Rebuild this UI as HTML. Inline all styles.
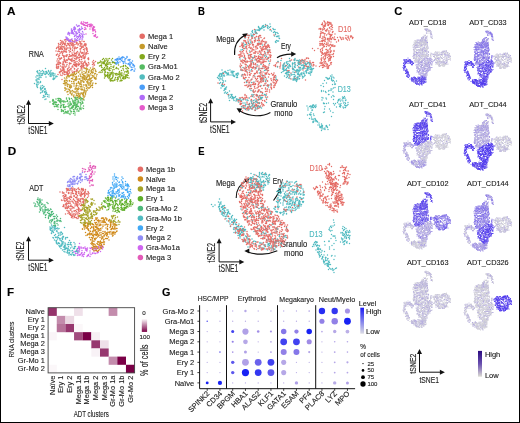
<!DOCTYPE html><html><head><meta charset="utf-8"><style>
html,body{margin:0;padding:0;background:#fff;width:520px;height:423px;overflow:hidden}
svg{display:block;font-family:"Liberation Sans", sans-serif;will-change:transform}
text{stroke:currentColor;stroke-width:0.12px}
</style></head><body>
<svg width="520" height="423" viewBox="0 0 520 423">
<rect x="0" y="0" width="520" height="423" fill="#fff"/>
<text x="7.0" y="14.9" font-size="11" fill="#000" color="#000" font-weight="bold" textLength="8.5" lengthAdjust="spacingAndGlyphs">A</text>
<text x="198.1" y="15.0" font-size="11" fill="#000" color="#000" font-weight="bold" textLength="6.9" lengthAdjust="spacingAndGlyphs">B</text>
<text x="394.3" y="14.5" font-size="11" fill="#000" color="#000" font-weight="bold" textLength="8.1" lengthAdjust="spacingAndGlyphs">C</text>
<text x="7.7" y="155.4" font-size="11" fill="#000" color="#000" font-weight="bold" textLength="8.5" lengthAdjust="spacingAndGlyphs">D</text>
<text x="198.3" y="155.0" font-size="11" fill="#000" color="#000" font-weight="bold" textLength="6.3" lengthAdjust="spacingAndGlyphs">E</text>
<text x="7.1" y="296.0" font-size="11" fill="#000" color="#000" font-weight="bold" textLength="7.1" lengthAdjust="spacingAndGlyphs">F</text>
<text x="162.0" y="296.0" font-size="11" fill="#000" color="#000" font-weight="bold" textLength="8.4" lengthAdjust="spacingAndGlyphs">G</text>
<path d="M28.5 123.5V103.8M28.5 123.5H49.8" stroke="#111" stroke-width="1"/>
<path d="M26.0 104.8L28.5 99.8L31.0 104.8Z" fill="#111"/>
<path d="M48.8 121.0L53.8 123.5L48.8 126.0Z" fill="#111"/>
<text x="24.6" y="114.7" font-size="10.0" text-anchor="middle" fill="#222" color="#222" textLength="19.2" lengthAdjust="spacingAndGlyphs" transform="rotate(-90 24.6 114.7)">tSNE2</text>
<text x="28.3" y="133.8" font-size="10.0" fill="#222" color="#222" textLength="19.1" lengthAdjust="spacingAndGlyphs">tSNE1</text>
<path d="M210.6 121.9V102.3M210.6 121.9H232.0" stroke="#111" stroke-width="1"/>
<path d="M208.1 103.3L210.6 98.3L213.1 103.3Z" fill="#111"/>
<path d="M231.0 119.4L236.0 121.9L231.0 124.4Z" fill="#111"/>
<text x="206.5" y="113.0" font-size="10.0" text-anchor="middle" fill="#222" color="#222" textLength="20.1" lengthAdjust="spacingAndGlyphs" transform="rotate(-90 206.5 113.0)">tSNE2</text>
<text x="210.0" y="132.6" font-size="10.0" fill="#222" color="#222" textLength="19.6" lengthAdjust="spacingAndGlyphs">tSNE1</text>
<path d="M28.5 260.2V240.3M28.5 260.2H49.8" stroke="#111" stroke-width="1"/>
<path d="M26.0 241.3L28.5 236.3L31.0 241.3Z" fill="#111"/>
<path d="M48.8 257.7L53.8 260.2L48.8 262.7Z" fill="#111"/>
<text x="24.0" y="251.0" font-size="10.0" text-anchor="middle" fill="#222" color="#222" textLength="19.1" lengthAdjust="spacingAndGlyphs" transform="rotate(-90 24.0 251.0)">tSNE2</text>
<text x="28.3" y="270.6" font-size="10.0" fill="#222" color="#222" textLength="19.1" lengthAdjust="spacingAndGlyphs">tSNE1</text>
<path d="M219.1 261.9V242.3M219.1 261.9H240.3" stroke="#111" stroke-width="1"/>
<path d="M216.6 243.3L219.1 238.3L221.6 243.3Z" fill="#111"/>
<path d="M239.3 259.4L244.3 261.9L239.3 264.4Z" fill="#111"/>
<text x="215.3" y="252.7" font-size="10.0" text-anchor="middle" fill="#222" color="#222" textLength="19.5" lengthAdjust="spacingAndGlyphs" transform="rotate(-90 215.3 252.7)">tSNE2</text>
<text x="218.7" y="271.9" font-size="10.0" fill="#222" color="#222" textLength="19.7" lengthAdjust="spacingAndGlyphs">tSNE1</text>
<path d="M419.5 372.2V352.9M419.5 372.2H440.9" stroke="#111" stroke-width="1"/>
<path d="M417.0 353.9L419.5 348.9L422.0 353.9Z" fill="#111"/>
<path d="M439.9 369.7L444.9 372.2L439.9 374.7Z" fill="#111"/>
<text x="416.0" y="363.6" font-size="9.0" text-anchor="middle" fill="#222" color="#222" textLength="20.1" lengthAdjust="spacingAndGlyphs" transform="rotate(-90 416.0 363.6)">tSNE2</text>
<text x="419.5" y="382.6" font-size="9.0" fill="#222" color="#222" textLength="19.5" lengthAdjust="spacingAndGlyphs">tSNE1</text>
<text x="28.8" y="56.7" font-size="8.4" fill="#1a1a1a" color="#1a1a1a" textLength="15.0" lengthAdjust="spacingAndGlyphs">RNA</text>
<circle cx="142.2" cy="36.3" r="2.75" fill="#E46C66"/>
<text x="148.1" y="38.7" font-size="7.5" fill="#1a1a1a" color="#1a1a1a">Mega 1</text>
<circle cx="142.2" cy="46.5" r="2.75" fill="#C59A2B"/>
<text x="148.1" y="48.9" font-size="7.5" fill="#1a1a1a" color="#1a1a1a">Naïve</text>
<circle cx="142.2" cy="56.7" r="2.75" fill="#83A81D"/>
<text x="148.1" y="59.1" font-size="7.5" fill="#1a1a1a" color="#1a1a1a">Ery 2</text>
<circle cx="142.2" cy="66.9" r="2.75" fill="#55BB62"/>
<text x="148.1" y="69.3" font-size="7.5" fill="#1a1a1a" color="#1a1a1a">Gra-Mo1</text>
<circle cx="142.2" cy="77.1" r="2.75" fill="#52BCBE"/>
<text x="148.1" y="79.5" font-size="7.5" fill="#1a1a1a" color="#1a1a1a">Gra-Mo 2</text>
<circle cx="142.2" cy="87.3" r="2.75" fill="#4A9DF8"/>
<text x="148.1" y="89.7" font-size="7.5" fill="#1a1a1a" color="#1a1a1a">Ery 1</text>
<circle cx="142.2" cy="97.5" r="2.75" fill="#B06BF8"/>
<text x="148.1" y="99.9" font-size="7.5" fill="#1a1a1a" color="#1a1a1a">Mega 2</text>
<circle cx="142.2" cy="107.7" r="2.75" fill="#E55BCB"/>
<text x="148.1" y="110.1" font-size="7.5" fill="#1a1a1a" color="#1a1a1a">Mega 3</text>
<text x="29.3" y="191.2" font-size="8.4" fill="#1a1a1a" color="#1a1a1a" textLength="14.1" lengthAdjust="spacingAndGlyphs">ADT</text>
<circle cx="140.4" cy="169.3" r="2.75" fill="#E46C66"/>
<text x="146.1" y="171.7" font-size="7.5" fill="#1a1a1a" color="#1a1a1a">Mega 1b</text>
<circle cx="140.4" cy="179.1" r="2.75" fill="#D08A1A"/>
<text x="146.1" y="181.5" font-size="7.5" fill="#1a1a1a" color="#1a1a1a">Naïve</text>
<circle cx="140.4" cy="188.9" r="2.75" fill="#A5A226"/>
<text x="146.1" y="191.3" font-size="7.5" fill="#1a1a1a" color="#1a1a1a">Mega 1a</text>
<circle cx="140.4" cy="198.7" r="2.75" fill="#5DAE28"/>
<text x="146.1" y="201.1" font-size="7.5" fill="#1a1a1a" color="#1a1a1a">Ery 1</text>
<circle cx="140.4" cy="208.5" r="2.75" fill="#4DB87A"/>
<text x="146.1" y="210.9" font-size="7.5" fill="#1a1a1a" color="#1a1a1a">Gra-Mo 2</text>
<circle cx="140.4" cy="218.3" r="2.75" fill="#4FBAC0"/>
<text x="146.1" y="220.7" font-size="7.5" fill="#1a1a1a" color="#1a1a1a">Gra-Mo 1b</text>
<circle cx="140.4" cy="228.1" r="2.75" fill="#40A8F5"/>
<text x="146.1" y="230.5" font-size="7.5" fill="#1a1a1a" color="#1a1a1a">Ery 2</text>
<circle cx="140.4" cy="237.9" r="2.75" fill="#8F8CF5"/>
<text x="146.1" y="240.3" font-size="7.5" fill="#1a1a1a" color="#1a1a1a">Mega 2</text>
<circle cx="140.4" cy="247.7" r="2.75" fill="#CF66F0"/>
<text x="146.1" y="250.1" font-size="7.5" fill="#1a1a1a" color="#1a1a1a">Gra-Mo1a</text>
<circle cx="140.4" cy="257.5" r="2.75" fill="#E35BB8"/>
<text x="146.1" y="259.9" font-size="7.5" fill="#1a1a1a" color="#1a1a1a">Mega 3</text>
<text x="216.2" y="42.0" font-size="8.4" fill="#1a1a1a" color="#1a1a1a" textLength="18.4" lengthAdjust="spacingAndGlyphs">Mega</text>
<text x="281.0" y="48.6" font-size="8.4" fill="#1a1a1a" color="#1a1a1a" textLength="9.9" lengthAdjust="spacingAndGlyphs">Ery</text>
<text x="270.4" y="107.0" font-size="8.4" fill="#1a1a1a" color="#1a1a1a" textLength="26.9" lengthAdjust="spacingAndGlyphs">Granulo</text>
<text x="274.2" y="115.8" font-size="8.4" fill="#1a1a1a" color="#1a1a1a" textLength="18.5" lengthAdjust="spacingAndGlyphs">mono</text>
<text x="337.9" y="31.7" font-size="8.4" fill="#E46C66" color="#E46C66" textLength="13.6" lengthAdjust="spacingAndGlyphs">D10</text>
<text x="337.7" y="91.5" font-size="8.4" fill="#4FBAC0" color="#4FBAC0" textLength="13.1" lengthAdjust="spacingAndGlyphs">D13</text>
<path d="M234.6 55C234 46 238 39 244.5 35.5" fill="none" stroke="#111" stroke-width="1.1"/>
<path d="M247.7 33.2L245.1 38.2L242.1 33.9Z" fill="#111"/>
<path d="M277 57.7C281 55 286 54 292 54.1" fill="none" stroke="#111" stroke-width="1.1"/>
<path d="M296.2 54.1L291.2 56.7L291.2 51.5Z" fill="#111"/>
<path d="M270.4 112.4C262 117 250 117 240 111" fill="none" stroke="#111" stroke-width="1.1"/>
<path d="M236.5 108.2L242.1 108.4L239.5 113.0Z" fill="#111"/>
<text x="216.0" y="185.6" font-size="8.4" fill="#1a1a1a" color="#1a1a1a" textLength="18.9" lengthAdjust="spacingAndGlyphs">Mega</text>
<text x="272.8" y="183.6" font-size="8.4" fill="#1a1a1a" color="#1a1a1a" textLength="10.2" lengthAdjust="spacingAndGlyphs">Ery</text>
<text x="280.2" y="247.0" font-size="8.4" fill="#1a1a1a" color="#1a1a1a" textLength="26.9" lengthAdjust="spacingAndGlyphs">Granulo</text>
<text x="284.0" y="255.6" font-size="8.4" fill="#1a1a1a" color="#1a1a1a" textLength="19.3" lengthAdjust="spacingAndGlyphs">mono</text>
<text x="309.5" y="170.7" font-size="8.4" fill="#E46C66" color="#E46C66" textLength="13.1" lengthAdjust="spacingAndGlyphs">D10</text>
<text x="309.2" y="236.9" font-size="8.4" fill="#4FBAC0" color="#4FBAC0" textLength="13.4" lengthAdjust="spacingAndGlyphs">D13</text>
<path d="M236.2 198C236 190 240 184 246.5 180.5" fill="none" stroke="#111" stroke-width="1.1"/>
<path d="M249.7 178.5L246.8 183.4L244.1 178.9Z" fill="#111"/>
<path d="M273.5 200.5C276 197 278 194 279 191.5" fill="none" stroke="#111" stroke-width="1.1"/>
<path d="M280.6 187.7L281.3 193.3L276.4 191.5Z" fill="#111"/>
<path d="M277.3 250.8C268 255 256 255 248 252" fill="none" stroke="#111" stroke-width="1.1"/>
<path d="M244.3 251.0L249.3 248.4L249.3 253.6Z" fill="#111"/>
<text x="427.7" y="25.3" font-size="7.4" text-anchor="middle" fill="#1a1a1a" color="#1a1a1a" textLength="37.3" lengthAdjust="spacingAndGlyphs">ADT_CD18</text>
<text x="487.9" y="25.3" font-size="7.4" text-anchor="middle" fill="#1a1a1a" color="#1a1a1a" textLength="37.3" lengthAdjust="spacingAndGlyphs">ADT_CD33</text>
<text x="427.7" y="106.5" font-size="7.4" text-anchor="middle" fill="#1a1a1a" color="#1a1a1a" textLength="37.3" lengthAdjust="spacingAndGlyphs">ADT_CD41</text>
<text x="487.9" y="106.5" font-size="7.4" text-anchor="middle" fill="#1a1a1a" color="#1a1a1a" textLength="37.3" lengthAdjust="spacingAndGlyphs">ADT_CD44</text>
<text x="427.7" y="185.8" font-size="7.4" text-anchor="middle" fill="#1a1a1a" color="#1a1a1a" textLength="41.6" lengthAdjust="spacingAndGlyphs">ADT_CD102</text>
<text x="487.9" y="185.8" font-size="7.4" text-anchor="middle" fill="#1a1a1a" color="#1a1a1a" textLength="41.6" lengthAdjust="spacingAndGlyphs">ADT_CD144</text>
<text x="427.7" y="265.4" font-size="7.4" text-anchor="middle" fill="#1a1a1a" color="#1a1a1a" textLength="41.6" lengthAdjust="spacingAndGlyphs">ADT_CD163</text>
<text x="487.9" y="265.4" font-size="7.4" text-anchor="middle" fill="#1a1a1a" color="#1a1a1a" textLength="41.6" lengthAdjust="spacingAndGlyphs">ADT_CD326</text>
<defs><linearGradient id="gC" x1="0" y1="0" x2="0" y2="1"><stop offset="0" stop-color="#2a0a80"/><stop offset="0.5" stop-color="#6a50b0"/><stop offset="1" stop-color="#dcdcd4"/></linearGradient><linearGradient id="gF" x1="0" y1="0" x2="0" y2="1"><stop offset="0" stop-color="#ffffff"/><stop offset="1" stop-color="#7a0046"/></linearGradient><linearGradient id="gG" x1="0" y1="0" x2="0" y2="1"><stop offset="0" stop-color="#1a1af5"/><stop offset="1" stop-color="#dcdce4"/></linearGradient></defs>
<rect x="478" y="350.9" width="4" height="25.8" fill="url(#gC)"/>
<text x="484.9" y="357.0" font-size="7.2" fill="#1a1a1a" color="#1a1a1a" textLength="15.4" lengthAdjust="spacingAndGlyphs">High</text>
<text x="484.9" y="377.8" font-size="7.2" fill="#1a1a1a" color="#1a1a1a" textLength="13.8" lengthAdjust="spacingAndGlyphs">Low</text>
<rect x="48.10" y="307.70" width="8.70" height="8.20" fill="#95336b"/>
<rect x="74.05" y="307.70" width="8.70" height="8.20" fill="#efe0e9"/>
<rect x="108.65" y="307.70" width="8.70" height="8.20" fill="#c38cac"/>
<rect x="56.75" y="315.85" width="8.70" height="8.20" fill="#c38cac"/>
<rect x="65.40" y="315.85" width="8.70" height="8.20" fill="#ebd9e3"/>
<rect x="56.75" y="324.00" width="8.70" height="8.20" fill="#b67399"/>
<rect x="65.40" y="324.00" width="8.70" height="8.20" fill="#97386f"/>
<rect x="74.05" y="324.00" width="8.70" height="8.20" fill="#fbf7f9"/>
<rect x="48.10" y="332.15" width="8.70" height="8.20" fill="#faf5f8"/>
<rect x="74.05" y="332.15" width="8.70" height="8.20" fill="#a24c7e"/>
<rect x="82.70" y="332.15" width="8.70" height="8.20" fill="#7a0046"/>
<rect x="91.35" y="332.15" width="8.70" height="8.20" fill="#f7f0f4"/>
<rect x="91.35" y="340.30" width="8.70" height="8.20" fill="#97386f"/>
<rect x="100.00" y="340.30" width="8.70" height="8.20" fill="#efe0e9"/>
<rect x="91.35" y="348.45" width="8.70" height="8.20" fill="#f8f2f6"/>
<rect x="100.00" y="348.45" width="8.70" height="8.20" fill="#97386f"/>
<rect x="108.65" y="356.60" width="8.70" height="8.20" fill="#c38cac"/>
<rect x="117.30" y="356.60" width="8.70" height="8.20" fill="#7a0046"/>
<rect x="48.10" y="364.75" width="8.70" height="8.20" fill="#fbf7f9"/>
<rect x="125.95" y="364.75" width="8.70" height="8.20" fill="#7a0046"/>
<rect x="48.10" y="307.70" width="86.50" height="65.20" fill="none" stroke="#444" stroke-width="0.9"/>
<text x="44.9" y="313.7" font-size="7.4" text-anchor="end" fill="#222" color="#222">Naïve</text>
<text x="44.9" y="321.8" font-size="7.4" text-anchor="end" fill="#222" color="#222">Ery 1</text>
<text x="44.9" y="330.0" font-size="7.4" text-anchor="end" fill="#222" color="#222">Ery 2</text>
<text x="44.9" y="338.1" font-size="7.4" text-anchor="end" fill="#222" color="#222">Mega 1</text>
<text x="44.9" y="346.3" font-size="7.4" text-anchor="end" fill="#222" color="#222">Mega 2</text>
<text x="44.9" y="354.4" font-size="7.4" text-anchor="end" fill="#222" color="#222">Mega 3</text>
<text x="44.9" y="362.6" font-size="7.4" text-anchor="end" fill="#222" color="#222">Gr-Mo 1</text>
<text x="44.9" y="370.7" font-size="7.4" text-anchor="end" fill="#222" color="#222">Gr-Mo 2</text>
<text x="54.8" y="375.6" font-size="7.4" text-anchor="end" fill="#222" color="#222" transform="rotate(-90 54.8 375.6)">Naïve</text>
<text x="63.5" y="375.6" font-size="7.4" text-anchor="end" fill="#222" color="#222" transform="rotate(-90 63.5 375.6)">Ery 1</text>
<text x="72.1" y="375.6" font-size="7.4" text-anchor="end" fill="#222" color="#222" transform="rotate(-90 72.1 375.6)">Ery 2</text>
<text x="80.8" y="375.6" font-size="7.4" text-anchor="end" fill="#222" color="#222" transform="rotate(-90 80.8 375.6)">Mega 1a</text>
<text x="89.4" y="375.6" font-size="7.4" text-anchor="end" fill="#222" color="#222" transform="rotate(-90 89.4 375.6)">Mega 1b</text>
<text x="98.1" y="375.6" font-size="7.4" text-anchor="end" fill="#222" color="#222" transform="rotate(-90 98.1 375.6)">Mega 2</text>
<text x="106.7" y="375.6" font-size="7.4" text-anchor="end" fill="#222" color="#222" transform="rotate(-90 106.7 375.6)">Mega 3</text>
<text x="115.4" y="375.6" font-size="7.4" text-anchor="end" fill="#222" color="#222" transform="rotate(-90 115.4 375.6)">Gr-Mo 1a</text>
<text x="124.0" y="375.6" font-size="7.4" text-anchor="end" fill="#222" color="#222" transform="rotate(-90 124.0 375.6)">Gr-Mo 1b</text>
<text x="132.7" y="375.6" font-size="7.4" text-anchor="end" fill="#222" color="#222" transform="rotate(-90 132.7 375.6)">Gr-Mo 2</text>
<text x="13.7" y="339.6" font-size="7.6" text-anchor="middle" fill="#222" color="#222" textLength="36.0" lengthAdjust="spacingAndGlyphs" transform="rotate(-90 13.7 339.6)">RNA clusters</text>
<text x="73.7" y="417.1" font-size="8.4" fill="#222" color="#222" textLength="35.1" lengthAdjust="spacingAndGlyphs">ADT clusters</text>
<rect x="141.8" y="318.7" width="5.3" height="13.2" fill="url(#gF)"/>
<text x="144.0" y="315.4" font-size="6.2" text-anchor="middle" fill="#222" color="#222">0</text>
<text x="144.8" y="339.4" font-size="6.2" text-anchor="middle" fill="#222" color="#222" textLength="10.4" lengthAdjust="spacingAndGlyphs">100</text>
<text x="148.0" y="360.2" font-size="10.0" text-anchor="middle" fill="#222" color="#222" textLength="31.5" lengthAdjust="spacingAndGlyphs" transform="rotate(-90 148.0 360.2)">% of cells</text>
<circle cx="207.20" cy="311.00" r="0.65" fill="#bbafe7"/>
<circle cx="219.95" cy="311.00" r="0.65" fill="#bbafe7"/>
<circle cx="232.70" cy="311.00" r="0.65" fill="#bbafe7"/>
<circle cx="245.45" cy="311.00" r="1.20" fill="#b6a8e7"/>
<circle cx="258.20" cy="311.00" r="0.65" fill="#bbafe7"/>
<circle cx="270.95" cy="311.00" r="0.65" fill="#bbafe7"/>
<circle cx="283.70" cy="311.00" r="0.65" fill="#bbafe7"/>
<circle cx="296.45" cy="311.00" r="0.65" fill="#bbafe7"/>
<circle cx="309.20" cy="311.00" r="0.85" fill="#b6a8e7"/>
<circle cx="321.95" cy="311.00" r="3.20" fill="#262df3"/>
<circle cx="334.70" cy="311.00" r="3.20" fill="#3337f1"/>
<circle cx="347.45" cy="311.00" r="2.55" fill="#a593e6"/>
<circle cx="207.20" cy="321.27" r="0.75" fill="#4e4cee"/>
<circle cx="219.95" cy="321.27" r="0.65" fill="#bbafe7"/>
<circle cx="232.70" cy="321.27" r="0.65" fill="#bbafe7"/>
<circle cx="245.45" cy="321.27" r="0.65" fill="#bbafe7"/>
<circle cx="258.20" cy="321.27" r="0.65" fill="#bbafe7"/>
<circle cx="270.95" cy="321.27" r="0.65" fill="#bbafe7"/>
<circle cx="283.70" cy="321.27" r="0.65" fill="#bbafe7"/>
<circle cx="296.45" cy="321.27" r="0.65" fill="#bbafe7"/>
<circle cx="309.20" cy="321.27" r="0.65" fill="#bbafe7"/>
<circle cx="321.95" cy="321.27" r="2.55" fill="#9281e7"/>
<circle cx="334.70" cy="321.27" r="3.20" fill="#9281e7"/>
<circle cx="347.45" cy="321.27" r="3.40" fill="#1822f4"/>
<circle cx="207.20" cy="331.54" r="0.65" fill="#bbafe7"/>
<circle cx="219.95" cy="331.54" r="0.65" fill="#bbafe7"/>
<circle cx="232.70" cy="331.54" r="1.50" fill="#4142f0"/>
<circle cx="245.45" cy="331.54" r="3.10" fill="#b0a1e7"/>
<circle cx="258.20" cy="331.54" r="1.30" fill="#a08ce6"/>
<circle cx="270.95" cy="331.54" r="1.05" fill="#a593e6"/>
<circle cx="283.70" cy="331.54" r="2.75" fill="#8577e9"/>
<circle cx="296.45" cy="331.54" r="2.15" fill="#9281e7"/>
<circle cx="309.20" cy="331.54" r="2.75" fill="#1822f4"/>
<circle cx="321.95" cy="331.54" r="0.85" fill="#b6a8e7"/>
<circle cx="334.70" cy="331.54" r="1.70" fill="#b6a8e7"/>
<circle cx="347.45" cy="331.54" r="1.90" fill="#bbafe7"/>
<circle cx="207.20" cy="341.81" r="0.65" fill="#bbafe7"/>
<circle cx="219.95" cy="341.81" r="0.65" fill="#bbafe7"/>
<circle cx="232.70" cy="341.81" r="1.05" fill="#9281e7"/>
<circle cx="245.45" cy="341.81" r="2.35" fill="#b6a8e7"/>
<circle cx="258.20" cy="341.81" r="0.65" fill="#bbafe7"/>
<circle cx="270.95" cy="341.81" r="0.85" fill="#b6a8e7"/>
<circle cx="283.70" cy="341.81" r="3.40" fill="#4142f0"/>
<circle cx="296.45" cy="341.81" r="3.40" fill="#4142f0"/>
<circle cx="309.20" cy="341.81" r="2.55" fill="#a08ce6"/>
<circle cx="321.95" cy="341.81" r="0.65" fill="#bbafe7"/>
<circle cx="334.70" cy="341.81" r="0.80" fill="#b6a8e7"/>
<circle cx="347.45" cy="341.81" r="0.80" fill="#b6a8e7"/>
<circle cx="207.20" cy="352.08" r="0.65" fill="#bbafe7"/>
<circle cx="219.95" cy="352.08" r="0.80" fill="#6a62ec"/>
<circle cx="232.70" cy="352.08" r="0.85" fill="#ab9ae6"/>
<circle cx="245.45" cy="352.08" r="1.50" fill="#b0a1e7"/>
<circle cx="258.20" cy="352.08" r="0.65" fill="#bbafe7"/>
<circle cx="270.95" cy="352.08" r="0.85" fill="#ab9ae6"/>
<circle cx="283.70" cy="352.08" r="3.00" fill="#9281e7"/>
<circle cx="296.45" cy="352.08" r="3.00" fill="#8577e9"/>
<circle cx="309.20" cy="352.08" r="1.05" fill="#b0a1e7"/>
<circle cx="321.95" cy="352.08" r="0.65" fill="#bbafe7"/>
<circle cx="334.70" cy="352.08" r="0.90" fill="#b6a8e7"/>
<circle cx="347.45" cy="352.08" r="0.80" fill="#b6a8e7"/>
<circle cx="207.20" cy="362.35" r="0.65" fill="#bbafe7"/>
<circle cx="219.95" cy="362.35" r="0.65" fill="#bbafe7"/>
<circle cx="232.70" cy="362.35" r="1.70" fill="#5c57ed"/>
<circle cx="245.45" cy="362.35" r="3.40" fill="#b0a1e7"/>
<circle cx="258.20" cy="362.35" r="3.40" fill="#6a62ec"/>
<circle cx="270.95" cy="362.35" r="3.40" fill="#4142f0"/>
<circle cx="283.70" cy="362.35" r="2.55" fill="#b6a8e7"/>
<circle cx="296.45" cy="362.35" r="0.65" fill="#bbafe7"/>
<circle cx="309.20" cy="362.35" r="0.65" fill="#bbafe7"/>
<circle cx="321.95" cy="362.35" r="0.65" fill="#bbafe7"/>
<circle cx="334.70" cy="362.35" r="0.90" fill="#b6a8e7"/>
<circle cx="347.45" cy="362.35" r="1.10" fill="#b6a8e7"/>
<circle cx="207.20" cy="372.62" r="0.65" fill="#bbafe7"/>
<circle cx="219.95" cy="372.62" r="0.65" fill="#bbafe7"/>
<circle cx="232.70" cy="372.62" r="1.70" fill="#5c57ed"/>
<circle cx="245.45" cy="372.62" r="3.60" fill="#1822f4"/>
<circle cx="258.20" cy="372.62" r="3.40" fill="#3337f1"/>
<circle cx="270.95" cy="372.62" r="3.40" fill="#5c57ed"/>
<circle cx="283.70" cy="372.62" r="2.55" fill="#b6a8e7"/>
<circle cx="296.45" cy="372.62" r="0.65" fill="#bbafe7"/>
<circle cx="309.20" cy="372.62" r="0.65" fill="#bbafe7"/>
<circle cx="321.95" cy="372.62" r="0.65" fill="#bbafe7"/>
<circle cx="334.70" cy="372.62" r="0.90" fill="#b6a8e7"/>
<circle cx="347.45" cy="372.62" r="0.90" fill="#b6a8e7"/>
<circle cx="207.20" cy="382.89" r="1.45" fill="#1822f4"/>
<circle cx="219.95" cy="382.89" r="2.10" fill="#1822f4"/>
<circle cx="232.70" cy="382.89" r="0.65" fill="#bbafe7"/>
<circle cx="245.45" cy="382.89" r="0.65" fill="#bbafe7"/>
<circle cx="258.20" cy="382.89" r="0.65" fill="#bbafe7"/>
<circle cx="270.95" cy="382.89" r="0.65" fill="#bbafe7"/>
<circle cx="283.70" cy="382.89" r="0.65" fill="#bbafe7"/>
<circle cx="296.45" cy="382.89" r="1.70" fill="#b0a1e7"/>
<circle cx="309.20" cy="382.89" r="0.65" fill="#bbafe7"/>
<circle cx="321.95" cy="382.89" r="0.65" fill="#bbafe7"/>
<circle cx="334.70" cy="382.89" r="1.70" fill="#b8abe7"/>
<circle cx="347.45" cy="382.89" r="1.50" fill="#b0a1e7"/>
<path d="M199.6 305.2V388.7H355.1" fill="none" stroke="#111" stroke-width="1"/>
<path d="M226.5 305.2V388.7" stroke="#111" stroke-width="1"/>
<path d="M277.5 305.2V388.7" stroke="#111" stroke-width="1"/>
<path d="M315.7 305.2V388.7" stroke="#111" stroke-width="1"/>
<path d="M197.4 311.00H199.6" stroke="#111" stroke-width="0.8"/>
<text x="194.3" y="313.6" font-size="7.5" text-anchor="end" fill="#222" color="#222">Gra-Mo 2</text>
<path d="M197.4 321.27H199.6" stroke="#111" stroke-width="0.8"/>
<text x="194.3" y="323.9" font-size="7.5" text-anchor="end" fill="#222" color="#222">Gra-Mo1</text>
<path d="M197.4 331.54H199.6" stroke="#111" stroke-width="0.8"/>
<text x="194.3" y="334.1" font-size="7.5" text-anchor="end" fill="#222" color="#222">Mega 3</text>
<path d="M197.4 341.81H199.6" stroke="#111" stroke-width="0.8"/>
<text x="194.3" y="344.4" font-size="7.5" text-anchor="end" fill="#222" color="#222">Mega 2</text>
<path d="M197.4 352.08H199.6" stroke="#111" stroke-width="0.8"/>
<text x="194.3" y="354.7" font-size="7.5" text-anchor="end" fill="#222" color="#222">Mega 1</text>
<path d="M197.4 362.35H199.6" stroke="#111" stroke-width="0.8"/>
<text x="194.3" y="365.0" font-size="7.5" text-anchor="end" fill="#222" color="#222">Ery 2</text>
<path d="M197.4 372.62H199.6" stroke="#111" stroke-width="0.8"/>
<text x="194.3" y="375.2" font-size="7.5" text-anchor="end" fill="#222" color="#222">Ery 1</text>
<path d="M197.4 382.89H199.6" stroke="#111" stroke-width="0.8"/>
<text x="194.3" y="385.5" font-size="7.5" text-anchor="end" fill="#222" color="#222">Naïve</text>
<path d="M207.20 388.7V390.9" stroke="#111" stroke-width="0.8"/>
<text x="210.0" y="394.0" font-size="7.5" text-anchor="end" fill="#222" color="#222" transform="rotate(-45 210.0 394.0)">SPINK2</text>
<path d="M219.95 388.7V390.9" stroke="#111" stroke-width="0.8"/>
<text x="222.8" y="394.0" font-size="7.5" text-anchor="end" fill="#222" color="#222" transform="rotate(-45 222.8 394.0)">CD34</text>
<path d="M232.70 388.7V390.9" stroke="#111" stroke-width="0.8"/>
<text x="235.5" y="394.0" font-size="7.5" text-anchor="end" fill="#222" color="#222" transform="rotate(-45 235.5 394.0)">BPGM</text>
<path d="M245.45 388.7V390.9" stroke="#111" stroke-width="0.8"/>
<text x="248.2" y="394.0" font-size="7.5" text-anchor="end" fill="#222" color="#222" transform="rotate(-45 248.2 394.0)">HBA1</text>
<path d="M258.20 388.7V390.9" stroke="#111" stroke-width="0.8"/>
<text x="261.0" y="394.0" font-size="7.5" text-anchor="end" fill="#222" color="#222" transform="rotate(-45 261.0 394.0)">ALAS2</text>
<path d="M270.95 388.7V390.9" stroke="#111" stroke-width="0.8"/>
<text x="273.8" y="394.0" font-size="7.5" text-anchor="end" fill="#222" color="#222" transform="rotate(-45 273.8 394.0)">KLF1</text>
<path d="M283.70 388.7V390.9" stroke="#111" stroke-width="0.8"/>
<text x="286.5" y="394.0" font-size="7.5" text-anchor="end" fill="#222" color="#222" transform="rotate(-45 286.5 394.0)">GATA1</text>
<path d="M296.45 388.7V390.9" stroke="#111" stroke-width="0.8"/>
<text x="299.2" y="394.0" font-size="7.5" text-anchor="end" fill="#222" color="#222" transform="rotate(-45 299.2 394.0)">ESAM</text>
<path d="M309.20 388.7V390.9" stroke="#111" stroke-width="0.8"/>
<text x="312.0" y="394.0" font-size="7.5" text-anchor="end" fill="#222" color="#222" transform="rotate(-45 312.0 394.0)">PF4</text>
<path d="M321.95 388.7V390.9" stroke="#111" stroke-width="0.8"/>
<text x="324.8" y="394.0" font-size="7.5" text-anchor="end" fill="#222" color="#222" transform="rotate(-45 324.8 394.0)">PLAC8</text>
<path d="M334.70 388.7V390.9" stroke="#111" stroke-width="0.8"/>
<text x="337.5" y="394.0" font-size="7.5" text-anchor="end" fill="#222" color="#222" transform="rotate(-45 337.5 394.0)">LYZ</text>
<path d="M347.45 388.7V390.9" stroke="#111" stroke-width="0.8"/>
<text x="350.2" y="394.0" font-size="7.5" text-anchor="end" fill="#222" color="#222" transform="rotate(-45 350.2 394.0)">MPO</text>
<text x="197.7" y="301.3" font-size="7.2" fill="#222" color="#222" textLength="30.8" lengthAdjust="spacingAndGlyphs">HSC/MPP</text>
<text x="237.7" y="301.2" font-size="7.2" fill="#222" color="#222" textLength="28.3" lengthAdjust="spacingAndGlyphs">Erythroid</text>
<text x="279.3" y="301.5" font-size="7.2" fill="#222" color="#222" textLength="34.7" lengthAdjust="spacingAndGlyphs">Megakaryo</text>
<text x="318.7" y="301.5" font-size="7.2" fill="#222" color="#222" textLength="36.7" lengthAdjust="spacingAndGlyphs">Neut/Myelo</text>
<text x="358.7" y="306.1" font-size="7.2" fill="#222" color="#222" textLength="17.7" lengthAdjust="spacingAndGlyphs">Level</text>
<rect x="360.3" y="307.7" width="3.7" height="26" fill="url(#gG)"/>
<text x="366.0" y="314.4" font-size="7.2" fill="#222" color="#222" textLength="15.6" lengthAdjust="spacingAndGlyphs">High</text>
<text x="366.0" y="334.2" font-size="7.2" fill="#222" color="#222" textLength="13.8" lengthAdjust="spacingAndGlyphs">Low</text>
<text x="360.3" y="349.4" font-size="6.4" fill="#222" color="#222">%</text>
<text x="360.3" y="357.3" font-size="6.4" fill="#222" color="#222" textLength="19.5" lengthAdjust="spacingAndGlyphs">of cells</text>
<circle cx="363" cy="363.6" r="0.70" fill="#000"/>
<text x="367.4" y="365.6" font-size="6.0" fill="#222" color="#222">25</text>
<circle cx="363" cy="370.4" r="1.30" fill="#000"/>
<text x="367.4" y="372.4" font-size="6.0" fill="#222" color="#222">50</text>
<circle cx="363" cy="377.2" r="1.90" fill="#000"/>
<text x="367.4" y="379.2" font-size="6.0" fill="#222" color="#222">75</text>
<circle cx="363" cy="384.0" r="2.65" fill="#000"/>
<text x="367.4" y="386.0" font-size="6.0" fill="#222" color="#222">100</text>
<path transform="scale(.5)" d="M205 119h0m11-1h0m3-1h0m6 0h0m-10 6h0m-8 4h0m13-2h0m0 3h0m5-3h0m2 0h0m25 8h0m-1-2h0m-29 2h0m-7 0h0m-3-1h0m-9 2h0m0-3h0m1 4h0m3 3h0m8 0h0m3 0h0m4-1h0m5-2h0m5 2h0m14 0h0m8 1h0m-2 5h0m-9-2h0m-34 0h0m-3-1h0m-4 5h0m16 1h0m6 0h0m3 0h0m13 1h0m17-1h0m-1 5h0m-2-1h0m-1 2h0m-10-1h0m-1 1h0m-15-2h0m-2 0h0m-5 3h0m-5-2h0m-5 1h0m0-1h0m8 6h0m6 0h0m1-2h0m10 0h0m1 3h0m11-1h0m3-1h0m5-1h0m-27 6h0" stroke="#83A81D" stroke-width="2.96" stroke-linecap="round"/>
<path transform="scale(.5)" d="M121 81h0m6 3h0m8-4h0m3 0h0m14 1h0m8 3h0m11 5h0m-9 0h0m-2-2h0m-6 0h0m0-2h0m-1 2h0m0-2h0m-3 4h0m-4-2h0m-2 1h0m0-3h0m-14 2h0m-5 2h0m0-1h0m2 6h0m6-3h0m7 3h0m2-4h0m5 2h0m14 0h0m3 1h0m4-2h0m4-1h0m-2 7h0m-3 2h0m-7-1h0m-8-1h0m-6-1h0m-5 1h0m-8 1h0m-1-2h0m-3 1h0m-8 1h0m0-3h0m-2 3h0m-1-1h0m-1 5h0m6 1h0m2 1h0m3-3h0m13 2h0m20 1h0m13-3h0m-1 5h0m-14 2h0m-1-2h0m-4 0h0m-3 1h0m-6 2h0m-1-3h0m-22-1h0m-9 5h0m15 2h0m7-2h0m4 3h0m2-1h0m5-1h0m5 0h0m1 0h0m5-1h0m4 2h0m2 2h0m5-1h0m9 3h0m-18 3h0m-6-3h0m-1 3h0m-8-2h0m-7 0h0m-9-2h0m1 7h0m4-2h0m9 0h0m7 1h0m9 0h0m2 2h0m12 5h0m-6 0h0m-1 0h0m-1 0h0m-5 0h0m-2 1h0m-15-2h0m-1 0h0m-2-1h0m-5 3h0m-20 4h0m11 1h0m6 0h0m7-2h0m15 1h0m4-2h0m4 2h0m3 0h0m0 0h0m3-2h0m0 2h0m1 2h0m-4 1h0m-2 2h0m-20-1h0m-2 2h0m-13-2h0m-1-2h0m-1 3h0m-11-1h0m25 3h0m1 0h0m14 2h0m1-2h0m-10 5h0m-8 3h0m-4 0h0m-4 1h0m-3-1h0m0-2h0m-10 3h0" stroke="#E46C66" stroke-width="2.96" stroke-linecap="round"/>
<path transform="scale(.5)" d="M245 114h0m15 5h0m-6-4h0m-10 1h0m-9 1h0m-1 1h0m-9 5h0m18-2h0m1-1h0m14 1h0m2 3h0m6 5h0m-6-4h0m-3 3h0m-21-1h0m-4-1h0m-1 0h0m29 6h0m6-1h0m-3 8h0" stroke="#4A9DF8" stroke-width="2.96" stroke-linecap="round"/>
<path transform="scale(.5)" d="M82 143h0m10 0h0m10-2h0m2 8h0m-7 0h0m-6 0h0m-2-1h0m-11-1h0m-6 7h0m2-3h0m4-1h0m2 0h0m0 2h0m0 2h0m21-2h0m1 1h0m7 4h0m-2 2h0m0-3h0m-29 0h0m3 7h0m-3 3h0m-5 3h0m9 3h0m8 7h0m-4 2h0m0 0h0m3 3h0m4 3h0m0-2h0m-2 3h0m-3 6h0m2 5h0" stroke="#52BCBE" stroke-width="2.96" stroke-linecap="round"/>
<path transform="scale(.5)" d="M131 79h0m37 4h0m-4-1h0m-12 2h0m-3-2h0m-1 1h0m-7-3h0m-10 4h0m-7-1h0m4 4h0m1 2h0m13-3h0m15 2h0m5-1h0m7 2h0m-2 5h0m-3-2h0m-4 0h0m-4-2h0m-6 4h0m-4-3h0m-22 2h0m-7 2h0m7 1h0m0 1h0m5 0h0m20 0h0m13 0h0m1-2h0m1 0h0m9 4h0m-12 3h0m-22 2h0m-7 0h0m0-2h0m-4 1h0m-1 1h0m-11-1h0m-1 5h0m24 1h0m14-4h0m10 1h0m1-1h0m0 2h0m2-2h0m1 3h0m2 0h0m2 0h0m1-2h0m1-1h0m3 2h0m-15 6h0m-11 0h0m-1-3h0m-6 2h0m0-1h0m-3 1h0m-8 0h0m-4 0h0m-3-2h0m-12 0h0m7 7h0m1 0h0m8 2h0m9-1h0m11-1h0m7-2h0m0 2h0m3-2h0m7 1h0m1 0h0m2 1h0m8 2h0m-7 3h0m-1 2h0m-5-1h0m-20-2h0m-1-1h0m-12 2h0m-4 2h0m-9-2h0m-1 0h0m-1 7h0m2 0h0m9-3h0m7-1h0m16 4h0m2-2h0m2 1h0m3-2h0m5 0h0m5 0h0m0 2h0m4-2h0m5 4h0m-1 0h0m-3 0h0m-7 2h0m-2-1h0m-9-1h0m-1 3h0m-1-1h0m0-2h0m-1 2h0m-1-2h0m-1 1h0m-25 3h0m-7-1h0m-4 2h0m14 1h0m15 2h0m21-3h0m5 1h0m-18 7h0m-2 0h0m-12 0h0m-5 1h0m-12 0h0m10 1h0m6 0h0m0 6h0m-11 0h0m-3-1h0" stroke="#E46C66" stroke-width="2.96" stroke-linecap="round"/>
<path transform="scale(.5)" d="M172 137h0m2 2h0m7-3h0m-23 7h0m-14 5h0m5-1h0m28-2h0m9 0h0m5 2h0m2 5h0m-15 1h0m0-1h0m-8 1h0m-1-2h0m-7 2h0m-9 0h0m-9-3h0m-5 2h0m-1 2h0m-3-2h0m-2 2h0m1 2h0m9 1h0m3 2h0m7 0h0m16-3h0m0 3h0m12-2h0m0 0h0m0 1h0m3-3h0m8 1h0m-13 4h0m-4 4h0m-9-4h0m-3 2h0m-14-2h0m-2 3h0m-17-2h0m-1 2h0m-2 4h0m8 1h0m25-2h0m2 2h0m14 0h0m2-3h0m14 2h0m-9 4h0m-1 0h0m-8 3h0m-1-3h0m-1 1h0m-11 1h0m-8-1h0m-5 0h0m-13 1h0m-3-3h0m-2 0h0m0 5h0m2 4h0m4-1h0m14 0h0m7 1h0m5 0h0m2-1h0m12-2h0m9-1h0m-10 5h0m-6 2h0m0-2h0m-5 0h0m-10 0h0m-2 3h0m-12-1h0m-1-2h0m1 6h0m14 1h0m3 0h0m0 2h0m7-2h0m1 2h0m2-1h0m3-3h0m0 7h0m-10-2h0m-16 0h0m6 5h0m1 0h0m2 3h0" stroke="#C59A2B" stroke-width="2.96" stroke-linecap="round"/>
<path transform="scale(.5)" d="M129 80h0m3 2h0m6 1h0m10 1h0m23 5h0m-1-2h0m-6 1h0m-24-2h0m-3 3h0m-2-2h0m-4 1h0m-3-1h0m-7-1h0m-3 3h0m-1-2h0m-1 7h0m1-2h0m6 0h0m13-2h0m7 0h0m2 0h0m21 4h0m5-2h0m3 6h0m-1-3h0m-12 3h0m-8-2h0m-12 3h0m0-2h0m-6-1h0m-10 3h0m-1-1h0m-1-2h0m-10 1h0m10 6h0m7 0h0m3 1h0m15 0h0m7-1h0m20 0h0m-22 5h0m-3-1h0m-1 0h0m-31 3h0m8 1h0m2 2h0m4-1h0m1-2h0m17 2h0m5 2h0m3-3h0m4 2h0m3-1h0m1-1h0m5 1h0m6 7h0m0-2h0m-1 0h0m0 0h0m-6-2h0m-7 4h0m0-4h0m-11 2h0m-11 2h0m-1 0h0m-2 0h0m-9-1h0m-6-2h0m-2 2h0m-3-2h0m-3 2h0m16 5h0m3-2h0m14 3h0m6-1h0m16 1h0m8 4h0m-1-3h0m-14 1h0m-13-1h0m-2 4h0m0 0h0m0-1h0m-1 1h0m-8-2h0m-11 2h0m-3-1h0m-4-1h0m-2-1h0m-1-1h0m-4 4h0m12 1h0m1 4h0m6-2h0m11 2h0m7-4h0m17 1h0m6 1h0m-18 5h0m-7 1h0m-13-1h0m-1 1h0m-7-2h0m-1 3h0m-10-3h0m4 7h0m1-3h0m0 0h0m1 2h0m2-1h0m2 1h0m2 1h0m6-3h0m2 1h0m7 1h0m-5 4h0m-3 1h0m-1 0h0m-10-1h0m-5 0h0m-1-1h0m18 5h0m-13 9h0" stroke="#E46C66" stroke-width="2.96" stroke-linecap="round"/>
<path transform="scale(.5)" d="M270 138h0m-8 3h0" stroke="#4A9DF8" stroke-width="2.96" stroke-linecap="round"/>
<path transform="scale(.5)" d="M91 137h0m10 7h0m-1 0h0m-8 0h0m-17-2h0m7 5h0m12-2h0m0 2h0m7 2h0m3-3h0m2 0h0m1 1h0m2 10h0m-3 1h0m-28 1h0m-2-2h0m0 0h0m0 7h0m-2 2h0m0 5h0m13 3h0m1-1h0m2 4h0m-1 1h0m-14-3h0m7 5h0m3 3h0m6 6h0m-1-4h0m-8 0h0m-1 1h0m9 7h0m8-3h0" stroke="#52BCBE" stroke-width="2.96" stroke-linecap="round"/>
<path transform="scale(.5)" d="M170 137h0m15 2h0m1-2h0m3 0h0m-3 7h0m-3-4h0m-1 2h0m-4 2h0m-32 4h0m5 1h0m6-4h0m10 3h0m14-1h0m9 0h0m-5 4h0m-3-1h0m-7 3h0m0-1h0m-14-2h0m-13 0h0m-1 1h0m-3 0h0m-12 7h0m19-2h0m1 3h0m1-4h0m3 3h0m8-2h0m1-1h0m1 3h0m6-3h0m1 3h0m1-3h0m3 4h0m1 0h0m4-2h0m7 0h0m-5 4h0m-9-1h0m-1 4h0m-6 0h0m-6-3h0m-1 1h0m-22 0h0m-9 2h0m-1-1h0m19 5h0m8-2h0m1-1h0m0 1h0m5-1h0m0 4h0m13-3h0m6 1h0m0 1h0m4 0h0m0 3h0m-4 2h0m-3-2h0m-5 0h0m-3-1h0m-4 4h0m-3-4h0m-9 1h0m-1-1h0m-1 2h0m-9 2h0m-2 0h0m-2-2h0m2 4h0m10 2h0m3-1h0m1 2h0m2-3h0m16 1h0m7-2h0m-8 9h0m0-1h0m-16 1h0m-11-3h0m-1 6h0m14 0h0m3 1h0m6-3h0m-9 8h0m-2-1h0m-3-2h0m4 6h0m11-1h0" stroke="#C59A2B" stroke-width="2.96" stroke-linecap="round"/>
<path transform="scale(.5)" d="M90 183h0" stroke="#52BCBE" stroke-width="2.96" stroke-linecap="round"/>
<path transform="scale(.5)" d="M201 122h0m1 1h0m7-3h0m4 0h0m13 4h0m3 1h0m-12 3h0m-6 1h0m-2-2h0m-2-1h0m0-1h0m-1 2h0m5 4h0m1-1h0m1 1h0m31 2h0m3-2h0m-10 7h0m-18-2h0m-4 0h0m-2 0h0m-13 8h0m5 0h0m14-3h0m20 2h0m0 1h0m10 0h0m7-2h0m0 1h0m-16 6h0m-2-1h0m0-2h0m-1 3h0m-6-1h0m-10 1h0m-5-3h0m-1 3h0m-5 0h0m1 3h0m4 1h0m3-3h0m14 0h0m7 2h0m1 2h0m8-1h0m0 1h0m3 0h0m0 3h0m-3 1h0m-2-3h0m0 0h0m-10 3h0m-14 3h0m2 0h0m18 0h0m1 0h0" stroke="#83A81D" stroke-width="2.96" stroke-linecap="round"/>
<path transform="scale(.5)" d="M163 44h0m4 0h0m9 5h0m-2-3h0m-1 0h0m-1 0h0m-1 0h0m-1-1h0m-3 3h0m-1 0h0m-2 0h0m-2-1h0m0-1h0m5 4h0m2 0h0m4 1h0" stroke="#E55BCB" stroke-width="2.96" stroke-linecap="round"/>
<path transform="scale(.5)" d="M246 114h0m12 5h0m-10-4h0m-5 0h0m-2 4h0m0-1h0m0-1h0m-1 0h0m-4 0h0m-2 1h0m-3 1h0m-1 1h0m3 0h0m3 0h0m4 4h0m8-1h0m2-3h0m-3 6h0m-11-1h0m-4 3h0" stroke="#4A9DF8" stroke-width="2.96" stroke-linecap="round"/>
<path transform="scale(.5)" d="M164 47h0m11-2h0m3 4h0m1 0h0m6 1h0m-2 2h0m-2-1h0m-10 0h0m-2-1h0m11 8h0m5 1h0m5 1h0m-4 1h0m0 6h0m5 5h0m-3 0h0" stroke="#E55BCB" stroke-width="2.96" stroke-linecap="round"/>
<path transform="scale(.5)" d="M206 124h0m2 0h0m2-1h0m6-2h0m7-1h0m2 5h0m-3 4h0m-4-4h0m-4 2h0m-6 0h0m-5 1h0m-3-3h0m-1 0h0m-3 2h0m30 7h0m2-2h0m24 5h0m-18 0h0m-6 2h0m-9-3h0m-14 3h0m-2 2h0m17 0h0m27-1h0m6 4h0m2-2h0m1 4h0m-12 0h0m-2 0h0m-18 1h0m-1-2h0m-1 3h0m-7-3h0m-5 0h0m-1 3h0m2 5h0m7-1h0m2-1h0m6 2h0m8-3h0m10 0h0m8 1h0m6 5h0m-6-1h0m-5 0h0m-6 1h0m-7 3h0m-11-2h0m-2 2h0m0-1h0m-2-3h0m-10 1h0m12 6h0m3-1h0m11 1h0m5 0h0" stroke="#83A81D" stroke-width="2.96" stroke-linecap="round"/>
<path transform="scale(.5)" d="M259 120h0m6 2h0m2 7h0m-3-2h0m-1-2h0m-2 3h0m-2 0h0m-2-1h0m-1 1h0m3 2h0m1 0h0m2 4h0m5-4h0m1 1h0m0 3h0m1-2h0m-4 7h0m-1-4h0m4 7h0m1 0h0" stroke="#4A9DF8" stroke-width="2.96" stroke-linecap="round"/>
<path transform="scale(.5)" d="M143 58h0m1 6h0m-1-2h0m-7 6h0m1-3h0m2 2h0m3-1h0m2 1h0m1-2h0m8 3h0m15 1h0m-3 2h0m-1 2h0m-4-1h0m-1 0h0m-1 0h0m-1 2h0m-24 4h0m1-3h0m0 4h0m1-1h0m15 0h0m9 0h0m3 0h0m-4 2h0m-5 0h0m-12 3h0m-1 0h0" stroke="#B06BF8" stroke-width="2.96" stroke-linecap="round"/>
<path transform="scale(.5)" d="M173 136h0m19 7h0m-13-3h0m-1 0h0m-5 0h0m-5 3h0m-8-2h0m-18 8h0m11-2h0m7 1h0m4-2h0m6 1h0m4 1h0m11-2h0m9 3h0m-6 3h0m-2 0h0m-7 2h0m0-4h0m-2 1h0m-5 1h0m-5-1h0m-2 3h0m-8-2h0m-7 1h0m-4 1h0m-5-3h0m-4 1h0m-8 4h0m23 1h0m7 1h0m8-2h0m2 1h0m1 0h0m3 1h0m6-1h0m12-1h0m0 2h0m-9 4h0m-1 2h0m-10-4h0m-4 4h0m-3-3h0m-7 2h0m-5-2h0m-1-1h0m-8 3h0m-8-1h0m-6-1h0m0 6h0m1-1h0m3 0h0m5 3h0m6-2h0m4 0h0m24 2h0m6 0h0m-15 4h0m-5-1h0m-15 0h0m-3 0h0m-10 5h0m8 2h0m20-2h0m4-1h0m7 0h0m9 0h0m-10 6h0m-14 0h0m-6 1h0m-2 1h0m-7-4h0m-3 3h0m-1 0h0m-5-2h0m11 5h0m9-1h0m16 3h0m1 3h0m-1 1h0m-7 1h0m-4-2h0m-2 0h0m-5 3h0m-1-2h0m7 3h0m8 1h0m0 1h0m4 2h0" stroke="#C59A2B" stroke-width="2.96" stroke-linecap="round"/>
<path transform="scale(.5)" d="M158 52h0m6 5h0m-14 0h0m0-1h0m-2-1h0m-3 6h0m0 2h0m4-1h0m4 2h0m3-4h0m3 4h0m6-1h0m-1 6h0m-5-4h0m-12 3h0m-1-3h0m-1 0h0m5 6h0m10 1h0m6 2h0m-1 4h0m-28 0h0m-2 0h0m4 3h0m3 1h0m3 1h0m8-3h0m2 1h0" stroke="#B06BF8" stroke-width="2.96" stroke-linecap="round"/>
<path transform="scale(.5)" d="M133 196h0m0 2h0m17-3h0m1 0h0m2 4h0m12-2h0m0 7h0m-8-2h0m-1 2h0m0-1h0m-4 1h0m-1-3h0m-1 0h0m-22 2h0m-1 1h0m-3-2h0m-18-1h0m1 7h0m0 0h0m0 1h0m14-4h0m1 3h0m4 1h0m2 0h0m10-3h0m4 1h0m7-2h0m0 3h0m15-1h0m2-1h0m-5 6h0m-8 0h0m-1 2h0m-5-3h0m-3 3h0m-4-3h0m-25-1h0m-3 3h0m4 6h0m13-4h0m1 0h0m13 0h0m1 2h0m1-2h0m2 4h0m4-4h0m0 2h0m1-2h0m7 3h0m-1 4h0m-10-2h0m-20 7h0m5-2h0m5 2h0" stroke="#55BB62" stroke-width="2.96" stroke-linecap="round"/>
<path transform="scale(.5)" d="M149 54h0m4-4h0m2 3h0m1-1h0m7 2h0m2 3h0m-6 2h0m0-2h0m-11 2h0m-1-1h0m3 5h0m7-3h0m2 0h0m3 7h0m-8 0h0m-4 1h0m-14 0h0m3 2h0m10 3h0m3-2h0m3 2h0m2 1h0m3-3h0m5 3h0m-4 1h0m-18 4h0m-4 3h0m1-1h0" stroke="#B06BF8" stroke-width="2.96" stroke-linecap="round"/>
<path transform="scale(.5)" d="M180 49h0m7 4h0m-4-3h0m-1 4h0m-2-2h0m-5 1h0m-6 6h0m1-4h0m1 3h0m1 0h0m19 11h0m-19-1h0m17 3h0m2-1h0m4 4h0m-2 1h0" stroke="#E55BCB" stroke-width="2.96" stroke-linecap="round"/>
<path transform="scale(.5)" d="M182 48h0m7 6h0m-7-4h0m-3 3h0m-4-2h0m10 6h0m1-2h0m1 3h0m1-3h0m3 9h0m0-1h0m-2-3h0m-2 0h0m-1 2h0m4 11h0m0 0h0" stroke="#E55BCB" stroke-width="2.96" stroke-linecap="round"/>
<path transform="scale(.5)" d="M74 143h0m11-2h0m2 2h0m1 1h0m18 4h0m-4-1h0m-8-1h0m-2 1h0m-16 5h0m7-1h0m2-1h0m15 2h0m7 0h0m5 0h0m1 1h0m-31 2h0m-10 5h0m2 0h0m7 5h0m-7 8h0m16 5h0m-5-2h0m-3 3h0m-1-4h0m4 9h0m5-1h0m5 6h0m-3-1h0m-5 3h0m1 1h0m7 1h0m-3 5h0m-6-3h0" stroke="#52BCBE" stroke-width="2.96" stroke-linecap="round"/>
<path transform="scale(.5)" d="M132 74h0" stroke="#B06BF8" stroke-width="2.96" stroke-linecap="round"/>
<path transform="scale(.5)" d="M196 125h0" stroke="#83A81D" stroke-width="2.96" stroke-linecap="round"/>
<path transform="scale(.5)" d="M106 199h0m10-2h0m5 1h0m0 0h0m1 1h0m16-3h0m1 1h0m16-2h0m8 2h0m1 5h0m-18 2h0m-14-1h0m-8 0h0m-17 1h0m-7 0h0m7 3h0m3 1h0m1 1h0m25-1h0m11-1h0m4 1h0m2 1h0m1-1h0m2-2h0m4-1h0m1 0h0m-4 8h0m-3 0h0m-2 1h0m-2-3h0m-5 1h0m-7 2h0m-2-1h0m-4 0h0m-2 1h0m-3-1h0m-6-1h0m-6 0h0m-6 1h0m14 6h0m39 0h0m5-2h0m-10 5h0m-3 0h0m-11 1h0m-2-1h0m-5 0h0m-3 2h0m-6-1h0m0-1h0m8 4h0m12 1h0m3-1h0m0 4h0" stroke="#55BB62" stroke-width="2.96" stroke-linecap="round"/>
<path transform="scale(.5)" d="M117 197h0m4 1h0m18 1h0m4-2h0m7 1h0m1-3h0m0 3h0m10-3h0m7 5h0m-11 4h0m-9 0h0m0-2h0m-3-2h0m-10 3h0m-5 1h0m-8-2h0m-2-1h0m-1 1h0m-2-1h0m-5 3h0m-6-4h0m-1 2h0m1 5h0m6 2h0m9-4h0m21 4h0m1 0h0m6-3h0m0 0h0m5 7h0m-2 1h0m0-3h0m-5 3h0m-1-1h0m-8-2h0m-15 0h0m-7 3h0m-3-1h0m0-3h0m-4 3h0m18 2h0m3 4h0m10-2h0m10 1h0m9-2h0m2 0h0m-14 7h0m-7-3h0m-4 4h0m-5-1h0m-5-2h0m-3 2h0m0-3h0m7 5h0" stroke="#55BB62" stroke-width="2.96" stroke-linecap="round"/>
<path transform="scale(.5)" d="M188 130h0" stroke="#E46C66" stroke-width="2.96" stroke-linecap="round"/>
<path transform="scale(.5)" d="M124 82h0m21-1h0m14 2h0m2 1h0m7-1h0m4 5h0m-10-1h0m-8 1h0m-8 0h0m-5-1h0m-3 1h0m-2-1h0m-9-1h0m-3-1h0m-1 1h0m-2 3h0m-1 4h0m6 0h0m3 1h0m1-4h0m3 2h0m6-1h0m6 3h0m3-4h0m21 0h0m2 0h0m3 8h0m-1-2h0m-18-1h0m-5 0h0m-12 1h0m-5 3h0m-3 0h0m-8-1h0m-1-2h0m-3 3h0m-4-4h0m-2 7h0m7 1h0m11 0h0m8-2h0m7-1h0m0 1h0m4-1h0m20 0h0m0 4h0m4 4h0m-14 1h0m-34-2h0m-5 0h0m-3 6h0m0 0h0m2-2h0m14 2h0m4 1h0m9-4h0m0 4h0m1-4h0m6 4h0m14-3h0m2 6h0m0-2h0m-10 0h0m-15 4h0m-21-3h0m-4 2h0m-5 4h0m12 2h0m0 0h0m2-4h0m1 1h0m5-1h0m1 0h0m7 1h0m2 2h0m3-2h0m4 3h0m34 0h0m2-3h0m4 2h0m-3 3h0m0-1h0m-1 2h0m-2 2h0m-12 0h0m0-2h0m-14 2h0m-5 0h0m-5 0h0m-10-1h0m-8-3h0m-10 1h0m-1-1h0m-3 1h0m-2 0h0m-2 3h0m0 3h0m4 2h0m4-2h0m8 0h0m16 0h0m1 2h0m28-2h0m1-1h0m11 3h0m3-4h0m-26 5h0m-14 2h0m-11-2h0m-17 3h0m-6-2h0m0 0h0m7 7h0m7-3h0m0 4h0m5-1h0m5 1h0m14-4h0m0 2h0m-5 3h0m-13 4h0m-2-4h0m-3 4h0" stroke="#E46C66" stroke-width="2.96" stroke-linecap="round"/>
<path transform="scale(.5)" d="M171 137h0m4 1h0m16 4h0m0-2h0m-4 0h0m-3 4h0m-1-2h0m0 0h0m-6 1h0m-4 1h0m0 0h0m0-2h0m-9 2h0m0-4h0m-10 4h0m-8 5h0m2-1h0m1-3h0m16 4h0m6-4h0m5 4h0m7-4h0m6 3h0m0 0h0m9-3h0m-12 9h0m-18-1h0m-7 0h0m-23-1h0m-2-1h0m9 6h0m5 2h0m10-1h0m6-3h0m16 2h0m7-2h0m3 3h0m-10 6h0m0-2h0m-6 0h0m-2 1h0m-7 1h0m0 0h0m-1-1h0m-18 1h0m-9-3h0m-6 0h0m-3 6h0m2-2h0m1 0h0m3 4h0m17-2h0m6 0h0m1 2h0m18-2h0m8-1h0m5 1h0m-24 3h0m-25 4h0m-1-4h0m-6 0h0m-3 7h0m7-2h0m12 1h0m1 0h0m2 1h0m11 2h0m13-3h0m-6 5h0m-4-1h0m-26 3h0m0-1h0m-1 2h0m-7 0h0m2 5h0m7 0h0m9-3h0m10 0h0m2 0h0m3 0h0m4 1h0m0 2h0m-3 4h0m-8 0h0m-1 1h0m0-3h0m-6 0h0m-5-1h0m19 8h0" stroke="#C59A2B" stroke-width="2.96" stroke-linecap="round"/>
<path transform="scale(.5)" d="M109 205h0m40 18h0" stroke="#55BB62" stroke-width="2.96" stroke-linecap="round"/>
<path transform="scale(.5)" d="M75 143h0m4-2h0m14 2h0m4-2h0m0 2h0m13 5h0m-3-1h0m-6 2h0m-2-2h0m0-1h0m-12 0h0m-2 1h0m-1 1h0m-4-2h0m-4 0h0m-1-1h0m17 9h0m12-3h0m4 0h0m3 3h0m3-1h0m-5 4h0m-35 1h0m-1 4h0m3 2h0m0 5h0m-7-2h0m16 4h0m0 5h0m-1 1h0m-3 0h0m11 5h0m6 12h0" stroke="#52BCBE" stroke-width="2.96" stroke-linecap="round"/>
<path transform="scale(.5)" d="M207 117h0m5 0h0m-2 4h0m-6 4h0m5 1h0m4 2h0m1-3h0m1 4h0m15-2h0m17 6h0m-6 1h0m-4-4h0m-26 0h0m-10 1h0m-2 1h0m9 6h0m1-3h0m1 4h0m2-1h0m21-3h0m22 0h0m2 2h0m-2 5h0m-30 2h0m0-4h0m-7 0h0m-7 4h0m-1-2h0m11 4h0m9 1h0m3 0h0m2 1h0m7 1h0m6-1h0m6 1h0m-3 4h0m0-3h0m-5 2h0m-3-1h0m-6 3h0m-18-4h0m-3 2h0m-3-1h0m3 4h0m5 4h0m9-1h0m1-3h0m5 3h0m9-1h0m-1 4h0m-2 0h0m0-1h0m-12 0h0m-1 0h0m-3 2h0m-6-2h0" stroke="#83A81D" stroke-width="2.96" stroke-linecap="round"/>
<path transform="scale(.5)" d="M112 198h0m5 0h0m2-1h0m35 1h0m0 1h0m5-2h0m3 2h0m-1 1h0m-5 0h0m-10 3h0m0-1h0m-6 1h0m-5-1h0m0-1h0m-7 1h0m-2 0h0m-5 0h0m-2 1h0m-3-2h0m-6 2h0m0 0h0m-3-2h0m-1 7h0m5-3h0m2 0h0m4 4h0m4-4h0m19 4h0m1-3h0m6 0h0m4 0h0m10 0h0m1 3h0m5 3h0m-11 1h0m-1-3h0m-6 0h0m-1 0h0m-2 3h0m-19-2h0m-5 3h0m-1 1h0m21 2h0m12 2h0m1-1h0m6-1h0m3-1h0m-28 7h0m-10-1h0m0-1h0m-3 1h0m9 4h0m8 3h0m2-3h0" stroke="#55BB62" stroke-width="2.96" stroke-linecap="round"/>
<path transform="scale(.5)" d="M238 114h0m16-1h0m-2 4h0m-2 1h0m-6-2h0m-4 2h0m-1 0h0m-1 1h0m-5 1h0m2 3h0m10 0h0m1 0h0m4 1h0m6-4h0m-4 7h0m0 0h0m-5 0h0m-11-2h0m-3 3h0m-1-3h0" stroke="#4A9DF8" stroke-width="2.96" stroke-linecap="round"/>
<path transform="scale(.5)" d="M158 51h0m4 8h0m-11-1h0m-1-2h0m-1 3h0m-6 1h0m14 4h0m3-4h0m6 6h0m-7 3h0m-4-2h0m-3-2h0m-6 2h0m0 0h0m-1-1h0m-7 0h0m-1-1h0m16 9h0m2 3h0m-5 1h0m-6 0h0m-10 1h0m0 0h0m-1-3h0m4 5h0m2 1h0m10 2h0m3-2h0" stroke="#B06BF8" stroke-width="2.96" stroke-linecap="round"/>
<path transform="scale(.5)" d="M824 160h0" stroke="#a092e6" stroke-width="2.48" stroke-linecap="round"/>
<path transform="scale(.5)" d="M821 119h0m-4 27h0m12 8h0m16 6h0m-1 1h0m-3 1h0m-8 0h0m0 5h0m4 0h0m13-2h0" stroke="#8575e9" stroke-width="2.48" stroke-linecap="round"/>
<path transform="scale(.5)" d="M819 119h0m-5 3h0m-5 0h0m7 5h0m6-2h0m5 1h0m-19 4h0m-1 2h0m6 6h0m0 3h0m-2 1h0m5 3h0m34 9h0m-22 0h0m-9-2h0m5 6h0m1-1h0m0 2h0m1-4h0m4 0h0m5 3h0m2-2h0m2-1h0m3 3h0m7 6h0m-2-2h0m-1 0h0m0-2h0m-1 0h0m-6 0h0m-1 3h0m-1-3h0m-3 3h0m-4-1h0m-2-2h0m5 6h0m0 0h0m10 1h0m1 1h0m2-1h0m1-1h0m-3 4h0" stroke="#503aee" stroke-width="2.48" stroke-linecap="round"/>
<path transform="scale(.5)" d="M823 156h0m0 1h0m2 0h0m2 2h0m3-1h0m2-1h0m0 0h0m1 0h0m3-2h0m2 4h0m5 0h0m2-1h0m1-3h0m1 1h0m0 2h0m1-1h0m3 1h0m0 6h0m-1-4h0m-4 2h0m0-1h0m-1 2h0m-1-3h0m-3 4h0m-1 0h0m-6-1h0m-1-2h0m-2 2h0m-4-2h0m-3-1h0m-1 0h0m5 5h0m5 4h0m2-1h0m1 0h0" stroke="#6b57eb" stroke-width="2.48" stroke-linecap="round"/>
<path transform="scale(.5)" d="M859 116h0m10 5h0m-12 1h0m-20 4h0m22 3h0m0 0h0m-1 2h0m-15 0h0m-9 2h0m-1 3h0m2 2h0m8 0h0m13 5h0m0-2h0m-17 3h0m13 5h0m1-4h0m-11 17h0" stroke="#a092e6" stroke-width="2.48" stroke-linecap="round"/>
<path transform="scale(.5)" d="M833 84h0m1-4h0m1 0h0m0 4h0m2-4h0m1 0h0m3 3h0m2-1h0m2 1h0m6 6h0m0-1h0m-2-3h0m-5 4h0m-1-2h0m-1 0h0m-5-2h0m-3 1h0m-1-1h0m-5 9h0m6-3h0m0 2h0m2 1h0m6-4h0m3 0h0m10 0h0m1 4h0m0 3h0m-7-2h0m-4 1h0m-11-1h0m-3 0h0m-4 4h0m6 1h0m5 4h0m1-3h0m1 0h0m1-1h0m5 3h0m4-2h0m1-1h0m3 2h0m2 2h0m1 5h0m0-4h0m-3 2h0m-9-2h0m-2 3h0m-2 0h0m0-2h0m-5 3h0m-1-2h0m-5 2h0m-1 0h0m0 0h0m-1 0h0m-1 2h0m1 3h0m1-3h0m4 1h0m4-1h0m2 2h0m3 0h0m9 1h0m1-3h0m0 1h0m3 1h0m1 0h0m-7 4h0m-3 1h0m-7 1h0m0-1h0m0 0h0m-5 0h0m-1-2h0m-6 1h0m3 7h0m7-1h0m1 1h0" stroke="#b1a7e1" stroke-width="2.48" stroke-linecap="round"/>
<path transform="scale(.5)" d="M848 82h0m-6 7h0m-4 5h0m4 5h0m-12-2h0m-1 3h0m0 4h0m24 0h0m-19 2h0m-2 2h0m-2 1h0m-4 4h0m1-2h0m7 2h0m5-2h0m23 5h0m-1 0h0m-6 0h0m-6 3h0m-5-3h0m-9 8h0m5 0h0m9-1h0m0 1h0m2-2h0m2-2h0m3 4h0m3-4h0m0 4h0m2-2h0m3-2h0m-1 9h0m-2-3h0m-3 3h0m-1-4h0m-2 3h0m-1-2h0m-1 3h0m-1-1h0m0-3h0m-1 2h0m-6 1h0m-3-1h0m-2-2h0m-2 1h0m-3 8h0m2-2h0m4 1h0m4-2h0m5 0h0m2 2h0m3-3h0m0 0h0m1 1h0m3 3h0m2 2h0m-4 0h0m-2 1h0m-5 2h0m0-2h0m-4 1h0m-3-3h0m-2 3h0m-2 0h0m-1-1h0m-2-2h0m-2 0h0m5 8h0m1-3h0m17 1h0m-6 7h0m-4-2h0m-3 1h0m-4 1h0m5 2h0m1 1h0m5 0h0m-1 4h0" stroke="#b1a7e1" stroke-width="2.48" stroke-linecap="round"/>
<path transform="scale(.5)" d="M855 119h0m5-1h0m-4 6h0m-1-3h0m-11 0h0m-2 3h0m7 3h0m10 2h0m2-4h0m-4 5h0m-20 7h0m1 0h0m14 0h0m-7 4h0m-3 3h0m-2-4h0m-1 1h0m-4 1h0" stroke="#a092e6" stroke-width="2.48" stroke-linecap="round"/>
<path transform="scale(.5)" d="M829 158h0m1-1h0m7 0h0m13-1h0m-3 6h0m-4-1h0m-13 2h0m3 3h0m7 3h0m6-4h0" stroke="#8575e9" stroke-width="2.48" stroke-linecap="round"/>
<path transform="scale(.5)" d="M875 104h0m-3 2h0m-1 3h0m-1 0h0m0-4h0m-1 3h0m-2 5h0m6-1h0m1 0h0m2-1h0m6-1h0m3 2h0m10 4h0m-1 3h0m-4-3h0m-2 3h0m-3-2h0m-2-2h0m-6 4h0m-2-3h0m-1 1h0m-2-2h0m-1 2h0m-11 2h0m-19 4h0m1 0h0m1-1h0m5-1h0m3 0h0m3 0h0m1 0h0m2 0h0m2 2h0m4 0h0m5-2h0m2-1h0m2 4h0m3-2h0m0 2h0m1-2h0m2 0h0m0 2h0m1-2h0m2 2h0m1-1h0m1 0h0m1 0h0m1 1h0m1-4h0m0 0h0m0 2h0m1 0h0m0 2h0m3-1h0m2-3h0m2 0h0m1 2h0m-1 6h0m0-3h0m-1 0h0m-1 2h0m-2 0h0m0-1h0m-1 3h0m-3-2h0m0-1h0m-3-1h0m-1 2h0m-3 1h0m-2-3h0m-1 0h0m-1 3h0m0-3h0m-3 1h0m-10 2h0m-2 0h0m-1 1h0m-4-1h0m-2-1h0m0-1h0m0-1h0m-2 3h0m-1-1h0m-4-1h0m-2 3h0m-1-4h0m-5 1h0m-2 3h0m-2 3h0m0 1h0m1 1h0m1-3h0m0 3h0m3-3h0m0 1h0m4 1h0m6-1h0m0 2h0m0 0h0m1-2h0m2-2h0m0 3h0m1 0h0m4 1h0m2-2h0m5-2h0m14 1h0m2 1h0m1-1h0m4-1h0m3 2h0m-28 6h0m-1 1h0m0-1h0m-5 1h0m0-2h0m-4-1h0m-10 1h0m-3 2h0m4 1h0m4 1h0m1 1h0m0 0h0m0 1h0m0 1h0m3-1h0m2 1h0m1-4h0m1 3h0m0 0h0m3-3h0m-2 9h0m0-1h0m0-3h0m-3 3h0m-5 0h0m-1-1h0m-4 1h0m-1-2h0m0-1h0m-2 4h0m6 4h0m5-1h0m5-1h0m-8 4h0" stroke="#c1bcdd" stroke-width="2.48" stroke-linecap="round"/>
<path transform="scale(.5)" d="M845 153h0m-1 3h0m-2 0h0m-9 1h0m-3 1h0m2 2h0m9 3h0m2-2h0m1 3h0m-6 5h0" stroke="#8575e9" stroke-width="2.48" stroke-linecap="round"/>
<path transform="scale(.5)" d="M871 103h0m2 1h0m4 0h0m8-1h0m2 1h0m0 0h0m0 0h0m4 0h0m2-3h0m1 5h0m-2 2h0m-1-1h0m0-1h0m-2 2h0m-2 0h0m0-3h0m-1 0h0m-1 4h0m0-3h0m-1 2h0m-4 1h0m-1-1h0m-1-2h0m-3 1h0m-1 2h0m-2-1h0m-1 0h0m0 0h0m-4 1h0m-1 1h0m3 1h0m4 2h0m1-2h0m1 0h0m8-1h0m1 0h0m6 4h0m3 0h0m1 1h0m-1 2h0m-6-2h0m-4 2h0m-2 1h0m0-3h0m-1 0h0m-3 0h0m-1 3h0m-3 1h0m0-2h0m-2 0h0m-1 1h0m2 6h0m1-4h0m0 1h0m2 0h0m3 0h0m0 3h0m2-3h0m8 1h0m0 0h0m6-2h0m-1 8h0m-1 0h0m0-1h0m0-2h0m-2 4h0m-2-3h0m-4 2h0m-5 1h0m-2-1h0m0-2h0m0-1h0m-1 4h0m0-3h0m0 0h0m-2-1h0m-2 4h0m5 2h0m1-1h0m0 0h0m0 2h0m4-2h0m0 1h0m2-1h0m1 0h0m0 2h0m2 0h0m1-1h0m0 1h0m1-1h0" stroke="#d2d1d8" stroke-width="2.48" stroke-linecap="round"/>
<path transform="scale(.5)" d="M814 120h0m-3 14h0" stroke="#8575e9" stroke-width="2.48" stroke-linecap="round"/>
<path transform="scale(.5)" d="M831 84h0m2 0h0m2-2h0m5-2h0m0 4h0m4-3h0m1 2h0m5-2h0m4 5h0m-3 3h0m-1-4h0m-1 3h0m-2-2h0m-1 3h0m0-4h0m-4 0h0m-3 2h0m-1-2h0m-2 3h0m-2 1h0m0-3h0m-4 2h0m0-2h0m-3 3h0m-1 5h0m4-4h0m1 1h0m3 3h0m2-2h0m5 1h0m3-3h0m5 4h0m1-4h0m5 0h0m0 2h0m0 0h0m0 5h0m0-1h0m-2 2h0m0-3h0m-2 2h0m-8 2h0m-4 0h0m-4-4h0m-7 0h0m-1 3h0m1 3h0m7 0h0m1 0h0m2 1h0m0 2h0m4-2h0m2-1h0m0 3h0m1-2h0m2 1h0m1-1h0m0 0h0m4-2h0m0 3h0m1-1h0m11 5h0m-2 2h0m0 0h0m0-3h0m-5-1h0m-4 3h0m-1 1h0m-2-1h0m-3 1h0m-2-1h0m-3-2h0m-1-1h0m-1 1h0m-3 0h0m-1-1h0m-2 0h0m-1 3h0m0 0h0m-4-1h0m-2 0h0m1 3h0m0 1h0m1 3h0m3 0h0m1-4h0m9 4h0m1-2h0m1-1h0m0 2h0m1-3h0m0 3h0m3-1h0m3 1h0m4-2h0m0 1h0m0 1h0m2-1h0m4-1h0m1 1h0m-5 6h0m-4-2h0m-3-1h0m0 0h0m-4 3h0m-6-1h0m-2-2h0m-5 1h0m-3 1h0m-2-1h0m-1-1h0m4 5h0m3 2h0m1-2h0m1 0h0m1 0h0m0 4h0m2-3h0m4 0h0m1-1h0m1 3h0m1-3h0m8 3h0m9 6h0m-1-3h0m-4 1h0m-5 2h0m-6-3h0m-2 3h0m-1-3h0m-12-1h0m2 7h0m13 1h0m1-3h0m15 0h0m-15 9h0m-7-4h0m-2 3h0m-5-3h0m0 6h0m16 0h0m3 4h0m-5 7h0m2 2h0m2-3h0" stroke="#c1bcdd" stroke-width="2.48" stroke-linecap="round"/>
<path transform="scale(.5)" d="M854 66h0m1 6h0" stroke="#d2d1d8" stroke-width="2.48" stroke-linecap="round"/>
<path transform="scale(.5)" d="M808 120h0m9 1h0m0 1h0m0 1h0m3-2h0m1 0h0m1 1h0m1 0h0m1 1h0m3 4h0m-3-1h0m-1 3h0m-3-3h0m-7-1h0m-1 0h0m-3 4h0m0 0h0m0-3h0m-2 5h0m1 0h0m1 2h0m1-3h0m-2 9h0m0-1h0m0-3h0m0 6h0m4 2h0m3-1h0m0 0h0m0 1h0m2 6h0m-1 0h0m-1-3h0m-2-1h0m-1 2h0m-1 0h0m3 4h0m0 2h0m2-1h0m2-2h0m1 0h0m-2 5h0" stroke="#503aee" stroke-width="2.48" stroke-linecap="round"/>
<path transform="scale(.5)" d="M850 57h0m0 2h0m5 0h0m1-1h0m6 6h0m-2-3h0m-1 2h0m0-1h0m-1 1h0m0-1h0m-2 1h0m0-3h0m-1 2h0m-1 0h0m-2-1h0m2 5h0m7-1h0m0 4h0m2-2h0m-12 4h0m0-1h0m-3 0h0m-1 4h0m-6 5h0m3 0h0m1-4h0m2 0h0m0 3h0m1 1h0m2-3h0m1 3h0m2-4h0m10 0h0m0 0h0m0 1h0m2 1h0m-10 5h0m-1-2h0m-2 3h0m-1 1h0m0 0h0m0 0h0m-4-2h0m-2-2h0m-2 0h0m-1 3h0m-1-3h0m-1 1h0m-2 4h0m1 2h0m0 1h0m0 1h0m1-1h0m0 0h0m1 0h0m3 0h0m0 0h0m4 1h0m0 0h0m1-4h0m2 4h0m1-3h0m0 2h0m-3 2h0m-3 2h0m-1-1h0m-2-1h0m-1 1h0m-1-1h0m43 14h0m14 5h0m-2 0h0m0-1h0m0-2h0m0-1h0m-8 1h0m-6 4h0m1 0h0m2 0h0m11 1h0m1 0h0m2 0h0m0 1h0m1-1h0m0 1h0m1 5h0m-1 2h0m0-4h0m-1 3h0m-1 0h0" stroke="#d2d1d8" stroke-width="2.48" stroke-linecap="round"/>
<path transform="scale(.5)" d="M841 154h0m3-1h0m7 2h0m-3 0h0m-1 3h0m-1-3h0m-1 1h0m0-1h0m-1 1h0m-1 1h0m-3 2h0m-1-1h0m0-2h0m-2 1h0m-3 1h0m-1 0h0m-2-1h0m-5 1h0m-3-2h0m0 4h0m3 0h0m8 0h0m0 3h0m5-2h0m2 2h0m1 0h0m1-2h0m0 2h0m1 1h0m1-1h0m0 0h0m0 0h0m2 1h0m2-2h0m0 1h0m-6 4h0m0-1h0m0-1h0m-4 1h0m-7 0h0m-1 0h0m8 4h0" stroke="#503aee" stroke-width="2.48" stroke-linecap="round"/>
<path transform="scale(.5)" d="M853 67h0m11 6h0" stroke="#c1bcdd" stroke-width="2.48" stroke-linecap="round"/>
<path transform="scale(.5)" d="M821 124h0" stroke="#6b57eb" stroke-width="2.48" stroke-linecap="round"/>
<path transform="scale(.5)" d="M810 119h0m3 0h0m12 5h0m-1-1h0m-2 1h0m-1 0h0m0-1h0m-1 0h0m-1-3h0m-2 0h0m-1 4h0m0-4h0m-1 3h0m-3-3h0m-1 2h0m-1 1h0m-3 4h0m1-2h0m3 1h0m0 1h0m1 0h0m8-1h0m1 1h0m2 2h0m1 0h0m2-2h0m-2 3h0m-13 3h0m-2 1h0m-2 3h0m2-1h0m1-1h0m4 9h0m-1 0h0m-2-3h0m2 5h0m2 0h0m1 0h0m1 2h0m1 4h0m-4 1h0m2 2h0" stroke="#503aee" stroke-width="2.48" stroke-linecap="round"/>
<path transform="scale(.5)" d="M830 81h0m0 3h0m6-3h0m2 1h0m1 2h0m4-1h0m2-2h0m4 2h0m4-1h0m1 5h0m0-1h0m0 0h0m0-1h0m-2 4h0m0-2h0m-1 2h0m-1-4h0m-6 1h0m-2 1h0m0-2h0m-4 1h0m-1 0h0m0-1h0m-2 0h0m-2 4h0m-2-2h0m-3 1h0m2 4h0m1-2h0m1 2h0m2-1h0m1-1h0m1 1h0m1 0h0m3 0h0m0 1h0m3-1h0m6 1h0m0 0h0m1-1h0m5 1h0m-5 5h0m-2 1h0m0-1h0m-1 2h0m0-4h0m-1 2h0m-1 1h0m-1-1h0m0 0h0m0 0h0m-3 1h0m0-1h0m-1-2h0m-3 4h0m-1 0h0m0-4h0m-1 0h0m-2 0h0m-1 0h0m-1 1h0m0-1h0m-4 4h0m0 5h0m2-1h0m1 1h0m3-4h0m0 2h0m1-1h0m7 3h0m1-4h0m2 1h0m1-1h0m0 4h0m3-4h0m1 0h0m0 1h0m1 1h0m1 1h0m1-3h0m1 1h0m4 2h0m0 0h0m0 1h0m-3 4h0m-5 0h0m-1-3h0m-2 2h0m-2 2h0m0-3h0m-4 0h0m0-1h0m-1 4h0m0-4h0m-1 0h0m-2 1h0m0-1h0m-1 3h0m-1-1h0m0-2h0m-4 5h0m2 0h0m2 1h0m2 2h0m4-3h0m2 1h0m1 0h0m0 0h0m2 1h0m1 0h0m0 2h0m2-2h0m1 2h0m1-4h0m2 1h0m0 1h0m0 2h0m2-3h0m-2 4h0m-1 1h0m-4 1h0m-4 0h0m-2-2h0m-1 1h0m-3 2h0m0-1h0m-4-2h0m0 0h0m-1 2h0m-1 2h0m0-1h0m-3-2h0m1 5h0m1-1h0m2 2h0m0 1h0m1-3h0m1 0h0m0 4h0m2-1h0m1-1h0m2 0h0m3 0h0m4-2h0m-9 5h0" stroke="#c1bcdd" stroke-width="2.48" stroke-linecap="round"/>
<path transform="scale(.5)" d="M832 81h0m0 2h0m8 1h0m2-3h0m7 2h0m3-1h0m1 5h0m-10 0h0m-10 2h0m-1-1h0m3 4h0m3-2h0m4 3h0m2 0h0m9 0h0m2 5h0m-7 0h0m-6 1h0m-10-1h0m-3-3h0m-1 6h0m3 2h0m48 1h0m3 5h0m-1 0h0m-1-1h0m-3 1h0m-3-3h0m-6 1h0m-7 1h0m-26 1h0m-5 4h0m13-2h0m3 0h0m9-1h0m6 0h0m0 4h0m1-2h0m7 1h0m2-3h0m0 0h0m0 0h0m1 0h0m1 1h0m0 1h0m1 1h0m1 1h0m2-4h0m1 4h0m11 0h0m3-1h0m-15 2h0m-3 1h0m-2 3h0m-2-4h0m-1 0h0m-14 3h0m-21 3h0m2 0h0m16 3h0m5-4h0m23 2h0m2 1h0m4 1h0m5-3h0m4-1h0m-2 6h0m-1 3h0m-2-1h0m-1 0h0m-1-2h0m-1 1h0m-12 0h0m-2-1h0m-37 1h0m9 4h0m2-1h0m7 1h0m2 2h0m1-3h0m21 2h0m1 0h0m2 0h0m4-2h0m3 2h0m2-2h0m-33 6h0m-18 9h0m1 1h0m6-1h0" stroke="#d2d1d8" stroke-width="2.48" stroke-linecap="round"/>
<path transform="scale(.5)" d="M850 59h0m2-2h0m1 1h0m1 1h0m8 5h0m0-1h0m-1-2h0m-1 1h0m-1-1h0m0-1h0m-1 1h0m0-1h0m-1 0h0m-1 2h0m-3-1h0m-1-1h0m-1 0h0m0 0h0m7 6h0m3 0h0m0 1h0m0 1h0m1-2h0m0 2h0m1 0h0m0 6h0m0 0h0m-9 0h0m-1-1h0m-2 1h0m-1-3h0m-1 1h0m-3 1h0m0 0h0m-3 2h0m0 3h0m1 1h0m1-2h0m0 1h0m1-2h0m0 1h0m1-2h0m1 4h0m2-3h0m0 3h0m1-4h0m0 2h0m2-1h0m1 2h0m8-3h0m3 1h0m-11 8h0m0 0h0m-1-2h0m0-1h0m-2 3h0m-2-3h0m0 0h0m-1 3h0m0-3h0m-1 3h0m-2-3h0m0 0h0m0-1h0m0 0h0m-1 1h0m0-1h0m-3 1h0m-1 0h0m-1 5h0m3 3h0m4-4h0m1 3h0m0 0h0m1-3h0m1 2h0m1-2h0m0 0h0m1 3h0m3-3h0m0 3h0m-6 2h0m-6 1h0m0-1h0m0 0h0m42 14h0m2-2h0m0 2h0m1 0h0m1-2h0m0 1h0m1-1h0m0 1h0m1-1h0m1 0h0m2 0h0m0 2h0m6 3h0m-4-1h0m0-1h0m-6 3h0m0-2h0m-4 2h0m-1-3h0m-1 1h0m0-1h0m-1 1h0m0-1h0m-2 4h0m-4 0h0m-1-3h0m-2 0h0m-5 3h0m7 1h0m6 3h0m9-3h0m2 0h0m3 0h0m0 0h0m1 2h0m0 0h0m0 1h0m4 0h0m1 0h0m-3 2h0m-1 4h0m-4-3h0m-3 2h0m-6-2h0m-7 3h0m-8 0h0m10 4h0m10 1h0m4-3h0m0 3h0m1-2h0m7-2h0m-5 8h0m-6-1h0m-3 2h0m-3-4h0m-4 2h0m-1 2h0m-6-3h0m6 6h0" stroke="#c1bcdd" stroke-width="2.48" stroke-linecap="round"/>
<path transform="scale(.5)" d="M838 154h0m13 3h0m-2 2h0m0-1h0m0 0h0m0-2h0m-2 3h0m-2 0h0m-2 0h0m-1-1h0m0-1h0m-2 2h0m-8-1h0m-1-3h0m-1 0h0m-2 1h0m0-1h0m-4 4h0m-1-3h0m-3 2h0m4 4h0m1-2h0m1 0h0m1 2h0m8 0h0m2 0h0m5 0h0m3 0h0m7 0h0m-9 7h0m-2-2h0m-1-1h0m-3 1h0m-6 0h0m0-2h0" stroke="#6b57eb" stroke-width="2.48" stroke-linecap="round"/>
<path transform="scale(.5)" d="M845 124h0m13 1h0m-15 0h0m2 6h0m10 2h0m4 3h0m-9 1h0m-16 7h0m4-1h0m2-2h0m7 0h0m8 1h0m-7 6h0m-11-3h0m0 0h0m6 6h0m2 0h0m7 2h0" stroke="#a092e6" stroke-width="2.48" stroke-linecap="round"/>
<path transform="scale(.5)" d="M808 119h0m8-3h0m7 7h0m-3-1h0m-1 2h0m-2-3h0m-1 1h0m-2-1h0m-1 2h0m0 0h0m-1 0h0m-2 1h0m-1-3h0m-1-1h0m2 8h0m1-3h0m13 0h0m0 4h0m1 0h0m1-3h0m-12 13h0m-2-1h0m-6-3h0m6 9h0m1-3h0m0 1h0m1-2h0m2 3h0m0 6h0m-2 1h0m32 3h0m-22 6h0m28 5h0m-15 5h0m-1-1h0" stroke="#6b57eb" stroke-width="2.48" stroke-linecap="round"/>
<path transform="scale(.5)" d="M844 142h0m2 11h0m-3-1h0m-17 10h0m1-1h0m1 2h0m5 0h0m12-2h0m1 1h0m-9 5h0" stroke="#8575e9" stroke-width="2.48" stroke-linecap="round"/>
<path transform="scale(.5)" d="M851 118h0m2-2h0m1 1h0m2 0h0m5 0h0m1 1h0m1 0h0m1 1h0m3 3h0m-4 1h0m0-1h0m-2-1h0m-1 0h0m0 0h0m0-1h0m-9 4h0m-5-3h0m-3 2h0m-6 2h0m3 4h0m1-4h0m1 4h0m9-1h0m0 1h0m5-3h0m0 1h0m3 2h0m2-2h0m-1 5h0m-1 2h0m-3-2h0m-1 1h0m-3 1h0m0 0h0m-3-4h0m-1 4h0m-4-4h0m-9 5h0m8 1h0m2-1h0m0 4h0m1-2h0m1-2h0m1 0h0m0 0h0m1 2h0m6 1h0m1-3h0m1 0h0m0 3h0m2-3h0m2 0h0m0 3h0m2-3h0m-3 6h0m-2-1h0m-1 1h0m-6 2h0m-6-1h0m-8 4h0m10 2h0m2 1h0m1-2h0m0 0h0m2 0h0m0 0h0m2-2h0m0 1h0m-2 6h0m-3 0h0m-1 0h0m0-1h0m-1 3h0m0-3h0m-2 0h0m-2-1h0m-2 0h0m11 5h0" stroke="#b1a7e1" stroke-width="2.48" stroke-linecap="round"/>
<path transform="scale(.5)" d="M851 59h0m3-1h0m1 0h0m-2 3h0m-6 13h0m14-2h0m-9 4h0m-6 0h0m-3 1h0m-2 3h0m10 0h0m0 2h0m4 3h0m-16 3h0m0 0h0m4 3h0m47 18h0m-7 0h0m-17 0h0m2 4h0m4-3h0m0 0h0m6 1h0m12 1h0m2-2h0m2 0h0m3 4h0m1-4h0m-19 8h0m-1-2h0m-2 1h0m-1 0h0m-4 1h0m-16-1h0m0 0h0m-7 3h0m13 1h0m3 2h0m16 1h0m8 0h0m5 1h0m-2 2h0m-3-2h0m-16 0h0m-8 3h0m0-2h0m-7 1h0m0-1h0m-4 3h0m-12-4h0m-2 1h0m-1 1h0m-1 2h0m5 1h0m1 3h0m2-2h0m5 1h0m2-1h0m1-1h0m11 5h0m-9 3h0m-6 1h0m-3-1h0m-9-2h0m-3 1h0m1 4h0m1 2h0m1 0h0m10 0h0m4 0h0m2 4h0m-2 2h0m-6-3h0m-6 2h0m2 2h0m4 3h0m2-3h0m2 0h0" stroke="#b1a7e1" stroke-width="2.48" stroke-linecap="round"/>
<path transform="scale(.5)" d="M836 154h0m9-1h0m4 1h0m3 5h0m0-3h0m-1 3h0m-4-1h0m-3 1h0m0 0h0m0-1h0m0-3h0m-1 3h0m-13 0h0m0-2h0m0-1h0m-1 2h0m0-2h0m-1 1h0m-5 3h0m0-2h0m1 5h0m2 0h0m5-2h0m0 1h0m7 0h0m1 3h0m1-4h0m1 0h0m7 4h0m0 2h0m0-1h0m-13 2h0m0-2h0m-1 3h0m-3-1h0" stroke="#6b57eb" stroke-width="2.48" stroke-linecap="round"/>
<path transform="scale(.5)" d="M854 85h0m-22 6h0m0-1h0m-3 2h0m16 8h0m5 2h0m-17 3h0m25 13h0m7 6h0m-28-2h0m-3 7h0m25 3h0m-27-2h0m16 12h0m5-1h0m-10 5h0m-1 0h0m9 10h0" stroke="#a092e6" stroke-width="2.48" stroke-linecap="round"/>
<path transform="scale(.5)" d="M853 64h0m10 5h0m1 1h0" stroke="#b1a7e1" stroke-width="2.48" stroke-linecap="round"/>
<path transform="scale(.5)" d="M816 145h0" stroke="#503aee" stroke-width="2.48" stroke-linecap="round"/>
<path transform="scale(.5)" d="M828 84h0m3-2h0m2 0h0m12 2h0m1 0h0m8 4h0m-1-2h0m-3 0h0m0-1h0m-1 3h0m-2-1h0m-1-2h0m-5 1h0m0-1h0m-1 2h0m-1 2h0m-3-2h0m-4-1h0m0-1h0m-2 4h0m-1-3h0m-1 3h0m-2 2h0m3-1h0m0 1h0m0 0h0m3 1h0m8-1h0m5 0h0m7 1h0m2-1h0m2 4h0m-1 2h0m-1 1h0m-2 0h0m0-2h0m-1 0h0m-8 0h0m-4-1h0m-7 4h0m-3 0h0m1 5h0m0 0h0m1-1h0m2-2h0m2-1h0m4 0h0m2 1h0m5 1h0m1 2h0m6 0h0m1-4h0m-4 9h0m0-4h0m-2 1h0m-7 0h0m-13 1h0m-1 7h0m5 0h0m3 0h0m4-4h0m1 0h0m3 1h0m1 1h0m1 0h0m0 2h0m1-3h0m1 0h0m1 0h0m2 2h0m1-2h0m0 0h0m0 3h0m3-4h0m2 2h0m1-1h0m-16 8h0m-3 0h0m-1-3h0m-4 1h0m0-2h0m-1 4h0m-1 0h0m-4-4h0m1 9h0m1-3h0m1 1h0m2 0h0m6 2h0m5-4h0" stroke="#d2d1d8" stroke-width="2.48" stroke-linecap="round"/>
<path transform="scale(.5)" d="M1009 108h0m0 1h0m1-2h0m2-1h0m-7 4h0m-1 0h0m-7 4h0m0-3h0m-4 2h0m0-1h0m-3 1h0m-2 0h0m15 4h0m2-2h0m0 4h0m11 5h0m-1-3h0m-9 0h0m-3 1h0m-8 4h0m2 0h0m3 2h0m1-1h0m10 2h0m4-4h0m0 7h0m0-2h0m-13 1h0m-1 2h0m-1 1h0m-6-1h0m7 3h0m8 0h0" stroke="#c1bcdd" stroke-width="2.48" stroke-linecap="round"/>
<path transform="scale(.5)" d="M967 95h0m17 27h0m-1-1h0m-1 3h0m0-1h0m-3 1h0m0-1h0m-6 0h0m-11 6h0m2-1h0m2-2h0m1 1h0m3-1h0m1 3h0m2 0h0m3-3h0m5 3h0m2-3h0m4 2h0m-2 6h0m0-1h0m-1-1h0m-3 2h0m-1-1h0m0-1h0m-2-1h0m0-1h0m-1 4h0m0-2h0m0 0h0m-1-2h0m-1 4h0m-2-2h0m-2-1h0m-1 3h0m-4-3h0m-2 2h0m-1-3h0m-3 2h0m0-2h0m-4 6h0m9 2h0m2-3h0m3 4h0m1-3h0m0 3h0m1-3h0m2 2h0m3 0h0m2-3h0m3 1h0m1 3h0m0 3h0m-6 0h0m-3 2h0m0-3h0m-2 1h0m0-1h0m-2 2h0m-3-3h0m-4 3h0m-1 1h0m-1-1h0m-2-3h0m-2 0h0m3 8h0m7-3h0m0 2h0m1-1h0m0 0h0m0 1h0m5 1h0m2-3h0m0 3h0m2-2h0m1 2h0m1-2h0m1-1h0m-4 5h0m-2 2h0m-1 1h0m-4-3h0m-2 2h0m-2-2h0m-2 4h0m-1-4h0m3 6h0m2-1h0m0 3h0m1-1h0m1-1h0m2 0h0m3-1h0m0 3h0m0 1h0" stroke="#503aee" stroke-width="2.48" stroke-linecap="round"/>
<path transform="scale(.5)" d="M975 69h0m3-2h0m9 14h0" stroke="#b1a7e1" stroke-width="2.48" stroke-linecap="round"/>
<path transform="scale(.5)" d="M930 124h0m2-1h0m2 1h0m1-1h0m1 1h0m2-3h0m3 3h0m2-1h0m4 5h0m-1-1h0m0 0h0m-1-1h0m-1 2h0m0-2h0m-1 2h0m0 0h0m0-1h0m0-2h0m-1 0h0m-3 0h0m-1 3h0m0-1h0m0-2h0m-1 3h0m-1-3h0m-1 4h0m0-1h0m0-1h0m-1 2h0m0-2h0m-1 2h0m0-3h0m-1 3h0m-1-3h0m-1 3h0m0-4h0m0 0h0m-1 7h0m2-2h0m0 3h0m0 1h0m2-4h0m0 2h0m9-2h0m0 1h0m1 0h0m2 2h0m0 1h0m1-4h0m0 4h0m1 0h0m1-3h0m0 0h0m1 0h0m-3 4h0m-13 3h0m0-1h0m-1-2h0m-1 3h0m0 0h0m-1 1h0m0-4h0m-1 0h0m0 6h0m1 2h0m0 1h0m1-3h0m3 2h0m1-1h0m1 2h0m2 4h0m-1-1h0m0 0h0m0-1h0m-1 3h0m-1 0h0m0-3h0m0-1h0m-5 0h0m3 7h0m1-1h0m1-1h0m0 1h0m3 2h0m0 1h0m1-3h0m0 2h0m0 0h0m1 1h0m1 0h0m-1 2h0m-2 0h0m-2 0h0m0-1h0m2 5h0" stroke="#503aee" stroke-width="2.48" stroke-linecap="round"/>
<path transform="scale(.5)" d="M941 123h0m5 6h0m-2 0h0m-2-2h0m-6-1h0m-5 1h0m-1 7h0m8-3h0m-9 6h0m-1 3h0m5 6h0m5 4h0m34 9h0m-2 0h0m-2-1h0m-8 1h0m-8 0h0m-2 0h0m-2 0h0m-6 4h0m3-3h0m0 1h0m0 3h0m1-1h0m0 1h0m1-2h0m0 0h0m0 1h0m0 1h0m3-3h0m1 1h0m1-2h0m0 1h0m1-1h0m2 2h0m2 0h0m2-1h0m0 3h0m2-2h0m3 0h0m0 0h0m0 0h0m1 2h0m1 0h0m1-1h0m0 1h0m1-4h0m0 4h0m1-4h0m0 3h0m1-2h0m1-1h0m0 3h0m0 0h0m2-2h0m0 7h0m-4 1h0m0-2h0m0 0h0m-1 2h0m0-2h0m-1 0h0m0 0h0m0-2h0m-2 0h0m-1 2h0m-1 2h0m0-3h0m-2 0h0m0-1h0m-1 2h0m-3 0h0m-1 1h0m0-1h0m0-2h0m-3 4h0m-1-3h0m-2 3h0m0-4h0m-4 1h0m0-1h0m7 6h0m2-1h0m0 1h0m0 0h0m2 2h0m2-2h0m2 3h0m1-3h0m3 1h0m0 1h0m1 0h0m2-2h0m4-1h0m-6 5h0" stroke="#503aee" stroke-width="2.48" stroke-linecap="round"/>
<path transform="scale(.5)" d="M976 70h0m10 8h0" stroke="#8575e9" stroke-width="2.48" stroke-linecap="round"/>
<path transform="scale(.5)" d="M976 63h0m8 5h0m-1-2h0m-2 2h0m0-2h0m0-1h0m-1 0h0m0 5h0m4 1h0m2 3h0m-3 2h0m-14 3h0m-6 5h0m4-1h0m1-3h0m2 3h0m6-1h0m11-1h0m-17 5h0m-4-1h0m-4 1h0m2 8h0m6 0h0m-3 1h0m-2 0h0m-1 0h0" stroke="#b1a7e1" stroke-width="2.48" stroke-linecap="round"/>
<path transform="scale(.5)" d="M992 109h0m5 0h0m5 4h0m-6-3h0m-2 4h0m0-4h0m-1 3h0m-2-1h0m-1-1h0m1 6h0m0 2h0m4-4h0m17 2h0m0 3h0m-2 3h0m-3-2h0m-8 2h0m0-3h0m-1 2h0m-4 1h0m-1 0h0m-2 3h0m1-1h0m5 2h0m0 2h0m3-1h0m8-3h0m0 1h0m1 3h0m5 5h0m0-3h0m-2 3h0m0-2h0m0-1h0m-2-1h0m-15 0h0m-1 0h0m6 6h0" stroke="#d2d1d8" stroke-width="2.48" stroke-linecap="round"/>
<path transform="scale(.5)" d="M957 84h0m18 3h0m-4 2h0m0-2h0m-3 2h0m0-1h0m-2-2h0m-15 8h0m4-1h0m1-3h0m1 4h0m1-2h0m3 2h0m4-2h0m1-2h0m3 1h0m2 1h0m3 0h0m2-1h0m-4 5h0m-1 3h0m-14 0h0m-1-1h0m0-3h0m-5 1h0m-2 8h0m0 0h0m5-4h0m1 0h0m6 3h0m2 0h0m1 1h0m6-3h0m7-1h0m2 9h0m0-2h0m-4-1h0m-2 1h0m-1-1h0m-2 3h0m-1-1h0m-6 0h0m-1-3h0m-1 1h0m0-1h0m-1 3h0m-4-3h0m-1 0h0m-3 3h0m0 0h0m9 6h0m1-4h0m8 1h0m1 1h0m5-1h0m3 5h0m-5-1h0m-1 3h0m-1 1h0m-2-2h0m-1-1h0m-2 0h0m-5-1h0m-5 4h0m-3 0h0m-5 0h0m0-1h0m22 3h0m2-1h0m-19 7h0m-2 2h0m2 1h0m5 0h0" stroke="#a092e6" stroke-width="2.48" stroke-linecap="round"/>
<path transform="scale(.5)" d="M964 95h0m-19 33h0m-3-1h0m-3 0h0m0 0h0m0-2h0m-7 8h0m2-1h0m12 1h0m3-2h0m-17 8h0m4 4h0m-1 2h0m-1 3h0m0-1h0m-1-2h0m4 6h0m0 0h0m1-1h0m29 8h0m-9 0h0m-7 1h0m-1 0h0m-9-2h0m-2 2h0m-3-1h0m0-1h0m10 5h0m3 1h0m3 0h0m2-2h0m0 0h0m0 1h0m1-1h0m5 2h0m5 0h0m1-2h0m1-1h0m1 0h0m1 2h0m2 1h0m1-3h0m1 2h0m1-2h0m0 3h0m0 6h0m0-3h0m-2-1h0m-1 4h0m-4-2h0m-1-1h0m-1-1h0m-3 3h0m-3-1h0m-3 1h0m-1-1h0m0-2h0m-1 0h0m-1 2h0m-1 1h0m-3-2h0m-1-1h0m7 6h0m0 2h0m3-1h0m1 0h0m0 1h0m3 0h0m1-2h0m6 0h0m1 0h0" stroke="#6b57eb" stroke-width="2.48" stroke-linecap="round"/>
<path transform="scale(.5)" d="M957 87h0m19 3h0m-10 4h0m-14-1h0m-4 6h0m2 0h0m8-2h0m-7 7h0m15 2h0m3 1h0m35 6h0m-11 1h0m-10-2h0m-11 0h0m-10-2h0m-7 2h0m15 4h0m25 1h0m1 0h0m-30 7h0m-16-4h0m11 5h0m37 4h0m10-1h0m9-3h0m-8 6h0" stroke="#b1a7e1" stroke-width="2.48" stroke-linecap="round"/>
<path transform="scale(.5)" d="M993 108h0m9 5h0m-2-3h0m-2 3h0m-3-2h0m-1 3h0m0 0h0m0-2h0m-2 1h0m-3 0h0m1 4h0m10-2h0m2 4h0m15 2h0m-5 2h0m-13 0h0m0-3h0m-4 2h0m-3 0h0m-1 1h0m3 5h0m5 1h0m7 0h0m4-3h0m0 1h0m5 1h0m3 5h0m-6-1h0m-3 1h0m-3 1h0m-7-2h0m-4-1h0m4 5h0m1-1h0m0 2h0m7 0h0m3-1h0m1 0h0" stroke="#d2d1d8" stroke-width="2.48" stroke-linecap="round"/>
<path transform="scale(.5)" d="M956 84h0m4 3h0m-1 2h0m0-4h0m-1 1h0m-3 3h0m-3 0h0m-2 0h0m1 1h0m2 2h0m7-2h0m3 1h0m13 1h0m1 2h0m-6 2h0m0 0h0m-9 1h0m-3-2h0m-6 4h0m-3 0h0m-2-4h0m3 8h0m16-1h0m3 2h0m4 0h0m2 3h0m0-2h0m-3 0h0m-1 4h0m0-3h0m-6-1h0m-5 4h0m-5 0h0m-1-4h0m-3 4h0m-3 0h0m2 4h0m14 0h0m1 0h0m2-1h0m11 1h0m0 2h0m-2 3h0m-1-3h0m-2 4h0m0-2h0m-3 1h0m-4-2h0m-2 0h0m0-1h0m-4 0h0m-3 2h0m-3-1h0m-1-1h0m-4 5h0m2 4h0m1-1h0m0 1h0m2-4h0m1 4h0m3-4h0m1 3h0m1 0h0m2 1h0m2-3h0m3 3h0m1-3h0m-8 6h0m-2 0h0m0 0h0m-5 0h0m0-1h0m-2 0h0" stroke="#a092e6" stroke-width="2.48" stroke-linecap="round"/>
<path transform="scale(.5)" d="M939 126h0m-1 24h0" stroke="#503aee" stroke-width="2.48" stroke-linecap="round"/>
<path transform="scale(.5)" d="M972 62h0m0 2h0m1 0h0m1 0h0m1-2h0m1 1h0m1 0h0m0 0h0m1-1h0m5 7h0m-3-4h0m-1 0h0m-1 1h0m0-1h0m-3 0h0m-1 1h0m9 4h0m0 1h0m2 1h0m0 7h0m0 0h0m0-1h0m-1 1h0m-8 0h0m-1 0h0m-2 0h0m0-4h0m-1 1h0m-2-1h0m-1 3h0m-1-1h0m-1 2h0m-2 0h0m0 3h0m1 1h0m0 1h0m1 0h0m1-2h0m4-1h0m0 0h0m1 0h0m0 2h0m0 1h0m12-4h0m0 0h0m-9 9h0m0-1h0m-2 0h0m-1 1h0m-1 0h0m-1 0h0m0-4h0m-2 3h0m0-2h0m-2 0h0m0-1h0m-3 2h0m-4 3h0m1 2h0m0 1h0m1-1h0m1 0h0m1 2h0m2-2h0m0 1h0m3-1h0m1 2h0m1 0h0m3-3h0m0 1h0m2 0h0m-11 3h0m-1 0h0" stroke="#a092e6" stroke-width="2.48" stroke-linecap="round"/>
<path transform="scale(.5)" d="M953 86h0m0 2h0m6 1h0m3-4h0m0 3h0m2 1h0m1-3h0m2 3h0m5-3h0m0 3h0m1 3h0m-1 2h0m0-4h0m-3 0h0m-9 0h0m-6 3h0m0-3h0m0 5h0m2 0h0m0 4h0m6 0h0m2-4h0m1 0h0m6 4h0m6-3h0m1 5h0m-3 1h0m-1 0h0m0-2h0m-1 2h0m0-2h0m-1 1h0m-7 3h0m-2 0h0m-2-4h0m-7 4h0m-5-2h0m7 7h0m1-4h0m3 1h0m0 3h0m3-4h0m5 2h0m3-1h0m3 1h0m1 1h0m1 6h0m-1-2h0m-6 2h0m-2 0h0m-1-3h0m-3 1h0m0-1h0m0-1h0m-5 3h0m-1-2h0m-5 2h0m-2 1h0m0-3h0m0 7h0m1-2h0m14 1h0m1-2h0m0 1h0m1 2h0m0 0h0m1-1h0m2-2h0m7 1h0m1 0h0m0 1h0m-3 3h0m-7 3h0m0-1h0m-6 0h0m-7-2h0m0 0h0m1 6h0m1-1h0m2 0h0m0 4h0" stroke="#8575e9" stroke-width="2.48" stroke-linecap="round"/>
<path transform="scale(.5)" d="M995 108h0m4 0h0m5 6h0m-7-2h0m-1 1h0m11 3h0m2 3h0m7 0h0m-1 2h0m-14 2h0m-3-1h0m-2-1h0m-2-1h0m-1 1h0m2 4h0m3 1h0m1 3h0m1-3h0m2-1h0m3 2h0m1 1h0m6 0h0m2 1h0m3-2h0m-3 4h0m-3 2h0m-3-2h0m-10 2h0m0-2h0m-1 1h0m5 4h0m1 0h0m1-1h0" stroke="#c1bcdd" stroke-width="2.48" stroke-linecap="round"/>
<path transform="scale(.5)" d="M972 63h0m1 1h0m0 0h0m8 0h0m3 5h0m-2-2h0m0-1h0m-2 2h0m0-2h0m-3 0h0m-1 0h0m7 7h0m0 0h0m1-1h0m1 0h0m0 2h0m-12 1h0m-2 1h0m-3 1h0m-3 4h0m0 3h0m2-2h0m0 2h0m2-4h0m0 3h0m8 3h0m-2 1h0m0-2h0m-2 3h0m0 0h0m-3 0h0m-2 1h0m-5-4h0m-2 8h0m1-1h0m1 2h0m10-2h0m0 1h0m3-3h0m1 0h0m1 31h0m-2 0h0m-44 6h0m9 1h0m24-1h0m12-2h0m1 4h0m11-3h0m-6 5h0m-2 2h0m-2-2h0m-4 0h0m0 0h0m-14 5h0m3-1h0m7 4h0m4-4h0m2 2h0m2 2h0m-1 5h0m-7-3h0m-12 1h0m-2 0h0m0 3h0m9 2h0m2 1h0m10-3h0m1 0h0m3 0h0m-6 8h0m-7 0h0m-4 1h0m-3-4h0m-1 9h0m9-4h0m-3 5h0m-5 3h0m-3-1h0m-1-2h0m10 5h0m-3 7h0" stroke="#8575e9" stroke-width="2.48" stroke-linecap="round"/>
<path transform="scale(.5)" d="M974 61h0m1 5h0m0 11h0" stroke="#c1bcdd" stroke-width="2.48" stroke-linecap="round"/>
<path transform="scale(.5)" d="M975 121h0m2-1h0m0 4h0m5 0h0m1-2h0m1-1h0m1 2h0m0 5h0m0-1h0m0 0h0m-2-1h0m0-1h0m-1 0h0m-1 2h0m-4-2h0m-3 3h0m-1-3h0m-2 3h0m-4 0h0m-3 1h0m-6 5h0m9-2h0m2 2h0m2 0h0m2-2h0m0 1h0m1 1h0m3 0h0m6-4h0m-5 9h0m-3-1h0m-1 0h0m-4 0h0m-1 1h0m-2-4h0m-1 0h0m-5 2h0m-2 0h0m-1 1h0m2 3h0m1 2h0m1 1h0m1 0h0m4-1h0m1-1h0m0 0h0m8 0h0m1 0h0m2-2h0m0 2h0m2-1h0m0 3h0m2-4h0m-14 6h0m-2 0h0m-3 3h0m-7-3h0m2 4h0m1 4h0m2-4h0m0 2h0m1 0h0m4 2h0m3-2h0m1 1h0m1-1h0m0 0h0m2-1h0m2-1h0m-6 6h0m-1 2h0" stroke="#6b57eb" stroke-width="2.48" stroke-linecap="round"/>
<path transform="scale(.5)" d="M975 71h0m1-1h0m1 7h0" stroke="#a092e6" stroke-width="2.48" stroke-linecap="round"/>
<path transform="scale(.5)" d="M984 68h0m-12 21h0m-2 5h0" stroke="#6b57eb" stroke-width="2.48" stroke-linecap="round"/>
<path transform="scale(.5)" d="M951 111h0m52 2h0m8 5h0m-13-3h0m-1 3h0m-1-2h0m-1 2h0m-2-3h0m0 0h0m-1 4h0m4 1h0m1 0h0m0 1h0m3 0h0m8 3h0m8 0h0m-3 1h0m-6 3h0m-2 1h0m-1-1h0m-10 0h0m-4-3h0m4 5h0m3 1h0m10 3h0m1-4h0m3 2h0m2-1h0m3-1h0m0 2h0m-6 4h0m0 0h0m-9 0h0" stroke="#c1bcdd" stroke-width="2.48" stroke-linecap="round"/>
<path transform="scale(.5)" d="M1006 109h0m0 0h0m2 0h0m2-2h0m1 1h0m2-1h0m0 1h0m2-1h0m2 2h0m1 4h0m0-3h0m-1 4h0m0-3h0m-1-1h0m-3 2h0m-2 0h0m-1-1h0m-3 2h0m0-3h0m-2 3h0m0-3h0m-1 4h0m-3-2h0m-13 2h0m18 1h0m10 0h0m2 0h0m0 1h0m0 1h0m1-2h0m1 4h0m1-4h0m0 2h0m1-1h0m0 1h0m0 2h0m1-1h0m0 3h0" stroke="#d2d1d8" stroke-width="2.48" stroke-linecap="round"/>
<path transform="scale(.5)" d="M973 80h0m-11 6h0m42 23h0m2-1h0m1 0h0m1-2h0m0 3h0m1-1h0m2-2h0m4 2h0m5 6h0m0-1h0m-2-1h0m0-2h0m-4 4h0m0-1h0m-2 1h0m0 0h0m-1-2h0m0-2h0m-2 3h0m-2 0h0m-1-1h0m-1 2h0m2 1h0m11 3h0m1 1h0m3-3h0m1 8h0m-1 0h0m-1-2h0m-1 0h0m-1 1h0" stroke="#c1bcdd" stroke-width="2.48" stroke-linecap="round"/>
<path transform="scale(.5)" d="M954 89h0m1 0h0m6-1h0m13 6h0m-8-1h0m-14 1h0m-2 0h0m8 2h0m0 3h0m4-4h0m6 6h0m-1 3h0m-1-2h0m-15 5h0m2 0h0m13 1h0m12 0h0m-6 6h0m-12-4h0m-1 0h0m-1 0h0m0 0h0m-3 3h0m-3 0h0m-3-1h0m1 3h0m9 1h0m9-1h0m12 8h0m-25 1h0m-2-1h0m-4-2h0m13 8h0m11-3h0m2-1h0m5 4h0m6-4h0m-1 8h0m-1-3h0m-10 3h0m0-3h0m-1 1h0m-4-1h0m-2 4h0m-3-2h0m-8 1h0m-2 2h0m9 2h0m4-1h0m2 1h0m5 1h0m7-1h0m0 1h0m-2 3h0m-2 0h0m-5 2h0m-7-3h0m-2 0h0m-3 1h0m-4-1h0m0 6h0m0 2h0m5 0h0m9-2h0m5 3h0m-7 1h0m-2 2h0m-1 5h0m5-1h0m2 2h0m1-2h0" stroke="#6b57eb" stroke-width="2.48" stroke-linecap="round"/>
<path transform="scale(.5)" d="M963 84h0m5-4h0m7 0h0m-2 8h0m-6-3h0m-6 5h0m0 3h0m7 3h0m33 12h0m8 0h0m0 1h0m6-3h0m6 5h0m-7 3h0m-1-4h0m-24 8h0m2-3h0m26 0h0m-24 6h0m7 5h0m2 0h0m7 1h0m7-1h0m-2 7h0m-7 1h0m-9-4h0" stroke="#b1a7e1" stroke-width="2.48" stroke-linecap="round"/>
<path transform="scale(.5)" d="M969 78h0m5 3h0m-2 3h0m-2 0h0m-16 2h0m0 2h0m1 0h0m7 1h0m1-4h0m3 0h0m4 4h0m1-4h0m0 2h0m1 2h0m1-3h0m3-1h0m-3 9h0m-2-2h0m-2 0h0m-1 2h0m-3-3h0m-1 3h0m0-3h0m0-1h0m-3 1h0m-1 3h0m-2-2h0m-2 1h0m-1 0h0m-3-3h0m-3 4h0m2 2h0m3-1h0m3 2h0m0 2h0m3-1h0m3 0h0m1-1h0m11 0h0m2 4h0m-1 2h0m-12 1h0m-14 1h0m8 0h0m5 4h0m1-3h0m11 1h0m11 5h0m-12 2h0m-10-3h0m-6-1h0m-1 3h0m-1-2h0m-1 3h0m-1-2h0m-4 2h0m-2 4h0m13-3h0m4 1h0m7 3h0m1-1h0m4-2h0m7 0h0m0 0h0m-16 8h0m-8-4h0m-4 2h0m0 3h0m1 3h0m1-3h0m0 1h0m3 19h0m10 12h0" stroke="#a092e6" stroke-width="2.48" stroke-linecap="round"/>
<path transform="scale(.5)" d="M952 85h0m3 2h0m2 2h0m6-1h0m0 1h0m2-2h0m2-2h0m9 4h0m-3 4h0m0 0h0m-1-3h0m-1 2h0m-7-1h0m-2 0h0m-3 0h0m-9 1h0m1 3h0m1 1h0m1 3h0m1-3h0m2 3h0m6-4h0m5 0h0m2 4h0m5-2h0m2-2h0m1 1h0m1 2h0m0 1h0m-1 2h0m-7 1h0m-3 2h0m-1-2h0m0 0h0m-1-2h0m-2 1h0m-4 3h0m-1 0h0m0-4h0m-3 4h0m-2-4h0m2 7h0m2-2h0m10 3h0m0 1h0m1-3h0m3-1h0m1 2h0m7 1h0m0 0h0m0 1h0m-22 3h0m-1-1h0m-4 3h0m-3 1h0m5 4h0m1 0h0m1-3h0m7 3h0m2-3h0m3 2h0m5-3h0m0 0h0m0 3h0m1-1h0m0 1h0m-12 3h0m-1 1h0m-2 1h0m0-2h0m-4 1h0m0-1h0m-1 2h0m0-1h0m-4 6h0m1-2h0m5 3h0m2-2h0m2 1h0m0 1h0m4-3h0" stroke="#8575e9" stroke-width="2.48" stroke-linecap="round"/>
<path transform="scale(.5)" d="M960 85h0m7 2h0m0 1h0m9 2h0m0 0h0m-1 0h0m-18 0h0m-4 5h0m1 2h0m15 6h0m-2-2h0m-5 8h0m8-2h0m6 6h0m-4 1h0m-10 0h0m-11 0h0m10 3h0m3-2h0m2 3h0m6-1h0m2-2h0m-13 8h0m-10 2h0m8 1h0m6-1h0" stroke="#b1a7e1" stroke-width="2.48" stroke-linecap="round"/>
<path transform="scale(.5)" d="M977 121h0m4-1h0m5 4h0m0 3h0m-4-1h0m-3 0h0m-11-1h0m-3 3h0m-2 1h0m0-1h0m-5 4h0m1-2h0m1 0h0m1 0h0m1 4h0m6-3h0m4 0h0m3-1h0m4 0h0m2 3h0m1-1h0m4-1h0m0 2h0m0 1h0m0 5h0m-5-1h0m0-2h0m-1-1h0m-6 2h0m-2-1h0m-5-1h0m-2 0h0m-7 1h0m-2 1h0m3 6h0m6 0h0m5-3h0m1 3h0m5 0h0m3-2h0m6-1h0m-9 9h0m-1-1h0m-2 0h0m0-1h0m-2 0h0m-12 0h0m0 4h0m2 1h0m2 2h0m4-4h0m1 3h0m5 0h0m2-2h0m1 3h0m0 2h0m-2 0h0m-3-1h0m-3 4h0m-1-4h0m-19 8h0m5-2h0m11-1h0m1 2h0m1 7h0m-11-2h0m-7 0h0m6 4h0m2 1h0m1-1h0m2 1h0" stroke="#6b57eb" stroke-width="2.48" stroke-linecap="round"/>
<path transform="scale(.5)" d="M970 124h0m7-2h0m4 12h0m0-1h0m-6 0h0m-16 0h0m0-3h0m-3 6h0m9 1h0m9-1h0m4 2h0m4 5h0m-1 0h0m-9-2h0m-4 2h0m-12-1h0m-1-2h0m3 7h0m3 1h0m0 1h0m8-2h0m6 2h0m-1 4h0m-1 0h0m-4 1h0m-18 5h0m1 0h0m11 0h0m3-2h0m0 1h0m1 0h0m4 0h0m2 1h0m0 5h0m-4-1h0m0-1h0m-2 0h0m-1 1h0m0 0h0m0 0h0m0-2h0m0-1h0m-1 1h0m-3 3h0m-1-4h0m-2 2h0m-3 0h0m-1 0h0m-2 2h0m-1-1h0m0 0h0m0-2h0m-1 0h0m-1 0h0m-4 3h0m-1 0h0m0 0h0m0-2h0m0-1h0m0-1h0m1 6h0m2-1h0m0 2h0m1-2h0m0 0h0m1 2h0m3-1h0m7-1h0m1 4h0m1-4h0m1 0h0m0 2h0m0 1h0m1-2h0m0 1h0m1-1h0m0 1h0m0 2h0m1-1h0m1-2h0m0 1h0m0 1h0m1-2h0m0 1h0m2 1h0m0 1h0m1-3h0m0 2h0m-6 2h0m-4 0h0m-1 3h0m-2-1h0m-1-2h0m-4 1h0m0-1h0" stroke="#503aee" stroke-width="2.48" stroke-linecap="round"/>
<path transform="scale(.5)" d="M999 113h0m3 0h0m13 5h0m-1-1h0m-2 1h0m-9 1h0m-3-1h0m-1-3h0m-2 1h0m-1-1h0m-1 1h0m0 8h0m10-3h0m11 3h0m-1 5h0m-1-4h0m-4 4h0m-6-2h0m-1 2h0m-1 0h0m-1-3h0m-4 3h0m-1 1h0m3 1h0m2 1h0m0 2h0m3-2h0m0 2h0m2-2h0m1 2h0m3-4h0m0 0h0m2 1h0m0 2h0m3-3h0m-5 5h0m-7 1h0m-3-1h0" stroke="#d2d1d8" stroke-width="2.48" stroke-linecap="round"/>
<path transform="scale(.5)" d="M964 85h0m6 1h0m4 1h0m2 4h0m-1 0h0m-7-1h0m-7 2h0m-5-1h0m-5 8h0m1-4h0m1 1h0m13 1h0m11-2h0m0 1h0m0 7h0m-2-3h0m-1 4h0m-4-1h0m-6 0h0m-10-1h0m-2-1h0m-2 4h0m1 3h0m2-1h0m14-1h0m3 1h0m5 1h0m9 6h0m0-1h0m0-2h0m-1 3h0m-16-2h0m-12-2h0m-6 6h0m2 3h0m1-2h0m4 0h0m8 1h0m0 1h0m4-3h0m9-1h0m0 2h0m6-1h0m0 3h0m-2 5h0m-4-1h0m-6 1h0m-5-3h0m-14 0h0m-3-1h0m4 5h0m12 0h0m0 4h0m11-2h0m2 1h0m1-3h0m4 5h0m-4 0h0m-4 3h0m-9 0h0m-1-3h0m-9 7h0m0 2h0m1-1h0m0 0h0m1 1h0m14-3h0m4 0h0m2-1h0m0 2h0m1-2h0m2 5h0m-16 1h0m-3 1h0m0 3h0m10 1h0m-8 5h0m-5-1h0m9 5h0m4 4h0m1 1h0" stroke="#8575e9" stroke-width="2.48" stroke-linecap="round"/>
<path transform="scale(.5)" d="M809 288h0m10-3h0m8 7h0m-3-1h0m-8 2h0m-8 3h0m-2 5h0m10 10h0m30 8h0m-26 5h0m5-1h0m3-2h0m1-1h0m0 4h0m1-3h0m0 0h0m1 0h0m1 2h0m0 1h0m1 0h0m4-2h0m0 1h0m1-3h0m8 1h0m2 0h0m0 2h0m1-1h0m0 2h0m1-2h0m1 1h0m0 1h0m1 4h0m-2-2h0m-1-1h0m-2 3h0m0-3h0m-1 1h0m-1 2h0m0-3h0m-1 2h0m-1 0h0m0 0h0m0-2h0m0 0h0m-1 3h0m-2-3h0m-3 3h0m-3 1h0m-1-2h0m-3 2h0m-2-3h0m-1-1h0m-1 1h0m-1-1h0m-2 1h0m5 5h0m3 2h0m2-1h0m0 1h0m2 1h0m6-1h0m2 0h0m1 1h0m2-3h0m0 2h0m1-3h0m3 1h0m1-1h0m-7 6h0m-1-1h0m-4 1h0" stroke="#b1a7e1" stroke-width="2.48" stroke-linecap="round"/>
<path transform="scale(.5)" d="M814 287h0m1 2h0m8-1h0m4 5h0m-5-3h0m-11 1h0m-2 1h0m2 7h0m13-4h0m-12 14h0m-1-2h0m2 3h0m0 1h0" stroke="#a092e6" stroke-width="2.48" stroke-linecap="round"/>
<path transform="scale(.5)" d="M871 274h0m1 0h0m2-2h0m1-2h0m0 2h0m6 7h0m-1-4h0m-6 0h0m-1 3h0m-1-2h0m-4-1h0m-1 4h0m0-4h0m-1 0h0m4 6h0m1 3h0m1-3h0m6 1h0m3-1h0m0 3h0m3-2h0m3-1h0m6 1h0m2 0h0m0 6h0m-1-2h0m-2 0h0m-2 3h0m-2-1h0m-1 0h0m-1-2h0m-9-1h0m-5 0h0m-2 1h0m-1 1h0m5 4h0m1 0h0m2 0h0m0 1h0m2 2h0m1-4h0m0 3h0m3-2h0m3 2h0m2-1h0m4 2h0m1-3h0m0 3h0m1-3h0m-5 6h0m-2-2h0m-2 1h0m-1 0h0m-2 0h0m-3 2h0m0-3h0m-51 27h0m2 2h0m2-1h0m4-2h0m3 1h0m3 0h0m1 2h0m1-3h0m0 1h0m1 0h0m7 0h0m-3 6h0m-4 1h0m0 0h0m0-2h0m-1-2h0m0 0h0m-1 4h0m-1 0h0m-1 0h0m-7 0h0m0-3h0m-1 3h0m-2-2h0m-5 1h0m0-2h0m-2 2h0m8 4h0m3-1h0m1 3h0m5-4h0m2 2h0m5-2h0" stroke="#c1bcdd" stroke-width="2.48" stroke-linecap="round"/>
<path transform="scale(.5)" d="M847 240h0m7 6h0m-3 2h0m-3 0h0m-6-1h0m-1-2h0m-9 2h0m-1 3h0m3 2h0m3-1h0m2 2h0m0 0h0m3-2h0m0 2h0m4-2h0m4 0h0m5 7h0m-7-2h0m-2 2h0m0-3h0m-2 4h0m0-3h0m-2 1h0m-1 2h0m-3-3h0m-2 2h0m-1 0h0m-1-3h0m-1 0h0m2 6h0m13 3h0m5 4h0m-1-2h0m-4 2h0m-1 1h0m-5-4h0m-13 1h0m-1 1h0m0 0h0m4 7h0m1 0h0m1-2h0m2-1h0m1 1h0m4-1h0m1 1h0m19 2h0m1-2h0m2 1h0m-2 5h0m0-3h0m0 0h0m-1 1h0m-6 3h0m0-2h0m-7 1h0m-5-1h0m-9 2h0m-1-3h0m-3 3h0m0-4h0m-3 2h0m-1 2h0m1 2h0m1 1h0m6 2h0m4-3h0m6 1h0m2 2h0m4-3h0m-4 5h0m-3 1h0m-12-1h0m6 4h0" stroke="#6b57eb" stroke-width="2.48" stroke-linecap="round"/>
<path transform="scale(.5)" d="M830 247h0m7-1h0m5 7h0m-5-1h0m-5-1h0m-1 2h0m-1-3h0m-1 2h0m-1 2h0m-2 3h0m6 1h0m8-1h0m0 0h0m0 1h0m5-2h0m0 1h0m10-1h0m1 5h0m-1 2h0m-7 1h0m-1-3h0m-3 2h0m0 0h0m-10-2h0m-3 0h0m0 0h0m-3-1h0m1 5h0m0 4h0m2 0h0m2-2h0m13 1h0m5-2h0m1 0h0m2 2h0m3 1h0m0 0h0m0 2h0m-7 0h0m-1 3h0m-1-2h0m-8-1h0m-1 0h0m-5 2h0m-4-3h0m-3 7h0m3-1h0m4 1h0m5-1h0m4 1h0m0 0h0m1-2h0m1 3h0m3 0h0m6-1h0m1 2h0m-6 1h0m-6 3h0m-2-2h0m-1 1h0m-3 2h0m0-1h0m-4 0h0m-2 1h0m-3-2h0m-1-2h0m3 6h0m1-1h0m1 0h0m1 1h0m3 3h0m2-4h0m1 0h0m-1 5h0" stroke="#6b57eb" stroke-width="2.48" stroke-linecap="round"/>
<path transform="scale(.5)" d="M854 283h0m3 1h0m4-2h0m0 1h0m2 1h0m1 2h0m0-1h0m-4 0h0m-3 1h0m-2 1h0m-6-2h0m-4 4h0m-4 2h0m1-1h0m1 1h0m4 1h0m4 1h0m3-1h0m1 2h0m0 0h0m1-4h0m0 2h0m0 1h0m3-3h0m2 3h0m2 3h0m-5-1h0m-6 1h0m-2 2h0m-5-1h0m-2 2h0m-4-1h0m-5 3h0m1 0h0m1-1h0m2 3h0m0 0h0m3-2h0m7-1h0m4 0h0m2 3h0m3-1h0m2-2h0m0 0h0m0 2h0m2 0h0m-4 5h0m-2 1h0m-5-3h0m-2 3h0m0-3h0m-1 2h0m-2 1h0m-5-2h0m0 6h0m0 2h0m3-2h0m1 1h0m2-2h0m1 1h0m3 1h0m3-2h0m1 1h0m-5 6h0m0 0h0m0-3h0m-1 3h0m-3-2h0m-2 2h0m-5-3h0m9 5h0" stroke="#b1a7e1" stroke-width="2.48" stroke-linecap="round"/>
<path transform="scale(.5)" d="M850 223h0m2 0h0m1 1h0m1 0h0m5 3h0m-2-1h0m-3-1h0m-1 2h0m-1-1h0m9 5h0m1 3h0m2 2h0m-1-1h0m-12 2h0m-6 4h0m0 3h0m1-2h0m0 0h0m0 1h0m1-2h0m4 2h0m2-2h0m0 1h0m1-2h0m0 4h0m9-3h0m0 1h0m-10 5h0m-1 2h0m-2-4h0m-1 2h0m0 0h0m-1 0h0m0-2h0m-1 3h0m-2-1h0m0 0h0m0-1h0m0 0h0m-2 0h0m-2 1h0m0-1h0m0 0h0m-1 1h0m-10 5h0m3-2h0m5 1h0m1 3h0m0 0h0m0 0h0m1 0h0m4 0h0m3 0h0m1-3h0m1 2h0m2-3h0m0 0h0m3 0h0m0 1h0m0 3h0m1-3h0m-4 4h0m-6 2h0m-2-1h0m-1 3h0m0-3h0m0-1h0m-1 1h0m-12 5h0m9-1h0m2 12h0m-7-1h0m22 5h0m6 1h0m1 1h0m-1 2h0" stroke="#503aee" stroke-width="2.48" stroke-linecap="round"/>
<path transform="scale(.5)" d="M885 272h0m13 3h0m-8 1h0m-74 6h0m8 7h0m-1 0h0m-1-1h0m-1 1h0m0-4h0m-1 4h0m-3 0h0m0-2h0m0-1h0m-1 2h0m0-2h0m-2 2h0m-1 1h0m0-4h0m-1 1h0m-1 2h0m-1 1h0m-1-2h0m-2 6h0m1-2h0m3 1h0m1-1h0m0 2h0m1-2h0m3-1h0m4 2h0m0 0h0m1 1h0m4-3h0m1 2h0m0 1h0m-1 2h0m-1 0h0m-1 0h0m-14 4h0m0-4h0m-1 2h0m0 4h0m0 3h0m1-2h0m1-1h0m1-1h0m1 4h0m4 5h0m-2-3h0m0-1h0m-1 3h0m-5-3h0m4 5h0m0 3h0m1-1h0m1-2h0m1 2h0m1-1h0m1 3h0m2 4h0m0-2h0m-1 2h0m-1-3h0m-1 3h0m0-3h0m-2 4h0m0 0h0m0-2h0m0-1h0m2 5h0m1 0h0" stroke="#b1a7e1" stroke-width="2.48" stroke-linecap="round"/>
<path transform="scale(.5)" d="M833 248h0m1-2h0m2 1h0m2 1h0m7 1h0m4 0h0m5 5h0m0-1h0m0-1h0m0-1h0m-4 0h0m-9 1h0m-2-2h0m-1 2h0m-3-1h0m-2-1h0m-5 0h0m0 5h0m3 1h0m1 2h0m3-2h0m1 1h0m1 0h0m12 1h0m0 0h0m2-3h0m4 3h0m-10 6h0m-1-1h0m-1-1h0m-7-1h0m-3 5h0m2 0h0m1-1h0m8 2h0m1-1h0m3 0h0m2 1h0m0 1h0m3-1h0m1-1h0m3 4h0m-1 0h0m-2 4h0m-8-1h0m-1-2h0m0-1h0m-2 4h0m-7-2h0m-2-1h0m-5 4h0m0 0h0m3 1h0m1 2h0m3 1h0m1-2h0m13-1h0m2 2h0m5-3h0m0 2h0m-5 4h0m0-1h0m-6 0h0m-9 2h0m-4 0h0m0-1h0m0 0h0m-4 6h0m2-2h0m3 1h0m3 2h0m0 1h0m2-1h0m2-3h0m5 1h0m-14 10h0" stroke="#503aee" stroke-width="2.48" stroke-linecap="round"/>
<path transform="scale(.5)" d="M885 269h0m3-1h0m1 1h0m2-1h0m2-1h0m0 1h0m3 3h0m-2 1h0m-3-2h0m-4 1h0m0-1h0m-1 1h0m-2 3h0m-5 0h0m3 2h0m1 0h0m2 0h0m7 0h0m4 1h0m0 2h0m2-3h0m1 8h0m-89 1h0m2 4h0m1 0h0m1-3h0m3 1h0m0 1h0m2-2h0m1 1h0m0 1h0m1-1h0m79-2h0m-76 7h0m-2-1h0m-1-1h0m0 0h0m-2 0h0m-8 3h0m-4 4h0m0 1h0m2-3h0m1 1h0m13-1h0m1 1h0m-11 8h0m-4-4h0m-2 3h0m1 4h0m3 1h0m2-1h0m0 0h0m2 1h0m2 4h0m-1 0h0m-1 0h0m1 3h0m2 1h0m31 8h0m-2-2h0m-5 2h0m0 0h0m-3-3h0m-4 3h0m-2-1h0m-5-1h0m0-2h0m-3 3h0m-2-1h0m1 3h0m0 0h0m0 3h0m3 0h0m3 0h0m1 1h0m2-1h0m2 0h0m2-2h0m8 0h0m1 1h0m1 1h0m5 2h0m-12 2h0m0-2h0m-3 3h0m0 0h0m-4-1h0m0 0h0m-2-1h0" stroke="#c1bcdd" stroke-width="2.48" stroke-linecap="round"/>
<path transform="scale(.5)" d="M880 274h0m2 1h0m-8 4h0m-3-3h0m-15 7h0m3-1h0m26 1h0m6 4h0m-5-1h0m-4 3h0m-5-4h0m-9 2h0m-1 1h0m-3 1h0m-1 0h0m-2-2h0m-1 0h0m-3 1h0m-9-2h0m-7 3h0m-5 4h0m2 0h0m11 0h0m2-3h0m2 1h0m0 2h0m4-1h0m0 1h0m3 1h0m4 0h0m9-2h0m2-2h0m14 4h0m3-1h0m-2 3h0m-26 0h0m-5-1h0m0 0h0m0 0h0m-4 4h0m-2-4h0m-1 4h0m0-2h0m-2 1h0m-1-2h0m-4 1h0m-1-1h0m-1 1h0m-3-2h0m-1 2h0m-3 0h0m-2 1h0m-1 4h0m4 0h0m11-1h0m1 2h0m6 1h0m2-2h0m4-1h0m2 0h0m1 0h0m-8 8h0m0-2h0m0-1h0m-3 3h0m-2 0h0m-2-4h0m-2 4h0m-7-3h0m-1 1h0m-2 2h0m0-4h0m-2 2h0m2 5h0m2-2h0m0 1h0m1 0h0m5 1h0m0 1h0m1-3h0m1 4h0m6-1h0m1 2h0m-7 1h0m-2 3h0m0-2h0m-1 2h0m-3-3h0m5 5h0" stroke="#c1bcdd" stroke-width="2.48" stroke-linecap="round"/>
<path transform="scale(.5)" d="M832 249h0m12-2h0m5 2h0m1-2h0m4 5h0m0-1h0m-1 2h0m0-1h0m-6 1h0m-4 0h0m-3-3h0m0 0h0m-2 1h0m-2 3h0m-4 0h0m-2 0h0m-3 1h0m2 3h0m1-2h0m2 1h0m10-2h0m2 0h0m9 4h0m2 5h0m-2-3h0m-2 2h0m-2-3h0m-10 1h0m-7 3h0m-2-1h0m-2-2h0m-2-1h0m9 7h0m1 0h0m3-2h0m2 1h0m1-1h0m0 3h0m3 0h0m3 0h0m5 2h0m0 0h0m-8 4h0m-1-4h0m-3 4h0m-8 0h0m-4-1h0m0-3h0m-1 3h0m-1 0h0m1 2h0m0 1h0m1 1h0m1-2h0m5 0h0m4 2h0m3 2h0m2 0h0m1-1h0m1-1h0m4-2h0m1 4h0m4-1h0m1 1h0m-11 1h0m-3 0h0m-9 2h0m-3 1h0m-1-3h0m5 8h0m1-2h0m1 0h0m0 1h0m3 0h0m5-1h0m-9 4h0" stroke="#503aee" stroke-width="2.48" stroke-linecap="round"/>
<path transform="scale(.5)" d="M878 272h0m-8 3h0m-15 8h0m38 0h0m2 3h0m-9 2h0m-47 4h0m2-1h0m47 0h0m2 2h0m-2 5h0m-29 0h0m0-3h0m-24 9h0m8 0h0m7-2h0m9 2h0m1 3h0m-16 1h0m-8 1h0m3 5h0m12-4h0m0 4h0m2-3h0m-8 8h0m0 0h0m-4-3h0m-18 6h0m0 0h0m0 1h0m3 1h0m3-3h0m0 2h0m1-2h0m1 2h0m2 0h0m1 1h0m2-4h0m8 4h0m1 0h0m2 0h0m0 0h0m0 0h0m2-4h0m2 1h0m1 4h0m-1 0h0m-5 3h0m-1 1h0m0 0h0m-1-3h0m-1 1h0m-2 2h0m0-3h0m-1-1h0m-1 2h0m-1 0h0m-4 2h0m-6 0h0m-1-2h0m-3-1h0m0 0h0m-1 0h0m8 6h0m0 1h0m6 0h0m2-1h0m4-1h0m1-1h0m0 0h0m4 1h0" stroke="#b1a7e1" stroke-width="2.48" stroke-linecap="round"/>
<path transform="scale(.5)" d="M896 272h0m1 5h0" stroke="#b1a7e1" stroke-width="2.48" stroke-linecap="round"/>
<path transform="scale(.5)" d="M860 227h0m4 12h0" stroke="#503aee" stroke-width="2.48" stroke-linecap="round"/>
<path transform="scale(.5)" d="M851 236h0m1 6h0m-9 1h0m0-2h0m1 5h0m8 2h0m-1 6h0m-11 0h0m-1 1h0m9 0h0m7 1h0m-24 13h0m15 8h0m-12 10h0m-24 3h0m29 34h0m9 8h0" stroke="#8575e9" stroke-width="2.48" stroke-linecap="round"/>
<path transform="scale(.5)" d="M855 224h0m1 0h0m6 5h0m-1-2h0m-1 1h0m-1 1h0m0-1h0m0-2h0m-1 2h0m0-1h0m-2 2h0m0-1h0m0-2h0m-1 2h0m-1 0h0m-1-1h0m-1 0h0m-1-1h0m0 0h0m0-1h0m2 5h0m1 2h0m0 0h0m4 0h0m3 1h0m0 1h0m1-2h0m1 1h0m0 1h0m-8 4h0m-6 0h0m-1-2h0m-2 3h0m0 0h0m-3 5h0m4-4h0m0 1h0m0 3h0m3-2h0m1-2h0m0 1h0m11 0h0m1 0h0m2 1h0m0 1h0m-10 5h0m-4-2h0m0-1h0m-3 0h0m-3 1h0m-1 1h0m0-2h0m0 0h0m-2 4h0m-2-2h0m-1 5h0m2 2h0m5-3h0m1-1h0m0 4h0m1-4h0m1 1h0m1 0h0m0 0h0m1-1h0m0 0h0m1 2h0m0 2h0m2-4h0m-5 6h0m-1-1h0m-5 2h0m-1 0h0m0-1h0" stroke="#6b57eb" stroke-width="2.48" stroke-linecap="round"/>
<path transform="scale(.5)" d="M862 230h0m-47 79h0m-4 4h0" stroke="#a092e6" stroke-width="2.48" stroke-linecap="round"/>
<path transform="scale(.5)" d="M823 323h0m3-2h0m4 3h0m0 0h0m12-1h0m1 0h0m6 6h0m-3-1h0m-8-3h0m11 5h0m-9 5h0m-2 0h0m-5 0h0" stroke="#a092e6" stroke-width="2.48" stroke-linecap="round"/>
<path transform="scale(.5)" d="M886 268h0m2 1h0m1-1h0m1 0h0m9 5h0m-3 1h0m-1-2h0m0-1h0m-2-1h0m-1 4h0m-1-1h0m0-1h0m-2 2h0m0 0h0m0-2h0m-1 0h0m-1 2h0m0-4h0m0 0h0m0 0h0m-1 0h0m-1 4h0m-1-3h0m0-1h0m0 0h0m-1 2h0m0-1h0m-1 1h0m0-1h0m-11 3h0m-5 2h0m12 1h0m5-2h0m0 1h0m1 0h0m1-1h0m5 0h0m2 1h0m2 0h0m1 0h0m0 0h0m1-1h0m0 3h0m0 0h0m3-1h0m0 1h0m1-1h0m0 1h0m0 1h0m1 0h0m0 4h0m-1-2h0m-2 3h0m0-3h0m-1-1h0m-7 4h0m-20 0h0m-62 1h0m0 1h0m67 1h0m4 2h0m18-4h0m4 1h0m-5 8h0m-12-3h0m-6-1h0m-2 2h0m-3 0h0m-1 3h0m-57 13h0m29 11h0m2 2h0m-2 1h0m-14 1h0m1 3h0m1 0h0m8 0h0m2 2h0m3-2h0" stroke="#d2d1d8" stroke-width="2.48" stroke-linecap="round"/>
<path transform="scale(.5)" d="M838 246h0m3 3h0m4-2h0m8 1h0m1 4h0m-2 1h0m-1 1h0m-1-2h0m-4-1h0m0-1h0m-5 1h0m-1 2h0m-4 0h0m-1-3h0m-2 1h0m-4 6h0m1 1h0m2-2h0m2 1h0m0 0h0m0 2h0m5-4h0m3 1h0m9-1h0m1 0h0m2 2h0m2 6h0m-1-1h0m-2 2h0m-1 0h0m-2-1h0m-2 0h0m-2 0h0m-1-1h0m-13-1h0m-1 1h0m-4 3h0m7 2h0m3-2h0m2 1h0m1 1h0m5-1h0m4 0h0m0 1h0m1 1h0m2 1h0m-4 2h0m-1-1h0m-3 2h0m-3 0h0m0 0h0m0-2h0m-3 0h0m-2 1h0m-1 2h0m-5-3h0m-2 7h0m11-2h0m0 4h0m6 0h0m1-1h0m1-1h0m3 2h0m1-2h0m1 1h0m-6 6h0m-7 0h0m-4-4h0m-2 1h0m-1 2h0m-5 0h0m2 4h0m3 1h0m5 3h0m-3-1h0m-6 0h0" stroke="#503aee" stroke-width="2.48" stroke-linecap="round"/>
<path transform="scale(.5)" d="M832 289h0m23 14h0m-25 19h0m7 1h0m4-3h0m4 1h0m-18 6h0m-1 1h0m-3-3h0m11 9h0m1-1h0m4-3h0m4 3h0" stroke="#a092e6" stroke-width="2.48" stroke-linecap="round"/>
<path transform="scale(.5)" d="M850 225h0m0 0h0m5 0h0m3 1h0m0 3h0m4 1h0m-1 2h0m-11 5h0m3 2h0m8-4h0m0 3h0m2 2h0m0 0h0m-13 2h0m-5 1h0m8 5h0m-9 6h0" stroke="#8575e9" stroke-width="2.48" stroke-linecap="round"/>
<path transform="scale(.5)" d="M808 286h0m16 3h0m-14 5h0m14 30h0m26-4h0m-4 8h0m-5 0h0m-2-2h0m-1 3h0m-13-3h0m11 8h0m11-2h0m-10 3h0" stroke="#a092e6" stroke-width="2.48" stroke-linecap="round"/>
<path transform="scale(.5)" d="M831 248h0m4-2h0m0 2h0m10 1h0m4 5h0m0 0h0m0-3h0m-2 1h0m-3 0h0m-1 1h0m-1-2h0m-8 1h0m-2 0h0m-3 4h0m4-1h0m17 1h0m0 1h0m1-2h0m1 3h0m3 0h0m0 5h0m-3-1h0m-1 0h0m-10 2h0m0-1h0m-1-2h0m-4-1h0m-1 1h0m-1-1h0m-1 1h0m-6 3h0m0 1h0m5 0h0m1 1h0m0 2h0m8-1h0m1-1h0m2 1h0m2 2h0m1-4h0m4 4h0m6 2h0m-3 2h0m-1 1h0m-13-2h0m-2-2h0m-4 1h0m-4-1h0m6 5h0m4 1h0m3 2h0m1-1h0m0 1h0m1-2h0m3 1h0m3 0h0m1-2h0m0 2h0m4 1h0m1 0h0m-6 4h0m0-2h0m0 0h0m-1 1h0m-1 2h0m-9 0h0m-1 1h0m-7-4h0m-4 0h0m-1 1h0m10 5h0m0 2h0m1 2h0m-8 0h0" stroke="#6b57eb" stroke-width="2.48" stroke-linecap="round"/>
<path transform="scale(.5)" d="M851 284h0m4 0h0m5 0h0m1 4h0m0-1h0m-2-1h0m-2 1h0m-2-2h0m-1 4h0m-3-1h0m0-1h0m-2 2h0m-7 0h0m-4 3h0m2-2h0m0 1h0m2 2h0m1-2h0m1 1h0m1-2h0m6 4h0m0 0h0m1-4h0m0 1h0m5 0h0m1 2h0m3-1h0m1 0h0m0 2h0m3-4h0m-2 5h0m-4 3h0m-2-2h0m0 0h0m-1 2h0m-1 1h0m0-3h0m-2 3h0m0-4h0m0 0h0m-1 4h0m-1-4h0m-1 2h0m-1 1h0m-1-2h0m-1 0h0m-2 1h0m-1-2h0m-2 0h0m-5 3h0m-3 1h0m0-4h0m0 6h0m1-1h0m0 0h0m1 1h0m3 3h0m1-1h0m3-2h0m0 1h0m3 2h0m1-3h0m9 0h0m1 0h0m4 3h0m-2 1h0m-1 1h0m-8 1h0m-4 2h0m0-1h0m-5-2h0m-1 1h0m-6 0h0m0 3h0m7 4h0m1-4h0m0 2h0m6 2h0m2-1h0m1 1h0m1-1h0m2-2h0m-2 8h0m0-2h0m-4 1h0m0-1h0m-1 0h0m3 4h0m2 0h0" stroke="#c1bcdd" stroke-width="2.48" stroke-linecap="round"/>
<path transform="scale(.5)" d="M853 282h0m2 0h0m3 2h0m4-2h0m0 2h0m1 5h0m0-1h0m-3-1h0m0-1h0m-1 3h0m-4-2h0m-1 0h0m-1-1h0m-5 1h0m-2 0h0m-2 0h0m-1 2h0m-6 2h0m1 1h0m7 2h0m4-4h0m3 4h0m4-4h0m2 1h0m3 0h0m2 4h0m-3 3h0m-1-3h0m-3 2h0m-1-1h0m-1 1h0m-1-1h0m-6 3h0m-2-2h0m0-2h0m-4 4h0m-5-4h0m-2 3h0m3 5h0m2 1h0m2 0h0m4-3h0m1 2h0m2-2h0m1-1h0m1 3h0m0 0h0m2-3h0m0 3h0m3 1h0m2 0h0m2-3h0m-2 6h0m-4 0h0m-1-1h0m-1 3h0m-2 0h0m-3-1h0m-1-1h0m0 0h0m0-2h0m-6 4h0m-1 0h0m-3-1h0m2 3h0m0 0h0m3 1h0m12 1h0m2-2h0m0 3h0m-2 4h0m-1-1h0m-5 2h0m0-2h0m-1 0h0m-2 0h0m0-1h0m7 4h0m1 2h0" stroke="#d2d1d8" stroke-width="2.48" stroke-linecap="round"/>
<path transform="scale(.5)" d="M840 246h0m3 2h0m7 3h0m-5-1h0m-14 7h0m12 0h0m11 7h0m-16 4h0m5-3h0m7 9h0m-10 2h0m7-1h0m7 1h0m-1 6h0m-21-2h0m11 6h0m-11 5h0" stroke="#8575e9" stroke-width="2.48" stroke-linecap="round"/>
<path transform="scale(.5)" d="M843 249h0m-6 2h0m-8 6h0m1-2h0m26 5h0m-7 1h0m-10 6h0m-1 4h0m-3 3h0m-8-4h0m15 7h0m1 0h0m9 0h0m-5 6h0m-17 5h0m2 0h0m10 0h0" stroke="#8575e9" stroke-width="2.48" stroke-linecap="round"/>
<path transform="scale(.5)" d="M853 233h0" stroke="#8575e9" stroke-width="2.48" stroke-linecap="round"/>
<path transform="scale(.5)" d="M871 269h0m8 1h0m-2 0h0m-2 3h0m-2-1h0m0-2h0m-5 9h0m1-2h0m3-1h0m0 0h0m1 3h0m1-2h0m1-1h0m0 1h0m1-2h0m4 0h0m2 1h0m3 2h0m9 3h0m-1-1h0m-3 0h0m-7 3h0m0-2h0m-3 0h0m-1 3h0m-1-4h0m-1 1h0m-1 3h0m-1-4h0m-1 3h0m-1 0h0m-2 0h0m-2 2h0m4 0h0m0 1h0m0 1h0m3 1h0m2-1h0m0 1h0m1 0h0m1-1h0m2 2h0m1 0h0m1 0h0m4-1h0m5-1h0m1-2h0m0 1h0m0 2h0m-1 4h0m0-1h0m0-1h0m-1 3h0m0-2h0m-2 1h0m-1-2h0m-1 0h0m-4 4h0m-2-1h0m-5 1h0m0-3h0m-1 1h0m-1 2h0m-3-4h0m4 5h0m1 2h0m1-1h0m0 0h0m0 1h0m0 1h0m1-3h0m1 3h0m1-1h0m1 0h0m3 1h0m2 0h0m1-1h0m1-2h0m1 0h0" stroke="#d2d1d8" stroke-width="2.48" stroke-linecap="round"/>
<path transform="scale(.5)" d="M868 273h0m1 1h0m1-3h0m2 1h0m20 7h0m-2-1h0m-9-3h0m-4 1h0m0-1h0m-1 2h0m-2 1h0m-1 0h0m0-1h0m-2-1h0m0 0h0m0-1h0m-2 4h0m-14 4h0m14-2h0m2 2h0m3-1h0m1 0h0m0 1h0m1 0h0m1-2h0m12-1h0m1 2h0m-2 3h0m-8 3h0m-5 0h0m-32 0h0m-6 4h0m9 0h0m4 1h0m3-1h0m11 0h0m8-2h0m0 1h0m0 1h0m3 1h0m1-2h0m2-1h0m3 0h0m4 0h0m1 0h0m0 2h0m1-2h0m0 3h0m1-1h0m2 1h0m0 1h0m1-1h0m3 1h0m-2 1h0m-4 3h0m0 0h0m-3-2h0m0 0h0m-4 2h0m-2 0h0m-1 0h0m-20-1h0m-2 2h0m-13 0h0m-1-3h0m-5-1h0m-3 4h0m0 4h0m12 1h0m3-4h0m8 0h0m3 4h0m-6 1h0m-1 4h0m-7 5h0m8 3h0m-2-2h0m-1 0h0m-2 1h0" stroke="#d2d1d8" stroke-width="2.48" stroke-linecap="round"/>
<path transform="scale(.5)" d="M930 309h0m8 7h0m-5 2h0" stroke="#6b57eb" stroke-width="2.48" stroke-linecap="round"/>
<path transform="scale(.5)" d="M978 304h0m3-4h0m-2 5h0m-20 4h0m-3-1h0m2 5h0m3 1h0m10-1h0m2 0h0m0 1h0m5-4h0m-11 6h0m-22 10h0m3 3h0m3-2h0m4 1h0m8-3h0m3 1h0m0 3h0m0 0h0m1-3h0m0 2h0m2 0h0m0 1h0m4-4h0m-2 9h0m0-2h0m-1 2h0m-2-1h0m-1 1h0m0-1h0m-4 1h0m0-1h0m0-2h0m-1 0h0m-14 0h0m-2 1h0m-1-2h0m10 9h0m1-1h0m2 0h0m2 1h0m1-4h0m0 1h0m2-1h0m2 0h0m0 1h0m5-1h0" stroke="#6b57eb" stroke-width="2.48" stroke-linecap="round"/>
<path transform="scale(.5)" d="M972 228h0m0 1h0m2-2h0m2 2h0m1 0h0m1-1h0m4 5h0m0-1h0m-1 0h0m0-2h0m-1 2h0m0-1h0m-2 2h0m0-1h0m-2 0h0m-1 0h0m-1 0h0m0-2h0m-1 0h0m0 0h0m10 6h0m0 3h0m0 0h0m2-1h0m0 0h0m1 6h0m-9-1h0m-4-2h0m-1 1h0m-3 2h0m-1-1h0m-1 6h0m1-3h0m2 3h0m2-2h0m1-2h0m2 0h0m9 0h0m1 0h0m0 0h0m0 1h0m2 1h0m-10 5h0m-1 2h0m-3 0h0m0 0h0m0 0h0m-2-3h0m-1-1h0m-1 4h0m0-2h0m-2 0h0m0-1h0m0 0h0m0-1h0m-1 1h0m0 0h0m0-1h0m-1 0h0m-2 1h0m0-1h0m0 0h0m-2 8h0m0 1h0m0 0h0m0 0h0m1-1h0m4 0h0m0 1h0m2-4h0m1 3h0m2 0h0m2 0h0m1-1h0m0 1h0m2 0h0m-8 4h0m-1-1h0m-2 0h0m-1 0h0m0 0h0m0-1h0m59 24h0m-4 5h0" stroke="#c1bcdd" stroke-width="2.48" stroke-linecap="round"/>
<path transform="scale(.5)" d="M936 290h0m37 37h0m-11 2h0m-2-4h0m-18 4h0m13 4h0m9 0h0m10 2h0m-3 0h0" stroke="#8575e9" stroke-width="2.48" stroke-linecap="round"/>
<path transform="scale(.5)" d="M972 260h0m-5 24h0m-13 5h0m24-2h0m6 9h0m-25 7h0m5-2h0m8 1h0m-10 14h0" stroke="#8575e9" stroke-width="2.48" stroke-linecap="round"/>
<path transform="scale(.5)" d="M959 255h0m13 1h0m-1 6h0m0 0h0m-12-1h0m-8 8h0m14-3h0m2 2h0m2-3h0m5 5h0m-19 1h0m-4 2h0m16 2h0m0 7h0m-15-2h0m7 7h0m0 6h0m-5-1h0m-2 0h0m2 9h0" stroke="#a092e6" stroke-width="2.48" stroke-linecap="round"/>
<path transform="scale(.5)" d="M975 287h0m1 0h0m1 2h0m2 0h0m1 0h0m3-2h0m3 4h0m-4-1h0m-9 1h0m-8 3h0m-2 2h0m2 0h0m8-1h0m0 2h0m10-1h0m0 1h0m2 2h0m-4 3h0m-2-1h0m-3 1h0m-1-2h0m-8 2h0m-9 2h0m-1 0h0m-1-1h0m0 3h0m12 2h0m4-1h0m10 4h0m-2 0h0m-5 3h0m-5-2h0m-2 0h0m0 0h0m-2 1h0m-3-3h0m-1 0h0m-2 4h0m-4-2h0m3 4h0m7 2h0m3-2h0m0 3h0m5 5h0m-4-2h0m0 0h0m-2-1h0m-8-1h0" stroke="#6b57eb" stroke-width="2.48" stroke-linecap="round"/>
<path transform="scale(.5)" d="M947 328h0m1-3h0m1 4h0m1-4h0m0 2h0m1-2h0m0 3h0m1-1h0m3 0h0m0 1h0m5 1h0m5 0h0m2 0h0m1-3h0m0 0h0m1 0h0m1-1h0m1 1h0m0 3h0m1-3h0m1 2h0m1 4h0m-1 2h0m-1-3h0m-5 2h0m-1-3h0m-1 1h0m-3 3h0m-1-2h0m0-1h0m-4 2h0m-1-2h0m-2 0h0m-1 2h0m-1 1h0m-3-2h0m-1-1h0m-2 0h0m-1-1h0m5 5h0m3 2h0m2-1h0m0 1h0m2 2h0m9 0h0m2-4h0m1 0h0m-8 5h0" stroke="#6b57eb" stroke-width="2.48" stroke-linecap="round"/>
<path transform="scale(.5)" d="M953 252h0m19 0h0m1 7h0m-5-4h0m-9 0h0m-5 8h0m23 4h0m-26 7h0m53 5h0m-8-3h0m-3 3h0m-10-1h0m-17 1h0m-3-1h0m-5-2h0m-1 1h0m5 4h0m15 2h0m16-3h0m0 1h0m1-1h0m1 1h0m0 2h0m1-1h0m11 5h0m-8 2h0m0-3h0m-2 0h0m-1 0h0m-41 4h0m37 1h0m2 3h0m3-1h0m3 1h0m4 0h0m3 0h0m1-2h0m5-1h0m3-1h0m-2 7h0m-1 0h0m-1 0h0m-1 1h0m-3-2h0m-3-1h0m-8 0h0m-45 0h0m48 7h0m1 0h0m6-2h0m3 2h0m4-2h0" stroke="#d2d1d8" stroke-width="2.48" stroke-linecap="round"/>
<path transform="scale(.5)" d="M939 292h0m-9 13h0m7 7h0" stroke="#503aee" stroke-width="2.48" stroke-linecap="round"/>
<path transform="scale(.5)" d="M972 230h0m8 4h0m4 4h0" stroke="#a092e6" stroke-width="2.48" stroke-linecap="round"/>
<path transform="scale(.5)" d="M954 252h0m1 2h0m9-3h0m7 2h0m5 3h0m-1 1h0m0-1h0m-3-1h0m-4 1h0m-2 3h0m-2-2h0m-3 1h0m-3 0h0m-2-1h0m-4 2h0m0-3h0m-3 4h0m4 2h0m1-1h0m3 2h0m1 0h0m2-3h0m6 0h0m0 3h0m7-3h0m2 3h0m2-2h0m0 8h0m-1 0h0m-12 0h0m-7-4h0m-7 0h0m-1 3h0m-1-3h0m2 6h0m1-1h0m2 3h0m1-3h0m12 2h0m0 2h0m3-1h0m1 0h0m4-3h0m1 4h0m0 0h0m9 5h0m-12-1h0m-5 0h0m-4-3h0m-1 1h0m-3 0h0m-2 3h0m-2 0h0m0-1h0m0-2h0m-1 2h0m-2 1h0m-3-1h0m-1 6h0m2-4h0m2 3h0m3-3h0m1 3h0m5-2h0m3 3h0m13-3h0m0 1h0m1 1h0m5-3h0m0 2h0m1-2h0m-9 6h0m-3-1h0m-4 4h0m-4-4h0m-4 1h0m-4 2h0m-4-1h0m4 4h0m0 1h0m1 2h0m1-3h0m3 0h0m5-1h0m2 0h0m-9 5h0" stroke="#b1a7e1" stroke-width="2.48" stroke-linecap="round"/>
<path transform="scale(.5)" d="M957 253h0m5 1h0m11 4h0m-4-2h0m-15 5h0m20-1h0m1 8h0m-4-3h0m-4 2h0m-9-2h0m-2 6h0m0 4h0m-6 2h0m0 3h0m17 2h0m0 2h0m7-4h0m-12 8h0m-11 3h0m8 1h0" stroke="#a092e6" stroke-width="2.48" stroke-linecap="round"/>
<path transform="scale(.5)" d="M959 251h0m1 0h0m0 2h0m7 0h0m1 1h0m8 2h0m-5 2h0m-9-1h0m-2-1h0m-1 1h0m-4-2h0m-1 1h0m0-1h0m-1 3h0m-1-3h0m-1 1h0m-3 5h0m4-1h0m1 1h0m5 1h0m4-1h0m0 2h0m10-1h0m5 5h0m-3 1h0m-1-2h0m-1 1h0m-2 0h0m-2 0h0m-2 1h0m-3 1h0m0-2h0m-5-1h0m-4 0h0m-1-1h0m-4 5h0m3 4h0m0 0h0m1-1h0m7 1h0m1-2h0m2-1h0m1-1h0m3 0h0m0 4h0m1-1h0m1 1h0m7-1h0m3 1h0m0 1h0m-7 0h0m-1 3h0m-3 0h0m-2-1h0m-3 0h0m-1-1h0m-2 0h0m0-1h0m-2 1h0m-1 2h0m-8-3h0m0 6h0m2-1h0m10 1h0m0 2h0m3-2h0m5 1h0m1-1h0m2 2h0m1-2h0m0 3h0m0 0h0m1-3h0m0 3h0m5-3h0m-5 4h0m-9 2h0m-4 2h0m-6-3h0m-1 2h0m-5-3h0m2 7h0m6-1h0m3 4h0" stroke="#c1bcdd" stroke-width="2.48" stroke-linecap="round"/>
<path transform="scale(.5)" d="M977 286h0m5 3h0m2-2h0m3 7h0m-2-1h0m-2-1h0m-2-2h0m-2 1h0m-1 3h0m-2-1h0m-1-2h0m-2 1h0m-2 2h0m0-4h0m-1 2h0m-3 2h0m0-1h0m-11 6h0m4-3h0m2-1h0m0 0h0m2 3h0m1-3h0m1 2h0m0 2h0m1-1h0m2-2h0m2-1h0m3 1h0m0 3h0m1 0h0m1-3h0m1 2h0m0 0h0m1-2h0m0 1h0m1-1h0m1-1h0m0 3h0m0 1h0m1-4h0m2 1h0m2 3h0m0 1h0m-3 2h0m-1 2h0m0-1h0m0-3h0m-2 1h0m-1 0h0m-1 3h0m0-4h0m0 0h0m-2 4h0m-1 0h0m-4 0h0m0-4h0m-1 3h0m0-3h0m-2 1h0m0 0h0m0-1h0m-4 3h0m-2 0h0m-3-3h0m-2 2h0m0 3h0m2 0h0m2 2h0m1 2h0m0 0h0m2-3h0m0 3h0m2-3h0m2 3h0m1-1h0m1-3h0m1 4h0m1-4h0m1 3h0m0 1h0m4-1h0m1-1h0m0 1h0m2-1h0m0 1h0m2-1h0m2-1h0m-4 6h0m-2 0h0m-2-1h0m-1-1h0m-2 2h0m-3 0h0m-2 1h0m-5-2h0m-1 3h0m-5 0h0m3 2h0m3 2h0m2-1h0m1-1h0m3 0h0m2 2h0m1 1h0m2 0h0m1-2h0m1-2h0m1 1h0m-2 5h0m-1 1h0m-1 2h0m-4-1h0m-1-2h0m0-1h0m-2 3h0m0-1h0m7 3h0m1 1h0" stroke="#503aee" stroke-width="2.48" stroke-linecap="round"/>
<path transform="scale(.5)" d="M995 274h0m4 0h0m4 5h0m-4 0h0m-2-1h0m0-3h0m-5 4h0m0-4h0m-3 9h0m2-1h0m5-2h0m1 1h0m0 2h0m7-4h0m3 2h0m5 1h0m0 1h0m2-1h0m3 4h0m-2 0h0m-5 2h0m-7-4h0m-3 2h0m-3 0h0m-2 1h0m-1 1h0m0-3h0m-1 3h0m-1-4h0m-1 0h0m4 5h0m6 2h0m1 0h0m7 1h0m3 1h0m2-3h0m2-1h0m1 3h0m-1 5h0m-6-3h0m-6 3h0m-2-3h0m-1 3h0m-2-1h0m-3-1h0m-2 0h0m0 0h0m6 5h0m2 1h0m2-1h0m6 0h0m0 1h0" stroke="#d2d1d8" stroke-width="2.48" stroke-linecap="round"/>
<path transform="scale(.5)" d="M952 251h0m3 2h0m1-3h0m2 2h0m3 2h0m4-1h0m6 0h0m5 5h0m0-1h0m0-1h0m0-1h0m-12 2h0m-1 0h0m-6-1h0m-7 2h0m0-3h0m0 5h0m4 2h0m3-2h0m10 1h0m0 0h0m10-1h0m0 2h0m1 3h0m-12 3h0m-10-3h0m-3 0h0m2 5h0m2 1h0m1-1h0m8 1h0m1-1h0m1 2h0m2-2h0m2 2h0m0 1h0m1-2h0m2 1h0m1-1h0m2 3h0m1 0h0m0 5h0m-3 0h0m-11 0h0m-3-4h0m-1 0h0m-3 1h0m-2 1h0m0-2h0m-4 0h0m-1 4h0m3 2h0m1 1h0m1 0h0m2 1h0m1-1h0m6-1h0m0 1h0m0 0h0m5 1h0m1 1h0m1-4h0m2 3h0m2-2h0m1 3h0m-8 3h0m-6-2h0m-1 2h0m-2 2h0m-1 0h0m0-3h0m-4 2h0m0-1h0m0-2h0m-2 4h0m0 0h0m-3-3h0m2 4h0m1 0h0m1 3h0m2-3h0m2 3h0m1 0h0m2 0h0m2-3h0m5 0h0" stroke="#b1a7e1" stroke-width="2.48" stroke-linecap="round"/>
<path transform="scale(.5)" d="M952 329h0m7-2h0m0 1h0m7-1h0m3 1h0m4 2h0m-5 2h0m0-1h0m-1 2h0" stroke="#8575e9" stroke-width="2.48" stroke-linecap="round"/>
<path transform="scale(.5)" d="M970 241h0m3 0h0m1 6h0m-1 2h0m-19 5h0m16-2h0m0 0h0m3 0h0m-8 5h0m-1-1h0m-3 0h0m-5 3h0m12 1h0m2 9h0m-6 1h0m6 12h0m-21 0h0m0 4h0m1 0h0m3 5h0" stroke="#a092e6" stroke-width="2.48" stroke-linecap="round"/>
<path transform="scale(.5)" d="M977 232h0m6 0h0m-3 4h0m-5 7h0m8-1h0m2-2h0m-12 7h0m-4 2h0m0-4h0m-1 3h0m-2 1h0m-4 3h0m5-2h0m6 9h0m0-4h0m-2 5h0m44 12h0m-2 2h0m-2-2h0m-1 1h0m-2-1h0m-7 6h0m6 1h0m1-4h0m3 3h0m0 0h0m3 1h0m2-3h0m2 0h0m0 2h0m3-1h0m1 6h0m0-1h0m0 0h0m-1 1h0m0-2h0m-1-1h0m-2 4h0m0-1h0m0-1h0m0-1h0m-1 0h0m-3-1h0m-8 1h0m-1-1h0m-1 0h0m15 5h0m1 3h0m1 0h0m2-1h0m0 3h0m-1 0h0" stroke="#d2d1d8" stroke-width="2.48" stroke-linecap="round"/>
<path transform="scale(.5)" d="M1001 274h0m5 0h0m1 0h0m2 0h0m0 0h0m3-2h0m3 1h0m0 1h0m5 5h0m-2 0h0m0-3h0m-1 1h0m-6-1h0m-1 1h0m-2-2h0m-1 4h0m0-3h0m-1 2h0m0-3h0m-1 1h0m0 0h0m-8 1h0m-1 2h0m-2 1h0m1 2h0m0 2h0m2-4h0m3 4h0m7-3h0m5-1h0m3 4h0m1-3h0m1-1h0m2 1h0m3 4h0m-2 0h0m-5 2h0m-10 0h0m0-2h0m-2 3h0m-2 1h0m-2-3h0m-1 2h0m-6 0h0m3 3h0m0 1h0m3 0h0m2 0h0m0 2h0m1-1h0m1-2h0m2 2h0m1 0h0m5-1h0m0 1h0m5-2h0m1 1h0m0 4h0m-1 0h0m0-1h0m-1 4h0m0-2h0m0-2h0m-2 4h0m0-1h0m0-1h0m-2-1h0m-1 3h0m-1-2h0m-2 1h0m0-3h0m-5 4h0m-2-4h0m-1 4h0m0-2h0m-4 2h0m5 3h0m1-1h0m0 2h0m1-3h0m2 2h0m3-2h0m1 0h0m4 2h0" stroke="#c1bcdd" stroke-width="2.48" stroke-linecap="round"/>
<path transform="scale(.5)" d="M975 228h0m1 1h0m1 0h0m7 5h0m0 0h0m-3 0h0m0-3h0m-1 0h0m-1 0h0m-1 0h0m-3 0h0m-2-1h0m3 6h0m7-1h0m0 2h0m1-2h0m0 2h0m2 3h0m-1 4h0m-14-2h0m-2 2h0m-1-1h0m-3 2h0m0 2h0m0 1h0m2-3h0m0 3h0m1-2h0m1 0h0m3 1h0m1-1h0m2 0h0m1-1h0m0 3h0m9-2h0m2 1h0m-11 4h0m-1 2h0m0-2h0m-1 3h0m-1-4h0m-1 0h0m-1 1h0m-1 3h0m-6-1h0m-1-2h0m-1 1h0m-2 4h0m1 1h0m1 1h0m1 0h0m6 0h0m1-3h0m1 0h0m1 0h0m0 0h0m4 0h0m0 1h0m1 0h0m-7 4h0m0 0h0m0 0h0m-5 1h0m-1 0h0m0-1h0m-1 0h0m30 14h0m18 0h0m-2 1h0m-7 4h0m-16-1h0m-2-1h0m16 4h0m14-1h0m-15 9h0m-6-2h0m1 7h0m14 0h0m7 4h0m-4 1h0m-1-3h0m-12-1h0m-1 3h0m4 4h0m3-2h0m6 2h0" stroke="#b1a7e1" stroke-width="2.48" stroke-linecap="round"/>
<path transform="scale(.5)" d="M953 254h0m21-1h0m2 4h0m-5 1h0m-2-1h0m-7-2h0m-2 1h0m-5 3h0m-1 0h0m-3 1h0m0 2h0m1-1h0m8 3h0m3 0h0m1-4h0m0 3h0m13-1h0m0 0h0m-2 4h0m-1 0h0m-1 2h0m-12 1h0m-5-4h0m-2 3h0m-2-1h0m-1-2h0m-1 6h0m7 0h0m1 0h0m2 1h0m4 0h0m1-2h0m2 2h0m3 1h0m5 0h0m27 6h0m-8-3h0m-3 2h0m-1-1h0m-15 1h0m-11-1h0m-8 0h0m-4 2h0m-1-2h0m14 5h0m2-2h0m1 1h0m0 1h0m1-2h0m4 4h0m11-2h0m0 0h0m9-1h0m3 2h0m2-2h0m1 0h0m12 3h0m1 2h0m-14 2h0m-5-1h0m-10-2h0m-11 0h0m-6 2h0m-11-1h0m-4-1h0m7 7h0m7-1h0m25 0h0m1 1h0m17-2h0m0 1h0m9 0h0m-5 7h0m-2-2h0m-1 1h0m0-2h0m-6 0h0m-6 2h0m0-2h0m-2 1h0m-41 0h0m49 6h0m4-2h0m5 0h0" stroke="#c1bcdd" stroke-width="2.48" stroke-linecap="round"/>
<path transform="scale(.5)" d="M1009 274h0m1-1h0m3 0h0m4 2h0m-4 3h0m0-2h0m-4 3h0m0-4h0m-3 0h0m-1 4h0m-1-3h0m0-1h0m-2 4h0m-2-3h0m-2 3h0m-3-2h0m-1 1h0m-1 1h0m0-1h0m-3 1h0m-1 0h0m-1 0h0m0 1h0m2 3h0m1-2h0m3-1h0m9 3h0m2-2h0m7-1h0m4 5h0m-4 4h0m-3-4h0m-3 2h0m-4-2h0m-6 2h0m-5 2h0m6 3h0m3 0h0m6 2h0m9 0h0m1-4h0m2 9h0m-3-3h0m-4-1h0m-9 2h0m-3 1h0m0-3h0m-1 1h0m-3 1h0m5 3h0m7 3h0m2-1h0" stroke="#d2d1d8" stroke-width="2.48" stroke-linecap="round"/>
<path transform="scale(.5)" d="M977 288h0m4-2h0m-11 4h0m-5 3h0m-2 1h0m-5 4h0m1-2h0m0 3h0m2-3h0m2-1h0m5 2h0m4 0h0m3-1h0m0 3h0m4-3h0m2 3h0m1-1h0m4-1h0m0 2h0m-6 2h0m-6 1h0m-7-1h0m-2 2h0m0-2h0m-9 2h0m0-1h0m-1 4h0m10 3h0m3 0h0m3-4h0m0 4h0m1-2h0m4 2h0m3-2h0m2 2h0m1 0h0m-4 2h0m-3 3h0m-6-1h0m-10 0h0m2 2h0m0 3h0m12 1h0m1 0h0m1-4h0m0 2h0m1 5h0m-5 2h0m0-3h0m-2-1h0m-2 4h0m-1 0h0m0-1h0m-3-3h0m-5 4h0m-13 2h0m0 1h0m0 0h0m0 1h0m2 0h0m0 1h0m3-2h0m1-2h0m1 0h0m0 1h0m0 1h0m0 2h0m0 0h0m2-2h0m0 0h0m2 1h0m2-2h0m1 2h0m2-2h0m0 2h0m3-2h0m0 2h0m0 0h0m1-1h0m0 1h0m1-1h0m0 2h0m1-3h0m3 1h0m4-1h0m-5 7h0m-1-3h0m-1 2h0m-1 2h0m-1-1h0m0-1h0m0-1h0m-1 2h0m0-1h0m-1 0h0m-1-2h0m-6 4h0m0 0h0m-1-3h0m-2-1h0m-3 3h0m0-2h0m-1 0h0m0 0h0m-1 2h0m-2-3h0m0 0h0m-1 0h0m8 6h0m1 1h0m3-1h0m0 1h0m2 1h0m0 0h0m3 1h0m3-1h0m1-3h0m3 2h0m1 0h0" stroke="#503aee" stroke-width="2.48" stroke-linecap="round"/>
<path transform="scale(.5)" d="M968 319h0m-1 5h0m-14 3h0m21 2h0m-14 2h0m-5 2h0m-2-1h0m-5 1h0m5 4h0" stroke="#8575e9" stroke-width="2.48" stroke-linecap="round"/>
<path transform="scale(.5)" d="M932 293h0m1-1h0m1 1h0m4-2h0m0 2h0m0 1h0m1-3h0m2-1h0m1 1h0m0 2h0m2 1h0m1 0h0m1-1h0m1 1h0m1 3h0m-6-1h0m-9-1h0m-4 6h0m4 2h0m2 8h0m-1 3h0m0-1h0m0 4h0m1-1h0m4 1h0m29 7h0m-32-2h0m10 6h0m4-3h0m2 0h0m1 1h0m1 2h0m7-3h0m11 0h0m-3 8h0m-1 0h0m-1-2h0m0-1h0m-2 0h0m-9 3h0m-4-1h0m-5-2h0m-1 2h0m7 3h0m2 2h0m0 0h0m7 0h0m1 0h0" stroke="#6b57eb" stroke-width="2.48" stroke-linecap="round"/>
<path transform="scale(.5)" d="M932 289h0m3 0h0m3-2h0m3 2h0m2 0h0m3 4h0m-1-1h0m-1 0h0m-1 2h0m0 0h0m0-1h0m0-2h0m-1 2h0m-1 1h0m-2-1h0m0 0h0m0-2h0m-2 3h0m-1-2h0m0-1h0m-1 3h0m0-1h0m-1-3h0m-3 3h0m0-1h0m-1-1h0m0 0h0m0-1h0m-1 8h0m1-3h0m1 1h0m0 3h0m1-4h0m0 4h0m1-3h0m0 2h0m1-3h0m0 3h0m1-3h0m3 2h0m4 0h0m1 0h0m1-2h0m1 4h0m1-4h0m0 1h0m0 3h0m2-2h0m1 0h0m0 0h0m-2 3h0m-1 1h0m0-1h0m-1 0h0m-12 4h0m-1-3h0m-1 3h0m0 0h0m0-4h0m-1 1h0m0-1h0m-1 3h0m-1 3h0m1 1h0m2 0h0m1-2h0m2 4h0m1-1h0m1 1h0m2 5h0m-1-1h0m0 0h0m-1-3h0m-1 2h0m0-1h0m-2 1h0m0-1h0m-3 0h0m0-1h0m5 5h0m0 2h0m1-2h0m1 2h0m0 0h0m1-1h0m0 0h0m0 3h0m1 0h0m0 0h0m2 4h0m0-3h0m-1 2h0m0-2h0m-2 2h0m0-2h0m-2 4h0m0-1h0m0-2h0m2 5h0m1-1h0m7 4h0m11-1h0m7 0h0m5 1h0m2 0h0m0 0h0m-4 4h0m-1-1h0m-6 1h0m-1 0h0m0-3h0m-1 8h0m1-1h0m0 2h0m6-1h0m0 1h0m3-2h0m4-1h0m-6 5h0" stroke="#503aee" stroke-width="2.48" stroke-linecap="round"/>
<path transform="scale(.5)" d="M957 250h0m5 1h0m1 3h0m2-2h0m1 0h0m9 1h0m-1 5h0m-2-2h0m0-1h0m-1 0h0m-4 0h0m-1 1h0m-1 2h0m-1-3h0m-1 0h0m-6 0h0m-1 1h0m-1-1h0m-3 7h0m4-1h0m0 0h0m0 3h0m5-4h0m3 1h0m1 0h0m9 2h0m3 3h0m-6-1h0m-1 3h0m-1 1h0m-3-1h0m-5-2h0m-4-1h0m-2 1h0m-2 0h0m-4 4h0m6 1h0m0 2h0m4-3h0m2 1h0m1 0h0m1-1h0m0 4h0m8-3h0m0 1h0m1 0h0m1 1h0m1 0h0m5 2h0m-3 2h0m-6 0h0m0-2h0m-7 1h0m-5 3h0m-8 2h0m0 3h0m1-2h0m10-2h0m1 0h0m3 3h0m1-2h0m0 1h0m0 2h0m2-1h0m4-3h0m1 1h0m1 0h0m0 2h0m2-3h0m1 2h0m1 0h0m1 0h0m-6 4h0m-2 1h0m-10 2h0m0-1h0m-6-2h0m-1-1h0m0 0h0m0 8h0m5-2h0m1 3h0m4-2h0m1-1h0m-6 5h0m-3-1h0" stroke="#b1a7e1" stroke-width="2.48" stroke-linecap="round"/>
<path transform="scale(.5)" d="M973 289h0m4-2h0m6 1h0m1 0h0m1 1h0m4 3h0m-3 1h0m0-3h0m-1 4h0m0-1h0m-2-1h0m0-1h0m-1 1h0m0-1h0m0-1h0m-1 3h0m-2-1h0m0-2h0m-2 1h0m0 0h0m0-1h0m-1 2h0m-2 2h0m-6-3h0m-2 1h0m-2 2h0m-5 2h0m1 0h0m0 2h0m4-3h0m0 4h0m7-2h0m2 1h0m0 0h0m0 1h0m2-2h0m0 0h0m3-2h0m1 2h0m2 2h0m0 0h0m3-1h0m2 2h0m-5 4h0m-3-1h0m-1 0h0m-2-2h0m-1 3h0m0 0h0m0-1h0m0-3h0m-2 2h0m0 0h0m-1 0h0m0-2h0m-5 1h0m-1 3h0m-3-4h0m-1 2h0m-3 0h0m-1 2h0m0 2h0m0 2h0m2-2h0m0 2h0m1-1h0m2 1h0m3-1h0m2-1h0m3-1h0m0 1h0m1 1h0m3 0h0m3 1h0m1-3h0m1 1h0m2 0h0m2-1h0m0 3h0m2-2h0m1-1h0m-5 5h0m-2 1h0m-1 3h0m-5 0h0m-5 0h0m0-1h0m-1-1h0m0-1h0m-5-1h0m-1 1h0m-4 1h0m0-1h0m2 6h0m3-1h0m0 0h0m1 2h0m1-3h0m3 3h0m5 0h0m0 0h0m1 1h0m1-1h0m2-3h0m0 1h0m0 3h0m0 1h0m-2 2h0m-3 1h0m0-1h0m-1-1h0m-1 3h0m0-2h0m-2 2h0m0-3h0m-2-1h0m-2 0h0m5 5h0m6 0h0" stroke="#503aee" stroke-width="2.48" stroke-linecap="round"/>
<path transform="scale(.5)" d="M967 251h0m0 3h0m6 5h0m-15-1h0m-3 1h0m-4 2h0m0 1h0m11-1h0m14 0h0m2 3h0m0 3h0m-16-2h0m-12 0h0m29 8h0m-11 11h0m-19 0h0m0 3h0m8-2h0m11 3h0m-18 6h0" stroke="#a092e6" stroke-width="2.48" stroke-linecap="round"/>
<path transform="scale(.5)" d="M975 235h0m0 2h0m1-1h0" stroke="#b1a7e1" stroke-width="2.48" stroke-linecap="round"/>
<path transform="scale(.5)" d="M839 453h0m-6 10h0m26 3h0m-20 9h0m-16 8h0m0 1h0m6-2h0m1 1h0m0 1h0m1 0h0m1 0h0m0 0h0m4-1h0m8 1h0m1-3h0m0 0h0m0 2h0m0 0h0m1 0h0m6 1h0m0 2h0m-1 1h0m-3-2h0m-2 4h0m-1 0h0m0-3h0m-1 0h0m0 0h0m-1 2h0m0-2h0m-3 2h0m0-1h0m-2 2h0m0-2h0m-1-2h0m-4 1h0m0-1h0m-2 2h0m-1-1h0m-3 3h0m-1-3h0m2 7h0m3 0h0m1 1h0m1-3h0m2 3h0m4-1h0m2-2h0m0 1h0m1-1h0m1 2h0m0 0h0m5-2h0m-5 4h0m-9 1h0" stroke="#c1bcdd" stroke-width="2.48" stroke-linecap="round"/>
<path transform="scale(.5)" d="M898 442h0" stroke="#b1a7e1" stroke-width="2.48" stroke-linecap="round"/>
<path transform="scale(.5)" d="M895 432h0m1 1h0m3 6h0m-89 7h0m7 2h0m2-2h0m0 1h0m2 1h0m1 1h0m5 5h0m-1 0h0m-2-1h0m0-2h0m0-1h0m-3 4h0m0-4h0m-2 1h0m-2-1h0m0 0h0m-1 2h0m-3-1h0m-1-1h0m-1 0h0m-1 2h0m-1-2h0m-1 8h0m15-1h0m1 0h0m1 0h0m-16 4h0m-2 4h0m4 3h0m2 1h0m0 0h0m1-1h0m1 1h0m1 4h0m0 0h0m-1 1h0m0-4h0m0 0h0m-2 4h0m-2 1h0m3 4h0m3-2h0m1 0h0m29 6h0m-18-1h0m-10-2h0m-2 2h0m-3-1h0m10 7h0m1-3h0m2 4h0m3 0h0m9-4h0m1 1h0m2-1h0m1 2h0m1 0h0m1 0h0m7 5h0m0-2h0m-5 2h0m-3 0h0m-4 2h0m-2-4h0m-1 4h0m-4 0h0m-2-4h0m5 5h0m1 1h0m3 0h0" stroke="#b1a7e1" stroke-width="2.48" stroke-linecap="round"/>
<path transform="scale(.5)" d="M834 414h0m4-1h0m5 1h0m11-1h0m-18 2h0m-2 1h0m-5 4h0m7 2h0m15 1h0m3 3h0m-10 3h0m-16-1h0m1 4h0m18-2h0m6 0h0m0 5h0m-12 0h0m-13 2h0m0-2h0m14 6h0m8 1h0m-13 10h0" stroke="#503aee" stroke-width="2.48" stroke-linecap="round"/>
<path transform="scale(.5)" d="M851 446h0m4 1h0m1-2h0m1 3h0m3-2h0m0 1h0m0 1h0m0 1h0m1-4h0m0 3h0m1-2h0m1 0h0m1 1h0m-1 4h0m0 0h0m0-1h0m-2 3h0m-2-3h0m-3 4h0m-3 0h0m-1-3h0m-1 1h0m-8 1h0m0-2h0m-1 1h0m0-1h0m-1 2h0m-3 0h0m1 6h0m8-2h0m4-1h0m0 0h0m6 2h0m2-2h0m0 1h0m2-2h0m2 8h0m-4-2h0m0-1h0m-2 3h0m-1-1h0m-4-1h0m-5 2h0m-4 1h0m0-3h0m-4-1h0m-3 2h0m-2-2h0m1 9h0m2-4h0m3 2h0m5-1h0m0 3h0m1-4h0m9 0h0m3 3h0m-4 6h0m-1-3h0m-2 0h0m-5-1h0m-6 3h0m-3 1h0m1 3h0m3 0h0m2 0h0m2 1h0m3 0h0m2-3h0m2 0h0m0 4h0m0 4h0m-3-3h0m-2 1h0" stroke="#b1a7e1" stroke-width="2.48" stroke-linecap="round"/>
<path transform="scale(.5)" d="M853 444h0m9 0h0m-2 3h0m-5-2h0m-1 4h0m-3-1h0m-3 1h0m0-1h0m-2 1h0m-5 2h0m8 1h0m0 2h0m4 0h0m4 0h0m35 1h0m-30 1h0m-2 3h0m-1-2h0m-6 1h0m0-2h0m-1 1h0m-7-2h0m-3 3h0m0-1h0m-7 6h0m3 1h0m10-1h0m1-3h0m0 2h0m0 2h0m1 0h0m0 0h0m2-3h0m3 0h0m6 1h0m3 1h0m-3 2h0m-2 2h0m-2 2h0m-1-1h0m-1-3h0m-1 1h0m-9 3h0m-2-3h0m-3-1h0m-3 5h0m3 3h0m0 0h0m2-1h0m3-2h0m1 1h0m1 0h0m5 3h0m2 5h0m0-2h0m0-1h0m-4-1h0m-2 4h0m-1-2h0m-1-1h0m-1 1h0m0-2h0m0 6h0m1 2h0m6-2h0" stroke="#a092e6" stroke-width="2.48" stroke-linecap="round"/>
<path transform="scale(.5)" d="M838 408h0m12 1h0m4 4h0m-1-3h0m-3 2h0m-10-1h0m-3 1h0m-2-2h0m-2 2h0m-1 1h0m0-2h0m-5 6h0m2 0h0m1-1h0m0 2h0m1 1h0m1-3h0m0 3h0m7-4h0m3 2h0m0 1h0m1-3h0m0 3h0m8-3h0m0 2h0m1 0h0m3 7h0m0-1h0m0-3h0m-10 4h0m-1-4h0m-4 3h0m-1 0h0m-3-3h0m-1 0h0m-1 2h0m-6 1h0m-2-1h0m8 6h0m5-2h0m3 1h0m0 0h0m1 0h0m2 2h0m3-4h0m3 0h0m6 7h0m-4 0h0m-1-2h0m-1 0h0m-3 0h0m-4 1h0m-3 3h0m0-1h0m0 0h0m-3-2h0m-3 3h0m-1-2h0m-3-2h0m-2 4h0m-2 1h0m3 2h0m3-1h0m0 0h0m0 1h0m3 0h0m3 0h0m1 1h0m3 1h0m1 0h0m1-3h0m0 2h0m3 0h0m4 0h0m2-3h0m1 6h0m0-1h0m-2 3h0m-2-2h0m-1-1h0m-4 0h0m-4 2h0m-3-1h0m-6 2h0m0 0h0m-1-1h0m-3 0h0m-1 1h0m0-1h0m1 6h0m5-2h0m2 2h0m0 1h0m1-1h0m6 0h0m3-2h0m-14 7h0" stroke="#8575e9" stroke-width="2.48" stroke-linecap="round"/>
<path transform="scale(.5)" d="M870 433h0m1-2h0m4 1h0m2-1h0m2 0h0m3 6h0m-2-1h0m-3 2h0m-1 0h0m-1 1h0m0-4h0m-1 2h0m-3 0h0m-4 4h0m2 1h0m2 2h0m1-1h0m1-3h0m0 1h0m1-1h0m3 3h0m1-2h0m5 3h0m2-4h0m5 1h0m0 3h0m3-2h0m1 1h0m1 1h0m-2 1h0m-1 3h0m-6 0h0m-1-3h0m-5 4h0m-2 0h0m-2 0h0m0-3h0m-1-1h0m-2 2h0m-3 1h0m-1 1h0m-1-1h0m4 5h0m0 0h0m2 0h0m1-3h0m0 2h0m3 0h0m1-2h0m4 0h0m4 0h0m0 2h0m3-1h0m3 1h0m0 1h0m2-3h0m-3 6h0m-3 1h0m0-1h0m-1 3h0m-3-1h0m-4 1h0m-2 0h0m0-4h0m-1 4h0" stroke="#a092e6" stroke-width="2.48" stroke-linecap="round"/>
<path transform="scale(.5)" d="M808 448h0m17 3h0m-5-1h0m-7 0h0m-7 13h0m1-3h0m6 6h0m-2 3h0m12 15h0m3-1h0m2-1h0m0 2h0m2-1h0m0 0h0m8-1h0m1 0h0m7 1h0m3 0h0m2 2h0m-1 3h0m-1-2h0m0 0h0m-2 0h0m-1 1h0m-1 1h0m0-2h0m-1 3h0m-1-1h0m0-1h0m-1-2h0m-5 0h0m-2 0h0m-5 1h0m0-1h0m-1 0h0m-1 3h0m-1-2h0m-1 2h0m-1-1h0m0-1h0m-1 0h0m-1 2h0m1 2h0m7 2h0m2 2h0m1-4h0m3 0h0m8 0h0m1 3h0m1-3h0m0 4h0m3-1h0m-6 5h0m-1-1h0m-7-2h0" stroke="#c1bcdd" stroke-width="2.48" stroke-linecap="round"/>
<path transform="scale(.5)" d="M850 385h0m2 0h0m1 1h0m1 0h0m0 3h0m3-1h0m2 1h0m2 0h0m-1 1h0m-9 9h0m11-4h0m1 2h0m1 0h0m-1 5h0m-12 1h0m-4-1h0m-1 1h0m-6 6h0m0 0h0m4-3h0m3 3h0m2 0h0m1-2h0m1-1h0m1 5h0m-1 1h0m0-1h0m-3 2h0m-9 1h0m-1-1h0m2 3h0m9-1h0m2 0h0m42 14h0m-11 4h0m1 0h0m1-1h0m1-1h0m0 2h0m2-2h0m0 1h0m2-2h0m0 1h0m0 2h0m1-3h0m3 1h0m1 2h0m6 6h0m0 0h0m-3-1h0m-1 1h0m0-1h0m0-1h0m-1 0h0m-3-1h0m-2 2h0m0-1h0m-5-1h0m0 0h0m-2 2h0m0-1h0m-1 0h0m-3-2h0m-4 3h0m-3-3h0m-1 1h0m-4 0h0m-1 2h0m0-1h0m11 6h0m3-1h0m1-1h0m12 3h0m3-3h0m3-1h0m1 2h0m1 2h0m-1 3h0m-3 0h0m-3 0h0m-1 2h0m-5 0h0m-15 0h0m-3-4h0m-1 1h0m3 5h0m1 3h0m6-3h0m1 3h0m4-2h0m5 0h0m4 1h0m3 3h0m-17 3h0m0-3h0m-1 2h0m9 2h0" stroke="#8575e9" stroke-width="2.48" stroke-linecap="round"/>
<path transform="scale(.5)" d="M850 386h0m0 1h0m1 0h0m0 0h0m1 0h0m0 2h0m1-1h0m0 1h0m1-3h0m1 0h0m0 0h0m1-1h0m0 3h0m0 1h0m2-1h0m0 0h0m1-1h0m0 2h0m3 5h0m0-3h0m-1 3h0m-3-3h0m-2-1h0m-3 4h0m0-2h0m-5 6h0m1 1h0m1 0h0m11-3h0m0 0h0m0 3h0m4 5h0m0 0h0m-1-3h0m-1 2h0m0 0h0m0-1h0m-1 1h0m-8-1h0m-1 0h0m0-2h0m-2 4h0m-5-3h0m0-1h0m-3 3h0m-2 4h0m0 1h0m2-3h0m0 2h0m1 0h0m1-2h0m0 1h0m0 1h0m0 2h0m2-3h0m1 0h0m0 3h0m1-1h0m2-1h0m2 2h0m2 0h0m0 4h0m-2-3h0m-2 1h0m0 0h0m-1 2h0m0 0h0m-1-1h0m-1-1h0m-1 0h0m-1 1h0m-4-2h0m0 7h0m0 0h0m0 1h0m0 0h0m1 0h0m2 0h0m2-2h0m1 1h0m1 0h0m2 0h0" stroke="#6b57eb" stroke-width="2.48" stroke-linecap="round"/>
<path transform="scale(.5)" d="M816 444h0m4 4h0m-3 0h0m-3 0h0m0 0h0m-1-2h0m-1 1h0m-3 2h0m-1 4h0m3-1h0m0 1h0m2-1h0m2-1h0m1-1h0m4 0h0m1 2h0m0 0h0m1-1h0m1-1h0m0 1h0m4 3h0m-3 4h0m0-1h0m-12-2h0m-1 0h0m-1 3h0m0-2h0m-1 1h0m0-1h0m-1 2h0m-1-3h0m2 6h0m0 3h0m1-2h0m1-2h0m0 1h0m3 6h0m-1 2h0m-1-3h0m-4 1h0m4 4h0m0 3h0m1-2h0m0 1h0m1-1h0m1 2h0m1-3h0m0 2h0m2 6h0m-1-3h0m-1 1h0m0 0h0m-2 1h0m0 2h0m2 3h0" stroke="#c1bcdd" stroke-width="2.48" stroke-linecap="round"/>
<path transform="scale(.5)" d="M808 447h0m0 1h0m8 0h0m8 6h0m-2-1h0m-2 1h0m0 0h0m-10-4h0m-1 3h0m-2 6h0m9-4h0m7 1h0m3-1h0m-18 13h0m4 4h0m5 2h0m2 4h0m27 3h0m-4 5h0m-5 2h0m-5-3h0m9 9h0m5-4h0m1 0h0m-4 5h0" stroke="#d2d1d8" stroke-width="2.48" stroke-linecap="round"/>
<path transform="scale(.5)" d="M830 425h0m31 19h0m-12 3h0m8 1h0m2-1h0m5 1h0m1 4h0m-3 2h0m-1-1h0m-5 1h0m-2-4h0m-3 0h0m-6 2h0m-1 2h0m-10 2h0m0 3h0m2-2h0m6-2h0m3 3h0m0 1h0m3-2h0m3-2h0m1 1h0m1 0h0m0 1h0m2-1h0m0 0h0m0 1h0m1 2h0m1-1h0m1-3h0m0 2h0m5 0h0m-2 6h0m-2 1h0m0-3h0m-2 3h0m-2 0h0m0-3h0m-3 0h0m-9 2h0m-2 0h0m0-3h0m-4 0h0m-1 2h0m-1-1h0m-1 2h0m0-1h0m4 3h0m1 1h0m0 0h0m1 2h0m0 0h0m1-2h0m0 2h0m6 1h0m1-3h0m4 1h0m1 2h0m1-4h0m1 4h0m-8 5h0m-1-1h0m-8-2h0m-4 1h0m9 7h0m1-4h0m1 3h0m1 0h0m2-3h0m0 4h0m-2 2h0m-3-1h0" stroke="#b1a7e1" stroke-width="2.48" stroke-linecap="round"/>
<path transform="scale(.5)" d="M852 459h0m-2 1h0m-2 3h0m-3 0h0m-11 2h0m10 18h0m0-3h0m-1 4h0m-2-2h0m-2 1h0m-10 1h0m-3 4h0m4-2h0m4 0h0m7 2h0m3-2h0m3 0h0m-2 4h0m-1 2h0m-5 0h0m-4 1h0m-4 1h0m-3-4h0m-2 0h0m11 5h0" stroke="#d2d1d8" stroke-width="2.48" stroke-linecap="round"/>
<path transform="scale(.5)" d="M823 483h0m5 0h0m3 0h0m19 0h0m-1 4h0m-8 2h0m-2-1h0m-6 1h0m0-4h0m-8 0h0m-1 2h0m0-2h0m-4 1h0m10 5h0m1 3h0m2-4h0m0 4h0m0 0h0m2-4h0m5 2h0m6 2h0m3-2h0m2-1h0m-7 5h0m-7-1h0" stroke="#d2d1d8" stroke-width="2.48" stroke-linecap="round"/>
<path transform="scale(.5)" d="M837 412h0m4 1h0m3 0h0m9 1h0m-15 4h0m-4 1h0m-5 0h0m5 3h0m17 6h0m-7-3h0m-12 0h0m-5 2h0m3 4h0m0 1h0m3-2h0m3 3h0m2 0h0m12-3h0m4 0h0m3 2h0m-7 5h0m-4 1h0m-2 1h0m-4-1h0m-1 0h0m-4-2h0m-6 3h0m1 2h0m0 3h0m15-4h0m5 2h0m5 2h0m-21 5h0m-2-3h0m-2 6h0m2-2h0m8 2h0m0 1h0m5-3h0m4 1h0m3 2h0m4-2h0m1 2h0m1-1h0m5 4h0m-9 3h0m-4 0h0m-5 0h0m0-2h0m-13 1h0m15 3h0m12-1h0m-9 9h0m0-2h0m-4-2h0m-12 4h0m3 4h0m0 0h0m2-2h0m3 3h0m1-1h0m9 5h0m-1-2h0m-11-1h0m11 8h0" stroke="#a092e6" stroke-width="2.48" stroke-linecap="round"/>
<path transform="scale(.5)" d="M832 409h0m3-2h0m5 1h0m4 1h0m10 5h0m-1-1h0m-3 0h0m0-1h0m-3 2h0m0-1h0m-2-1h0m0-2h0m-2 0h0m-1 4h0m0-2h0m-2 0h0m-6 1h0m-3-2h0m0-1h0m1 8h0m2 0h0m5-1h0m5-1h0m5-1h0m1 3h0m0 1h0m2-4h0m3 3h0m-2 2h0m-1 4h0m-2 0h0m-1-2h0m-16 1h0m-6 2h0m0 2h0m5 0h0m1 1h0m2 0h0m3 1h0m2-1h0m1 0h0m0 0h0m6-1h0m2 1h0m0 1h0m1 0h0m3-4h0m3 0h0m-3 6h0m-5 1h0m-1-1h0m-1-1h0m-2 4h0m-6-2h0m-10 5h0m0 2h0m4-4h0m15 2h0m1 2h0m2-4h0m2 2h0m2 0h0m1 2h0m2 1h0m-1 0h0m-5 3h0m-6-1h0m-1-1h0m-1-1h0m-8 2h0m-8 1h0m0 0h0m-1-2h0m8 8h0m1-1h0m2 1h0m2-3h0m1-1h0m4 3h0m2-2h0m-9 7h0m-2-2h0" stroke="#6b57eb" stroke-width="2.48" stroke-linecap="round"/>
<path transform="scale(.5)" d="M873 434h0m2 0h0m3-1h0m5 0h0m1-2h0m0 1h0m2-2h0m0 2h0m1-1h0m0 1h0m0 0h0m1-2h0m0 0h0m0 4h0m3-2h0m0 1h0m2-3h0m3 3h0m3 2h0m-1 2h0m0 0h0m-2-2h0m-1 3h0m-3 0h0m0-1h0m-1-2h0m-2 0h0m0 0h0m-4 3h0m-1 0h0m0-3h0m-1 1h0m-3 0h0m-2 3h0m-2-3h0m-4 1h0m-1-2h0m-3 5h0m16 4h0m12-4h0m5 1h0m0 6h0m-2-2h0m-1 0h0m-8 1h0m-9-1h0m-3 4h0m-3 0h0m-54-3h0m-7 3h0m-2 4h0m65 0h0m1-2h0m14 3h0m-2 1h0m-6 3h0m-6-1h0m-1-2h0m-5 1h0m6 4h0m7 0h0m-35 22h0m-13 2h0m12 5h0m-7 1h0" stroke="#a092e6" stroke-width="2.48" stroke-linecap="round"/>
<path transform="scale(.5)" d="M845 409h0m9 5h0m-8-3h0m-1 0h0m-6 1h0m-4 1h0m-6 0h0m-3 6h0m2-4h0m0 2h0m1 2h0m2-1h0m2-1h0m2 1h0m1 1h0m4 0h0m5 0h0m4 0h0m2-3h0m0 1h0m5 4h0m-7 2h0m-6 0h0m-2 1h0m-9-4h0m-1 2h0m-3 0h0m5 6h0m4-1h0m2 2h0m2-3h0m3-1h0m0 0h0m4 0h0m0 2h0m5 2h0m4 2h0m0 0h0m-1 0h0m-6 1h0m-2 2h0m-12 0h0m-2-2h0m-3-1h0m-2 0h0m-2 1h0m0 7h0m2-2h0m1 1h0m2 0h0m1 1h0m1 0h0m3 0h0m5 0h0m1-3h0m0 2h0m1-2h0m1 3h0m4-4h0m1 2h0m1 1h0m0 1h0m1-1h0m0 2h0m-3 4h0m-3-2h0m-5 0h0m-1 2h0m-7 0h0m0-2h0m-5 1h0m-1 1h0m4 2h0m2-1h0m1 2h0m3-2h0m2 0h0m2 2h0m-3 4h0m-1-1h0m-5 1h0m-2-1h0" stroke="#6b57eb" stroke-width="2.48" stroke-linecap="round"/>
<path transform="scale(.5)" d="M836 482h0m12 0h0m1-1h0m2 1h0m0 3h0m-4 1h0m0-1h0m-1 4h0m-7 0h0m-5-1h0m-2 0h0m-1 1h0m-4-1h0m-3 0h0m0 2h0m2 0h0m8 1h0m0 0h0m11-1h0m0 1h0m3 1h0m-9 6h0m-1-1h0m-3-1h0m-2 0h0" stroke="#d2d1d8" stroke-width="2.48" stroke-linecap="round"/>
<path transform="scale(.5)" d="M873 431h0m-5 5h0m-13 8h0m4-1h0m24 0h0m5 3h0m-51 8h0m6-4h0m3 4h0m4 0h0m7 0h0m7-4h0m0 4h0m12-2h0m0 1h0m1-1h0m7-1h0m1 0h0m9 4h0m-7 1h0m-12 0h0m-11 0h0m-4 0h0m-1 1h0m0 0h0m-1 2h0m-18-2h0m-2-2h0m-1 1h0m-1-1h0m-2 6h0m3 3h0m12-2h0m7-1h0m1 1h0m0 2h0m3 4h0m0-2h0m-4 2h0m-7-1h0m-12 0h0m-2 1h0m0-3h0m1 6h0m3 1h0m0 0h0m5-2h0m1 3h0m1-2h0m3-1h0m2 0h0m0 1h0m2 0h0m0 1h0m0 3h0m-4 3h0m-2-2h0m-6 1h0m-13 7h0m14 0h0m2-3h0m0 3h0m-1 5h0m-20-1h0m0-1h0m0-2h0m18 5h0m1 0h0m1 0h0m2 1h0m1-1h0m2 4h0m1-3h0" stroke="#b1a7e1" stroke-width="2.48" stroke-linecap="round"/>
<path transform="scale(.5)" d="M830 409h0m19 3h0m-8-1h0m-1 3h0m-8-1h0m-2 4h0m10 3h0m-5 3h0m1 4h0m3 1h0m6-1h0m7-1h0m-7 5h0m-9 2h0m11 6h0m9 1h0m-11 1h0m-16 8h0m8-3h0m9 1h0m-9 3h0m-5 0h0" stroke="#503aee" stroke-width="2.48" stroke-linecap="round"/>
<path transform="scale(.5)" d="M855 400h0" stroke="#503aee" stroke-width="2.48" stroke-linecap="round"/>
<path transform="scale(.5)" d="M817 449h0m-9 14h0m0 3h0" stroke="#c1bcdd" stroke-width="2.48" stroke-linecap="round"/>
<path transform="scale(.5)" d="M845 402h0m1 1h0m1 0h0m3 1h0m1-2h0m3 6h0m-6-1h0m-3 0h0m-1 1h0m0 0h0m8 6h0m2-3h0m0 1h0m0 1h0m-2 2h0m-4 3h0m-2 1h0m-6-3h0m-1 0h0m0 0h0m23 23h0m-18 5h0" stroke="#503aee" stroke-width="2.48" stroke-linecap="round"/>
<path transform="scale(.5)" d="M816 479h0" stroke="#d2d1d8" stroke-width="2.48" stroke-linecap="round"/>
<path transform="scale(.5)" d="M842 408h0m6 1h0m-15 2h0m-3 2h0m16 4h0m9 2h0m-14 2h0m-6 1h0m-7 7h0m1-2h0m7 2h0m19-3h0m17 7h0m-24-3h0m-11 3h0m-3 1h0m-7 5h0m12-1h0m7 1h0m15 0h0m1-3h0m2-1h0m4 0h0m3 1h0m1 1h0m2 2h0m6-3h0m1 0h0m1 0h0m10 4h0m-2 0h0m-1 1h0m-2 1h0m-9 2h0m-3-2h0m-2-2h0m-2 4h0m-1-2h0m-1-2h0m-35 1h0m12 6h0m9 1h0m16-2h0m1 0h0m1-1h0m0 3h0m3-3h0m1 1h0m0 0h0m9 1h0m5 2h0m3-2h0m0 6h0m0-3h0m-1 1h0m-1 1h0m-1 2h0m-1 0h0m-2 0h0m0-1h0m-1 1h0m-1-1h0m0-2h0m0-1h0m-3 2h0m-1-1h0m0 0h0m-1 1h0m-1 0h0m0-2h0m-3 4h0m-1 0h0m-1 0h0m0-1h0m-2 0h0m-1-2h0m-34 2h0m6 5h0m20-1h0m12 0h0m1 2h0m2-2h0m2 2h0m1-2h0m0 1h0m2-3h0m1 2h0m0 1h0m3 0h0m0 1h0m1 0h0m1-4h0m0 2h0m-10 3h0m-27 12h0m1 1h0m-13 2h0" stroke="#8575e9" stroke-width="2.48" stroke-linecap="round"/>
<path transform="scale(.5)" d="M854 444h0m13 5h0m-6 0h0m-3-3h0m-1 3h0m0-3h0m-2 3h0m0-3h0m-2 2h0m-9 1h0m-7 4h0m4-1h0m2 0h0m4 2h0m6-1h0m1 0h0m2-1h0m3 0h0m2-2h0m2 7h0m-8 0h0m-4-2h0m-1 4h0m-1-2h0m-4 1h0m-1-2h0m-1 2h0m-7 1h0m-2 0h0m1 2h0m8-1h0m5 1h0m4-1h0m1 1h0m3-1h0m3 3h0m-2 6h0m0-3h0m-5-1h0m-2 0h0m-2 4h0m-2 0h0m0-3h0m-7 2h0m15 4h0m2-1h0m-4 6h0m-1 2h0m0-2h0m0-1h0m-2 3h0m0-2h0m-2 2h0m3 2h0m0 1h0" stroke="#c1bcdd" stroke-width="2.48" stroke-linecap="round"/>
<path transform="scale(.5)" d="M834 408h0m2 1h0m1-1h0m17 6h0m0-2h0m-4 1h0m-1-3h0m-3 2h0m-3-2h0m-1 4h0m-1 0h0m-3-1h0m0-3h0m-1 4h0m-2-2h0m-2 0h0m0-2h0m-3 2h0m-2 0h0m2 7h0m1-4h0m1 4h0m4-4h0m1 3h0m3 0h0m5 0h0m4-3h0m0 4h0m5-4h0m0 4h0m1-2h0m0 2h0m1 4h0m-1 1h0m-3-4h0m-5 3h0m-1 1h0m-10-1h0m-2-2h0m-2 2h0m-1 0h0m0 0h0m-2 4h0m4 0h0m2 1h0m9 0h0m1-3h0m0 2h0m1 2h0m4 0h0m2-2h0m2 1h0m3 2h0m-12 2h0m-4-1h0m-1 2h0m0-1h0m-1 0h0m-9 0h0m-1 5h0m5-2h0m1 0h0m8 4h0m0 0h0m3-4h0m8 1h0m0 2h0m3-2h0m0 2h0m-2 3h0m-3 1h0m0 0h0m0-2h0m-1 2h0m0-1h0m-2 1h0m-1-2h0m-1 4h0m-10 0h0m-1-3h0m-3 2h0m-1-1h0m-5-1h0m3 7h0m1-2h0m0 1h0m1-2h0m1 2h0m5 0h0m1-1h0m3 3h0m1-4h0m-4 5h0m-1 2h0m-2-1h0m-2 1h0m-6 0h0" stroke="#8575e9" stroke-width="2.48" stroke-linecap="round"/>
<path transform="scale(.5)" d="M851 387h0m9 2h0m2 3h0m0-1h0m-1 2h0m0-1h0m-3 2h0m0-4h0m-3 0h0m-1 4h0m9 1h0m0 0h0m0 6h0m-13 3h0m-3-2h0m-1 3h0m8 1h0m0 9h0m-6 2h0m-4-1h0m-1 2h0m-2-3h0" stroke="#503aee" stroke-width="2.48" stroke-linecap="round"/>
<path transform="scale(.5)" d="M851 398h0m2 5h0m-1 1h0m-5-3h0m-4 3h0m-2 3h0m0 1h0m4 0h0m0 1h0m6 0h0m1 1h0m-3 0h0m-3 3h0m-4 0h0m-3 1h0m-6 2h0m6 0h0m0 0h0m2 1h0m1 1h0m2-2h0m0 1h0m3-1h0m6 7h0m-11-3h0m-4 1h0m-9 2h0m13 4h0m0 2h0m6-3h0m4 1h0m43 7h0m-4-4h0m-5 2h0m-4 1h0m-8 0h0m-12 1h0m-20 0h0m-2 0h0m-7-1h0m-3 3h0m25 2h0m6-3h0m0 2h0m1 0h0m0 2h0m7-4h0m0 3h0m1-2h0m1 2h0m0 0h0m1-1h0m1 2h0m1-1h0m3-2h0m10 0h0m7 2h0m6 2h0m-3 2h0m-16 1h0m-6 0h0m-1 1h0m0-1h0m-13-1h0m-23 1h0m-7 5h0m8 1h0m4 0h0m36-3h0m15 1h0m1 1h0m-7 5h0m0-1h0m0-2h0m-10 8h0m4-3h0m4 0h0m2 4h0m2-4h0m0 2h0m2 0h0m1-2h0" stroke="#6b57eb" stroke-width="2.48" stroke-linecap="round"/>
<path transform="scale(.5)" d="M854 394h0m5-3h0" stroke="#8575e9" stroke-width="2.48" stroke-linecap="round"/>
<path transform="scale(.5)" d="M930 452h0m1 2h0m2 0h0m1-2h0m1-1h0m1 2h0m0 1h0m3-2h0m0 2h0m10 5h0m-1-1h0m-1-2h0m-1-1h0m-2 2h0m0-1h0m-1 3h0m-1-1h0m-7-3h0m-1 2h0m-2-2h0m-3 4h0m0 4h0m1-1h0m0 1h0m2-3h0m13 1h0m2 0h0m-14 4h0m-1 2h0m-1-1h0m2 7h0m0 1h0m1-4h0m1 0h0m0 3h0m0 1h0m4 4h0m-1 0h0m-3-2h0m1 6h0m3-2h0m0 1h0m1 1h0m0 2h0m-1 3h0m-1 0h0m-2-2h0m28 5h0" stroke="#c1bcdd" stroke-width="2.48" stroke-linecap="round"/>
<path transform="scale(.5)" d="M972 391h0m3 2h0m1-2h0m0 3h0m1-3h0m1 1h0m3 2h0m-1 4h0m-10 4h0m13-2h0m-8 7h0m-2 2h0m-4-2h0m0-1h0m-1 3h0m-1 0h0m-2 0h0m0-2h0m1 5h0m1 1h0m2-3h0m1 1h0m5 2h0m2 4h0m-1-1h0m-3 0h0m-4 0h0m-8 3h0m0 1h0m8 0h0m8 29h0m5 3h0m3-2h0m1 1h0m-7 8h0m-14 4h0m1-1h0m12 2h0m6-4h0m2 0h0m-12 6h0m-17 1h0m20 3h0m1 3h0m4-3h0m-20 8h0m-4-3h0m3 5h0m9 3h0m1 1h0m-1 5h0m-3-4h0m-2 4h0m-11 0h0m-3 0h0m-4 0h0m-1 1h0m1 1h0m1 3h0m18-1h0m3-2h0m0 3h0m0 0h0m2-4h0m0 5h0m-3 2h0m-1-2h0m-2 4h0m-3-1h0m-3 1h0m0 0h0m-4 0h0m0-1h0m0-3h0m-2 3h0m-1-3h0m4 5h0m1 0h0m1 0h0m3 2h0" stroke="#8575e9" stroke-width="2.48" stroke-linecap="round"/>
<path transform="scale(.5)" d="M975 448h0m1 1h0m2 0h0m4 4h0m-3-1h0m-2-1h0m-4-1h0m-7 3h0m5 6h0m14-4h0m1 7h0m-5-1h0m-8-1h0m-1 4h0m-1-2h0m-13 1h0m-2 2h0m2 1h0m16-1h0m3 0h0m2 2h0m4 0h0m2 0h0m-6 6h0m-12 0h0m-5-1h0m-1 1h0m-4 1h0m5 3h0m5 2h0m6-4h0m2 0h0m1 5h0m-11 2h0m-2-2h0m-3 1h0m14 6h0" stroke="#503aee" stroke-width="2.48" stroke-linecap="round"/>
<path transform="scale(.5)" d="M952 413h0m4-1h0m4 2h0m16 5h0m0-1h0m0-1h0m-5-2h0m-5 3h0m-5-2h0m-1 2h0m-3-1h0m0-1h0m-2 0h0m-1 1h0m-1 2h0m-1-3h0m-2 0h0m0 5h0m1 2h0m3 1h0m17 0h0m0 0h0m7 3h0m-7 0h0m-2 0h0m-1 2h0m-2 0h0m0 0h0m-1-1h0m-11-1h0m4 4h0m1 0h0m8 1h0m1 2h0m2-2h0m2 1h0m0 1h0m3-1h0m1-1h0m2 4h0m-6 1h0m-2 1h0m-2 1h0m-1-2h0m0-1h0m-5 1h0m-6 0h0m-3-2h0m-4 8h0m2-2h0m0 0h0m1 1h0m2 0h0m5 1h0m6 0h0m2 1h0m12-1h0m-2 2h0m-3 2h0m0-1h0m-1 0h0m-2 0h0m-2 3h0m-1-3h0m-9 3h0m0-1h0m-1-3h0m-3 4h0m0-1h0m-6 1h0m0-3h0m2 7h0m2-2h0m1 0h0m1 1h0m1 0h0m3-2h0m1 1h0m-1 4h0m-5 0h0" stroke="#8575e9" stroke-width="2.48" stroke-linecap="round"/>
<path transform="scale(.5)" d="M1010 434h0m1 0h0m1 0h0m3-1h0m6 6h0m-5-1h0m-3 1h0m0-1h0m0-2h0m-2-1h0m-1 3h0m0-3h0m-1 1h0m0 0h0m-1 1h0m0-1h0m-1 2h0m0-3h0m-1 2h0m0-1h0m-1 1h0m-1 5h0m1 0h0m0 0h0m1 0h0m1 0h0m2-2h0m2 0h0m0 0h0m1 1h0m2 1h0m0 0h0m2 0h0m1 0h0m1-2h0m0 1h0m0 3h0m0 0h0m1-1h0m1-1h0m1 1h0m0 1h0m1-1h0m0 2h0m-3 1h0m2 4h0m2 2h0" stroke="#d2d1d8" stroke-width="2.48" stroke-linecap="round"/>
<path transform="scale(.5)" d="M1023 449h0m-4 2h0" stroke="#d2d1d8" stroke-width="2.48" stroke-linecap="round"/>
<path transform="scale(.5)" d="M1008 434h0m10 3h0m-1 1h0m0-1h0m-6 1h0m-2-1h0m0-1h0m-3 0h0m-2 2h0m0-1h0m-3 3h0m4 1h0m1-1h0m1 0h0m0 1h0m7-1h0m3 2h0m1 1h0m2-2h0m2 3h0m-4 1h0m-80 3h0m-2 4h0m3 1h0m0 0h0m4 0h0m2 1h0m77-3h0m-76 4h0m-4 3h0m-7-1h0m-4 1h0m0 3h0m0 0h0m2 5h0m-3 1h0m5 6h0m1-2h0m0 1h0m1 2h0m0 0h0m0 1h0m-2 2h0m-1 2h0m0-3h0m-1 3h0m5 2h0m0 3h0" stroke="#c1bcdd" stroke-width="2.48" stroke-linecap="round"/>
<path transform="scale(.5)" d="M955 414h0m3-1h0m1-1h0m17 6h0m-4-1h0m-1 0h0m-3-1h0m-5 2h0m0-1h0m0-2h0m-1 4h0m-3-1h0m-8 0h0m-3 5h0m4-2h0m0 3h0m1-2h0m4 0h0m1 1h0m4 0h0m0 0h0m5-1h0m0 1h0m4-3h0m2 1h0m0 0h0m1 3h0m2-4h0m0 3h0m1 1h0m1 2h0m-1 3h0m-15-2h0m-4 0h0m-5 0h0m0 0h0m-4 4h0m2 0h0m4 1h0m0 0h0m2 0h0m4 1h0m2-3h0m3 3h0m1-1h0m3-2h0m3 2h0m1 0h0m5 5h0m0-1h0m0-1h0m0 0h0m-16 1h0m-1 2h0m-1-1h0m-1 0h0m-2 1h0m-7-3h0m-2 1h0m7 7h0m1-3h0m4 1h0m3 2h0m1-3h0m1 1h0m3 2h0m1 0h0m0 1h0m1-4h0m1 2h0m1 1h0m0 0h0m1 0h0m0 1h0m2-4h0m-5 9h0m-6 0h0m-3-1h0m-5-2h0m-2 1h0m0 0h0m0 0h0m-1-1h0m-2 6h0m0 2h0m1-4h0m0 1h0m1 3h0m5 0h0m2-4h0m0 0h0m0 1h0m0 3h0m-1 2h0m0 0h0m-2-1h0m-2 1h0m-2 6h0" stroke="#a092e6" stroke-width="2.48" stroke-linecap="round"/>
<path transform="scale(.5)" d="M992 437h0m5-1h0m2 0h0m4 5h0m-4 0h0m-1 2h0m-3 0h0m-1-1h0m-1 0h0m0 0h0m0 0h0m0-1h0m0 8h0m3-4h0m0 3h0m1 1h0m1 0h0m1-2h0m16 2h0m1 3h0m-7 2h0m-7 0h0m-3-3h0m-6-1h0m-1 2h0m-2 1h0m4 4h0m0 1h0m1 0h0m4 0h0m1-2h0m3 0h0m1-1h0m3 1h0m8 2h0m1 2h0m-2 0h0m-2 2h0m0-1h0m0-1h0m-1 0h0m-1 4h0m-3-2h0m0 0h0m-4 2h0m-2 0h0m0-4h0m-1 4h0" stroke="#c1bcdd" stroke-width="2.48" stroke-linecap="round"/>
<path transform="scale(.5)" d="M977 448h0m6 5h0m-12-2h0m7 7h0m3-3h0m4 6h0m-4 0h0m-3 2h0m-1-3h0m-3 2h0m-3 2h0m-2-2h0m-8 2h0m9 2h0m2 3h0m2-4h0m1 0h0m1 4h0m1-4h0m1 2h0m5 1h0m0 2h0m-4 0h0m-2 0h0m-3 2h0m-5 1h0m-1-3h0m-6 2h0m-1-2h0m0 5h0m5 4h0m3-1h0m1 6h0m0-4h0m-3 2h0m-2 1h0m9 2h0" stroke="#503aee" stroke-width="2.48" stroke-linecap="round"/>
<path transform="scale(.5)" d="M993 435h0m2 3h0m2 1h0m10 5h0m-3-2h0m-2-1h0m-4 0h0m-2 2h0m-7 2h0m1 0h0m13 0h0m0 2h0m2 0h0m4 0h0m7 0h0m1 7h0m-1-3h0m-13-1h0m-1 3h0m-1-3h0m-1 4h0m0-1h0m-2 1h0m0-4h0m-3 2h0m0-1h0m-1 5h0m2 1h0m2 1h0m1-1h0m5-2h0m4 4h0m2-3h0m0 1h0m2-2h0m0 3h0m2-1h0m0 2h0m1-3h0m0 1h0m-5 7h0m-4-4h0m-2 3h0m-1 0h0m-2-2h0m-1 1h0m-1 1h0" stroke="#d2d1d8" stroke-width="2.48" stroke-linecap="round"/>
<path transform="scale(.5)" d="M990 439h0m4-1h0m2 0h0m5-2h0m11 8h0m-8-3h0m-2-1h0m-3 2h0m-3 2h0m-1 0h0m-4 1h0m0 2h0m1 0h0m3-2h0m2 1h0m0 2h0m3-2h0m0 2h0m5 1h0m2 0h0m4-3h0m1 2h0m2-3h0m3 7h0m-3 0h0m-1 1h0m-3-2h0m-2 3h0m0-2h0m-7 2h0m-7-3h0m-3 2h0m6 3h0m0 1h0m0 2h0m1-2h0m7 0h0m3-1h0m0 2h0m2 0h0m0 0h0m2 1h0m1 0h0m1 0h0m2-2h0m-2 4h0m-4 3h0" stroke="#d2d1d8" stroke-width="2.48" stroke-linecap="round"/>
<path transform="scale(.5)" d="M967 413h0m4 2h0m-4 0h0m-2 0h0m-5 2h0m-1 0h0m-4 0h0m-2-1h0m-3 4h0m9 3h0m3 1h0m2-2h0m9-1h0m4 8h0m-3-1h0m-3-2h0m-5 3h0m-5-2h0m-5 0h0m0-1h0m0-1h0m-7 5h0m6 3h0m7 0h0m5-3h0m9 9h0m-20-2h0m-3-2h0m-1 6h0m3 1h0m0 2h0m6-1h0m4 0h0m3 1h0m8-1h0m7 3h0m-19 0h0m0-1h0m-14 1h0m1 7h0m3 1h0m11-2h0m3-2h0m0 2h0m5 7h0m-11-3h0m-12 0h0m20 6h0m2 1h0m13-2h0m-6 7h0m-10-3h0m-1 12h0m0 6h0m4 4h0" stroke="#6b57eb" stroke-width="2.48" stroke-linecap="round"/>
<path transform="scale(.5)" d="M972 391h0m1 1h0m1 0h0m0 1h0m1-3h0m1 0h0m1 0h0m0 4h0m1-4h0m0 4h0m2-2h0m0 2h0m2-1h0m1 0h0m2 6h0m-1-1h0m0-3h0m-1 4h0m0-1h0m0-1h0m-2-2h0m-1 0h0m-4 3h0m-1 1h0m-4 5h0m1-1h0m1 0h0m10-2h0m2-1h0m0 1h0m1 1h0m1 7h0m-1-4h0m-1 2h0m0 0h0m0-1h0m-1 1h0m-9 1h0m-1 0h0m-1-2h0m-4 1h0m0-1h0m-1 2h0m0 0h0m-1-1h0m-4 4h0m0 1h0m0 0h0m0 1h0m2-3h0m1 1h0m1-1h0m0 2h0m0 0h0m0 0h0m0 1h0m2 1h0m1-3h0m0 2h0m1 0h0m1-2h0m1 0h0m0 1h0m3-2h0m0 6h0m-2 2h0m-1-2h0m0 0h0m-1 1h0m0 0h0m-1 2h0m0-2h0m-3 0h0m-4-2h0m-4 2h0m1 3h0m0 0h0m0 1h0m2 1h0m2 0h0m0 1h0m1-3h0m1 3h0m1 1h0m2-3h0m1 1h0m2-2h0m0 1h0m42 15h0m-81 23h0m3-4h0m1 1h0m0 19h0m3 9h0m5 7h0m10 4h0m16 2h0m-14 3h0" stroke="#a092e6" stroke-width="2.48" stroke-linecap="round"/>
<path transform="scale(.5)" d="M1000 438h0m0 5h0m-3 0h0m-1-2h0m-2 1h0m-2-1h0m-2 0h0m-2 1h0m0-1h0m5 8h0m1-2h0m1 2h0m7-2h0m10-1h0m3 7h0m-16-2h0m-4 2h0m-3-3h0m3 8h0m5-2h0m2 0h0m0 3h0m3-4h0m1 0h0m12 5h0m-3 0h0m-4 3h0m0-2h0m-1 2h0m-1 1h0m0-3h0m-2 3h0m0-2h0m-3 0h0m-2 2h0m-1 0h0m0-3h0m-1 2h0m0-1h0m-1-2h0m-2 0h0m-3 1h0m-42 27h0m14 0h0m5 6h0m-5-3h0m-21 0h0m22 4h0" stroke="#c1bcdd" stroke-width="2.48" stroke-linecap="round"/>
<path transform="scale(.5)" d="M972 389h0m2 0h0m8 5h0m-1-1h0m0-1h0m-1 1h0m-1-1h0m-4 1h0m-2-2h0m11 5h0m0 0h0m-1 8h0m-10-2h0m-5 3h0m4 3h0m0 0h0m1-1h0m2-2h0m1 1h0m9 2h0m2 0h0m-10 6h0m-1-2h0m-1 2h0m-2 0h0m-2-1h0m-5 0h0m0-2h0m-1 1h0m-3 1h0m0 0h0m-1 5h0m9-2h0m0 1h0m3-1h0m1-1h0m2 2h0m-2 3h0m-4 2h0m0-1h0m-1-1h0m-3 0h0m-2 3h0m0 0h0m0-1h0m0 0h0m0-1h0m-1-1h0m-1 0h0m0 0h0m58 27h0m2 0h0m-2 3h0" stroke="#b1a7e1" stroke-width="2.48" stroke-linecap="round"/>
<path transform="scale(.5)" d="M957 414h0m3-2h0m6 1h0m6 0h0m3 5h0m-3 0h0m-3 1h0m0-1h0m-1-1h0m-1-1h0m0-1h0m-3 2h0m-2-1h0m-6 2h0m-2 0h0m-3 4h0m3 0h0m2 1h0m0 0h0m15-3h0m1 2h0m1-2h0m1 1h0m3 3h0m1 5h0m-5-1h0m-1 1h0m-5-1h0m-9-2h0m-1 1h0m-4 1h0m-3-1h0m-1 4h0m5 0h0m1 3h0m6-2h0m2 1h0m1-1h0m2 1h0m4 1h0m1-2h0m1 2h0m2-4h0m1 0h0m0 6h0m-1-1h0m-1 0h0m-3 2h0m-1-2h0m-1 0h0m-2 1h0m-3 2h0m-5-1h0m-6-1h0m0 0h0m-2 7h0m12-1h0m0 0h0m3 2h0m2-2h0m0 2h0m1-1h0m1-2h0m6-1h0m4 4h0m-4 4h0m-2 0h0m0-2h0m-1 1h0m0-2h0m-5 0h0m-5 4h0m-1-4h0m-7 1h0m2 8h0m3-2h0m7 0h0m-7 5h0m-5 0h0m-2-1h0" stroke="#8575e9" stroke-width="2.48" stroke-linecap="round"/>
<path transform="scale(.5)" d="M983 448h0m1 0h0m2 4h0m-1 2h0m-2 0h0m-1-4h0m-1 2h0m-2 1h0m0-3h0m-2 0h0m-2 2h0m-5 1h0m-8 4h0m5-1h0m4 0h0m5-1h0m2 4h0m1-2h0m2-1h0m2 2h0m4-2h0m-5 8h0m-1 0h0m-1-3h0m-1 1h0m-2 0h0m0-2h0m-10 3h0m0 0h0m0-3h0m-1 1h0m-7 3h0m-1-3h0m-2 6h0m1-1h0m6-1h0m2 2h0m6-1h0m1 3h0m9-1h0m-1 4h0m-3 2h0m-5-3h0m-5 3h0m0-3h0m-4 1h0m-1 1h0m-6 0h0m3 4h0m0 0h0m1-2h0m13 8h0m-3 1h0m-5 0h0m3 1h0" stroke="#6b57eb" stroke-width="2.48" stroke-linecap="round"/>
<path transform="scale(.5)" d="M978 395h0" stroke="#b1a7e1" stroke-width="2.48" stroke-linecap="round"/>
<path transform="scale(.5)" d="M976 420h0m42 18h0m5 7h0" stroke="#c1bcdd" stroke-width="2.48" stroke-linecap="round"/>
<path transform="scale(.5)" d="M958 419h0m19 11h0m-17 28h0m4 1h0m2-1h0m1-3h0m2 3h0m7 0h0m2-2h0m2 1h0m0 2h0m4-1h0m1 4h0m-8 0h0m-1 1h0m-1-2h0m0 0h0m-1-1h0m-7 3h0m0-2h0m-11 3h0m0-3h0m0 6h0m7 0h0m14 2h0m2 4h0m-7 0h0m-2 1h0m-9-4h0m-5 6h0m8 2h0m1 0h0m10-1h0m-1 6h0m-7 0h0m5 3h0m1 2h0" stroke="#503aee" stroke-width="2.48" stroke-linecap="round"/>
<path transform="scale(.5)" d="M973 392h0m-5 13h0m-3 49h0m5-2h0m13 1h0m6 1h0m-3 4h0m-11 1h0m0-2h0m-7 1h0m-3-3h0m-2 2h0m0-2h0m-2 3h0m-1 1h0m0-1h0m-2 1h0m-2 5h0m3-3h0m5 1h0m8 2h0m2-1h0m1-2h0m5 2h0m1-2h0m1-1h0m-3 6h0m-1-1h0m-11 2h0m-8 1h0m-3-3h0m1 5h0m2 1h0m6-1h0m1 4h0m5-3h0m7 1h0m3-2h0m1 3h0m-4 2h0m-3 4h0m0-2h0m0-2h0m-2 0h0m-5 1h0m-1 2h0m-6-1h0m-2 1h0m0-3h0m8 8h0m1-3h0m6 1h0m0 3h0m-6 1h0m-16 2h0" stroke="#6b57eb" stroke-width="2.48" stroke-linecap="round"/>
<path transform="scale(.5)" d="M975 396h0m9 4h0m1 6h0" stroke="#8575e9" stroke-width="2.48" stroke-linecap="round"/>
<path transform="scale(.5)" d="M945 488h0m0 0h0m0 0h0m2 1h0m1-2h0m2 0h0m0 1h0m2-1h0m3 2h0m3-2h0m3 0h0m3 1h0m0 1h0m2-4h0m0 2h0m1-2h0m0 2h0m0 1h0m1-1h0m1 1h0m1-1h0m1-1h0m0 2h0m1-2h0m1 1h0m0 2h0m0 2h0m0-1h0m-1 2h0m-1-1h0m0-1h0m-2 0h0m0 0h0m0 0h0m-1 4h0m0-1h0m0-1h0m-1 2h0m0-2h0m0 0h0m0-1h0m0-1h0m-1 2h0m0-2h0m-1 1h0m-1 3h0m-1 0h0m-1-2h0m0-1h0m-1 2h0m0-1h0m-1 1h0m-1-1h0m-2 2h0m0-4h0m-1 2h0m0-2h0m-1 4h0m-2-1h0m0-1h0m-1 2h0m0-4h0m-1 0h0m-1 2h0m-1 2h0m0-1h0m0-2h0m-1 1h0m-1 0h0m-1 2h0m0 0h0m0-2h0m0 0h0m0-1h0m-1 1h0m5 3h0m0 2h0m3 0h0m2 1h0m1-3h0m0 0h0m4 0h0m3 0h0m0 1h0m2 1h0m0 1h0m1-2h0m1-1h0m0 0h0m1 4h0m1-3h0m0 2h0m1-1h0m0 1h0m1-2h0m2 0h0m-7 6h0m-4-1h0" stroke="#a092e6" stroke-width="2.48" stroke-linecap="round"/>
<path transform="scale(.5)" d="M945 489h0m0 0h0m5-1h0m1-2h0m0 1h0m1 2h0m2 0h0m1 0h0m3-3h0m1 2h0m0 1h0m0 0h0m2-1h0m2-2h0m3 2h0m2-1h0m4 1h0m2 0h0m0 6h0m0-3h0m-7 2h0m-1-2h0m-1 2h0m0 0h0m0 0h0m0-3h0m-1 4h0m-2-3h0m-1-1h0m-1 1h0m-5 2h0m0-3h0m-1 2h0m-2-2h0m0 0h0m-3 3h0m-1 1h0m0-2h0m0-2h0m-3 2h0m8 3h0m0 4h0m4 0h0m2 0h0m2-3h0m0 2h0m1-2h0m1-1h0m1 0h0m1 0h0m0 4h0m-5 2h0m-5 0h0" stroke="#b1a7e1" stroke-width="2.48" stroke-linecap="round"/>
<path transform="scale(.5)" d="M964 419h0m8-2h0m2 2h0m3 3h0m-12 1h0m-4-2h0m-4 3h0m-2-3h0m-1 3h0m0-1h0m-3 0h0m-1 3h0m13 3h0m12-2h0m1 7h0m-1 0h0m-23 2h0m4 3h0m1 0h0m27-1h0m11-2h0m0 8h0m-4-4h0m-12 1h0m-5 3h0m0-1h0m0-2h0m-8 3h0m-1-1h0m-4-1h0m-7-2h0m-4 8h0m4 1h0m1-1h0m8-1h0m4-1h0m29 3h0m19-3h0m2 2h0m-1 6h0m-6 0h0m-2-2h0m-11 2h0m-33 0h0m-1-3h0m31 5h0m4 2h0m6 1h0m5-3h0m0 3h0m3 0h0m-14 2h0m-41 36h0" stroke="#b1a7e1" stroke-width="2.48" stroke-linecap="round"/>
<path transform="scale(.5)" d="M983 449h0m1 1h0m-2 1h0m-5 2h0m0 0h0m-1 0h0m-3 0h0m-5 0h0m-9 4h0m4 0h0m1-2h0m1 2h0m8-1h0m1 0h0m4 0h0m5 1h0m0 2h0m2-4h0m-4 9h0m-8-3h0m0-1h0m-9 1h0m-3 2h0m-4 3h0m2 3h0m1 0h0m2 0h0m3-4h0m0 3h0m4-1h0m1 0h0m0 0h0m1 2h0m3-3h0m0 3h0m7-3h0m0 1h0m0 4h0m-13 3h0m-1-1h0m-5 5h0m2-2h0m4-1h0m4 4h0m0 0h0m2 0h0m2-2h0m0 0h0m0 1h0m0 3h0m-5 3h0m0-3h0m-2 2h0m-6-1h0m6 4h0" stroke="#6b57eb" stroke-width="2.48" stroke-linecap="round"/>
<path transform="scale(.5)" d="M997 438h0m12-2h0m-7 5h0m-5 1h0m-3 0h0m0-2h0m-1 0h0m0 0h0m-2 3h0m-2-2h0m10 6h0m7 1h0m9 0h0m1 4h0m-4-2h0m-2 4h0m-13-1h0m-6-2h0m-50 1h0m0-1h0m-9 0h0m-1 2h0m-1-1h0m0-1h0m0 6h0m3 1h0m5 1h0m3-3h0m2-1h0m2 0h0m1 2h0m0 1h0m2 1h0m51-2h0m2-2h0m5 2h0m5-1h0m4 1h0m-9 5h0m-6 2h0m-71 0h0m2 1h0m0 3h0m7 9h0m-1 1h0m4 4h0m-5 3h0" stroke="#d2d1d8" stroke-width="2.48" stroke-linecap="round"/>
<path transform="scale(.5)" d="M976 398h0m1 6h0" stroke="#a092e6" stroke-width="2.48" stroke-linecap="round"/>
<path transform="scale(.5)" d="M977 449h0m4-1h0m1 5h0m-3 1h0m-20 4h0m13 1h0m3-1h0m4 0h0m7-3h0m-5 6h0m0 0h0m-6 1h0m-8 1h0m-5-2h0m-7 7h0m1 1h0m9-4h0m6 1h0m1 2h0m7 0h0m7-1h0m-10 4h0m-8-1h0m-11 3h0m4 3h0m8-1h0m2 0h0m5 8h0m-3-2h0m0-1h0m-2 2h0m-2 0h0m0-2h0m-6 2h0m3 3h0m1 0h0m1 2h0" stroke="#503aee" stroke-width="2.48" stroke-linecap="round"/>
<path transform="scale(.5)" d="M953 414h0m1-1h0m3-1h0m5 0h0m3 2h0m5 0h0m5 0h0m1 3h0m-11 2h0m-1 0h0m-3 0h0m-2-2h0m-4-1h0m-3 2h0m-3 3h0m2 3h0m1-4h0m2 0h0m2 1h0m2 3h0m6-3h0m2 1h0m6 1h0m5 5h0m-4 1h0m-3 0h0m-6-4h0m-4 1h0m-3 1h0m-2 0h0m-3 2h0m-1-2h0m-3-1h0m8 7h0m1 0h0m4-2h0m2 1h0m2-1h0m4 0h0m1-1h0m1 3h0m5-3h0m10 9h0m-7-2h0m-4-1h0m-6 0h0m-3 2h0m-3 0h0m0-1h0m-3-1h0m0 0h0m-5 1h0m-4 2h0m0-3h0m-1 3h0m-1 0h0m1 2h0m1 2h0m4-3h0m0 0h0m3 1h0m7 2h0m1 0h0m2 0h0m4-3h0m0 1h0m4 1h0m1 1h0m0 1h0m1 0h0m5-2h0m1 2h0m-6 1h0m-5 0h0m-7 3h0m0-3h0m-6 2h0m-8-2h0m-1 1h0m-1 2h0m-1-1h0m0 0h0m-1-2h0m9 7h0m1 0h0m0 1h0m1 1h0m6-1h0m3-3h0m-9 6h0m-2 0h0m-4 33h0m15 5h0m-5-2h0m-10 7h0m1-1h0m12-2h0m4 0h0" stroke="#a092e6" stroke-width="2.48" stroke-linecap="round"/>
<path transform="scale(.5)" d="M1013 434h0m2 0h0m-10 4h0m7 4h0m-68 12h0m-1-3h0m-1 3h0m0-1h0m-4 1h0m0-2h0m-6 4h0m1 1h0m0 2h0m1-4h0m1 0h0m4 0h0m3 0h0m1 1h0m0 0h0m6 2h0m-3 4h0m0-1h0m0 0h0m-1 0h0m-13 1h0m-4 5h0m1 2h0m1 4h0m0-2h0m0-1h0m4 5h0m1 3h0m1-2h0m1 2h0m1-1h0m0 4h0m-2 2h0m14 3h0m2 1h0m1 0h0m7-1h0m8 8h0m-3-3h0m-1-1h0m-5 4h0m-5-4h0m-12 0h0m13 8h0m8 1h0m11-3h0m-8 4h0m-1 1h0m-6 0h0" stroke="#b1a7e1" stroke-width="2.48" stroke-linecap="round"/>
<path transform="scale(.5)" d="M973 476h0" stroke="#503aee" stroke-width="2.48" stroke-linecap="round"/>
<path transform="scale(.5)" d="M964 413h0m10 1h0m2 4h0m-1 1h0m-3-2h0m-4 0h0m-3 2h0m-1-2h0m-2-1h0m-6 2h0m-2-3h0m-2 7h0m1 1h0m2-2h0m3-1h0m2 2h0m6-1h0m2 0h0m9 1h0m0 2h0m-2 1h0m-9 0h0m-3 0h0m-13 8h0m0 0h0m1-1h0m3-2h0m4 3h0m2 1h0m4-3h0m0 0h0m0 3h0m3 0h0m3 0h0m4-2h0m-10 6h0m-2 0h0m-3 0h0m-1-1h0m-2 1h0m-7 5h0m1-1h0m2-1h0m5 0h0m6-1h0m4 0h0m3 4h0m7-2h0m6-2h0m0 3h0m1-2h0m0 0h0m0 3h0m-7 1h0m-5 2h0m-16-2h0m-4 4h0m1 3h0m3-2h0m0 3h0m5 0h0m7-1h0m5 2h0m7-4h0m-6 7h0m-3-2h0m-6 2h0m-1-1h0m15 6h0m2 4h0m-13 3h0m-8 0h0m-2-2h0m5 3h0m5 4h0m2-3h0m5 2h0m-1 6h0m-12 1h0m11 0h0" stroke="#8575e9" stroke-width="2.48" stroke-linecap="round"/>
<path transform="scale(.5)" d="M835 571h0" stroke="#a092e6" stroke-width="2.48" stroke-linecap="round"/>
<path transform="scale(.5)" d="M850 543h0m0 1h0m3-1h0m1 1h0m0 0h0m1 0h0m0 0h0m7 4h0m-2-1h0m0-1h0m-1 3h0m0-2h0m0-2h0m-1 1h0m-2 2h0m0-1h0m-2 0h0m-1 2h0m0-3h0m-1 0h0m-1-1h0m2 7h0m1-1h0m7-1h0m0 1h0m0 3h0m1-2h0m1 2h0m1 1h0m-1 4h0m-2-2h0m-7 2h0m-1-1h0m-2-2h0m-3-1h0m-2 3h0m0 0h0m-3 2h0m1 4h0m1-4h0m1 1h0m0 0h0m1-1h0m0 3h0m4-3h0m0 2h0m0 2h0m2-4h0m0 1h0m10-1h0m0 1h0m2 0h0m0 1h0m-10 5h0m-3 1h0m-3-2h0m-1 3h0m-1 0h0m0-2h0m-2-1h0m0 0h0m0-1h0m-2 0h0m-2 1h0m-1 0h0m0 0h0m-2 4h0m3 3h0m3 0h0m2-3h0m5 3h0m1-2h0m2-1h0m0 3h0m-5 2h0m-1 0h0m-2 2h0m-1-1h0m-2 0h0m-1 0h0m0-1h0m-1 0h0m43 14h0m1 0h0m1-2h0m1 2h0m0 0h0m1-1h0m1 0h0m1-1h0m1 0h0m0 2h0m2-3h0m0 2h0m5 6h0m-2 0h0m0-3h0m0-1h0m-2 1h0m-3 1h0m-1 2h0m-1-1h0m0 0h0m-2 0h0m-1-3h0m-1 4h0m-1-4h0m-1 4h0m0-3h0m-1 0h0m0-1h0m-3 3h0m3 2h0m1 0h0m1 1h0m1-1h0m5 0h0m5 0h0m0 1h0m1 0h0m2-1h0m1 1h0m0 1h0m1 0h0m0 1h0m1 4h0m-1-2h0m-2 3h0m-1-3h0m-87 4h0m-1 3h0m1 1h0m1-1h0m1-2h0m4 4h0m1-2h0m0 0h0m3 0h0m1-1h0m0 2h0m3 0h0m1 1h0m76-4h0m-76 9h0m-1 0h0m0-4h0m-1 4h0m-1-4h0m-2 1h0m-7-1h0m-1 3h0m-1 0h0m0-3h0m-2 1h0m-2 1h0m0 6h0m3-2h0m1 3h0m-1 1h0m-1 2h0m-1 1h0m0 3h0m4 2h0m0 1h0m1-3h0m0 1h0m2 1h0m0 0h0m1 0h0m1 5h0m-1 1h0m-2-4h0m-1 1h0m0-1h0m1 6h0m0 2h0m2-1h0m3 1h0m19 1h0m8 0h0m5 3h0m-1-2h0m-1 3h0m-2 1h0m-5-1h0m-2 1h0m-5-1h0m-3 0h0m-3-3h0m-5 4h0m0-1h0m-1-2h0m-3 2h0m-3-3h0m7 5h0m2 1h0m1 1h0m3 0h0m3 0h0m2 1h0m2-3h0m2 0h0m6 3h0m2-1h0m5 2h0m-2 1h0m-4 2h0m-2 2h0m-1-2h0m-2 0h0m-1 0h0m-3 2h0m0-2h0" stroke="#d2d1d8" stroke-width="2.48" stroke-linecap="round"/>
<path transform="scale(.5)" d="M830 566h0m1 1h0m0 2h0m1-3h0m0 3h0m1-1h0m2-3h0m1 2h0m2-2h0m2 0h0m0 4h0m0 0h0m3-2h0m0 1h0m1-1h0m1-1h0m0 2h0m4 0h0m5 5h0m0-1h0m-1-1h0m-1 3h0m-1 0h0m-1-3h0m0-1h0m0 0h0m-1 3h0m0 0h0m0-3h0m-2 2h0m-1-2h0m-1 0h0m-1 4h0m-2 0h0m0-2h0m-1-1h0m0-1h0m-2 4h0m-1-3h0m0 0h0m-1-1h0m-1 2h0m-3 2h0m0-4h0m0 0h0m-1 1h0m-1 2h0m-3 0h0m-2 6h0m1-4h0m2 0h0m0 1h0m0 1h0m1-1h0m0 1h0m2 0h0m2-1h0m1 1h0m1 0h0m0 0h0m1-1h0m5 0h0m3-1h0m0 1h0m4 1h0m0 2h0m1-4h0m1 0h0m3 1h0m1 0h0m0 1h0m1 2h0m0 3h0m-1 0h0m0 0h0m-2 1h0m-3-1h0m-1-2h0m-1 3h0m0-1h0m-1 2h0m-2-1h0m0-2h0m-1 2h0m-2 1h0m-1-1h0m-1-3h0m-1 0h0m-3 4h0m0-4h0m-3 1h0m-1 2h0m-3 1h0m-1-4h0m0 0h0m-1 4h0m1 2h0m2 3h0m1-1h0m0 0h0m2-3h0m0 1h0m0 1h0m2-1h0m5 0h0m1-1h0m0 4h0m3-3h0m0 0h0m1-1h0m0 4h0m1-1h0m1 1h0m2-3h0m0 0h0m1 1h0m0 0h0m0 0h0m2-2h0m1 1h0m0 1h0m1-1h0m0 2h0m3 0h0m0 2h0m-4 3h0m-1 1h0m-2-1h0m-2-2h0m0-1h0m-2 3h0m-2 1h0m0-3h0m-1 2h0m-2-2h0m0 0h0m-1-1h0m-2 0h0m0 0h0m-2 0h0m-1 2h0m-1 0h0m0-2h0m-6 2h0m-1 0h0m-1 6h0m1-2h0m0 3h0m1-3h0m1 1h0m1-2h0m0 3h0m3-3h0m1 1h0m2 2h0m1-1h0m2 1h0m3-2h0m1 0h0m0 0h0m3 0h0m0 3h0m1-4h0m0 1h0m1 2h0m1 1h0m1-4h0m0 3h0m2-2h0m0 0h0m0 1h0m0 1h0m0 1h0m2-3h0m1 1h0m0 1h0m0 0h0m1-1h0m0 1h0m1-2h0m0 1h0m-4 4h0m-6 1h0m-1 2h0m-3-2h0m-4 2h0m0-1h0m-1 1h0m-1-3h0m-4 2h0m0-1h0m0-1h0m0-1h0m-2 4h0m0 0h0m0 0h0m-3-3h0m-1 1h0m0-2h0m1 9h0m1-3h0m0 0h0m1-1h0m2 3h0m2-2h0m1 0h0m1-1h0m1 0h0m0 2h0m1 2h0m3-4h0m3 0h0m-7 6h0" stroke="#d2d1d8" stroke-width="2.48" stroke-linecap="round"/>
<path transform="scale(.5)" d="M854 636h0" stroke="#a092e6" stroke-width="2.48" stroke-linecap="round"/>
<path transform="scale(.5)" d="M853 546h0m5 2h0m4 1h0m-1 3h0m-12 5h0m14 4h0m-1-1h0m-12 4h0m-5 0h0m0 2h0m3 1h0m3 2h0m3-3h0m-4 4h0m-2 0h0m-1 3h0m-8-2h0m3 4h0m45 15h0m-1 0h0m-2 0h0m-70 16h0m2 2h0m1 0h0m2 1h0m4-1h0m-11 2h0m-3 4h0m0 0h0m4 18h0m3-1h0m1 1h0m2 3h0" stroke="#b1a7e1" stroke-width="2.48" stroke-linecap="round"/>
<path transform="scale(.5)" d="M824 611h0" stroke="#a092e6" stroke-width="2.48" stroke-linecap="round"/>
<path transform="scale(.5)" d="M858 545h0m0 2h0m6 12h0" stroke="#c1bcdd" stroke-width="2.48" stroke-linecap="round"/>
<path transform="scale(.5)" d="M848 567h0m1 1h0m4 4h0m-7-1h0m-4 0h0m-8 3h0m-1 0h0m5 5h0m4-1h0m2 0h0m2-3h0m7 6h0m-5 3h0m-13-4h0m-5 2h0m-1-2h0m0 5h0m0 4h0m13-2h0m6 1h0m13 5h0m-16 0h0m-3-2h0m-1-1h0m-1 1h0m-7-1h0m-6 6h0m19 0h0m15-1h0m0 4h0m1-2h0m1 7h0m-1-1h0m0-1h0m-1 1h0m0-2h0m-5 1h0m-1 1h0m0-2h0m-1 1h0m-5 2h0m-13 2h0m3 0h0m1 3h0m3-3h0m0 3h0m2 0h0m1-4h0m0 1h0m3 2h0m2 1h0m1 0h0m1-3h0m1 0h0m0 2h0m1-2h0m1 3h0m3-4h0m0 3h0m1-3h0m0 0h0m0 1h0m1 1h0m6 0h0m-3 4h0m-2 0h0m-1 1h0m0-1h0m0-1h0m-2 4h0m-1 0h0m-1-3h0m0-1h0m-2 3h0m0 0h0m-2 1h0m0-3h0m-1 2h0m0-3h0m-1 4h0m-2-2h0m-2-1h0m-2 3h0m0-1h0m-1 1h0m-1-4h0m0 0h0m-2 1h0m-1 3h0m-2-1h0m0-2h0m0 0h0m-1 3h0m-3 3h0m0 1h0m1 1h0m1 0h0m3-2h0m0 0h0m3-1h0m1 0h0m0 2h0m1-3h0m1 1h0m0 1h0m2 1h0m1 1h0m1-4h0m1 2h0m0 0h0m2-2h0m0 3h0m0 1h0m0 0h0m1-4h0m0 3h0m1-2h0m1-1h0m2 0h0m2 2h0m2 4h0m-1 2h0m-1 1h0m0-3h0m0 0h0m-2 2h0m-2 0h0m-1 0h0m-4 1h0m0-2h0m0-1h0m-1-1h0m-1 0h0m-1 0h0m-1 3h0m-1 1h0m-2-3h0m0-1h0m-2 3h0m0-2h0m-1 1h0m-1 1h0m-1-1h0m-1 1h0m0-2h0m-3 2h0m0 6h0m1-2h0m2 1h0m1 0h0m1-2h0m0 3h0m1-4h0m0 1h0m1-1h0m3 2h0m1-1h0m1 1h0m0 1h0m0 1h0m1-3h0m1 1h0m2 0h0m1 1h0m1-3h0m1 1h0m0 3h0m0 0h0m4-3h0m0 1h0m1-1h0m-4 7h0m-1-1h0m-1 0h0m-1 2h0m0 0h0m-1-1h0m-1 1h0m-2 0h0m0-3h0m-3 1h0m-1-1h0m-1 1h0m-1 1h0m-1-2h0m0 0h0m0-1h0m-3 2h0m0-2h0m4 5h0m0 0h0m2 1h0m0 1h0m1 1h0m1-3h0m0 1h0m0 3h0m1-3h0m0 2h0m1-3h0m0 1h0m0 3h0m1-3h0m0 1h0m1 0h0m0 1h0m1 1h0m2-3h0m0 1h0m0 1h0m2-3h0m-3 6h0m-1-1h0" stroke="#d2d1d8" stroke-width="2.48" stroke-linecap="round"/>
<path transform="scale(.5)" d="M871 589h0m2 0h0m4 0h0m2 0h0m2 5h0m-1 0h0m0-1h0m-3 1h0m-1 0h0m-1-2h0m-1 2h0m0-3h0m-3 3h0m0-1h0m-1 1h0m0-4h0m-1 3h0m-1 1h0m0-2h0m-2 2h0m0 1h0m1 3h0m1 0h0m1-2h0m2-1h0m1 0h0m0 0h0m1 1h0m0 1h0m0 1h0m1-2h0m1 3h0m1-3h0m2 0h0m3 2h0m1-3h0m3 2h0m5 0h0m0 2h0m3 0h0m0 3h0m0-1h0m-3 3h0m0-3h0m-2 3h0m-3-2h0m-2 0h0m-2 1h0m0-3h0m-2 4h0m-1-2h0m-1 2h0m-1-1h0m0-1h0m-1 0h0m-1 0h0m-2-2h0m-1 3h0m0-1h0m-1 1h0m0-3h0m-1 4h0m0-4h0m-26 8h0m5-3h0m25 1h0m0 0h0m2 0h0m0 1h0m0 2h0m1-2h0m2 0h0m0 2h0m1-2h0m3 1h0m0 0h0m2 0h0m2-3h0m0 1h0m0 1h0m0 2h0m1 0h0m1-2h0m2 1h0m2-3h0m1 1h0m0 3h0m1-4h0m1 2h0m1 7h0m-2-1h0m0-3h0m-1 3h0m0-2h0m-1 2h0m0-3h0m-3 3h0m0-3h0m-1 1h0m0 0h0m-1 1h0m-1 0h0m-2 1h0m-1-3h0m-1 3h0m-2-1h0m0-2h0m-1 4h0m0 0h0m0-1h0m-2 0h0m0-3h0m-1 4h0m0-3h0m0-1h0m-1 0h0m-1 0h0m-1 1h0m0 0h0m-1 0h0m-8 2h0m-4 0h0m-14-2h0m-7 0h0m-2 0h0m15 5h0m4 3h0m3-4h0m19 0h0m0 1h0m0 1h0m1 0h0m1 0h0m1 0h0m3-2h0m1 0h0m0 0h0m2 2h0m1-1h0m0 1h0m1 0h0m1-2h0m-41 9h0m0-4h0m7 6h0m-4 8h0m-13-1h0m5 6h0m5 0h0m3 5h0m0-3h0m-4 1h0m-1 1h0m0 0h0m-1-3h0m-1 1h0m-1 3h0m0 0h0m0-1h0m0-1h0m-1 1h0m0-1h0m-4 1h0m0-2h0m-1 3h0m-1-1h0m-3 0h0m-1 0h0m-1-1h0m0 0h0m-2 2h0m0-1h0m-1 0h0m0-3h0m-1 0h0m-1 4h0m-1-1h0m0-3h0m-1 4h0m-2-2h0m0 3h0m3 0h0m1 1h0m3 3h0m3-1h0m6-1h0m0 2h0m2-3h0m0 2h0m0 0h0m0 1h0m1-2h0m0 1h0m1-1h0m2 1h0m0 0h0m1 0h0m1 0h0m1 1h0m1-2h0m3 0h0m-4 3h0m-1 0h0m-4 2h0m0-1h0m0-1h0m-3 4h0m-3-1h0m-2 1h0m0-4h0m-1 3h0m-1 1h0m0-3h0" stroke="#d2d1d8" stroke-width="2.48" stroke-linecap="round"/>
<path transform="scale(.5)" d="M828 569h0m2 0h0m4-4h0m3 1h0m1 1h0m3 1h0m5 1h0m4-2h0m3 1h0m1 4h0m0-1h0m0-1h0m0 0h0m-2 2h0m-1 2h0m0-1h0m-1-3h0m-3 1h0m-3 0h0m-1 2h0m0-1h0m-1 0h0m0-2h0m-2 2h0m-1 0h0m-2 0h0m0-2h0m-1 3h0m-1-3h0m-1 1h0m-2 3h0m-2 0h0m-1-3h0m-1 3h0m-2 2h0m4-1h0m1 0h0m1 1h0m0 1h0m2-1h0m0 3h0m6-3h0m0 0h0m0 2h0m3-2h0m6 1h0m1-1h0m2 2h0m1 0h0m2-1h0m0 4h0m-1 2h0m-2 0h0m0-2h0m-1 0h0m-4-1h0m-1 2h0m-2 1h0m0-1h0m-1-1h0m-2 1h0m-2 2h0m-3-3h0m-1-1h0m-1 0h0m0 0h0m-2 4h0m0-3h0m-1 0h0m0-1h0m0 0h0m-4 3h0m2 5h0m1 1h0m3-3h0m1 0h0m3-1h0m1 2h0m0 2h0m1-3h0m0 0h0m2 0h0m1-1h0m1 0h0m1 4h0m1-4h0m0 2h0m1 0h0m1 1h0m1-3h0m3 0h0m0 3h0m1 0h0m1 1h0m3 0h0m1 0h0m0 5h0m0-4h0m-7 0h0m-1 3h0m-4-3h0m-4 3h0m-2 1h0m-3 0h0m0-3h0m0 0h0m-1 3h0m0-1h0m-1-3h0m-1 3h0m-1 0h0m-3 1h0m0-2h0m-1 2h0m-1-4h0m1 5h0m0 4h0m4-3h0m0 3h0m1-2h0m6-2h0m1 0h0m2 4h0m1-3h0m0 0h0m0 2h0m1-1h0m0 1h0m1-3h0m0 2h0m0 2h0m0 0h0m1-2h0m2 0h0m2-2h0m1 1h0m0 0h0m0 3h0m0 0h0m0 0h0m3-4h0m-2 5h0m-1 1h0m-1-1h0m-1 2h0m-3 1h0m-5-3h0m-1 2h0m-1 1h0m-2 0h0m0-1h0m-2-2h0m-1 3h0m-1-2h0m0-1h0m-1 4h0m0-2h0m0-2h0m-2 2h0m-3-1h0m3 6h0m2 0h0m1-2h0m1 0h0m0 2h0m3 1h0m0 0h0m0 1h0m2-1h0m4-2h0m3-1h0m-14 5h0m0 6h0" stroke="#c1bcdd" stroke-width="2.48" stroke-linecap="round"/>
<path transform="scale(.5)" d="M854 551h0m1 6h0" stroke="#d2d1d8" stroke-width="2.48" stroke-linecap="round"/>
<path transform="scale(.5)" d="M850 544h0m1 0h0m1-2h0m4 1h0m6 6h0m-1-2h0m-2-1h0m-2 0h0m-1 0h0m-1 1h0m-3-2h0m-1 0h0m7 6h0m3 3h0m1-1h0m1 0h0m0 0h0m-12 3h0m-1 1h0m-3 2h0m0 0h0m-6 5h0m2-2h0m0 1h0m1 1h0m1-2h0m1 1h0m1-3h0m1 4h0m2-3h0m0 1h0m1-1h0m1 0h0m2 2h0m9-3h0m-9 9h0m-1-2h0m0-1h0m-2 3h0m0 0h0m0 0h0m0-2h0m0-2h0m-2 1h0m-1-1h0m-3 0h0m-1 1h0m0-1h0m-2 3h0m-1-3h0m0 0h0m-2 7h0m0 1h0m0 0h0m0 1h0m0 0h0m1-1h0m0 0h0m4 0h0m3 0h0m1 1h0m0 0h0m1-4h0m0 2h0m1-2h0m1 4h0m1-1h0m2-3h0m1 1h0m-12 4h0m-1 1h0m0 0h0m45 13h0m0 0h0m1-1h0m1-1h0m4 2h0m6 3h0m-3 1h0m-1-1h0m0-2h0m-3 3h0m-1-2h0m-2 0h0m-1 1h0m-3 2h0m0-3h0m-1 2h0m-1-2h0m0 5h0m9-1h0m0 0h0m2 1h0m2 1h0m0 0h0m0 1h0m1-2h0m3 1h0m1 1h0m-2 5h0m-1-3h0m-1 4h0m-76 0h0m-5-2h0m-3 2h0m-5 1h0m0 0h0m0 1h0m1 0h0m3 2h0m1 0h0m0 0h0m1-3h0m0 2h0m1 2h0m1-4h0m1 0h0m0 1h0m2-1h0m1 1h0m0 2h0m1 1h0m0 0h0m1-2h0m0 2h0m1-2h0m1 1h0m76-3h0m-73 7h0m0-1h0m-1 0h0m-2 3h0m-3-2h0m-1-1h0m-4 1h0m-5-1h0m-1-1h0m-2 0h0m-1 6h0m1-1h0m0 1h0m1 2h0m0 1h0m2-1h0m12-3h0m1 1h0m-10 8h0m-1-1h0m-5 1h0m0-4h0m-1 2h0m-1-2h0m5 6h0m0 1h0m2-1h0m1-1h0m1 2h0m2 7h0m-1 0h0m0-3h0m0-1h0m-1 2h0m0-1h0m-3 1h0m-1 1h0m3 4h0m0 1h0m4-3h0m0 2h0m-2 4h0m18 7h0m12 0h0m-10 5h0" stroke="#c1bcdd" stroke-width="2.48" stroke-linecap="round"/>
<path transform="scale(.5)" d="M875 589h0m7 5h0m-4-3h0m-3 1h0m-2 0h0m-1 1h0m0-2h0m-1 2h0m-4 1h0m4 1h0m1 0h0m1 2h0m1 0h0m1-2h0m0 1h0m2 0h0m1 3h0m14-1h0m-5 2h0m-3 2h0m-1-2h0m-6 4h0m0-3h0m0 0h0m-2 0h0m-2 2h0m-1 1h0m-1-2h0m-2 4h0m1 0h0m2 3h0m1-4h0m5 4h0m1-1h0m1-2h0m0 1h0m3 1h0m2 1h0m2-1h0m1 0h0m0 1h0m6-4h0m0 0h0m0 2h0m-1 4h0m0-1h0m-1 2h0m-1 0h0m-1 1h0m0-1h0m0-1h0m-1 3h0m-1-3h0m-1 3h0m-3-4h0m-3 0h0m-4 2h0m0-2h0m-1 1h0m-1 2h0m0-1h0m-3-2h0m5 6h0m1-1h0m3 1h0m1-1h0m0 1h0m3-1h0m3 2h0m0 0h0m-43 22h0m0 0h0m-9 0h0m-13 2h0m0 1h0m0 0h0m0 2h0m2-2h0m0 1h0m3-3h0m0 2h0m1 0h0m1-2h0m0 0h0m0 0h0m0 2h0m0 2h0m1-2h0m2 1h0m4-1h0m0 0h0m2-2h0m1 4h0m1-4h0m1 1h0m0 2h0m1 1h0m0 0h0m1-4h0m1 0h0m0 3h0m1-2h0m1 0h0m0 2h0m1-3h0m1 1h0m0 3h0m0 0h0m1-3h0m1-1h0m0 3h0m0 6h0m0-4h0m-1 0h0m-1 4h0m0 0h0m-3-2h0m0-2h0m-1 3h0m0 0h0m0-1h0m0-2h0m0 0h0m-1 4h0m0-3h0m0-1h0m-1 3h0m0-2h0m0 0h0m-2 1h0m-1 2h0m0-4h0m-2 3h0m0-2h0m-1 2h0m-3 0h0m0 0h0m0-3h0m-1 1h0m-1-1h0m-1 3h0m0-1h0m0-2h0m-3 3h0m0-2h0m-1 0h0m-1 1h0m0 0h0m-1-2h0m-1 2h0m0-2h0m0 0h0m-1 0h0m5 5h0m3 0h0m0 1h0m0 1h0m0 0h0m1-1h0m1 1h0m0 0h0m2 0h0m1 1h0m1-1h0m1 2h0m1-3h0m4 3h0m1-4h0m2 0h0m1 2h0m1 0h0m-4 3h0m-5 0h0" stroke="#c1bcdd" stroke-width="2.48" stroke-linecap="round"/>
<path transform="scale(.5)" d="M833 569h0m9-3h0m-8 5h0m2 15h0m19 11h0m-5 3h0m14 4h0m-1 4h0m-2-2h0m0 0h0m-1 0h0m-3-1h0m-6 2h0m-16 2h0m7 4h0m7-3h0m2 3h0m2 1h0m3-3h0m3 3h0m5 1h0m-5 2h0m-4-2h0m-7 0h0m-1 0h0m-2 1h0m-9 0h0m21 6h0m4-2h0m-16 8h0m0-2h0m-5-1h0m8 8h0" stroke="#b1a7e1" stroke-width="2.48" stroke-linecap="round"/>
<path transform="scale(.5)" d="M852 567h0m-22 4h0m-1 6h0m9-2h0m3 4h0m3-4h0m11 2h0m0 6h0m-13 1h0m-14 2h0m24-1h0m1 4h0m11 3h0m-2 2h0m0-3h0m-25 0h0m-3 1h0m-1 1h0m-3 1h0m-1 5h0m5-1h0m5-2h0m3 3h0m13-4h0m6 1h0m1-1h0m0 2h0m9-2h0m3 3h0m0 3h0m-14 2h0m-2 0h0m-1 0h0m-2 1h0m0-1h0m0-1h0m-2 0h0m-2 2h0m-7-2h0m-6-2h0m-10 1h0m3 5h0m10 3h0m1-1h0m0 1h0m2-3h0m1 2h0m3-2h0m3 0h0m4 0h0m1 3h0m1-3h0m0 1h0m6 1h0m0 1h0m1-4h0m0 3h0m1 1h0m3-3h0m4 3h0m19-3h0m4-1h0m-3 9h0m0-2h0m-6-1h0m-23 3h0m0 0h0m-1-1h0m-3 1h0m0 0h0m0-4h0m-1 3h0m0-3h0m-1 2h0m-1 0h0m-2-1h0m-1 3h0m0-2h0m0-1h0m-2 2h0m0-1h0m-1 0h0m-6-1h0m-2 3h0m-1-4h0m-1 0h0m-3 1h0m-1 1h0m-2 2h0m0 3h0m0 1h0m1 1h0m1-4h0m1 3h0m4 0h0m2 0h0m2-2h0m4 1h0m1 0h0m2 2h0m3-1h0m0 0h0m1-2h0m0 2h0m1-2h0m0 3h0m1-3h0m1 3h0m0 0h0m1-2h0m3-2h0m15 2h0m1 0h0m-15 3h0m-1 1h0m-2 2h0m-2 0h0m-2-3h0m-1 0h0m-1 3h0m0-1h0m-1 2h0m-2-2h0m-2 1h0m-1-1h0m-1 2h0m0-4h0m-2 2h0m-1-1h0m-2 2h0m-4 1h0m-1-2h0m-1 2h0m-1-4h0m-1 3h0m0-3h0m-1 1h0m0-1h0m-1 1h0m1 6h0m1-1h0m4 3h0m3 0h0m4-2h0m1 1h0m2 0h0m2 0h0m0 1h0m4-2h0m1 2h0m4-3h0m-6 5h0m0 0h0m0-1h0m-1 0h0m0 0h0m-1 2h0m-1 1h0m-1 0h0m-4 0h0m0-3h0m-1 2h0m0-1h0m-5 2h0m-3-2h0m1 4h0m5 0h0m2 1h0m3 1h0m1-2h0m2 2h0m1 3h0m-6 0h0" stroke="#c1bcdd" stroke-width="2.48" stroke-linecap="round"/>
<path transform="scale(.5)" d="M835 568h0m4 1h0m6 0h0m9 2h0m-22-1h0m-1 7h0m1-1h0m3-1h0m20 0h0m1 5h0m-5 3h0m-24 1h0m8 2h0m13 2h0m9 1h0m-3 4h0m0-1h0m-14-1h0m-1-1h0m-9 4h0m0-4h0m-1 4h0m11 1h0m4 1h0m1 1h0m3-1h0m-8 5h0m-10 8h0m2-2h0m2 2h0m2-1h0m2 1h0m4-2h0" stroke="#b1a7e1" stroke-width="2.48" stroke-linecap="round"/>
<path transform="scale(.5)" d="M880 594h0m9 5h0m-20-1h0m-50 6h0m40-3h0m21-1h0m14 0h0m1 1h0m-17 5h0m-68 7h0m16-1h0m46 2h0m18-1h0m0 1h0m-5 3h0m-73 7h0m34 0h0m11-3h0m-1 4h0m-20 3h0m3 2h0m6 14h0m-1-2h0m-2 0h0m-6-2h0m-3 2h0m-2-1h0m-1 1h0m-2 0h0m-4 5h0m18 0h0m4-1h0m-13 6h0" stroke="#b1a7e1" stroke-width="2.48" stroke-linecap="round"/>
<path transform="scale(.5)" d="M978 552h0m-3 4h0m2 6h0" stroke="#d2d1d8" stroke-width="2.48" stroke-linecap="round"/>
<path transform="scale(.5)" d="M972 547h0m0 1h0m0 1h0m1 0h0m0 0h0m0 0h0m1 0h0m2-1h0m1 0h0m0 0h0m7 5h0m-1 1h0m0-3h0m-1 1h0m-1-1h0m-1 2h0m0-3h0m-1 0h0m-1 0h0m-1 2h0m-1-1h0m-1 0h0m-1 0h0m9 4h0m0 1h0m0 2h0m1-1h0m1 0h0m0 0h0m1 6h0m-1 1h0m-10 0h0m0-2h0m-2 2h0m0-3h0m0-1h0m-1 1h0m-1 0h0m-1-1h0m-1 4h0m-1-1h0m0-1h0m-5 7h0m0 0h0m2-4h0m0 2h0m1 1h0m2-3h0m1 0h0m0 3h0m1 0h0m2-2h0m1-1h0m0 1h0m0 2h0m0 1h0m1-3h0m2 2h0m8-3h0m1 0h0m2 1h0m-10 5h0m-1 3h0m0-4h0m-1 2h0m-1 1h0m-1 1h0m0-1h0m0 0h0m0-2h0m-2 0h0m-1 2h0m-1-2h0m-2 0h0m-4-1h0m0 0h0m-1 1h0m-2 4h0m1 1h0m0 0h0m0 2h0m0 0h0m0 0h0m2 1h0m1 0h0m0 0h0m2-1h0m3 0h0m1 1h0m0 0h0m1-2h0m0 2h0m1-4h0m1 2h0m0 2h0m3-4h0m0 2h0m-6 3h0m-5 0h0m0 0h0m-1 0h0m0 0h0m-23 28h0m0 1h0m2-1h0m3 5h0m-1 0h0m0-1h0m-1-1h0m-1 3h0m0-4h0m-1 2h0m-1 1h0m-2-1h0m0 0h0m0-2h0m-1 4h0m-1-1h0m-1-3h0m0 0h0m-2 2h0m-1 2h0m-1 0h0m-1-2h0m0-1h0m-2 6h0m2 1h0m2-1h0m1-2h0m8 1h0m1 0h0m1-1h0m1 3h0m0 1h0m1-4h0m0 1h0m0 3h0m3-3h0m-3 4h0m-13 3h0m0-1h0m-1 2h0m0-4h0m-1 3h0m0 0h0m-1-3h0m-1 1h0m-1 4h0m2 4h0m1-3h0m3 2h0m2 1h0m2 4h0m-1-1h0m0-1h0m-2 3h0m0-3h0m-2 0h0m0 6h0m1-1h0m4-1h0m0 0h0m0 4h0m0 0h0m1-3h0m29 7h0m-8 1h0m-19-4h0m-1 1h0m-4-1h0m10 8h0m7-3h0m1 2h0m3 0h0m7 1h0m5 0h0m5 6h0m-5-2h0m-2 0h0m-1-1h0m-7 1h0m0-2h0m-3 2h0m-3 2h0m-7-2h0m12 5h0m7 0h0m0 2h0m3-3h0m4-1h0" stroke="#d2d1d8" stroke-width="2.48" stroke-linecap="round"/>
<path transform="scale(.5)" d="M997 594h0m17 8h0m-14 1h0m-3-2h0m-2 1h0m-4 0h0m2 4h0m4 1h0m4 1h0m11-2h0m0 7h0m-10 1h0m0-2h0m0-1h0m-1 1h0m-7 3h0m2 0h0m3 1h0m12 3h0m-4 1h0m-3 0h0m-1 1h0m-3-1h0" stroke="#6b57eb" stroke-width="2.48" stroke-linecap="round"/>
<path transform="scale(.5)" d="M1002 604h0m-3 4h0m0-3h0m-4 11h0m20-1h0" stroke="#8575e9" stroke-width="2.48" stroke-linecap="round"/>
<path transform="scale(.5)" d="M961 654h0" stroke="#a092e6" stroke-width="2.48" stroke-linecap="round"/>
<path transform="scale(.5)" d="M950 574h0m3-2h0m6-2h0m0 4h0m3-4h0m1 3h0m1 1h0m8-3h0m4 3h0m0 3h0m0-1h0m-2 1h0m-2-2h0m-3 0h0m-3 3h0m-1-1h0m-1-1h0m-1-1h0m-4 1h0m-1 1h0m-2-2h0m-2 3h0m0-3h0m-2 4h0m-2 0h0m-2 2h0m3 0h0m2-1h0m1 1h0m2-1h0m2 1h0m0 3h0m4-4h0m0 1h0m2-1h0m1 0h0m2 0h0m0 1h0m7 1h0m3-1h0m0 1h0m1 1h0m0 4h0m-1-1h0m-2 1h0m-5 0h0m0 0h0m-2-1h0m-5 2h0m-2 0h0m0-3h0m-3 4h0m0-4h0m-4 4h0m-1-4h0m-1 8h0m1 0h0m2-3h0m0 0h0m1 0h0m4 4h0m1 0h0m2-4h0m0 3h0m3 0h0m1 1h0m1-2h0m1 0h0m0 1h0m1 1h0m2-3h0m0 1h0m2 0h0m1-1h0m1-1h0m0 2h0m2 1h0m1 0h0m0 1h0m-3 5h0m0-1h0m-4-1h0m-2-1h0m-4 0h0m-4-1h0m-1 4h0m-3 0h0m0-3h0m0-1h0m-2 2h0m-1 2h0m-4 0h0m0-3h0m-2 7h0m1-2h0m2-1h0m3 1h0m2 3h0m4-4h0m1 0h0m2 1h0m1-1h0m0 1h0m1 0h0m0 2h0m1-3h0m1 0h0m0 4h0m2-2h0m3-1h0m0 2h0m0 1h0m1-2h0m2-2h0m3 2h0m-4 3h0m-7 3h0m-3-1h0m-3 0h0m-1 1h0m-1 1h0m-1-2h0m-3 2h0m-1-4h0m0 0h0m0 0h0m-1 3h0m-1 0h0m-1 2h0m0 2h0m2 0h0m6 2h0m1-2h0m3-1h0m2-1h0m-7 5h0" stroke="#c1bcdd" stroke-width="2.48" stroke-linecap="round"/>
<path transform="scale(.5)" d="M974 547h0m1 1h0m3-1h0m3 2h0m3 4h0m-2-2h0m-1 2h0m-1-3h0m-2 1h0m-3 3h0m0-4h0m1 6h0m4 0h0m3 2h0m1-2h0m1 3h0m1 0h0m-1 5h0m0-1h0m-2-2h0m-7 3h0m-7 0h0m0-1h0m-2 1h0m-2 2h0m0 3h0m1 0h0m1-1h0m0 1h0m0 0h0m1-4h0m0 2h0m2 2h0m2-3h0m0 3h0m3-4h0m10 0h0m2 1h0m-11 7h0m-1-2h0m-2 2h0m-2 1h0m0-4h0m-1 1h0m-1 2h0m-2-2h0m-1-1h0m-2 2h0m-2-1h0m-1 7h0m1 0h0m0 0h0m1-1h0m3 1h0m3 0h0m1-3h0m2 0h0m2 1h0m0 1h0m3-2h0m-9 6h0m-1-1h0m-3 0h0m-34 29h0m2-1h0m2 1h0m1-1h0m3-2h0m9 7h0m-1-1h0m-2 1h0m-1 1h0m0-2h0m-1 0h0m-3-1h0m0-1h0m-1 2h0m0-2h0m-2 1h0m-1 2h0m0-1h0m-2 0h0m-1 0h0m-2-2h0m0 0h0m1 5h0m0 4h0m1-1h0m1-3h0m1 2h0m4 0h0m4-1h0m4 3h0m1 0h0m1-2h0m-18 3h0m-1 2h0m0 5h0m1-2h0m0 3h0m6 6h0m0-4h0m-1 1h0m0 0h0m-1 3h0m0-1h0m-1-3h0m-3 0h0m5 5h0m0 1h0m2 0h0m0 0h0m1-1h0m1 3h0m0 1h0m33 5h0m-22 0h0m-9-2h0m-3-1h0m-2 2h0m0-1h0m0-1h0m2 4h0m8 4h0m19 0h0m2 0h0m4-1h0m-3 4h0m-1-2h0m-12 2h0m-3-1h0m3 5h0m0 0h0m4 2h0m4-2h0m3 4h0" stroke="#c1bcdd" stroke-width="2.48" stroke-linecap="round"/>
<path transform="scale(.5)" d="M1006 594h0m2 0h0m4-2h0m1 0h0m5 5h0m-1 2h0m-3 0h0m0-1h0m-1-3h0m-2 0h0m-2 3h0m-2 0h0m-1-1h0m-1 2h0m-1 0h0m0-4h0m-16 4h0m18 1h0m12 3h0m1-3h0m1 4h0m1-3h0m0 1h0" stroke="#6b57eb" stroke-width="2.48" stroke-linecap="round"/>
<path transform="scale(.5)" d="M957 569h0m18 3h0m-3 2h0m-1 0h0m0-2h0m-3 2h0m0-1h0m-1 1h0m0-2h0m0-1h0m-1 0h0m-1 1h0m-4 2h0m-1-2h0m0-2h0m-1 4h0m-1-3h0m-1 3h0m-2 0h0m0 0h0m0-2h0m-3 2h0m0-3h0m-2 6h0m1-2h0m0 4h0m2-2h0m1-2h0m1 4h0m2-4h0m4 4h0m1-3h0m1 0h0m3-1h0m5 2h0m1-2h0m1 2h0m0 1h0m0 1h0m1 0h0m2-4h0m0 1h0m1 3h0m-1 2h0m-4 0h0m0-1h0m-1 1h0m0 0h0m-9 1h0m-3-2h0m-2 0h0m-1 4h0m0 0h0m0-1h0m0-2h0m-2 0h0m0-1h0m-1 4h0m-1-3h0m-1 0h0m-1 3h0m-1 5h0m0 0h0m2 0h0m2-4h0m1 0h0m1 0h0m0 4h0m2-4h0m2 4h0m3-4h0m1 1h0m1 3h0m1-4h0m1 2h0m0 0h0m0 0h0m1-1h0m0 1h0m0 2h0m0 0h0m2-4h0m0 4h0m1 0h0m1-4h0m1 1h0m1-1h0m1 3h0m0 1h0m3-4h0m0 1h0m2 8h0m0-1h0m0-1h0m-6 0h0m0-2h0m-1 4h0m0-3h0m-1 0h0m-3 0h0m-1 2h0m-1-3h0m-3 0h0m-1 4h0m-1-3h0m0-1h0m-1 3h0m-3-3h0m-1 4h0m0 0h0m-1-2h0m-3 2h0m0 0h0m-1-1h0m-2 1h0m2 5h0m6-2h0m3-2h0m3 0h0m0 1h0m2 2h0m3-1h0m3 0h0m1 2h0m0 0h0m4-2h0m3 1h0m-1 4h0m-1 1h0m0-1h0m-3 2h0m0 0h0m0-4h0m0 0h0m-1 3h0m0-3h0m-1 2h0m-1 2h0m-1-4h0m-1 1h0m-1 1h0m-1 1h0m0-2h0m-1 0h0m-1 1h0m0-1h0m-2 3h0m-1-4h0m-1 3h0m-2-2h0m-1 2h0m-2-2h0m-1 3h0m-1 0h0m0-4h0m-4 4h0m-1-3h0m0 5h0m1-1h0m3 3h0m0 1h0m1-2h0m1 0h0m0 2h0m4-3h0m0 2h0m2-1h0m0 1h0m1-2h0m1 3h0m5 0h0m1-3h0m2 0h0m2-1h0m-8 5h0m-5 3h0m-1-1h0m0 0h0m0-1h0m0-1h0m-1 3h0m-2 1h0m-2-1h0m0-1h0m-2 2h0m-1-3h0m0-1h0m-1 4h0m4 1h0m0 5h0" stroke="#d2d1d8" stroke-width="2.48" stroke-linecap="round"/>
<path transform="scale(.5)" d="M998 600h0m13 3h0m-12 5h0m18 2h0m-5 9h0" stroke="#8575e9" stroke-width="2.48" stroke-linecap="round"/>
<path transform="scale(.5)" d="M1009 593h0m0 1h0m1-2h0m7 2h0m-10 1h0m-2 0h0m-3 3h0m-2-3h0m-2 3h0m-1-2h0m-2 0h0m-2 2h0m-5 2h0m3 0h0m6 0h0m3 1h0m3 2h0m12 3h0m-3 2h0m-7-3h0m-9 1h0m-1 5h0m2 0h0m3 2h0m1 0h0m5 1h0m4-3h0m1 3h0m4-3h0m0 2h0m1-1h0m2 6h0m-4-2h0m-2 1h0m-3 1h0m-7-2h0m-1 2h0m-2-1h0m0-2h0m-1 0h0m-4 3h0m5 3h0m1 1h0m1-1h0m5-1h0m1 2h0m4-1h0" stroke="#503aee" stroke-width="2.48" stroke-linecap="round"/>
<path transform="scale(.5)" d="M956 570h0m9 2h0m2 1h0m-7 2h0m-6 7h0m24 3h0m-16 5h0m9 0h0m-5 8h0m-9-2h0m10 6h0m0 2h0m7-2h0m5-2h0m-24 6h0m-6-1h0m8 5h0" stroke="#b1a7e1" stroke-width="2.48" stroke-linecap="round"/>
<path transform="scale(.5)" d="M976 556h0" stroke="#c1bcdd" stroke-width="2.48" stroke-linecap="round"/>
<path transform="scale(.5)" d="M1020 599h0m3 4h0m0 3h0" stroke="#503aee" stroke-width="2.48" stroke-linecap="round"/>
<path transform="scale(.5)" d="M994 608h0m6-2h0m3 8h0m11 4h0m1-3h0" stroke="#8575e9" stroke-width="2.48" stroke-linecap="round"/>
<path transform="scale(.5)" d="M977 607h0m4-2h0m5 7h0m-7-2h0m-13 1h0m-1 1h0m-6 6h0m1-3h0m2 4h0m10-3h0m3-1h0m0 3h0m4-2h0m0 0h0m3 2h0m1-1h0m3 1h0m0 1h0m-5 3h0m-2 2h0m-2-1h0m-2-3h0m-1 3h0m0-1h0m-2 0h0m-1 2h0m-7-4h0m-5 9h0m9-1h0m2-3h0m1 1h0m6 1h0m2-1h0m2 2h0m4-3h0m-3 5h0m-3 1h0m-4 2h0m-2 0h0m0 0h0m0-1h0m-2 0h0m-2 1h0m-1 0h0m-2-1h0m-7 0h0m-2-2h0m2 6h0m1 3h0m1-2h0m1-2h0m0 0h0m0 0h0m1 4h0m5-1h0m1 1h0m4-1h0m0 1h0m1-2h0m0 2h0m2 0h0m-3 5h0m-2-2h0m-1 2h0m-4-1h0m0-1h0m-3 2h0m-12 0h0m-6 1h0m0 1h0m2 1h0m0 1h0m1 0h0m1 0h0m1-3h0m0 1h0m1 0h0m1-1h0m1 1h0m1 0h0m0 0h0m1 1h0m1 1h0m2-3h0m1 2h0m0 0h0m1 2h0m2 0h0m4-1h0m1 0h0m1-3h0m0 0h0m0 4h0m1-4h0m0 2h0m0 1h0m2-3h0m0 4h0m3-1h0m-2 2h0m-1 3h0m0-2h0m-1 2h0m-2-2h0m0 0h0m-1 2h0m0-1h0m0-1h0m-1 3h0m-1-2h0m0-1h0m0-1h0m-1 3h0m0-1h0m-1 0h0m-1 2h0m0-4h0m-1 1h0m-4 1h0m-1 1h0m-1 0h0m-2-1h0m-1 1h0m-2-1h0m-2-2h0m0 0h0m2 5h0m3 0h0m0 1h0m2 0h0m1 2h0m5-3h0m1 3h0m3-3h0m0 2h0m1 1h0" stroke="#c1bcdd" stroke-width="2.48" stroke-linecap="round"/>
<path transform="scale(.5)" d="M990 602h0m13 5h0m3 6h0m4 1h0m5 0h0" stroke="#8575e9" stroke-width="2.48" stroke-linecap="round"/>
<path transform="scale(.5)" d="M1006 593h0m0 1h0m1-1h0m1-1h0m0 2h0m1-1h0m0 1h0m0 0h0m1-2h0m1 0h0m0 1h0m2 1h0m2-3h0m0 1h0m0 1h0m6 4h0m-1 2h0m-2 0h0m0-4h0m0 0h0m-1 1h0m-1-1h0m-3 2h0m-2 0h0m0 0h0m-1-1h0m-3 2h0m-2 0h0m0-3h0m-1 0h0m-3 2h0m6 3h0m5 0h0m2 0h0m2 0h0m1 0h0m1 0h0m0 1h0m0 1h0m1 2h0m3-3h0m0 1h0m0 2h0m1 5h0m-1 0h0m-1-2h0m-1 0h0" stroke="#503aee" stroke-width="2.48" stroke-linecap="round"/>
<path transform="scale(.5)" d="M953 573h0m1-2h0m17 1h0m1 2h0m2-2h0m2 3h0m-1 1h0m-7-1h0m-12 1h0m-7 3h0m-1 5h0m3-2h0m2-1h0m4 1h0m6 1h0m1-1h0m2 0h0m9 3h0m-21 2h0m-4 3h0m1 4h0m33 4h0m0-2h0m-1 1h0m-19-1h0m-5-1h0m-1 0h0m-1 3h0m-1-2h0m-1-1h0m-1 2h0m-2 1h0m-2 1h0m0 0h0m-1-2h0m7 6h0m8 1h0m4-3h0m9 0h0m0 2h0m1-1h0m5-1h0m0 3h0m1-3h0m0 0h0m1 7h0m-2-1h0m-1 2h0m0-1h0m-2 0h0m-5-2h0m-4 3h0m-5-3h0m-14 0h0m4 5h0m1 2h0m4-2h0m3 2h0m3 1h0m6-2h0m2-2h0m2 1h0m4 1h0m2 0h0m2 1h0m2 1h0m-2 5h0m0 0h0m0-1h0m-1-2h0m-1-1h0m-5 1h0m-1 3h0m0 0h0m0-1h0m-1-3h0m-1 4h0m0-1h0m-1 1h0m-1-1h0m-3 1h0m-1-3h0m-3 2h0m-1-3h0m-2 0h0m-1 0h0m-6 7h0m1 1h0m2-1h0m8-1h0m7 2h0m1 0h0m3-2h0m0 3h0m3-1h0m1-2h0m1 4h0m-2 4h0m0-3h0m-2 0h0m-2 1h0m0-1h0m-1 1h0m-2 0h0m-2 2h0m0-2h0m-4 0h0m-1 1h0m-2-2h0m-4 2h0m0 0h0m1 2h0m0 0h0m1 0h0m4 2h0m1-1h0m0 1h0m1-1h0m1 0h0m2 0h0m3 0h0m2 0h0m2 0h0m-3 4h0m-3 3h0m-4-2h0m-6 1h0m2 4h0m0 1h0m2-2h0m2 3h0m1-2h0m2 2h0m0 1h0m2-4h0m-1 5h0" stroke="#c1bcdd" stroke-width="2.48" stroke-linecap="round"/>
<path transform="scale(.5)" d="M994 595h0m8 3h0m2 0h0m-8 4h0m0-1h0m-3-1h0m-2 4h0m5 1h0m1 0h0m11 4h0m0 4h0m0-1h0m-1 1h0m-2 1h0m-8-2h0m-5-2h0m3 5h0m17 2h0m2 0h0m0 2h0m-4 2h0m0 0h0m-9 0h0" stroke="#6b57eb" stroke-width="2.48" stroke-linecap="round"/>
<path transform="scale(.5)" d="M955 573h0m2-1h0m5 1h0m0 1h0m2-4h0m6 1h0m6 5h0m-1-1h0m-2 4h0m-2-2h0m-2-1h0m-1 3h0m-2 0h0m-1-3h0m-1 3h0m0-3h0m-3 1h0m-1-2h0m-2 2h0m-2 1h0m-1 0h0m-3 0h0m0-3h0m0 5h0m5 4h0m1-2h0m2-2h0m0 3h0m11 1h0m4-2h0m2-2h0m0 1h0m0 7h0m-1 0h0m-2 1h0m0-3h0m-4 2h0m-5 1h0m-1 0h0m0 0h0m-12-2h0m-1 2h0m0-4h0m-1 0h0m-1 2h0m1 4h0m3 1h0m4-2h0m1 1h0m6 0h0m2 0h0m1 0h0m3 1h0m0 0h0m5 0h0m0 1h0m0 1h0m11 3h0m-2 2h0m-1 0h0m-8-2h0m-1 2h0m-5 0h0m-2-1h0m-4-3h0m-1 1h0m-7 2h0m0 0h0m-3 1h0m-2-2h0m-2 6h0m1-2h0m2 0h0m1 2h0m9-3h0m3 3h0m1-2h0m5 0h0m2 3h0m0 0h0m5-4h0m7 6h0m-2 3h0m-1 0h0m-2-1h0m-2 1h0m0-1h0m0-2h0m-9 3h0m0-1h0m-8-3h0m-4 3h0m-6-3h0m-1 0h0m4 5h0m5 0h0m0 1h0m4 3h0m2 0h0m1-3h0m0 3h0m2-2h0m4 1h0m0 1h0m3-1h0m2-1h0m3-2h0m1 4h0m1 0h0m1-4h0m1 0h0m2 2h0m1-2h0m-2 8h0m-3 1h0m-1-2h0m-2-1h0m-1 2h0m-3 0h0m0-3h0m-1 3h0m0-1h0m0 0h0m-4 2h0m-2 0h0m0-2h0m-1-1h0m-2 3h0m0-2h0m-4-2h0m-4 3h0m0 3h0m0 3h0m1-1h0m1 1h0m3-2h0m2 0h0m4-2h0m0 1h0m2 2h0m2-1h0m0 2h0m1-3h0m0 0h0m4 0h0m1 2h0m1-1h0m1-2h0m0 0h0m2 2h0m2 5h0m-2-2h0m-2 3h0m0-3h0m-5 4h0m-2-3h0m-2 2h0m0-3h0m-1 0h0m-1 2h0m-3-2h0m-2 3h0m0-3h0m-1 2h0m-2 0h0m-4 4h0m0 3h0m4-1h0m1 0h0m6-2h0m1 2h0m7 1h0m5-4h0m-6 6h0m-3 3h0m-1-2h0m-2-2h0m-1 4h0m-1-2h0m-1-2h0m-1 1h0m-2 1h0m-3-2h0m9 5h0m0 3h0m1-2h0m1-1h0m0 1h0m3 0h0m1 2h0" stroke="#d2d1d8" stroke-width="2.48" stroke-linecap="round"/>
<path transform="scale(.5)" d="M1022 601h0m-3 8h0" stroke="#6b57eb" stroke-width="2.48" stroke-linecap="round"/>
<path transform="scale(.5)" d="M990 597h0m1 0h0m1-2h0m1 3h0m0 1h0m1 0h0m2-4h0m3 3h0m4 0h0m9 4h0m-13-2h0m-2 4h0m-2-2h0m0-1h0m-2-1h0m-1 4h0m1 4h0m5-1h0m1-2h0m8 2h0m3 1h0m6 1h0m-2 1h0m-1 1h0m-4 3h0m-1-4h0m-4 3h0m-4 1h0m-2 0h0m-1 0h0m-3-1h0m-3-2h0m-1-1h0m4 5h0m3 0h0m0 1h0m4 1h0m6 2h0m1-4h0m1 1h0m1 0h0m1 2h0m1-1h0m1-1h0m3 1h0m-9 3h0m-7 1h0" stroke="#503aee" stroke-width="2.48" stroke-linecap="round"/>
<path transform="scale(.5)" d="M976 548h0m8 6h0m-3-3h0m-1 1h0m-13 15h0m1 7h0m-1-4h0m-1 0h0m-31 44h0m7-4h0m7 6h0m-1 0h0m-18-1h0m5 13h0m2 4h0m3 7h0m-1 5h0" stroke="#b1a7e1" stroke-width="2.48" stroke-linecap="round"/>
<path transform="scale(.5)" d="M973 608h0m3-2h0m1 0h0m7 2h0m2 1h0m3 2h0m-4 2h0m-2-2h0m-1 0h0m-3 0h0m-1 3h0m-1-4h0m-1 1h0m-3 3h0m-3-4h0m-5 3h0m-2 1h0m0-1h0m-5 4h0m1-2h0m0 1h0m1 1h0m1-2h0m7 1h0m3 0h0m0 3h0m4-3h0m0 0h0m6 2h0m0 1h0m0 0h0m5-3h0m-3 8h0m-2-1h0m-1-2h0m-6 0h0m-7-1h0m-1 0h0m-1 3h0m0-1h0m0-2h0m-4 1h0m-3 3h0m0-3h0m-2 2h0m0-2h0m-1 4h0m1 2h0m1-2h0m0 2h0m2-1h0m0 1h0m1-1h0m2 3h0m3-1h0m2-3h0m4 4h0m1-3h0m4 2h0m6 0h0m-4 5h0m0-3h0m0 0h0m-2 4h0m-1 0h0m0-1h0m-8-2h0m-6 3h0m0 0h0m-3-1h0m-1-2h0m6 8h0m2 0h0m2-4h0m0 2h0m2 1h0m3-1h0m0 0h0m3 0h0m1 1h0m0 3h0m-2 0h0m-3 2h0m0-2h0m0-1h0m-4 3h0m0 0h0m0 0h0m0-3h0m-6 4h0m-3 0h0m-16 4h0m3-2h0m0 1h0m0 2h0m1-2h0m1 0h0m1-2h0m2 1h0m1 1h0m1-2h0m0 0h0m0 1h0m0 1h0m0 1h0m0 0h0m0 0h0m1 1h0m2-2h0m0 1h0m4-2h0m2-1h0m0 2h0m1 1h0m2-2h0m0 1h0m0 0h0m1-1h0m0 2h0m0 1h0m1-4h0m0 1h0m0 0h0m0 2h0m0 0h0m0 1h0m1-4h0m0 0h0m0 3h0m1-3h0m1 3h0m1-1h0m1 1h0m1-3h0m1 2h0m0 0h0m0 2h0m1-4h0m0 1h0m0 6h0m-1 1h0m-2 1h0m-1 0h0m-1 0h0m0-2h0m-1 0h0m-1 1h0m0-1h0m-1 2h0m-1-4h0m-1 2h0m-1 2h0m0-1h0m0-2h0m0-1h0m-2 0h0m-1 2h0m0-1h0m-4 2h0m0-3h0m-1 1h0m-1-1h0m-1 1h0m-3-1h0m-1 1h0m0 0h0m-1 1h0m0 0h0m-2-2h0m0 0h0m-1 0h0m0 0h0m8 6h0m1 0h0m1 0h0m0 2h0m2-3h0m0 1h0m0 2h0m1-1h0m1-1h0m0 1h0m0 0h0m1 2h0m2-3h0m3-1h0m3 0h0m1 1h0m1 0h0m-9 4h0" stroke="#d2d1d8" stroke-width="2.48" stroke-linecap="round"/>
<path transform="scale(.5)" d="M1012 599h0m-7 1h0" stroke="#8575e9" stroke-width="2.48" stroke-linecap="round"/>
<path transform="scale(.5)" d="M954 573h0m10 2h0m9 12h0m-13 4h0m3 6h0m-9 7h0m-3 0h0m32 2h0m-5 7h0m-8-2h0m-11 3h0m-3-3h0m23 4h0m1 4h0m3-4h0m-27 10h0m3 10h0" stroke="#b1a7e1" stroke-width="2.48" stroke-linecap="round"/>
<path transform="scale(.5)" d="M993 593h0m3 6h0m-2 0h0m0-2h0m-1 0h0m-3 1h0m-1 0h0m20 6h0m7 5h0m-10-3h0m-14 1h0m-1 1h0m3 5h0m6-2h0m5 1h0m5 0h0m4 2h0m1 3h0m-15 2h0m-2-3h0m2 4h0m2 2h0m7 0h0" stroke="#6b57eb" stroke-width="2.48" stroke-linecap="round"/>
<path transform="scale(.5)" d="M978 607h0m-5 3h0m-5 1h0m-10 8h0m23 0h0m-3 4h0m-4 0h0m-4 0h0m16 2h0m-22 9h0m-3-4h0m15 6h0m-25 8h0m-6 1h0m2 4h0m2 1h0m-3 2h0" stroke="#b1a7e1" stroke-width="2.48" stroke-linecap="round"/>
<path transform="scale(.5)" d="M995 593h0m4 0h0m2 0h0m3 6h0m-2-1h0m-5-1h0m-3 2h0m-2-1h0m-3 5h0m6 0h0m1-3h0m11 2h0m5 1h0m3 1h0m2 2h0m-1 3h0m0-4h0m-1 2h0m-10-1h0m-2-1h0m-5 3h0m-3 1h0m0-2h0m-1-2h0m-1 1h0m2 4h0m3 1h0m1 3h0m1-3h0m4 2h0m5-1h0m8 0h0m-1 3h0m-4 4h0m0-3h0m-2-1h0m0 0h0m-2 2h0m-2 0h0m-2 2h0m0-2h0m-3 2h0m-3 0h0m-1-1h0m6 3h0m7-1h0m0 1h0" stroke="#503aee" stroke-width="2.48" stroke-linecap="round"/>
<path transform="scale(.5)" d="M159 487h0m46 5h0m-12 1h0m-2 1h0m-21 0h0m-8 0h0m-5 0h0m-3 5h0m3-3h0m2 1h0m22 0h0m9 0h0m12-1h0m-6 7h0m-38 1h0m-3-1h0m-1-3h0m-1 2h0m-3 2h0m14 1h0m18 4h0m8-2h0m1 0h0" stroke="#CF66F0" stroke-width="2.96" stroke-linecap="round"/>
<path transform="scale(.5)" d="M104 452h0m4 2h0m1-2h0m2 1h0m-1 4h0m-2-1h0m0-1h0m-8 3h0m6 2h0m17 5h0m-8 9h0m2-3h0m4-1h0m4 9h0m-11-4h0m-3 0h0m12 7h0m2 2h0m2 0h0m23 4h0m-9 1h0m-1 0h0m-5 0h0m-16-2h0m-2-1h0m3 8h0m1-2h0m8-1h0m1-1h0m1 2h0m20 1h0m-2 3h0m-13 0h0m-3 1h0m-3 1h0m5 5h0m7-1h0m3-1h0m8 0h0m3 0h0m-9 8h0m-1-4h0m-8 0h0" stroke="#4FBAC0" stroke-width="2.96" stroke-linecap="round"/>
<path transform="scale(.5)" d="M133 377h0m3 0h0m5 1h0m5-2h0m10 1h0m7 0h0m4 2h0m9 4h0m-5-1h0m-6 0h0m-5 2h0m-7-1h0m-7-3h0m-2 1h0m-9-1h0m-2 4h0m-6 2h0m3 3h0m7-4h0m15 2h0m1-2h0m0 4h0m5-2h0m5 2h0m2-1h0m2-1h0m2-2h0m4 3h0m-3 3h0m-9 0h0m-18 3h0m-3-1h0m-12 2h0m0 2h0m3 0h0m7-2h0m15 0h0m5 3h0m8 1h0m-1 5h0m-27-2h0m-3 1h0m-1-2h0m0-1h0m-5 1h0m24 5h0m0 3h0m3-3h0m8 3h0m3-1h0m-12 2h0m-3 0h0m-7 4h0m-3-2h0m0-2h0m-5 4h0m-2 0h0m-3-4h0m-1 7h0m0 0h0m1-1h0m5-1h0m7 2h0m14 6h0m-5 0h0m-9 0h0m-3-3h0m-3 2h0m3 7h0m13-1h0m3 6h0m-9-2h0m-3 1h0m5 2h0" stroke="#E46C66" stroke-width="2.96" stroke-linecap="round"/>
<path transform="scale(.5)" d="M165 337h0m3 1h0m3 1h0m14 5h0m-10-1h0m-5 0h0m0 0h0m-1 1h0m-4-2h0m13 15h0m1 0h0m6 2h0m0 3h0m-6 2h0m7 6h0" stroke="#E35BB8" stroke-width="2.96" stroke-linecap="round"/>
<path transform="scale(.5)" d="M202 494h0m1 0h0m-2 1h0m-12 1h0m-5-1h0m-4 1h0m-6 2h0m-16-1h0m-10 6h0m16-2h0m9 0h0m15 5h0m-3 0h0m-16-1h0m-1 4h0m-5-2h0m-2 2h0m-5-1h0m8 4h0m1-2h0m2 3h0m7 0h0m6 0h0" stroke="#CF66F0" stroke-width="2.96" stroke-linecap="round"/>
<path transform="scale(.5)" d="M180 326h0m11 7h0m-3-1h0m-7-1h0m-1 3h0m-2 5h0m1 0h0m4-3h0m0 3h0m5-2h0m2 7h0m-5 0h0m0-2h0m-7 0h0m5 5h0" stroke="#E35BB8" stroke-width="2.96" stroke-linecap="round"/>
<path transform="scale(.5)" d="M209 403h0m13 6h0m-8 11h0" stroke="#5DAE28" stroke-width="2.96" stroke-linecap="round"/>
<path transform="scale(.5)" d="M181 355h0" stroke="#E35BB8" stroke-width="2.96" stroke-linecap="round"/>
<path transform="scale(.5)" d="M105 454h0m24 1h0m-13 3h0m-5 0h0m-1-3h0m-9 5h0m12 2h0m9 2h0m-4 2h0m-2 0h0m-7 5h0m9-1h0m17 5h0m-3 0h0m-1 3h0m-5-3h0m-6 3h0m-5 0h0m-9-3h0m7 7h0m7-2h0m19 1h0m-2 8h0m0-4h0m-2 4h0m-22-4h0m6 8h0m3-3h0m1 2h0m4 2h0m10-1h0m12 0h0m0 4h0m-1 0h0m-7-1h0m-11 3h0m-5 1h0m10 1h0m18 2h0m-8 2h0m-1 3h0m-1 2h0m7 0h0" stroke="#4FBAC0" stroke-width="2.96" stroke-linecap="round"/>
<path transform="scale(.5)" d="M185 437h0m10-1h0m9 0h0m7 0h0m1 0h0m8 8h0m-10 0h0m-2-2h0m-10 0h0m-29 6h0m7 0h0m9 0h0m5-3h0m10 1h0m21-1h0m0 1h0m1-1h0m8 3h0m0 1h0m0 5h0m-5-1h0m-10-3h0m-15 1h0m-1 0h0m-7 3h0m-1 0h0m-8 0h0m-8 0h0m0-4h0m2 9h0m4-2h0m6-2h0m0 3h0m14-1h0m14 0h0m0 2h0m8-2h0m0 2h0m6-3h0m4 7h0m-11 1h0m-20-4h0m-9 4h0m-1 0h0m-2-4h0m-5 3h0m-14 2h0m15 1h0m3 3h0m1 0h0m2-1h0m3-1h0m7-2h0m0 4h0m3-2h0m6 1h0m2-1h0m1-1h0m1 3h0m5-1h0m4 0h0m1-3h0m3 0h0m-14 7h0m-12-1h0m-9-1h0m-6 0h0m-4 5h0m3 0h0m18 2h0m-3 6h0m0 0h0m-5 0h0m-8 0h0m-3-3h0m-3 7h0m2-2h0m0 4h0m4-1h0m6-1h0m1 1h0m13 1h0m-2 5h0m-2-1h0m-1-2h0m-8 3h0m-5 0h0m2 3h0m-4 5h0m0-1h0" stroke="#D08A1A" stroke-width="2.96" stroke-linecap="round"/>
<path transform="scale(.5)" d="M153 379h0m4-3h0m6 3h0m3-2h0m-4 5h0m-5 1h0m-8-3h0m-5 0h0m-8 1h0m-16 3h0m8 2h0m12 0h0m4-1h0m2 2h0m1 0h0m4 1h0m1-2h0m13 3h0m4-2h0m8 5h0m-16-2h0m-29 2h0m0-2h0m-1 3h0m7 4h0m5-2h0m4 3h0m4-3h0m5 4h0m5-1h0m1 0h0m11 3h0m-6 2h0m-6-3h0m-3 1h0m-2 0h0m-2 2h0m-17 1h0m-7-1h0m-7-3h0m8 8h0m3-1h0m3 0h0m3-1h0m11 0h0m5-1h0m7 6h0m-19 2h0m-16-3h0m-1 3h0m8 4h0m13-1h0m6 3h0m3 0h0m2-1h0m4 3h0m-2 0h0m-13 1h0m-6-2h0m-5 4h0m-1-2h0m3 6h0m7 1h0m12 4h0m-1 0h0m-1-1h0m-7 1h0m-5-2h0m0 0h0m-3-1h0m9 5h0m3 0h0m1 2h0m0 0h0" stroke="#E46C66" stroke-width="2.96" stroke-linecap="round"/>
<path transform="scale(.5)" d="M160 348h0m11 6h0m-18 4h0m2-2h0m4-1h0m2 0h0m0 3h0m4 1h0m11-2h0m-1 4h0m-14-1h0m-12 0h0m-3 2h0m-1 1h0m-9 0h0m6 3h0m2 3h0m1 0h0m5-1h0m11-3h0m-22 5h0m-1 3h0" stroke="#8F8CF5" stroke-width="2.96" stroke-linecap="round"/>
<path transform="scale(.5)" d="M179 352h0m0 1h0m3 1h0m0 0h0m1-1h0m-3 2h0m-3 5h0m3 1h0m2 0h0m2 0h0m-5 5h0m1 6h0m3-2h0m3 1h0m0 0h0" stroke="#E35BB8" stroke-width="2.96" stroke-linecap="round"/>
<path transform="scale(.5)" d="M180 332h0m5 1h0m1 0h0m1-1h0m3 2h0m1 2h0m-6 0h0m-4-1h0m-4 1h0m3 5h0m4 3h0m4 4h0m-6 1h0m-1-1h0m3 2h0" stroke="#E35BB8" stroke-width="2.96" stroke-linecap="round"/>
<path transform="scale(.5)" d="M160 349h0m10 5h0m-24 0h0m-4 4h0m6 0h0m0 0h0m7 0h0m15-3h0m0 4h0m-6 3h0m-6 0h0m-9 1h0m-8 0h0m-2-3h0m-2 3h0m-2 2h0m7 0h0m3 3h0m3 1h0m-3 4h0m-5-1h0m1 5h0" stroke="#8F8CF5" stroke-width="2.96" stroke-linecap="round"/>
<path transform="scale(.5)" d="M198 421h0" stroke="#A5A226" stroke-width="2.96" stroke-linecap="round"/>
<path transform="scale(.5)" d="M172 349h0" stroke="#8F8CF5" stroke-width="2.96" stroke-linecap="round"/>
<path transform="scale(.5)" d="M100 454h0m18 3h0m-5 0h0m-9-1h0m-2 1h0m-1 3h0m3 1h0m10 1h0m0 1h0m11 4h0m-1 2h0m-13 0h0m-8-2h0m9 7h0m14-1h0m-2 3h0m-4 1h0m-1 0h0m-2-2h0m-10 1h0m5 6h0m12 2h0m24 1h0m-7 0h0m-10 3h0m-5 0h0m-8-1h0m5 3h0m6 3h0m15 1h0m6-1h0m-3 4h0m-12 1h0m-3-3h0m-10 2h0m6 6h0m11-3h0m0 1h0m16 5h0m-17 1h0m-3-1h0m3 4h0m10 0h0" stroke="#4FBAC0" stroke-width="2.96" stroke-linecap="round"/>
<path transform="scale(.5)" d="M244 354h0m2 3h0m-13 2h0m-2-4h0m-5 3h0m9 4h0m8-2h0m12 9h0m-4-1h0m-11 1h0m-8 0h0m0-3h0m-4 5h0m5 3h0m10-4h0m5 4h0m7-2h0m-27 4h0m-11 5h0m0 3h0m10-2h0m9-2h0m2 1h0m14-1h0m-7 7h0m-5 2h0m-9-1h0m-4-2h0m-2 1h0m-1-1h0m0 0h0m-5-1h0m2 6h0m4 0h0m8 1h0m10 1h0m8 1h0m6 2h0m-4 2h0m-15 0h0m-8 3h0" stroke="#40A8F5" stroke-width="2.96" stroke-linecap="round"/>
<path transform="scale(.5)" d="M180 444h0" stroke="#D08A1A" stroke-width="2.96" stroke-linecap="round"/>
<path transform="scale(.5)" d="M184 399h0m19 10h0m-5 5h0m5 0h0m3-1h0m-1 5h0m0-2h0m-3 0h0m-2 2h0m0-2h0m-6 3h0m-1-2h0m-20-2h0m-3 8h0m20-1h0m3-1h0m3-1h0m0 0h0m4 0h0m-6 6h0m-9 6h0m38 0h0m1 0h0m0 2h0m1 0h0m2-3h0m0 2h0m3-2h0m5 3h0m-4 1h0m-1 3h0m-5-1h0m-4 5h0m1-2h0m0 1h0m0 2h0m1-1h0m3 2h0m1-3h0m0 0h0m0 1h0m2 0h0m1 1h0m6 1h0m1-3h0m2 3h0m1 0h0m-2 5h0m-6-4h0m-5 1h0m6 4h0m1 0h0" stroke="#A5A226" stroke-width="2.96" stroke-linecap="round"/>
<path transform="scale(.5)" d="M216 394h0m8 3h0m-7-2h0m0 0h0m-2 0h0m1 5h0m8 0h0m7 2h0m3 0h0m6 1h0m13-2h0m7 2h0m1 5h0m-1 1h0m-4-2h0m-16 1h0m0-2h0m-9 3h0m-12 0h0m-15-3h0m7 8h0m5-2h0m4-1h0m9 1h0m0 2h0m7-3h0m16-1h0m2 3h0m2-3h0m3 2h0m-11 3h0m-12 4h0m-6-1h0m-4-3h0m-9 4h0m-6-4h0m26 7h0m12-2h0m-15 5h0" stroke="#5DAE28" stroke-width="2.96" stroke-linecap="round"/>
<path transform="scale(.5)" d="M217 396h0m4 1h0m0 1h0m15 1h0m13-1h0m-5 2h0m-4 1h0m-10 0h0m-4 2h0m-1-1h0m-3-1h0m-2 1h0m-3 0h0m-2-1h0m-3 3h0m-2-3h0m-3 1h0m9 6h0m3-1h0m14 0h0m2 2h0m4-1h0m6-1h0m16-1h0m4 3h0m-9 5h0m-1-1h0m-6-2h0m-6 3h0m-25-2h0m0 4h0m16 0h0m8-1h0m2 1h0m2 2h0m4-1h0m-1 3h0m-11 3h0m-6-2h0" stroke="#5DAE28" stroke-width="2.96" stroke-linecap="round"/>
<path transform="scale(.5)" d="M192 436h0m0 3h0m21-1h0m0 2h0m-5 4h0m0-2h0m-3 0h0m-7 0h0m-1-1h0m0-1h0m-8 1h0m-12 1h0m-10 7h0m4-2h0m5-1h0m11 3h0m7 0h0m10-4h0m4 0h0m3 0h0m2 3h0m8 1h0m1-3h0m4 2h0m6 3h0m-3 1h0m-23-2h0m-4 0h0m-3 0h0m-7 4h0m-1-1h0m-4 1h0m-15-2h0m-1 1h0m12 2h0m0 0h0m15 3h0m17 1h0m12-1h0m3-1h0m0 2h0m3-2h0m1 0h0m0 5h0m-8 2h0m-6-1h0m-10 0h0m-18 1h0m-4-3h0m-2 1h0m-7 4h0m2 2h0m3 1h0m15-3h0m16 0h0m11 1h0m4 1h0m-13 6h0m-8-4h0m-11 0h0m-23 0h0m4 5h0m10 2h0m3-1h0m26 4h0m-9 4h0m-1 0h0m-1-4h0m-11 4h0m-6-4h0m-3 8h0m9 1h0m3-1h0m1-2h0m2 0h0m0 0h0m0 2h0m1 1h0m-14 4h0m-3-2h0m-2 4h0m6 2h0m3-1h0m7 2h0m3-2h0m0 1h0m-5 3h0m-1 1h0m-5 0h0m-4 0h0" stroke="#D08A1A" stroke-width="2.96" stroke-linecap="round"/>
<path transform="scale(.5)" d="M103 450h0m12 6h0m-12 1h0m-2-1h0m3 7h0m2 0h0m3-3h0m12 6h0m-14-1h0m-4 1h0m24 7h0m-2 4h0m-16 3h0m4 1h0m9 0h0m20 4h0m-1 1h0m-11 0h0m-5 1h0m-1 0h0m-7-1h0m-2 2h0m-2-1h0m0-2h0m5 6h0m6-1h0m0 0h0m19 0h0m12 7h0m-7 0h0m-12 0h0m-5 0h0m-2-2h0m-1 4h0m2 5h0m7-4h0m14 3h0m5 1h0m-15 5h0m-2-3h0m0-1h0m-5 0h0m14 6h0" stroke="#4FBAC0" stroke-width="2.96" stroke-linecap="round"/>
<path transform="scale(.5)" d="M251 363h0m4 5h0m-10-3h0m-7 0h0m-13 0h0m6 9h0m7-3h0m3-1h0m10 1h0m3 1h0m0 0h0m-2 7h0m-4-1h0m-5-3h0m-14 1h0m-5 0h0m-2-1h0m0 0h0m-2 4h0m2 4h0m13 0h0m1-3h0m15 0h0m2 0h0m2 4h0m1-1h0m4 0h0m2 3h0m-3 3h0m-12-4h0m0 0h0m-3 1h0m-15 1h0m-3-2h0m-9 1h0m5 4h0m2 3h0m1-2h0m21 2h0m1 0h0m-1 2h0" stroke="#40A8F5" stroke-width="2.96" stroke-linecap="round"/>
<path transform="scale(.5)" d="M143 376h0m5 2h0m1 0h0m1 0h0m8 1h0m1 0h0m8 2h0m-14 3h0m-2-1h0m-1-2h0m-5-1h0m-20 4h0m12 3h0m20-1h0m5 1h0m1-2h0m0 2h0m6 1h0m1-3h0m0 2h0m6 2h0m1-4h0m1 2h0m-8 3h0m-1 3h0m-7-2h0m-13 1h0m-1 1h0m-21-2h0m-1 1h0m4 5h0m4 0h0m0 2h0m19-4h0m1 3h0m2 0h0m9-1h0m7 3h0m-21 3h0m-2-2h0m-3 3h0m-2-1h0m0-1h0m-12-1h0m1 5h0m1 2h0m6-1h0m10 1h0m4 0h0m0 1h0m5-1h0m3-2h0m6 0h0m-7 5h0m-5-1h0m-6 2h0m-8 1h0m-1-1h0m-3 1h0m-4 2h0m0 2h0m6 0h0m17 0h0m0 4h0m-26 7h0m5-1h0m4 1h0m4-2h0m0 0h0m4 1h0m4-1h0m4-1h0m2 8h0m-2 4h0" stroke="#E46C66" stroke-width="2.96" stroke-linecap="round"/>
<path transform="scale(.5)" d="M162 348h0m3-3h0m8 9h0m-9-1h0m-2-3h0m-9 6h0m2 1h0m4 0h0m15 1h0m-17 5h0m-5-2h0m-3 1h0m-3 1h0m0-1h0m-5 0h0m1 7h0m2-3h0m1 2h0m5-2h0m-14 4h0m-1 2h0m5 5h0" stroke="#8F8CF5" stroke-width="2.96" stroke-linecap="round"/>
<path transform="scale(.5)" d="M203 437h0m6 2h0m5-1h0m10 6h0m-7-2h0m0-1h0m-11 3h0m-4-2h0m-7-1h0m-21 5h0m2 1h0m3 1h0m2 0h0m10-2h0m0 2h0m2-3h0m3 3h0m35 1h0m-6 5h0m-3-4h0m-1 1h0m-11-1h0m-14 2h0m-3-2h0m-5 2h0m-7-2h0m-4 2h0m-2 0h0m-6 2h0m-1 0h0m-3 4h0m7-2h0m2 0h0m2 2h0m11-2h0m1 2h0m5-3h0m2 1h0m0 2h0m2-1h0m15-1h0m10 3h0m3-2h0m1 0h0m-20 6h0m-6-2h0m-4 1h0m-5-1h0m-3 1h0m-8 0h0m-3-1h0m-2 8h0m8-2h0m11-2h0m2 4h0m14-4h0m8 0h0m6 3h0m3-3h0m4 0h0m-5 6h0m-29 1h0m-2 2h0m-1-4h0m-7 2h0m-2 5h0m4 1h0m17-2h0m5 1h0m-4 7h0m-6-2h0m-1 2h0m-4 0h0m-10-2h0m-2 2h0m-2-4h0m3 7h0m23 1h0m-5 5h0m0 0h0m-1-1h0m-1 0h0m-3 2h0m-7-2h0m-3 1h0m-1 0h0m-1 2h0m9 2h0m2-1h0m-5 4h0" stroke="#D08A1A" stroke-width="2.96" stroke-linecap="round"/>
<path transform="scale(.5)" d="M247 393h0" stroke="#40A8F5" stroke-width="2.96" stroke-linecap="round"/>
<path transform="scale(.5)" d="M80 398h0m0 5h0m-12 3h0m7-1h0m7 1h0m3 2h0m6 6h0m-5-1h0m-16 0h0m22 2h0m11 9h0m-6-2h0m-3-2h0m-6 0h0m-3 0h0m2 6h0m1 2h0m1-3h0m6 0h0m2 2h0m1 0h0m1 0h0m10 6h0m-7-3h0m11 7h0m8 4h0m-12 2h0m-1 3h0m2 2h0m-2 3h0" stroke="#4DB87A" stroke-width="2.96" stroke-linecap="round"/>
<path transform="scale(.5)" d="M224 393h0m4 1h0m26 5h0m-10 0h0m-26 0h0m-2-1h0m-3 0h0m-2-2h0m11 5h0m3 3h0m7-3h0m28 2h0m1-3h0m5 6h0m-4 2h0m-1-3h0m-1 3h0m-5 0h0m-10 1h0m-2-1h0m-16-2h0m-1 3h0m-8-2h0m-8-2h0m-4 7h0m2 0h0m1 2h0m16 0h0m1-2h0m16-1h0m1-1h0m19 2h0m-11 3h0m-2 2h0m-14-2h0m-5 2h0m-3 1h0m10 5h0m9-3h0" stroke="#5DAE28" stroke-width="2.96" stroke-linecap="round"/>
<path transform="scale(.5)" d="M169 390h0m-15 21h0" stroke="#E46C66" stroke-width="2.96" stroke-linecap="round"/>
<path transform="scale(.5)" d="M229 348h0m3 6h0m-6 0h0m2 8h0m11 2h0m7 2h0m-12 2h0m-5 0h0m-4 0h0m9 2h0m10 3h0m2-3h0m1 4h0m8-3h0m6 8h0m-5-3h0m-1 2h0m-30 3h0m1 2h0m29-1h0m0 2h0m4 4h0m-1 0h0m-21-2h0m-12 1h0m-6 1h0m5 3h0m0 1h0m4-2h0m9 0h0m1 3h0m6-2h0m1 1h0m5 2h0m5-1h0m3-2h0m1 1h0m-2 4h0m-7 1h0m-8-2h0m-17 0h0" stroke="#40A8F5" stroke-width="2.96" stroke-linecap="round"/>
<path transform="scale(.5)" d="M222 395h0m9 1h0m31 7h0m-1-3h0m-8 4h0m-1-2h0m-2 1h0m-6-2h0m-2 3h0m-2 0h0m-9-1h0m-17 4h0m17-1h0m16 3h0m2-3h0m3-1h0m0 3h0m1-3h0m0 8h0m-23-2h0m-14 2h0m0-3h0m10 7h0m10-2h0m2 2h0m4 2h0m1-3h0m6 1h0m0 1h0m1-3h0m3 1h0m-6 4h0m-1 0h0m-2 0h0m-5 4h0m-4-3h0m-4 1h0m-1 1h0m-4-1h0" stroke="#5DAE28" stroke-width="2.96" stroke-linecap="round"/>
<path transform="scale(.5)" d="M75 399h0m1-3h0m5 8h0m-1 0h0m-6-1h0m9 6h0m11-4h0m-4 5h0m-2 0h0m-8 4h0m-6-1h0m18 6h0m4 0h0m7 5h0m-7-4h0m-6 4h0m-9-3h0m22 7h0m12 5h0m-5 0h0m-7-3h0m-3 2h0m-3 0h0m0 3h0m12 2h0m4-1h0m5 5h0m-14-1h0m7 11h0m5-1h0" stroke="#4DB87A" stroke-width="2.96" stroke-linecap="round"/>
<path transform="scale(.5)" d="M229 352h0m7 4h0m-3-1h0m-3 3h0m15 5h0m9 6h0m-28 1h0m0 0h0m2 3h0m4-2h0m2 2h0m7 0h0m13-3h0m3 0h0m0 1h0m1 2h0m-4 6h0m-9-2h0m-1 1h0m-5 0h0m-12 0h0m-6-2h0m4 5h0m7 3h0m1 0h0m0 0h0m3-3h0m1 0h0m2 3h0m21-1h0m-4 2h0m-8 4h0m-14-2h0m-18-1h0m0 5h0m5-1h0m6 2h0m6 2h0m6-3h0m9 0h0m10 0h0" stroke="#40A8F5" stroke-width="2.96" stroke-linecap="round"/>
<path transform="scale(.5)" d="M158 493h0m48 2h0m-1 3h0m-7-2h0m-11 2h0m-13 1h0m-2-2h0m-4-1h0m-1 0h0m-4 0h0m-1 0h0m-7 5h0m4 1h0m15 0h0m14-2h0m-22 9h0m-12-2h0m-3 0h0m8 3h0m1 0h0m15 1h0m2-1h0m0 1h0" stroke="#CF66F0" stroke-width="2.96" stroke-linecap="round"/>
<path transform="scale(.5)" d="M197 493h0m5 0h0m-9 5h0m-1 0h0m-8-1h0m-9-1h0m-4 1h0m-5-1h0m-7 3h0m0-3h0m12 4h0m9 2h0m21 1h0m-5 2h0m-2 1h0m-9 1h0m-5-1h0m-3 3h0m-9-1h0m-5-2h0m-3 3h0m-5 2h0m3-1h0" stroke="#CF66F0" stroke-width="2.96" stroke-linecap="round"/>
<path transform="scale(.5)" d="M133 378h0m2 1h0m2 0h0m7-2h0m21 2h0m6 0h0m-1 4h0m-25 0h0m-5-2h0m-2-1h0m-4 1h0m-9 5h0m19 1h0m30 0h0m-5 7h0m-7-1h0m-2-3h0m-5 1h0m-1 3h0m-6-3h0m-6-1h0m-1 4h0m-10-3h0m-2 2h0m5 2h0m0 4h0m5-2h0m2 2h0m6 0h0m17-2h0m2 0h0m2 2h0m7-4h0m-4 7h0m-4 0h0m-6 1h0m-2-1h0m0 0h0m-2-1h0m-2 2h0m-15 0h0m-12-3h0m-4 1h0m8 8h0m15-3h0m20-1h0m-4 6h0m-8 2h0m-1-3h0m-17 2h0m-4 0h0m-3 2h0m-3-3h0m0-1h0m-1 3h0m5 3h0m16-1h0m10 0h0m4 5h0m-1 2h0m-9-1h0m-2 1h0m-15-1h0m5 4h0m2 3h0m10 1h0m5-1h0m3-1h0m-8 3h0m-3 0h0m-5 2h0m-1-2h0m1 5h0m3 1h0" stroke="#E46C66" stroke-width="2.96" stroke-linecap="round"/>
<path transform="scale(.5)" d="M158 496h0m37 7h0m1 2h0" stroke="#CF66F0" stroke-width="2.96" stroke-linecap="round"/>
<path transform="scale(.5)" d="M131 476h0" stroke="#4FBAC0" stroke-width="2.96" stroke-linecap="round"/>
<path transform="scale(.5)" d="M147 353h0m2 0h0m6 0h0m6 1h0m2-1h0m10 4h0m-29 2h0m-3-2h0m-4 6h0m2 1h0m5 0h0m2-2h0m4 1h0m14-3h0m0 0h0m-8 6h0m-1 2h0m-1-1h0m-7-1h0m-9 7h0m1-3h0m1 2h0" stroke="#8F8CF5" stroke-width="2.96" stroke-linecap="round"/>
<path transform="scale(.5)" d="M182 398h0m-12 2h0m-6 9h0m4-1h0m3-2h0m11 2h0m2-1h0m-1 3h0m-14 1h0m-2 0h0m0-1h0m-2 1h0m-1 8h0m1-3h0m3 1h0m1 2h0m5-1h0m1 0h0m15 6h0m-3 0h0m-9 0h0m-5-2h0m-2-2h0m-1 1h0m-1 1h0m0 0h0m1 7h0m3 0h0m2-3h0m7 3h0m9-4h0m-7 9h0m-10-4h0m-6 0h0m-10 1h0m6 8h0m4 0h0m9-3h0m1 1h0m0 1h0m-7 6h0m-1-3h0m-9 0h0m0 4h0m7 0h0m1 0h0m3 0h0m5 2h0m0 2h0m1-2h0m3-1h0m-14 4h0" stroke="#A5A226" stroke-width="2.96" stroke-linecap="round"/>
<path transform="scale(.5)" d="M80 418h0m33 24h0" stroke="#4DB87A" stroke-width="2.96" stroke-linecap="round"/>
<path transform="scale(.5)" d="M170 402h0m4 0h0m2 1h0m10 3h0m-12-1h0m-7 6h0m3-1h0m2 4h0m5-3h0m1 3h0m3 0h0m3-4h0m-6 6h0m-3 1h0m0-2h0m-5 0h0m6 9h0m2-4h0m9 2h0m6 5h0m-1 2h0m-5 0h0m-4-2h0m-7 1h0m-4-2h0m-5 2h0m0-1h0m-8 5h0m4 2h0m2-4h0m7 0h0m3 2h0m8 1h0m1 1h0m1-1h0m4-3h0m-7 7h0m-2-2h0m-5 4h0m-2-1h0m0-1h0m0-1h0m-1 0h0m-1 1h0m-6-1h0m-1 0h0m-2 5h0m15 1h0m4 2h0m0 3h0m-3-1h0m0 0h0" stroke="#A5A226" stroke-width="2.96" stroke-linecap="round"/>
<path transform="scale(.5)" d="M80 400h0m16 7h0m-17-1h0m1 6h0m10 2h0m12 5h0m-6-1h0m-6 0h0m-8-2h0m-1 3h0m-2 5h0m13-4h0m7 1h0m6 2h0m8 7h0m-12 3h0m-1-2h0m-1 0h0m-8 0h0m0 4h0m14 4h0m16-2h0m1 6h0m-3-1h0m-4 0h0m0-2h0m-5 4h0m-7-1h0m-1-3h0m6 11h0" stroke="#4DB87A" stroke-width="2.96" stroke-linecap="round"/>
<path transform="scale(.5)" d="M192 436h0m1 2h0m12-2h0m1 1h0m1-1h0m1 3h0m11 0h0m0 2h0m-11 1h0m-8-1h0m-3 3h0m-2-3h0m-14 8h0m4 0h0m16 0h0m7-4h0m4 4h0m4 0h0m13-1h0m-2 2h0m-6 3h0m-6 0h0m-9 0h0m-13 1h0m-9 0h0m-14-3h0m-1-1h0m-1 1h0m-3 7h0m4 0h0m5-3h0m2 3h0m0 0h0m16 1h0m1-4h0m1 1h0m3 2h0m7-2h0m16-1h0m8 9h0m-12 0h0m-17-4h0m-2 2h0m-16 1h0m-5 5h0m2 0h0m1-1h0m4 1h0m9-2h0m2 3h0m13-2h0m5 1h0m1-2h0m6-1h0m9 3h0m-3 4h0m-12-1h0m-5 2h0m0-2h0m-3 3h0m-1-1h0m-6-2h0m-6 0h0m-5 1h0m-2-1h0m-5-1h0m-8 1h0m7 4h0m2 4h0m9 0h0m2-2h0m8-2h0m3 3h0m1-3h0m4 4h0m5-2h0m2 0h0m-17 7h0m-8 5h0m13-4h0m2 0h0m-5 6h0m-2-1h0m-5 3h0m-8 6h0m1-2h0m15-2h0m-6 8h0m-2-2h0m-1 0h0" stroke="#D08A1A" stroke-width="2.96" stroke-linecap="round"/>
<path transform="scale(.5)" d="M172 398h0m13 0h0m3 3h0m-13 1h0m-2-2h0m9 8h0m1-3h0m1 4h0m0 0h0m6-1h0m-10 5h0m-12 0h0m-3 6h0m3-3h0m1 3h0m5-2h0m5 2h0m9 3h0m-7 0h0m-1 0h0m-1 0h0m-4 0h0m-6-1h0m3 4h0m4 1h0m6 2h0m1-2h0m10 2h0m-9 5h0m-1-3h0m-1 4h0m-6-1h0m0-2h0m-10 0h0m-2 0h0m-1-1h0m-1 3h0m0-3h0m-1 1h0m0 4h0m3 1h0m0 3h0m4-4h0m9 1h0m6 5h0m-3 2h0m-11-1h0m-6 4h0m3 0h0m3 2h0m15-1h0m-13 4h0" stroke="#A5A226" stroke-width="2.96" stroke-linecap="round"/>
<path transform="scale(.5)" d="M78 399h0m6 1h0m-3 2h0m-3-1h0m-7 7h0m5 0h0m2 0h0m1-3h0m-1 6h0m-8 0h0m14 5h0m17 2h0m2 6h0m-12-4h0m-1 2h0m-4 1h0m6 6h0m9 0h0m4 0h0m2-2h0m0 6h0m-8-3h0m-2 7h0m11 1h0m-3 3h0m-5 0h0m-1 3h0m3 2h0m7 0h0m5 1h0" stroke="#4DB87A" stroke-width="2.96" stroke-linecap="round"/>
<path transform="scale(.5)" d="M511 78h0m6-1h0m1-1h0m-17 8h0m-14 2h0m31 3h0m14-3h0m-7 4h0m-37 2h0m47 8h0m4 0h0m-41 9h0m11 3h0m21-2h0m5 6h0m-11 1h0m-11 2h0m-25-4h0m-8 3h0m22 5h0m5 3h0m-26 8h0m14-2h0m31 4h0m-13 0h0m-69 4h0m5 4h0m1-1h0m1 0h0m5-2h0m4-1h0m2 4h0m2-2h0m1 2h0m2-1h0m1 0h0m16-2h0m16 1h0m19 4h0m-34 3h0m-8-1h0m0 0h0m-1-2h0m-2 3h0m0-2h0m-2 1h0m0 0h0m-6-2h0m-2 0h0m-7 3h0m0-3h0m-1 1h0m-1 1h0m-1-1h0m0-1h0m-2-1h0m-6 0h0m-1 2h0m-1 2h0m0-1h0m0-1h0m-1 2h0m-1-1h0m-2-1h0m-1 2h0m-2 3h0m1-1h0m0 0h0m1-1h0m1 3h0m3-1h0m3 0h0m2-2h0m1 2h0m5-2h0m4 0h0m4 0h0m4 0h0m1 2h0m1-1h0m4-1h0m2 4h0m1-3h0m78 8h0m-25-1h0m-1-1h0m-24 2h0m-13 0h0m-17-4h0m-28 1h0m-3 2h0m-2-2h0m-3 1h0m-2-2h0m4 5h0m6 0h0m2 2h0m46 1h0m15 1h0m18-2h0m-80 3h0m-1 4h0m-1 0h0m-3-4h0m-2 2h0m4 4h0m2 2h0m1-2h0m2 1h0m5 2h0m45-3h0m4 1h0m20-1h0m6 0h0m-28 7h0m-48 0h0m-1-2h0m-1 3h0m0-2h0m-1 1h0m-7-2h0m6 5h0m3 3h0m8-2h0m48 2h0m-43 5h0m-2 0h0m-5 0h0m-2-4h0m0 0h0m-2 2h0m-4-1h0m8 6h0m1-2h0m3 4h0m2-3h0m1 2h0m1 0h0m6 0h0m7 6h0m-4-1h0m-4-3h0m-2 0h0m-1 3h0m0-3h0m-2 0h0m-1 2h0m-3-2h0m-3 1h0m10 5h0m4 1h0m1-2h0m3 0h0" stroke="#4FBAC0" stroke-width="3.00" stroke-linecap="round"/>
<path transform="scale(.5)" d="M531 49h0m9-1h0m1 5h0m-5 0h0m-1-2h0m-4 2h0m-2 1h0m-2-3h0m-1 2h0m-1-1h0m-1 2h0m-7-1h0m0 2h0m1 0h0m1 2h0m0 2h0m1 0h0m1-2h0m0 1h0m2-2h0m0 1h0m1 0h0m3-2h0m8 0h0m1 2h0m3-2h0m7 2h0m1 2h0m3 0h0m-1 4h0m-6-1h0m-3-2h0m-12 0h0m-9 1h0m0 0h0m-1 0h0m-1-1h0m-1 0h0m-2 0h0m-3 3h0m0-3h0m-1 4h0m0-2h0m-5 2h0m0-3h0m-1 2h0m-2 5h0m3-3h0m2 3h0m4-2h0m2-1h0m0 2h0m1 0h0m33-2h0m4 0h0m0 0h0m0 1h0m0 3h0m3-4h0m2 2h0m2 5h0m-2 0h0m-1 1h0m0 0h0m-1 0h0m-1 0h0m-4-1h0m-43 0h0m0-2h0m-1 2h0m-2 1h0m0-2h0m-4 0h0m-1 0h0m-1 0h0m-7 5h0m15 0h0m53 0h0m1 1h0m-2 5h0m-2 0h0m-2-1h0m-2 3h0m0-1h0m-33 1h0m-18-4h0m-4 4h0m-6 5h0m2 0h0m5-2h0m5-1h0m4 3h0m46-4h0m-65 7h0m-2 7h0m5-2h0m42 0h0m4 6h0m-37-1h0m-17-2h0m38 9h0m11-3h0m2 7h0m-4-1h0m-25 7h0m1-4h0m3 0h0m29 2h0m0 5h0m-21 1h0m-6-3h0m-5 4h0m-14-1h0m12 5h0m19 1h0m17-2h0m-24 3h0m-29 5h0m4 2h0m13 2h0m7-4h0m8 2h0m5 0h0m14-2h0m-2 6h0m-4-1h0m-2 1h0m-7 3h0m-5-4h0m-24 2h0m-11-2h0m1 12h0m26 0h0m15-1h0m1 3h0m5-4h0m19 4h0m3 0h0m0 4h0m-19 0h0m-12 1h0m6 1h0m4 2h0m0 1h0m11 6h0m-39-4h0m-10 0h0m41 6h0m3 3h0m1-4h0m-17 13h0m-15-1h0m-4-1h0" stroke="#4FBAC0" stroke-width="3.00" stroke-linecap="round"/>
<path transform="scale(.5)" d="M509 69h0m-5 5h0m-8-3h0m8 5h0m21 4h0m-1 2h0m-15 2h0m0-3h0m-5 2h0m-8-3h0m-8 1h0m-4 8h0m2-1h0m14 1h0m5 0h0m10-2h0m0 2h0m1-2h0m1 1h0m7-2h0m5 3h0m7 0h0m1 4h0m-1-3h0m-2 2h0m-3 1h0m-1-3h0m-13 0h0m-3 1h0m-9-1h0m-6 4h0m-1-3h0m-4-1h0m-3 4h0m-5 0h0m-1-2h0m0 3h0m8 1h0m0 0h0m1 2h0m4-3h0m3 2h0m1-2h0m4 4h0m8-4h0m1 2h0m9-1h0m2 0h0m5 0h0m1 3h0m6 3h0m-9 1h0m-6-2h0m-3 2h0m-2 1h0m-7-1h0m-3-3h0m-4 2h0m0-2h0m-17 1h0m1 7h0m7-1h0m42-2h0m4 5h0m-2 0h0m-14 0h0m-1 4h0m-4-1h0m-3 0h0m0-1h0m-7 0h0m-7 2h0m-2-2h0m-4-1h0m-13 0h0m7 6h0m6-1h0m3 2h0m6-1h0m3-2h0m2 3h0m6-1h0m4-2h0m3 4h0m7-4h0m10 0h0m0 5h0m-9 3h0m-4 0h0m-2-1h0m-5 2h0m-5-2h0m-1 2h0m-1 0h0m-11-2h0m-8 1h0m-1 1h0m-3 0h0m-2-1h0m-2-2h0m-2-1h0m-2 3h0m-1 0h0m0-2h0m42 5h0m3 3h0m3 3h0m-16 1h0m-7 0h0m-5 1h0m-1 0h0m-1-2h0m-3 2h0m-6 0h0m-8-3h0m6 7h0m5 1h0m10-4h0m3 0h0m4 0h0m7 4h0m4-2h0m3 0h0m11-1h0m-1 8h0m-9 0h0m-12-2h0m-11 0h0m-5-2h0m-13 0h0m10 6h0m4-1h0m0 4h0m3-2h0m7 0h0m2 0h0m4-1h0m6 2h0m3 0h0m6-2h0m1 2h0m1-1h0m1 0h0m0 1h0m10-1h0m8 4h0m-6-1h0m-8 4h0m-9-2h0m-11 0h0m-2 1h0m-8-2h0m-12-1h0m-4 0h0m-5 2h0m1 3h0m0 2h0m2 0h0m2-2h0m7 0h0m6 3h0m9 1h0m9-3h0m5 0h0m15 1h0m0 1h0m5 1h0m-1 5h0m-11-2h0m-8 0h0m-5-2h0m-10 2h0m-12 0h0m-5-1h0m-2 1h0m5 4h0m8-1h0m4 4h0m1 0h0m8-3h0m13 0h0m18 3h0m1-2h0m-8 3h0m-6 1h0m-1-1h0m-1 0h0m-15 2h0m-3 1h0m-8 1h0m-8-1h0m-3-2h0m0-1h0m-8 1h0m52 4h0m6 0h0m-27 9h0m-4-1h0m0-2h0m-11 1h0" stroke="#E46C66" stroke-width="3.00" stroke-linecap="round"/>
<path transform="scale(.5)" d="M551 130h0m4 3h0" stroke="#E46C66" stroke-width="3.00" stroke-linecap="round"/>
<path transform="scale(.5)" d="M532 51h0m9 8h0m-32 0h0m3 7h0m36 4h0m-27 1h0m-1 1h0m-1-1h0m-2 2h0m-4 0h0m-22 2h0m6 0h0m7 2h0m5-1h0m8-1h0m11 2h0m1-1h0m4 8h0m-6-1h0m-3-1h0m-2 2h0m-3-3h0m-2-1h0m-6 0h0m-9 0h0m-11 4h0m-1-3h0m-2 1h0m-3 6h0m8-1h0m6 1h0m5-2h0m1-1h0m1 4h0m11-1h0m3 0h0m2 0h0m8-2h0m7 5h0m-4 2h0m-1 1h0m-5-1h0m-6 0h0m-9 0h0m-1 1h0m-4 0h0m0 0h0m0-4h0m-24 1h0m-3 2h0m8 4h0m16 0h0m25 1h0m10-3h0m-10 9h0m0 0h0m-5-2h0m0-2h0m-13 3h0m-26 0h0m-5 0h0m0 6h0m2-1h0m18-3h0m3 4h0m4-3h0m3-1h0m0 1h0m12 0h0m5 3h0m8-4h0m1 3h0m6 3h0m-1 2h0m-1 1h0m-8-4h0m-5 0h0m-14 3h0m-24 0h0m-5 0h0m-3-1h0m-4-2h0m2 5h0m12 2h0m0 2h0m8-2h0m35 2h0m2-2h0m1-2h0m-7 8h0m-2-3h0m-10 4h0m-1-3h0m-23 1h0m-5-1h0m-5 2h0m2 3h0m6 3h0m10-3h0m1 2h0m4-2h0m0 2h0m1 1h0m3-2h0m0 1h0m16-3h0m9 9h0m-4 0h0m-6-1h0m-14-3h0m-13 1h0m-2 2h0m-16 1h0m-1-2h0m2 6h0m6-2h0m4 2h0m6-2h0m7 0h0m13 0h0m11 0h0m4 1h0m-11 7h0m-1-3h0m-16 1h0m-11 2h0m-3-3h0m-1 1h0m31 3h0m12 1h0m4 2h0m10 1h0m1-3h0m1 6h0m-1 2h0m-21-3h0m-6 2h0m-1 1h0m0-3h0m-4 2h0m-6 1h0m-10-4h0m15 7h0m8 0h0m2-1h0m0 2h0m6-3h0m16 1h0m1 3h0m1 0h0m1-4h0m5 6h0m0-1h0m-2 4h0m-2-3h0m-4-1h0m-12 2h0m-3-2h0m-8 0h0m-1 4h0m-1-4h0m-2 4h0m-5-1h0m-19 1h0m0-4h0m9 9h0m3 0h0m3-2h0m6-1h0m0 3h0m13-2h0m12 0h0m6-1h0m4 0h0m-2 5h0m-2 3h0m-13-2h0m-5-2h0m-9 3h0m-5-3h0m-7 3h0m-7-3h0m-1 0h0m-4 3h0m-3-3h0m-2 1h0m11 6h0m11-1h0m21 2h0m8-2h0m0 1h0m0 1h0m-9 5h0m-3 0h0m-12-3h0m-4 4h0m-4-2h0m0 0h0m-2 2h0m-2 0h0" stroke="#E46C66" stroke-width="3.00" stroke-linecap="round"/>
<path transform="scale(.5)" d="M563 117h0m41 2h0m6 0h0m3-3h0m0 1h0m3-1h0m1 1h0m3 5h0m-6 1h0m-4-1h0m-2 0h0m-1-1h0m-1 0h0m-1 0h0m0-1h0m-1 2h0m-1 0h0m-2-1h0m-1 2h0m-6-2h0m-6-1h0m-5 0h0m-3 1h0m-24 2h0m-3 3h0m3-1h0m5 1h0m7 2h0m22 0h0m7-3h0m1 4h0m1-4h0m2 1h0m1 1h0m4-2h0m1 1h0m3 0h0m0 1h0m5 0h0m4-2h0m1 0h0m0 1h0m1 0h0m1 1h0m3-2h0m2 0h0m0 4h0m1 1h0m-2 2h0m-3-2h0m-6 4h0m0-1h0m-2 0h0m-2 0h0m-1-3h0m-2 2h0m-1-1h0m-12 3h0m-24-3h0m-6 0h0m-6-1h0m-1 3h0m-9 0h0m0-3h0m-3 1h0m12 5h0m8 0h0m17 1h0m1 0h0m24 0h0m5 2h0m-9 1h0m-15 4h0m-13-3h0m-2 3h0m0-2h0m-2-1h0m-1 4h0m9 1h0m17 6h0m-20 2h0m0-4h0m3 8h0m6 0h0m1-2h0m2 1h0m3 1h0m17 2h0m-88 24h0m10 4h0m-20 1h0m-5 0h0m-18 0h0m0 2h0m3 1h0m9 1h0m2-2h0m4 3h0m4-4h0m1 2h0m6-1h0m3 0h0m2-1h0m2 1h0m4-1h0m3 9h0m-10-2h0m-2-1h0m0-1h0m-1 4h0m-2-1h0m-4 1h0m-11 0h0m-7-3h0m-3-1h0m-2 3h0m-1 0h0m0-3h0m-3 4h0m0-2h0m-2-2h0m-1 0h0m-3 1h0m-2 0h0m-2 4h0m1 1h0m2 3h0m1-2h0m1-1h0m1 2h0m11 1h0m8-4h0m2 2h0m7 1h0m3-2h0m0 3h0m3-4h0m8 1h0m4 0h0m-2 8h0m-3-1h0m-1-3h0m-4 2h0m-1-2h0m-2 2h0m0-1h0m-3 3h0m0 0h0m-2-1h0m-4-1h0m0-2h0m-2 4h0m0-1h0m-2-2h0m-4 1h0m-5-1h0m-11 1h0m-1 1h0m-1-1h0m0 0h0m-1 1h0m7 3h0m3 0h0m0 2h0m7 1h0m2-2h0m1 1h0m1 1h0m3-3h0m3 3h0m2-1h0m3-1h0m1-2h0m0 2h0m2 0h0m0 0h0m0 1h0m0 1h0m1-3h0m1 1h0m4 0h0m4 0h0m3-1h0m-8 4h0m-2 1h0m-3 0h0m-4 0h0m-4-1h0m-2 3h0m0-2h0m-3 1h0m-1-1h0m-3 3h0m0-2h0m-3-2h0m-5 2h0m-6-1h0m1 6h0m9-2h0m16 1h0" stroke="#E46C66" stroke-width="3.00" stroke-linecap="round"/>
<path transform="scale(.5)" d="M580 122h0m0 1h0m9-3h0m7 1h0m2 2h0m1-3h0m5 1h0m4 1h0m13 6h0m-6-2h0m-2 3h0m-1-1h0m-1 1h0m-1-3h0m-12 0h0m-1 2h0m-1-2h0m-8 1h0m-9 2h0m-6-4h0m-7 7h0m1 0h0m3 1h0m5 1h0m3-2h0m2-1h0m10 3h0m16-3h0m9 3h0m5 0h0m1 5h0m-4-3h0m-2 1h0m-9 0h0m-7-2h0m-1 1h0m-10 3h0m-2 0h0m-19 0h0m-1-2h0m0-2h0m-1 3h0m4 3h0m4 0h0m13 3h0m12-2h0m3-2h0m7 4h0m4-2h0m2-1h0m6 6h0m-3-1h0m-4-1h0m-10 1h0m-1 3h0m-4 0h0m-1-1h0m-1 1h0m-18-4h0m-4 4h0m0-1h0m-1-2h0m-2 1h0m-115 1h0m-4-2h0m-9 6h0m23-2h0m3 3h0m100-1h0m5-2h0m1 3h0m13 1h0m11-4h0m1 2h0m5 1h0m2 1h0m-8 3h0m-4-1h0m-5 1h0m-10 0h0m-105-2h0m-24 7h0m143-2h0m-149 6h0m59 23h0m21-2h0m4 2h0m1 0h0m2 2h0m-12 1h0m-4 1h0m-2-3h0m-7 0h0m-2 3h0m-32 5h0m5 1h0m3-1h0m5 1h0m13-3h0m18 3h0m4-2h0m1-2h0m1 3h0m1-3h0m1 0h0m8 1h0m-20 6h0m-1 2h0m-2-4h0m-3 1h0m-4 3h0m-1-2h0m-6-1h0m-1-1h0m-3 0h0m-9 1h0m-6 3h0m-18-3h0m27 5h0m4 0h0m2 3h0m5 0h0m2 0h0m5-2h0m0 0h0m4-2h0m7 0h0m4 1h0m14-1h0m-13 9h0m-1-1h0m-3-1h0m-7-1h0m-1 3h0m0-4h0m-3 0h0m-1 3h0m-4 1h0m-5 0h0m-4-4h0m-5 2h0m-3 1h0m4 2h0m3 1h0m1 3h0m10-4h0m2 3h0m8-2h0m3 2h0m1-3h0m8 1h0m-13 4h0m-13 0h0" stroke="#4FBAC0" stroke-width="3.00" stroke-linecap="round"/>
<path transform="scale(.5)" d="M507 69h0m6 4h0m-14-2h0m-4-1h0m-5 4h0m7 2h0m13-1h0m8 3h0m4-3h0m8 8h0m-15-2h0m-4 1h0m-14 2h0m-6-2h0m-7 4h0m9-1h0m24 2h0m3 0h0m2 0h0m0 1h0m9-2h0m7 6h0m-2 0h0m-7 0h0m-3 2h0m-6 0h0m-9-1h0m-18 0h0m-7-2h0m-1 1h0m0 0h0m3 5h0m24 1h0m10-1h0m2 2h0m1 0h0m2 0h0m6-3h0m2-1h0m5 9h0m0-4h0m-1 2h0m-3-2h0m-13 0h0m-4 2h0m-5 2h0m-12-1h0m-9 1h0m0-2h0m-11 2h0m0 2h0m4 0h0m9 1h0m6 2h0m9-3h0m0 1h0m6 0h0m5-1h0m2 3h0m7-2h0m11-2h0m-15 9h0m-16 0h0m-9-2h0m-1-1h0m-3 3h0m-8-3h0m-9 3h0m-1-4h0m11 6h0m10-1h0m13 4h0m2-2h0m1-1h0m1-1h0m2 2h0m2 2h0m1-1h0m2-3h0m4 3h0m4 0h0m8 5h0m-16 1h0m-5-1h0m0-3h0m-6 1h0m-8 0h0m-4 1h0m-3 1h0m-4 1h0m0 0h0m-13 4h0m5-3h0m4 3h0m12-2h0m0 2h0m20-1h0m3-2h0m13 5h0m-6 3h0m-2-1h0m-2 0h0m-2 0h0m-8 0h0m-16-1h0m-2-1h0m-8 0h0m1 5h0m5 1h0m8 0h0m4 2h0m1-2h0m20-1h0m1 4h0m1-1h0m3-1h0m1 4h0m-3-1h0m-20 3h0m-22 0h0m-1-2h0m-5 0h0m-4-1h0m-35 7h0m41 2h0m1-1h0m20 0h0m4-3h0m26 4h0m7 1h0m-16 4h0m-5-3h0m-6 2h0m-13 1h0m0 0h0m-6-4h0m-10 0h0m-6 0h0m8 5h0m0 0h0m19 2h0m10 0h0m2-1h0m30 7h0m-10-2h0m-17 2h0m-5 0h0m-5-1h0m-14-2h0m-66 6h0m9 2h0m4 1h0m40-4h0m10 0h0m8 3h0m0 1h0m1-3h0m40-1h0m0 6h0m-6 1h0m-6-1h0m-9 0h0m-32 3h0m5 3h0m10 0h0m6-2h0m8 2h0m7-1h0m0 2h0m8 6h0m0-4h0m-5 0h0m-17 0h0m-1 3h0m-9-3h0m-51 9h0m69-4h0m0 0h0m10 9h0m-4 0h0m-13 0h0m-3-3h0m-2-1h0m-1 7h0m5-2h0m13 8h0m-54-1h0m0 0h0m5 7h0m15 0h0m28-1h0m-13 3h0m-25 1h0m2 5h0m5 0h0m2 1h0m1-3h0m0 1h0m20 1h0m-5 3h0" stroke="#E46C66" stroke-width="3.00" stroke-linecap="round"/>
<path transform="scale(.5)" d="M579 117h0m11 0h0m0 1h0m12 6h0m-5-2h0m-3-1h0m-4-1h0m-1 0h0m-13 3h0m-3 1h0m-17-1h0m12 5h0m1-2h0m4 0h0m2 3h0m1-2h0m9-1h0m0 1h0m0 1h0m4-3h0m1 0h0m0 0h0m0 0h0m8 3h0m2 0h0m0 1h0m12 0h0m5-4h0m1 1h0m1 2h0m3 4h0m-1 1h0m-2-3h0m-10 4h0m-1-1h0m-1-1h0m0-2h0m-3 0h0m-1 1h0m-8 0h0m-4-1h0m-1 0h0m-1 3h0m-4 1h0m0-4h0m-4 3h0m-3-1h0m-7 1h0m0-2h0m-5 1h0m0-2h0m1 6h0m0 1h0m5 2h0m1-2h0m3-2h0m1 1h0m1 0h0m8 1h0m0 2h0m4-4h0m4 4h0m6-4h0m0 2h0m1-2h0m3 3h0m2-2h0m1-1h0m0 2h0m7 1h0m2-2h0m4-1h0m0 3h0m0 0h0m1 1h0m2-3h0m0 2h0m0 1h0m1 0h0m1-1h0m2-1h0m-3 5h0m-2 2h0m-2 0h0m-4-4h0m-4 3h0m0-1h0m-13-2h0m-1 3h0m0-2h0m0 0h0m-2-1h0m-1 2h0m-2 2h0m0-3h0m-3 0h0m-12 3h0m-1-1h0m-6-3h0m-1 0h0m-2 1h0m-2 2h0m-3 2h0m10 0h0m1 0h0m1 0h0m2 0h0m0 4h0m5-1h0m4 1h0m3-4h0m0 4h0m6-1h0m1-2h0m1 0h0m0 0h0m5 1h0m0 0h0m1 1h0m3-2h0m1 1h0m2 1h0m4-2h0m5 1h0m5-2h0m-2 5h0m-11 1h0m-1 1h0m-5-2h0m-8 3h0m-5-1h0m-2 1h0m-6-3h0m-3 2h0m-3-2h0m-4 5h0m4 1h0m9 2h0m1 0h0m1 1h0m6-4h0m0 4h0m2-4h0m2 3h0m7-2h0m-12 7h0m0-3h0m0 0h0m-1 0h0m-1 0h0m-1 0h0m-3 0h0m-1 0h0" stroke="#4FBAC0" stroke-width="3.00" stroke-linecap="round"/>
<path transform="scale(.5)" d="M562 121h0m-7 13h0" stroke="#4FBAC0" stroke-width="3.00" stroke-linecap="round"/>
<path transform="scale(.5)" d="M650 45h0m1 4h0m1-2h0m3-2h0m0 0h0m2 4h0m1-1h0m2-3h0m3 8h0m-12-1h0m-2 1h0m-3-1h0m0 6h0m20 5h0m-13-1h0m-1 0h0m-8 3h0m2 0h0m18 4h0m1-4h0m5 3h0m-1 6h0m-8-1h0m-1 1h0m-20 0h0m6 4h0m3-3h0m2 1h0m9 1h0m3 2h0m-1 5h0m-12-2h0m-5 1h0m-1-1h0m-4 5h0m2 1h0m2-1h0m17 2h0m9 3h0m-4-2h0m-2 2h0m0-1h0m-1 0h0m-14 2h0m-4-3h0m-3 0h0m3 8h0m7 1h0m16 4h0m-12-3h0m-1 1h0m-11 6h0m3 1h0m3-2h0m0 2h0m1 1h0m3-3h0m7 8h0m-1-3h0m-2 1h0m-4-1h0m-4 0h0m0 0h0m-8 7h0m4-2h0m11 2h0m2-1h0m1 3h0m-3 2h0m-6 1h0m-3 0h0m-6 1h0m-2 2h0m3 1h0m11 1h0m7-2h0m-8 6h0m-3 1h0m-3-3h0m-8 3h0m18 3h0" stroke="#E46C66" stroke-width="2.80" stroke-linecap="round"/>
<path transform="scale(.5)" d="M649 43h0m7 1h0m6 4h0m-2 0h0m-3-3h0m-12 4h0m0-1h0m-2 1h0m12 1h0m2 1h0m5 2h0m2-3h0m1 5h0m-16 2h0m0 0h0m-1 2h0m-1-4h0m-7 2h0m2 6h0m3-3h0m6 1h0m3-1h0m3 2h0m2 7h0m-1-3h0m-9 2h0m-1-1h0m-6-1h0m-1 1h0m0 3h0m5 3h0m3-1h0m4-2h0m8 2h0m2-1h0m-3 8h0m-2-2h0m-12-2h0m-2 2h0m-1 5h0m4-1h0m3 2h0m2 6h0m-12 2h0m6-1h0m2 2h0m5 1h0m11-3h0m2 2h0m-6 7h0m-7 0h0m-7-4h0m-5 7h0m1 2h0m3-3h0m8 3h0m3-2h0m4 7h0m-10-3h0m-7 5h0m8 3h0m8-4h0m2 6h0m-10 1h0m-1 1h0m-2 0h0m-5-2h0m0 5h0m0 0h0m6-1h0m11 1h0m2 8h0m0-3h0m-10 0h0m-3 0h0m-1 0h0m-4-1h0m-2 6h0m3 0h0m10 1h0m4-1h0" stroke="#E46C66" stroke-width="2.80" stroke-linecap="round"/>
<path transform="scale(.5)" d="M648 42h0m12 5h0m-1-2h0m-14 1h0m3 5h0m0 2h0m2-2h0m14 0h0m-2 7h0m-3-2h0m-4 2h0m-11 0h0m-3-1h0m24 7h0m-3 5h0m-1 0h0m-5-1h0m-14-1h0m-1 5h0m20 0h0m8 7h0m-3-3h0m-5 0h0m-5 1h0m-1 2h0m0-2h0m-4 1h0m-11-3h0m0 8h0m5-2h0m11 3h0m1-4h0m4 9h0m-5-2h0m-3 2h0m-4-2h0m-2 2h0m-2-2h0m-5 1h0m18 2h0m0 2h0m6 0h0m4 1h0m-7 2h0m-1 2h0m-17 7h0m13 0h0m2 0h0m3-2h0m0 2h0m7-3h0m-1 6h0m-1 2h0m-5-4h0m-3 3h0m-1 1h0m-2-4h0m-2 1h0m-1 2h0m-6 0h0m-1-3h0m2 9h0m3-2h0m1 0h0m11 2h0m1 0h0m4-1h0m-6 5h0m-1-1h0m0-1h0m-5-1h0m-12 4h0m-1 8h0m10 1h0m5 4h0m-1 2h0m-7-3h0m-2-1h0m-15 2h0m22 4h0m2 1h0" stroke="#E46C66" stroke-width="2.80" stroke-linecap="round"/>
<path transform="scale(.5)" d="M655 44h0m7 2h0m-7 0h0m-5 2h0m-12 10h0m3 1h0m18-4h0m5 4h0m-4 3h0m-7-2h0m-7 6h0m4 1h0m8-1h0m46 8h0m-1-2h0m-2 2h0m0-2h0m-4 2h0m-1-2h0m-4-1h0m-12 3h0m-30 5h0m5 0h0m7-2h0m1 1h0m2-3h0m3 3h0m3 1h0m0 0h0m4-4h0m6 0h0m1 1h0m0 1h0m1 2h0m3-4h0m0 3h0m1 0h0m4-2h0m1 0h0m1 2h0m3-3h0m2 2h0m7-2h0m0 2h0m1-2h0m-7 5h0m-4 0h0m-18 2h0m0-1h0m0-1h0m-4 4h0m-14-2h0m-11-1h0m0 0h0m5 5h0m16 6h0m-11-1h0m-3-1h0m0 0h0m-7 3h0m-23 4h0m11 0h0m5 2h0m3-2h0m19 5h0m-34-1h0m16 7h0m5-1h0m4 2h0m10 0h0m-2 5h0m-4-1h0m3 4h0m-3 3h0m-13 6h0m10 3h0m8-4h0m-6 9h0m-10 0h0m-2-4h0m0 5h0" stroke="#E46C66" stroke-width="2.80" stroke-linecap="round"/>
<path transform="scale(.5)" d="M614 212h0m5 1h0m3 0h0m2-1h0m1-1h0m0 2h0m1-2h0m1-1h0m2 3h0m3-3h0m-1 5h0m-4 0h0m-5 1h0m-6 4h0m6 9h0m-2-1h0m-1 1h0m-4 1h0m6 0h0m1 0h0m1 4h0m5-3h0m3 8h0m-1-1h0m-4 0h0m1 6h0m4-4h0m1 2h0m0 1h0m11 5h0m-5-2h0m-2 4h0m3 0h0m1 3h0m1 1h0m3-3h0m1 0h0m0 3h0m8-3h0m0 2h0m6-3h0m-4 5h0m-7 3h0m0-1h0m-6-2h0m-2 0h0m3 6h0" stroke="#4FBAC0" stroke-width="2.80" stroke-linecap="round"/>
<path transform="scale(.5)" d="M642 171h0m28 4h0m-6 3h0m-21 3h0m0 2h0m14-1h0m1-1h0m0 8h0m-1 0h0m-5-4h0m14 6h0m2 2h0m17 1h0m4-1h0m-2 2h0m0 0h0m-1 2h0m-9 2h0m-25-3h0m-6 0h0m-2 4h0m33 1h0m4 1h0m5 0h0m6-2h0m4 5h0m-9 1h0m-5 1h0m-4 1h0m-11-1h0m-10-1h0m-4 1h0m26 6h0m2-3h0m0 1h0m0 3h0m1-3h0m4 3h0m5-3h0m0 4h0m-1 0h0m-31 3h0m-10 6h0m12-2h0m5 3h0m-19 0h0m16 8h0" stroke="#4FBAC0" stroke-width="2.80" stroke-linecap="round"/>
<path transform="scale(.5)" d="M661 152h0m2 2h0m1-4h0m2 4h0m2 2h0m-5 3h0m0-2h0m-4 0h0m0-1h0m-2 2h0m-1-1h0m-1 1h0m-1-2h0m-2-1h0m-3 6h0m14-1h0m1 0h0m0 1h0m1 1h0m2-1h0m2 3h0m4-2h0m-2 6h0m-1 1h0m-1-1h0m-4 1h0m-12-3h0m-7 1h0m1 6h0m20 3h0m-5 2h0m-15 4h0m4 1h0m11-2h0m4 3h0m-3 10h0m-19 1h0m9 3h0m14 1h0m4 8h0m-22 0h0m-2 0h0m0-1h0m3 7h0m19-3h0m4 4h0m-24 4h0" stroke="#4FBAC0" stroke-width="2.80" stroke-linecap="round"/>
<path transform="scale(.5)" d="M680 198h0m6-1h0m4-1h0m0 1h0m1 4h0m-7-1h0m-6 0h0m-2 2h0m-1 3h0m15 0h0m1 2h0m5 2h0m-2 2h0m-2 1h0m-3-2h0m-9 0h0m-50 1h0m-4-1h0m-5 2h0m-5 4h0m8-1h0m63 1h0m-62 4h0m-1 1h0m0-1h0m-2 5h0m5 3h0m3 9h0m-4 2h0m-3-1h0m-4-1h0m7 6h0m2-1h0m5-1h0m1 2h0m1 0h0m0 1h0m19 9h0m-2-1h0m-9 1h0m0-1h0m-3 2h0m4 2h0m0 2h0m6-2h0m0 3h0m6 0h0" stroke="#4FBAC0" stroke-width="2.80" stroke-linecap="round"/>
<path transform="scale(.5)" d="M632 213h0m-6 2h0m0 30h0" stroke="#4FBAC0" stroke-width="2.80" stroke-linecap="round"/>
<path transform="scale(.5)" d="M439 398h0m3 6h0m-3 5h0m1-3h0m2 2h0m5 4h0m-2 1h0m-6-3h0m-1 3h0m-12 0h0m13 4h0m0 2h0m4-4h0m2 4h0m12 4h0m0 0h0m-3-3h0m-5 2h0m-8 1h0m-1-1h0m3 6h0m2 0h0m3-2h0m1 2h0m2-3h0m4 0h0m0 3h0m2-3h0m2 2h0m6 4h0m-2 2h0m-7 0h0m-3-3h0m-2 3h0m-5-2h0m12 6h0m2 1h0m9 0h0m0 1h0m4 0h0m-3 2h0m-3 0h0m-3 3h0m0 0h0m-4-4h0m-6 2h0m6 6h0m11 0h0m1 1h0m1 0h0m5-1h0m6 5h0m-1-1h0m-2 1h0m-5 0h0m-3 1h0m-6 4h0m3-3h0m3 0h0m0 3h0m1 0h0m1 1h0m2 0h0m2-1h0m1 1h0m4 0h0m1-1h0m1 1h0m3 0h0m2 0h0m-1 3h0m-2-1h0m-3-1h0m-1 4h0m0-1h0m0-1h0m-1 0h0m-1-2h0m0 0h0m-4 3h0m-7-1h0m0 0h0m-3 3h0m4 0h0m3 1h0m3-1h0m1 4h0m2 0h0m2-4h0m1 0h0m4 3h0m12 4h0m-7 1h0m-2-1h0m-11 1h0m-1-2h0m-3 0h0m4 5h0m8 0h0m6-1h0m2 2h0m0 1h0m2 0h0m6 0h0m51 0h0m9 0h0m2 3h0m-5 1h0m-6-2h0m-3 3h0m0-1h0m0-1h0m0 0h0m-2 3h0m-2 0h0m-1-1h0m-35 1h0m-1-1h0m-3-1h0m-1 1h0m-11 1h0m0-4h0m-5 4h0m-2-2h0m0-2h0m-1 0h0m10 5h0m8 2h0m5 2h0m9-4h0m0 2h0m4-1h0m0 2h0m10-3h0m2 3h0m1 1h0m1-2h0m2 0h0m7-2h0m1 4h0m0 0h0m3-4h0m0 0h0m12 2h0m1-1h0m3 2h0m-6 6h0m-7-2h0m-2-1h0m-1 3h0m-2-2h0m-2-1h0m-4 1h0m-4-1h0m-3 2h0m0-3h0m-5 0h0m-2 2h0m-1-2h0m-7 2h0m-3-1h0m-18 2h0m-4 1h0m26 4h0m3-2h0m3 0h0m2 2h0m8 0h0m4-3h0m3 1h0m1 0h0m1 1h0m2 2h0m1-1h0m-3 2h0m-4 0h0m-8 0h0" stroke="#4FBAC0" stroke-width="3.00" stroke-linecap="round"/>
<path transform="scale(.5)" d="M486 482h0m30 15h0" stroke="#4FBAC0" stroke-width="3.00" stroke-linecap="round"/>
<path transform="scale(.5)" d="M492 354h0m20 5h0m-10-2h0m-5-1h0m-1 0h0m-2 3h0m0 0h0m9 1h0m10 2h0m2 7h0m0-2h0m-4 2h0m-7-2h0m-11-1h0m-6 1h0m-1-2h0m-3 1h0m0 5h0m5 1h0m12 1h0m4-2h0m5 3h0m6-1h0m5 1h0m1-2h0m1-1h0m-5 4h0m-3 0h0m-5 0h0m-10 0h0m-8 1h0m-7 0h0m-3 4h0m22 2h0m4 0h0m5 2h0m1-3h0m5 2h0m2 1h0m2-3h0m1 0h0m1 8h0m-3-1h0m-4 0h0m0-3h0m-1 1h0m-8 3h0m-3-4h0m-8 4h0m-14 5h0m6-4h0m15 3h0m6-1h0m7-2h0m2 2h0m6 5h0m-3-2h0m-2 0h0m-5 4h0m0-4h0m-7 1h0m-5 1h0m-3 1h0m-3 0h0m-5-3h0m-2 1h0m-3 0h0m-4-1h0m9 7h0m8-1h0m0 3h0m3-2h0m6 2h0m2-3h0m14 0h0m4 3h0m-2 5h0m-12-2h0m-10-2h0m-6 3h0m-10 1h0m-8 4h0m1 0h0m5 0h0m21 1h0m0 0h0m4-2h0m1 2h0m12 0h0m10 0h0m-5 5h0m-12-2h0m-3-2h0m-7 1h0m-1 0h0m0-1h0m-12 4h0m-5-4h0m-2 1h0m2 8h0m1-3h0m10 2h0m14 0h0m4 0h0m14-3h0m1 2h0m0 2h0m3-4h0m6 6h0m-1 2h0m-7-2h0m-13 0h0m-2 3h0m-3-2h0m0-2h0m-5 2h0m0-1h0m-8 0h0m-1 2h0m-3-2h0m-2 0h0m-7 1h0m-6 0h0m11 7h0m12-1h0m11-3h0m7 4h0m4-4h0m1 3h0m2 1h0m1 0h0m21-3h0m-2 5h0m-7 2h0m-6-1h0m-4-2h0m-9 1h0m-8 0h0m0 0h0m0 0h0m-2 1h0m-9 1h0m-5 1h0m0-4h0m-5 7h0m6 2h0m1-1h0m9-3h0m10 0h0m5 1h0m4 2h0m0 1h0m1-3h0m2 0h0m21 0h0m4 3h0m8 2h0m-2 0h0m-6 0h0m-1 3h0m-10 0h0m0-2h0m-3 0h0m-1 1h0m-13-1h0m-20-2h0m-4 3h0m-4-2h0m-2 4h0m13 1h0m3-1h0m8 0h0m1 1h0m3 1h0m6 2h0m32-1h0m-5 6h0m-1-4h0m-7 3h0m-2 0h0m-1-1h0m-6 2h0m-1 0h0m0 0h0m-7-3h0m-1 2h0m-6 0h0m-1-3h0m-8 4h0m0-3h0m-5 1h0m-11 1h0m0-1h0m4 6h0m2-1h0m5-1h0m0 1h0m3-1h0m1 2h0m6-3h0m7 4h0m7-3h0m8 1h0m23 0h0m3-1h0m-8 6h0m-9-2h0m-1 4h0m-12-4h0m-16 2h0m-6-2h0m-9 4h0m4 2h0m1 1h0m3-1h0m12 2h0m4-3h0m1 2h0m2 2h0m13-4h0m8 3h0m5-1h0m1 0h0m6 2h0m-13 3h0m-19-1h0m-5 2h0m-1 1h0m-1-3h0m-7 1h0m9 3h0m3 3h0m1-3h0m0 2h0m4 1h0m5-1h0m3-2h0m0 1h0m1 1h0m7 0h0m0 1h0m1 0h0m8-3h0m-6 6h0m-15 1h0" stroke="#E46C66" stroke-width="3.00" stroke-linecap="round"/>
<path transform="scale(.5)" d="M501 357h0m90 7h0m-16-1h0m-1-1h0m-58 2h0m-21-1h0m-8 1h0m79 2h0m4 2h0m1-1h0m5 1h0m25 4h0m-2-2h0m-3 1h0m-2-1h0m-8 1h0m-3 2h0m-2 0h0m-7-2h0m-4 1h0m-1-2h0m-4 2h0m-3 2h0m-2-1h0m-41 3h0m42 0h0m3 0h0m6-1h0m15 3h0m9-1h0m1-2h0m8 1h0m4 6h0m-12 1h0m0-3h0m-1 0h0m-1 2h0m-12 0h0m-15 0h0m-4 2h0m-3-2h0m-2 1h0m-3 0h0m-57 2h0m59 3h0m1-1h0m12 0h0m1 2h0m19-3h0m4 2h0m6-2h0m3 2h0m4-2h0m1-1h0m1 4h0m-29 3h0m-2 2h0m-9 0h0m-73-3h0m-1-1h0m60 8h0m2-3h0m10 0h0m0 2h0m2-2h0m2 0h0m4 0h0m5 4h0m1-3h0m0 3h0m11-1h0m2-2h0m1 1h0m6-2h0m2 3h0m2-1h0m3-1h0m0 7h0m-1 1h0m-1-1h0m-5 0h0m-1-2h0m-1 2h0m-2-3h0m-2 1h0m-3-1h0m-5 4h0m-5-4h0m-1 3h0m-5 0h0m-5-2h0m0 0h0m-11 0h0m-1 2h0m-36-1h0m-19 3h0m9 3h0m43-3h0m6 1h0m5 0h0m8 3h0m4-3h0m2 2h0m4 0h0m1-3h0m0 2h0m4-2h0m0 2h0m2-1h0m6 0h0m1 2h0m2-2h0m0 2h0m0 1h0m2 3h0m-3-2h0m-1 3h0m-1-1h0m-8 0h0m0-1h0m-6 0h0m-2 3h0m-3-1h0m-23 1h0m0-1h0m-5 1h0m-38 0h0m-19 4h0m25-1h0m32 2h0m1-4h0m6 0h0m11 4h0m2-4h0m11 0h0m3 3h0m7-3h0m1 3h0m0 1h0m6-3h0m-8 5h0m-10-1h0m-4 0h0m-4 2h0m-4 1h0m-1 0h0m-13 0h0m-2 0h0m-27 5h0m16-1h0m20-2h0m0 2h0m7-1h0m0 1h0m5 0h0m0 1h0m10-3h0m-65 9h0m-14 0h0m26 3h0m9 4h0m-25 8h0m25 4h0m-11 6h0m45-4h0m1 4h0m-22 5h0m-26 0h0m4 4h0m12 1h0m22-1h0m7 3h0m-45 4h0m25 3h0m-8 3h0m-4 2h0m10 3h0" stroke="#4FBAC0" stroke-width="3.00" stroke-linecap="round"/>
<path transform="scale(.5)" d="M580 364h0m4 0h0m9-1h0m0 6h0m-4-3h0m0 0h0m-11-1h0m-6 3h0m-9 1h0m2 4h0m3-2h0m10 0h0m1-1h0m15 3h0m3-2h0m6 1h0m3 6h0m-17 1h0m-11-3h0m-1 0h0m-10-1h0m-1 4h0m-3-4h0m-5 2h0m-2 5h0m3 1h0m1-2h0m11 3h0m5-3h0m2-1h0m6 3h0m4 0h0m3 1h0m2-2h0m4-2h0m4 2h0m0 7h0m-4-1h0m-4-3h0m-1 1h0m-3 3h0m-3-4h0m-2 3h0m-3 0h0m-2-3h0m-2 3h0m-3 0h0m-12-3h0m-1 2h0m-3 4h0m4 1h0m6 1h0m2-1h0m1 0h0m1-1h0m3 0h0m0 1h0m11 2h0m20-4h0m2 0h0m-4 8h0m-1-1h0m-3-2h0m-6 3h0m-10-2h0m-11 1h0m-4-2h0m-1 4h0m-7 0h0m-2 0h0m-3-1h0m-119 6h0m116-1h0m3 1h0m11-2h0m1-2h0m3 2h0m5-2h0m6 2h0m1-2h0m3 2h0m5 1h0m15 2h0m-3 4h0m-5-3h0m-17 1h0m-1 0h0m-2 2h0m-3-3h0m-1 1h0m-18-1h0m-133 3h0m7 1h0m7 4h0m2-1h0m5 0h0m1-1h0m0 2h0m4-3h0m107-1h0m2 3h0m0 0h0m8-3h0m7 4h0m13-4h0m6 0h0m2 3h0m2-3h0m1 3h0m1-3h0m-3 6h0m-7 1h0m-10-1h0m-1-1h0m-2 4h0m-7 0h0m-20-2h0m-97-1h0m-3 1h0m-2 0h0m-5 4h0m1 1h0m3 2h0m3-4h0m1 1h0m0 1h0m7-2h0m96 3h0m2 1h0m1 0h0m15-4h0m1 2h0m12 1h0m1-2h0m-18 8h0m-2-4h0m-3 1h0m-1-1h0m-100 3h0m-5-1h0m-8-2h0m-1 2h0m-2-2h0m4 7h0m4 1h0m114-3h0m-102 8h0m-1-3h0m-4 2h0m-7 0h0m6 7h0m6 0h0m2 0h0m2 0h0m1-2h0m1-1h0m0 3h0m2 5h0m-5 0h0m0 0h0m0-2h0m-3-2h0m-3 8h0m14 0h0m3 1h0m9 3h0m-2 0h0m-7 2h0m-10 0h0m0-4h0m11 8h0m1-2h0m1 0h0m5 0h0m0 5h0m-5 1h0m-1 0h0" stroke="#4FBAC0" stroke-width="3.00" stroke-linecap="round"/>
<path transform="scale(.5)" d="M503 490h0m30 8h0m-24 0h0" stroke="#E46C66" stroke-width="3.00" stroke-linecap="round"/>
<path transform="scale(.5)" d="M529 348h0m-14 5h0m-5-3h0m-9 9h0m2-3h0m5 3h0m3 0h0m2-1h0m0 1h0m24 4h0m-2-2h0m-21 3h0m-1-4h0m-6 0h0m-2 2h0m-16 1h0m20 4h0m5 1h0m1-2h0m0 3h0m13-3h0m-6 6h0m-1 0h0m-3 0h0m-3 2h0m0-3h0m-1 0h0m0-1h0m-8 3h0m-6-3h0m-1 4h0m-6-2h0m-1-2h0m-5 3h0m-2-1h0m-2-2h0m-1 5h0m9 1h0m11 0h0m4-1h0m3 1h0m3 3h0m0 0h0m3-4h0m5 6h0m-3 2h0m-6-2h0m-1 2h0m-14-3h0m-19 8h0m10-1h0m6-2h0m16 4h0m16 2h0m-8-1h0m-15 0h0m-19 2h0m0-1h0m-1-1h0m-2 4h0m2 1h0m1 4h0m5-3h0m7 0h0m12 3h0m3-3h0m1 0h0m5 2h0m1-1h0m3-1h0m10 6h0m-7 1h0m-8-1h0m-4 0h0m-6 2h0m-2-1h0m-2 0h0m-1-2h0m-17 2h0m-4 0h0m4 4h0m5 0h0m3-1h0m6 0h0m11-1h0m16 2h0m1 5h0m-2 1h0m-7-2h0m-9 0h0m-1 1h0m-3-2h0m-2 3h0m-6 0h0m-2-3h0m-2 2h0m-2 0h0m-5 2h0m2 4h0m1-3h0m11 0h0m4 2h0m21 1h0m1-3h0m2 4h0m10 0h0m2-1h0m5 5h0m-5 0h0m-9-1h0m-26 1h0m-4 0h0m-5 0h0m-7 2h0m5 0h0m2 2h0m5-1h0m14 2h0m5-3h0m0 4h0m16-4h0m2 2h0m21 7h0m0-1h0m-7-3h0m-2 4h0m-2 0h0m0-1h0m-5 1h0m-3-4h0m-2 0h0m-18 0h0m-11 4h0m-8-1h0m-10 1h0m-2-2h0m1 3h0m6 2h0m9 2h0m6-4h0m12 3h0m7-2h0m8 1h0m23 1h0m5 3h0m-4 1h0m-7-1h0m-2 2h0m-4 0h0m-8-2h0m-7 3h0m-16-3h0m-5-1h0m-1 3h0m0-3h0m-10 2h0m6 5h0m3 0h0m8-1h0m7 0h0m21-1h0m6 3h0m14 1h0m1-3h0m1-1h0m8 5h0m-2 3h0m-10-3h0m-4 3h0m-3 0h0m-11 1h0m-4-4h0m-6 4h0m-6-1h0m-6 0h0m-8 0h0m-5 1h0m-1 0h0m-20 0h0m15 5h0m3-4h0m2 3h0m3-3h0m1 0h0m6 4h0m3-1h0m1-3h0m3 1h0m0 1h0m2 2h0m3-1h0m0 1h0m20-1h0m22-1h0m3 5h0m-1 1h0m-15-1h0m-7-2h0m-9 1h0m-1 3h0m-9-2h0m-2-2h0m-7 1h0m-3 2h0m-3-1h0m-7 2h0m5 3h0m6 0h0m6 0h0m9 2h0m28 0h0m1 0h0m0 3h0m-8 1h0m-8 1h0m-1-3h0m-12-1h0m-1 3h0m-3-3h0m-3 2h0m-2-1h0m-3-1h0m-4 0h0m-4 1h0m-1 2h0m0-1h0m9 6h0m4-2h0m7 0h0m4 0h0m7 2h0m1-1h0m12 1h0m7 4h0m-2-1h0m-9-1h0m-5 1h0m-5 1h0m-3 2h0m-1-3h0m-1 1h0m-9-1h0m15 4h0m4 1h0m1 0h0" stroke="#E46C66" stroke-width="3.00" stroke-linecap="round"/>
<path transform="scale(.5)" d="M502 347h0m6 2h0m11-4h0m0 2h0m0 2h0m4-2h0m1-1h0m0 3h0m1-4h0m2 4h0m3 0h0m1-3h0m1 2h0m1 1h0m6 0h0m0 1h0m-1 0h0m-1 2h0m-4 1h0m-3-3h0m-2 4h0m-3-1h0m-1 1h0m-4 0h0m-1-4h0m0 0h0m-2 3h0m-4-2h0m-7 2h0m-7 4h0m2-2h0m1 2h0m1-1h0m0 2h0m3-2h0m0 1h0m3 1h0m2 0h0m3 1h0m5-4h0m2 3h0m0 0h0m11-1h0m1 2h0m2-3h0m1 1h0m3-1h0m0 4h0m-3 4h0m0-3h0m-1 3h0m-4-1h0m-3 1h0m-1-1h0m0-2h0m-1 2h0m-1 1h0m-3-1h0m-1-3h0m-3 2h0m-1 2h0m-1-1h0m-2 0h0m-1-1h0m-6 1h0m0 0h0m-4 1h0m-1-1h0m0-2h0m-5 3h0m-1-4h0m-2 0h0m4 5h0m3 0h0m1 0h0m8 3h0m0 1h0m7-2h0m0 1h0m1 1h0m1-2h0m3-1h0m1-1h0m0 4h0m0 0h0m7 0h0m6-1h0m2-3h0m-7 6h0m-3 3h0m0-4h0m-1 1h0m-5 3h0m0-4h0m-1 0h0m-1 0h0m-4 4h0m-1-2h0m-1-2h0m-4 1h0m-3 3h0m-1-4h0m-2 0h0m-2 0h0m-1 2h0m-19 0h0m3 3h0m18 0h0m7 4h0m1-1h0m2-3h0m8 1h0m1 0h0m4-1h0m0 1h0m1 4h0m-1 0h0m-6 0h0m-10 3h0m-9-1h0m-21-2h0m21 5h0m-8 14h0m9 2h0m19 1h0m-7 7h0m-8 0h0m-10-1h0m30 3h0m11 7h0m-6-2h0m-5-1h0m-3 1h0m-1-1h0m-40 3h0m45 3h0m14 3h0m-48 3h0m-6-2h0m8 9h0m6-3h0m7-1h0m10 0h0m19 4h0m-10 4h0m-32-1h0m10 4h0m29 0h0m19-1h0m8 6h0m-15 2h0m-1 0h0m-24 4h0m34 6h0m-3-2h0m-17 3h0m-3-2h0m-14 1h0m-3-1h0m-7 6h0m5 1h0m41-1h0m-13 5h0m-9-2h0m-5 0h0m-4 2h0m36 2h0m0 3h0m8 1h0m3 0h0m3 1h0m-28 3h0m-10 2h0m6 3h0m12 0h0m3-1h0m2 2h0" stroke="#4FBAC0" stroke-width="3.00" stroke-linecap="round"/>
<path transform="scale(.5)" d="M508 357h0m65 7h0m-62 0h0m-25 3h0m31 2h0m63-1h0m14 0h0m6 1h0m2 0h0m-6 4h0m-2-1h0m-4 0h0m-19 0h0m-4 0h0m-7 2h0m0-2h0m-62-2h0m4 7h0m97-2h0m2 1h0m7 8h0m-13-1h0m-1-1h0m-7-2h0m-3 0h0m-10 2h0m-52 1h0m-12 0h0m69 3h0m15 8h0m-17-3h0m-3 3h0m-75-3h0m0 0h0m-15 2h0m-4-2h0m0 0h0m12 6h0m9-1h0m79-1h0m6 3h0m17 1h0m-30 4h0m-4-3h0m-13 1h0m-60 0h0m-13 1h0m-3 3h0m25 0h0m0 1h0m84 3h0m8 2h0m-1 1h0m-45 1h0m-67-3h0m-35 5h0m107 3h0m12 0h0m5 1h0m12-4h0m1 6h0m-5 1h0m-9 0h0m-2-2h0m-30 2h0m-39-2h0m-1 3h0m-7-1h0m-52 1h0m7 3h0m76 1h0m2 0h0m16 2h0m-85 4h0m-1-1h0m-6 6h0m40 1h0m35-2h0m15-2h0m7 3h0m-10 4h0m-11 2h0m-1-2h0m-8-1h0m-9-1h0m-3 4h0m-1-4h0m-9 3h0m-38-1h0m7 7h0m3-4h0m6 0h0m25 1h0m15 2h0m37-2h0m15 3h0m-16 5h0m-14-1h0m-58-2h0m-16 1h0m9 4h0m1 2h0m2-2h0m6 3h0m1 0h0m1-2h0m5 2h0m28-3h0m36 0h0m-27 8h0m-29-1h0m-7 0h0m-3-2h0m-5 1h0m-1 2h0m0-1h0m-1-1h0m-1 0h0m0-1h0m-1 1h0m-4 3h0m0 1h0m6 1h0m7 2h0m1 0h0m2-1h0m7-1h0m0 1h0m58-2h0m12 2h0m1 6h0m-37-2h0m-30 1h0m-2-3h0m-1 2h0m-8-2h0m-1 1h0m-3 0h0m-6 5h0m7 3h0m5-1h0m0 1h0m4-3h0m5 3h0m1-1h0m1 1h0m51-2h0m13 2h0m3-2h0m0 6h0m-3-1h0m0-2h0m-10 2h0m-3 0h0m0 0h0m0-1h0m-7 3h0m-5-1h0m-5 1h0m-2 0h0m-16 0h0m-2 0h0m-9 0h0m-5-3h0m-1 2h0m-7-3h0m-1 2h0m0-1h0m0-1h0m-4 3h0m0-2h0m-1 2h0m0-3h0m7 9h0m1-4h0m0 2h0m2 0h0m0 1h0m3-3h0m0 1h0m1 3h0m1 0h0m2-3h0m5 2h0m3-1h0m11 1h0m0 0h0m1 1h0m3-1h0m1-3h0m14 1h0m0 2h0m4 0h0m2-3h0m0 1h0m10 1h0m1-1h0m10 0h0m0 2h0m-3 5h0m-2-1h0m-1-2h0m-4 0h0m-1 1h0m-4 3h0m-2-2h0m-1-2h0m-3 3h0m0-3h0m-2 2h0m-7 2h0m-7-1h0m-2-3h0m-9 1h0m-2 2h0m-5 1h0m0-4h0m-2 2h0m-1 0h0m-5 2h0m0-3h0m-2 1h0m-2 1h0m-1-3h0m0 5h0m0 0h0m8 2h0m5 2h0m5-2h0m2-2h0m3 1h0m1 3h0m2-2h0m0 2h0m1-2h0m8 1h0m3-3h0m0 2h0m1 2h0m3-2h0m3-2h0m2 3h0m-1 2h0m-4 2h0m-19-2h0" stroke="#E46C66" stroke-width="3.00" stroke-linecap="round"/>
<path transform="scale(.5)" d="M490 358h0m3 1h0m1-1h0m18 0h0m-15 4h0m-2 2h0m-2-3h0m-5 1h0m-3 4h0m9-1h0m2 1h0m9 0h0m8 2h0m4-2h0m2 3h0m5 3h0m-1 1h0m-6 0h0m-12-1h0m-6 2h0m-14-3h0m-3 5h0m17-1h0m0 3h0m4-1h0m2-2h0m1 2h0m14-1h0m0 3h0m-4 5h0m-3-1h0m-5-1h0m-2 1h0m-6-3h0m-4 0h0m-9 2h0m0 0h0m-2 2h0m0-1h0m-6-2h0m5 6h0m15-1h0m1 1h0m2-1h0m6 3h0m17 0h0m-11 2h0m-4 3h0m0-3h0m-12 0h0m-1-1h0m-3 3h0m-4-1h0m-2 0h0m-3 1h0m-1 0h0m-1-1h0m-2 1h0m3 6h0m1-2h0m2 0h0m5 0h0m10-2h0m1 4h0m3-1h0m3 0h0m14 2h0m-1 3h0m-5 0h0m0-2h0m-3 3h0m0-3h0m-4 1h0m-5-2h0m-1 4h0m-2-1h0m-1-3h0m-6 4h0m-1-2h0m-3 0h0m-11 3h0m13 3h0m6-1h0m12-1h0m1 2h0m3-2h0m1 1h0m5 0h0m3 0h0m2 1h0m1 4h0m-10-2h0m-3 4h0m-8-3h0m-9-1h0m-2 1h0m-3 3h0m-1 2h0m11 2h0m26-2h0m1 3h0m2-1h0m14 6h0m-11-4h0m-5 1h0m-2 0h0m-4 0h0m-2 3h0m-2-2h0m-9 0h0m-7-1h0m-14 1h0m-5-2h0m4 8h0m3-3h0m3 4h0m7-2h0m2 1h0m3-1h0m0 0h0m6-2h0m4 2h0m15 1h0m4-3h0m17 6h0m-12 3h0m-6-2h0m-6 0h0m-1 0h0m-4 2h0m-5-3h0m-1 2h0m-4 0h0m-7 1h0m-1-3h0m-2 3h0m-14 0h0m-2-2h0m4 7h0m1-4h0m21 2h0m0 1h0m0 0h0m9-1h0m5 0h0m2-2h0m1 4h0m10-4h0m3 0h0m5 2h0m6 1h0m1-1h0m0 1h0m1 5h0m-4-1h0m-1 1h0m-1-1h0m-1 2h0m0-1h0m-3-2h0m-1 3h0m-4-2h0m-8 2h0m-8-2h0m0-1h0m-1 2h0m-11-2h0m-2 1h0m-14 0h0m-2 1h0m-1-3h0m-4 0h0m5 5h0m4 3h0m10-1h0m15-2h0m7 2h0m8 2h0m8-2h0m13 2h0m2 0h0m1-4h0m0 4h0m7 1h0m-23 4h0m-4-4h0m-6 2h0m-1-1h0m-34-1h0m-5 0h0m5 8h0m1 1h0m9-4h0m10 0h0m11 2h0m2 1h0m19-3h0m21 4h0m0 4h0m-4-3h0m-6 0h0m-2 3h0m-9 0h0m-12-3h0m-6 4h0m-1 0h0m-1-4h0m-1 1h0m-1 1h0m-13-2h0m-4 1h0m-1 3h0m-2-2h0m-2 0h0m0-2h0m2 8h0m1-1h0m2-1h0m0 3h0m28-2h0m2 1h0m3-3h0m2 1h0m4 0h0m6 2h0m14 3h0m-29 1h0m-7 0h0m-4 0h0m-1-2h0m-11 7h0m3 0h0m3-2h0m0 1h0m5 3h0m7 0h0m1 0h0m1-1h0m5 1h0m13-3h0m15 0h0m-15 5h0m-3 1h0m-16 1h0m-5-1h0" stroke="#E46C66" stroke-width="3.00" stroke-linecap="round"/>
<path transform="scale(.5)" d="M691 341h0m5 6h0m-7 1h0m0-2h0m0-1h0m-4 2h0m-6 4h0m7 2h0m3 0h0m5-2h0m0 6h0m-3 1h0m0-2h0m-2 3h0m0-4h0m-44 9h0m10-1h0m5 1h0m2 0h0m15-4h0m12 3h0m2 0h0m4 3h0m-9 2h0m-10 1h0m-4 0h0m-3-1h0m-4-1h0m-1 2h0m-1-2h0m-1 2h0m-1-2h0m-5 1h0m-4 1h0m-1-1h0m-10 6h0m9-1h0m0 0h0m11 1h0m7-3h0m1-1h0m2 3h0m3 0h0m7-2h0m-1 4h0m-13 4h0m-4 0h0m0-4h0m-3 1h0m-2 3h0m-6-2h0m-1-1h0m0-1h0m-6 0h0m-18 1h0m22 4h0m0 1h0m9 2h0m8 1h0m2-4h0m8 7h0m-9-2h0m-2 0h0m-1 3h0m-18 1h0m-6 3h0m3 0h0m9 2h0m3-1h0m1-1h0m7-1h0m12 2h0m5-2h0m-6 6h0m-2-1h0m-1-1h0m-1 1h0m-7 1h0m-5 1h0m-5 1h0m-3-4h0m3 5h0m13 4h0m4 1h0m-3 1h0m-11-1h0m-1 1h0m-9 0h0m9 5h0m15 1h0m6 0h0m-9 5h0m-7 2h0m4 2h0m2 0h0m1-1h0m7 3h0" stroke="#E46C66" stroke-width="2.80" stroke-linecap="round"/>
<path transform="scale(.5)" d="M656 329h0m3-2h0m4 6h0m-4-3h0m-7 3h0m-2 4h0m44 5h0m-45 1h0m3 2h0m1 3h0m5 0h0m3-3h0m1 1h0m1 1h0m3 2h0m2-2h0m20-1h0m5 8h0m-22-1h0m-8-3h0m-6 3h0m0-2h0m-1 3h0m-1 0h0m-2-3h0m-1 3h0m2 3h0m4 0h0m6 1h0m4 0h0m-3 5h0m-4-3h0m-1 1h0m-3-1h0m2 5h0m7 4h0m4-1h0m2-2h0m0 1h0m1-2h0m14 1h0m1 2h0m2-2h0m-18 5h0m-3 2h0m-3 0h0m0-1h0m0 4h0m1-1h0m5 0h0m0 3h0m7 5h0m-1-1h0m-3-2h0m-7 1h0m-1-1h0m4 7h0m6-2h0m5 3h0m2 1h0m0 3h0m-1-2h0m-3 1h0m-3 2h0m-2 1h0m-1-2h0m-1 2h0m0-3h0m0 0h0m0-1h0m-3 2h0m0 6h0m2 1h0m5 0h0m1-3h0m1-1h0m2 0h0m2 3h0m-1 2h0m-3 1h0m-3 0h0m-2 0h0m-1 1h0m0-1h0m0-1h0m-3 7h0m3-2h0m2 3h0m2 1h0m5-2h0m3 2h0m3-4h0m-2 5h0m0 0h0m-2 0h0m-7 4h0m-5-2h0" stroke="#E46C66" stroke-width="2.80" stroke-linecap="round"/>
<path transform="scale(.5)" d="M684 332h0m1 0h0m8 2h0m-2 3h0m0-1h0m-1-1h0m-1 4h0m-2-4h0m-3 0h0m-3 0h0m-1 7h0m10-2h0m1 0h0m6 2h0m3 7h0m-4-1h0m-1-1h0m-8-2h0m4 11h0m1 1h0m6-2h0m-2 9h0m-4-1h0m-2 1h0m0-2h0m0-2h0m4 6h0m0 3h0m2-3h0m-56 5h0m-6 3h0m-1-1h0m-1 1h0m-3 4h0m0 1h0m1-1h0m1-1h0m1-2h0m3 0h0m6 4h0m1 3h0m-4 1h0m-2-1h0m-1 1h0m0 2h0m1 1h0m1 2h0m1-1h0m1-2h0m1 2h0m2-2h0m4 3h0m4 6h0m-5-2h0m-3-1h0m0 0h0m-1 1h0m0-2h0m-1 4h0m-4-4h0m4 7h0m7 0h0m3-1h0m1-1h0m1 3h0m-1 5h0m-4-1h0m0-2h0m0 0h0m-1 3h0m0-2h0m-3-1h0m3 5h0m4 0h0m1 1h0m2-1h0m9 3h0m14-1h0m-5 4h0m-2 1h0m-6 0h0m-1 0h0m-2 1h0m0-3h0m-1 4h0m-2 0h0m-5-3h0m9 4h0m1 1h0m3 0h0m4 2h0m0 0h0m6 6h0m-1-4h0m-3 1h0m-3 3h0m0-3h0" stroke="#E46C66" stroke-width="2.80" stroke-linecap="round"/>
<path transform="scale(.5)" d="M687 341h0m-10 10h0" stroke="#E46C66" stroke-width="2.80" stroke-linecap="round"/>
<path transform="scale(.5)" d="M659 329h0m-5 7h0m-1 0h0m-2 2h0m-6 1h0m0 0h0m0-1h0m9 4h0m1 0h0m2 1h0m1 1h0m9-1h0m-4 6h0m-1-4h0m-1 3h0m-2-1h0m-2-2h0m-6 2h0m5 4h0m1 1h0m1-2h0m1 0h0m1 3h0m0 0h0m13 5h0m-2-2h0m-1-1h0m-3 4h0m-1 0h0m0-1h0m-1 1h0m-2-2h0m0-2h0m-1 3h0m0-3h0m-3 0h0m-2 2h0m-2 0h0m5 3h0m0 1h0m4 0h0m4-1h0m8 8h0m-2-1h0m-3 2h0m0-2h0m0-2h0m-3 1h0m-1 1h0m-3-1h0m-2 0h0m-1 3h0m1 5h0m3-4h0m6 1h0m1 0h0m3 2h0m-4 4h0m-1 2h0m-2 0h0m-2-2h0m-1 0h0m-6-2h0m4 7h0m3 0h0m7-1h0m7 3h0m-2 2h0m-2 3h0m-3-3h0m-8 3h0m8 4h0m2 0h0m3-2h0m5 3h0m3 2h0m-1 3h0m-4 0h0m-2-1h0m-2 0h0m-4-1h0m-3 6h0m2-3h0m3 4h0m1-2h0m5 1h0m1 1h0m1 0h0m2 0h0m2 1h0m-1 3h0m0-3h0m-3 1h0m-6 1h0m-2 0h0m-2-2h0m0 7h0" stroke="#E46C66" stroke-width="2.80" stroke-linecap="round"/>
<path transform="scale(.5)" d="M658 483h0m10 4h0m-18 3h0" stroke="#4FBAC0" stroke-width="2.80" stroke-linecap="round"/>
<path transform="scale(.5)" d="M667 440h0m1 5h0m-7 8h0m1-1h0m4 0h0m3-2h0m17 3h0m-23 2h0m-4 1h0m-1 3h0m1 1h0m2 2h0m3-1h0m27 2h0m0 1h0m3-3h0m3 3h0m2-3h0m1 3h0m-8 3h0m0-1h0m-3 3h0m-3-2h0m-23 2h0m22 1h0m2 1h0m2 3h0m6-3h0m4 1h0m0 6h0m0-2h0m-6 1h0m-9 2h0m0-2h0m-1-1h0m2 4h0m1 4h0m2-1h0m1 0h0m1-1h0m4 1h0m5 4h0m-6-2h0m-4 3h0m-3-3h0m-50 14h0" stroke="#4FBAC0" stroke-width="2.80" stroke-linecap="round"/>
<path transform="scale(.5)" d="M685 457h0m4-2h0m0 4h0m3-2h0m2 7h0m-7-3h0m0-1h0m-5 5h0m0 1h0m3-1h0m3 3h0m4-3h0m1 4h0m4-4h0m1 0h0m2 6h0m-3-1h0m-5 2h0m-2 0h0m-20 0h0m-2 0h0m-2 0h0m-4 5h0m9-1h0m15 2h0m4-2h0m3-1h0m4 0h0m-7 6h0m-9 3h0m0 0h0m-9-3h0m-14 1h0m-9 1h0m39 6h0m6-3h0m-30 5h0m-5 3h0m0 4h0m9 1h0m2 13h0m-6-1h0m-1 1h0m-8-2h0m13 9h0m-14 2h0" stroke="#4FBAC0" stroke-width="2.80" stroke-linecap="round"/>
<path transform="scale(.5)" d="M633 484h0m1 1h0m-3 4h0m-3-1h0m-1 1h0m6 3h0m6 0h0m2 7h0m0-1h0m-4 1h0m-2-1h0m0 6h0m3 0h0m11-1h0m-11 6h0m-2-4h0m3 9h0m2-2h0m5 2h0m2-4h0m7 8h0m-3-3h0m-1 3h0m0-3h0m-7 2h0m3 5h0m0 1h0m4-2h0m7 1h0m3 7h0m-2-4h0m-1 4h0m-1-3h0m-2 1h0m-1 0h0m-4 2h0m-2-4h0m7 7h0m1-1h0m1 2h0m16 3h0m-5 3h0m-7-1h0m-2-2h0m-2 3h0m9 2h0" stroke="#4FBAC0" stroke-width="2.80" stroke-linecap="round"/>
<path transform="scale(.5)" d="M631 483h0m0 0h0m3 1h0m-2 2h0m-3-1h0m-4 8h0m3-1h0m5-1h0m2-1h0m0 1h0m3 0h0m0 8h0m0-2h0m-1 1h0m-1-3h0m-1 3h0m-3 2h0m7 3h0m5-2h0m0 1h0m-1 7h0m-1-4h0m-4 2h0m1 4h0m6 2h0m0 1h0m11 3h0m-5-2h0m-6 0h0m-1 3h0m3 2h0m2 3h0m3-2h0m5 2h0m1 6h0m-2-1h0m-1-1h0m-3 0h0m-4-1h0m6 4h0m2 2h0m15 5h0m-6 0h0m-1 2h0m0-1h0m4 7h0" stroke="#4FBAC0" stroke-width="2.80" stroke-linecap="round"/>
<rect x="0.5" y="0.5" width="519" height="422" fill="none" stroke="#000" stroke-width="1"/>
</svg></body></html>
